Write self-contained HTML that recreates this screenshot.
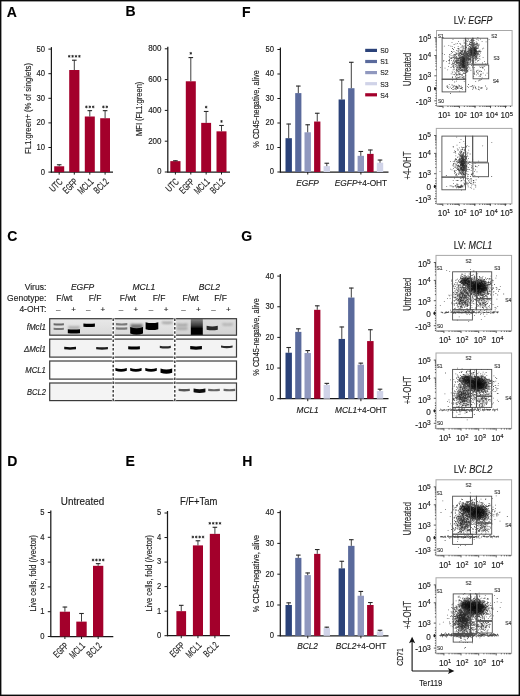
<!DOCTYPE html>
<html><head><meta charset="utf-8"><style>
html,body{margin:0;padding:0;background:#fff}
svg{display:block;will-change:transform}
text{font-family:"Liberation Sans",sans-serif;stroke:#1a1a1a;stroke-width:0.14px}
</style></head><body>
<svg width="520" height="696" viewBox="0 0 520 696">
<defs>
<filter id="bl" x="-20%" y="-50%" width="140%" height="200%"><feGaussianBlur stdDeviation="0.45"/></filter>
<filter id="bl2" x="-20%" y="-50%" width="140%" height="200%"><feGaussianBlur stdDeviation="0.9"/></filter>
</defs>
<rect width="520" height="696" fill="#fff"/>
<text x="6.8" y="16.5" font-size="14" font-weight="bold" fill="#000">A</text>
<text x="125.4" y="16.4" font-size="14" font-weight="bold" fill="#000">B</text>
<text x="242.1" y="16.5" font-size="14" font-weight="bold" fill="#000">F</text>
<text x="7.3" y="240.7" font-size="14" font-weight="bold" fill="#000">C</text>
<text x="241.3" y="240.6" font-size="14" font-weight="bold" fill="#000">G</text>
<text x="7.3" y="465.7" font-size="14" font-weight="bold" fill="#000">D</text>
<text x="125.5" y="465.6" font-size="14" font-weight="bold" fill="#000">E</text>
<text x="242.2" y="465.7" font-size="14" font-weight="bold" fill="#000">H</text>
<line x1="51.4" y1="47.1" x2="51.4" y2="172.6" stroke="#1a1a1a" stroke-width="1.25"/>
<line x1="48.4" y1="172.1" x2="51.4" y2="172.1" stroke="#1a1a1a" stroke-width="1"/>
<text x="45.1" y="174.5" font-size="8.3" text-anchor="end" fill="#1a1a1a" textLength="4.25" lengthAdjust="spacingAndGlyphs">0</text>
<line x1="48.4" y1="147.5" x2="51.4" y2="147.5" stroke="#1a1a1a" stroke-width="1"/>
<text x="45.1" y="149.9" font-size="8.3" text-anchor="end" fill="#1a1a1a" textLength="8.5" lengthAdjust="spacingAndGlyphs">10</text>
<line x1="48.4" y1="122.9" x2="51.4" y2="122.9" stroke="#1a1a1a" stroke-width="1"/>
<text x="45.1" y="125.3" font-size="8.3" text-anchor="end" fill="#1a1a1a" textLength="8.5" lengthAdjust="spacingAndGlyphs">20</text>
<line x1="48.4" y1="98.3" x2="51.4" y2="98.3" stroke="#1a1a1a" stroke-width="1"/>
<text x="45.1" y="100.7" font-size="8.3" text-anchor="end" fill="#1a1a1a" textLength="8.5" lengthAdjust="spacingAndGlyphs">30</text>
<line x1="48.4" y1="73.7" x2="51.4" y2="73.7" stroke="#1a1a1a" stroke-width="1"/>
<text x="45.1" y="76.1" font-size="8.3" text-anchor="end" fill="#1a1a1a" textLength="8.5" lengthAdjust="spacingAndGlyphs">40</text>
<line x1="48.4" y1="49.1" x2="51.4" y2="49.1" stroke="#1a1a1a" stroke-width="1"/>
<text x="45.1" y="51.5" font-size="8.3" text-anchor="end" fill="#1a1a1a" textLength="8.5" lengthAdjust="spacingAndGlyphs">50</text>
<line x1="50.9" y1="172.1" x2="113" y2="172.1" stroke="#1a1a1a" stroke-width="1.25"/>
<rect x="54.2" y="166.29" width="10" height="5.81" fill="#a3002b"/>
<line x1="59.2" y1="164.47" x2="59.2" y2="166.29" stroke="#2a2a2a" stroke-width="0.9"/>
<line x1="56.9" y1="164.77" x2="61.5" y2="164.77" stroke="#2a2a2a" stroke-width="1.1"/>
<line x1="59.2" y1="172.1" x2="59.2" y2="174.6" stroke="#1a1a1a" stroke-width="1"/>
<rect x="69.2" y="70.01" width="10.2" height="102.09" fill="#a3002b"/>
<line x1="74.3" y1="59.92" x2="74.3" y2="70.01" stroke="#2a2a2a" stroke-width="0.9"/>
<line x1="72" y1="60.22" x2="76.6" y2="60.22" stroke="#2a2a2a" stroke-width="1.1"/>
<line x1="74.3" y1="172.1" x2="74.3" y2="174.6" stroke="#1a1a1a" stroke-width="1"/>
<path d="M69.2 54.95v2.7M68.03 55.62l2.34 1.35M68.03 56.97l2.34 -1.35" stroke="#1a1a1a" stroke-width="0.75"/>
<path d="M72.6 54.95v2.7M71.43 55.62l2.34 1.35M71.43 56.97l2.34 -1.35" stroke="#1a1a1a" stroke-width="0.75"/>
<path d="M76 54.95v2.7M74.83 55.62l2.34 1.35M74.83 56.97l2.34 -1.35" stroke="#1a1a1a" stroke-width="0.75"/>
<path d="M79.4 54.95v2.7M78.23 55.62l2.34 1.35M78.23 56.97l2.34 -1.35" stroke="#1a1a1a" stroke-width="0.75"/>
<rect x="84.8" y="116.5" width="10" height="55.6" fill="#a3002b"/>
<line x1="89.8" y1="110.35" x2="89.8" y2="116.5" stroke="#2a2a2a" stroke-width="0.9"/>
<line x1="87.5" y1="110.65" x2="92.1" y2="110.65" stroke="#2a2a2a" stroke-width="1.1"/>
<line x1="89.8" y1="172.1" x2="89.8" y2="174.6" stroke="#1a1a1a" stroke-width="1"/>
<path d="M86.4 105.55v2.7M85.23 106.23l2.34 1.35M85.23 107.58l2.34 -1.35" stroke="#1a1a1a" stroke-width="0.75"/>
<path d="M89.8 105.55v2.7M88.63 106.23l2.34 1.35M88.63 107.58l2.34 -1.35" stroke="#1a1a1a" stroke-width="0.75"/>
<path d="M93.2 105.55v2.7M92.03 106.23l2.34 1.35M92.03 107.58l2.34 -1.35" stroke="#1a1a1a" stroke-width="0.75"/>
<rect x="100.2" y="118.23" width="9.8" height="53.87" fill="#a3002b"/>
<line x1="105.1" y1="110.35" x2="105.1" y2="118.23" stroke="#2a2a2a" stroke-width="0.9"/>
<line x1="102.8" y1="110.65" x2="107.4" y2="110.65" stroke="#2a2a2a" stroke-width="1.1"/>
<line x1="105.1" y1="172.1" x2="105.1" y2="174.6" stroke="#1a1a1a" stroke-width="1"/>
<path d="M103.4 105.55v2.7M102.23 106.23l2.34 1.35M102.23 107.58l2.34 -1.35" stroke="#1a1a1a" stroke-width="0.75"/>
<path d="M106.8 105.55v2.7M105.63 106.23l2.34 1.35M105.63 107.58l2.34 -1.35" stroke="#1a1a1a" stroke-width="0.75"/>
<text x="63.4" y="182.4" font-size="9.8" text-anchor="end" fill="#1a1a1a" transform="rotate(-45 63.4 182.4)" textLength="14.2" lengthAdjust="spacingAndGlyphs">UTC</text>
<text x="78.5" y="182.4" font-size="9.8" text-anchor="end" fill="#1a1a1a" transform="rotate(-45 78.5 182.4)" textLength="16.6" lengthAdjust="spacingAndGlyphs">EGFP</text>
<text x="94" y="182.4" font-size="9.8" text-anchor="end" fill="#1a1a1a" transform="rotate(-45 94 182.4)" textLength="17.6" lengthAdjust="spacingAndGlyphs">MCL1</text>
<text x="109.3" y="182.4" font-size="9.8" text-anchor="end" fill="#1a1a1a" transform="rotate(-45 109.3 182.4)" textLength="16.6" lengthAdjust="spacingAndGlyphs">BCL2</text>
<text x="31.2" y="108.5" font-size="9" text-anchor="middle" fill="#1a1a1a" transform="rotate(-90 31.2 108.5)" textLength="91" lengthAdjust="spacingAndGlyphs">FL1:green+ (% of singlets)</text>
<line x1="167.8" y1="46.8" x2="167.8" y2="172.5" stroke="#1a1a1a" stroke-width="1.25"/>
<line x1="164.8" y1="172" x2="167.8" y2="172" stroke="#1a1a1a" stroke-width="1"/>
<text x="161.5" y="174.4" font-size="8.3" text-anchor="end" fill="#1a1a1a" textLength="4.25" lengthAdjust="spacingAndGlyphs">0</text>
<line x1="164.8" y1="141.2" x2="167.8" y2="141.2" stroke="#1a1a1a" stroke-width="1"/>
<text x="161.5" y="143.6" font-size="8.3" text-anchor="end" fill="#1a1a1a" textLength="13.35" lengthAdjust="spacingAndGlyphs">200</text>
<line x1="164.8" y1="110.4" x2="167.8" y2="110.4" stroke="#1a1a1a" stroke-width="1"/>
<text x="161.5" y="112.8" font-size="8.3" text-anchor="end" fill="#1a1a1a" textLength="13.35" lengthAdjust="spacingAndGlyphs">400</text>
<line x1="164.8" y1="79.6" x2="167.8" y2="79.6" stroke="#1a1a1a" stroke-width="1"/>
<text x="161.5" y="82" font-size="8.3" text-anchor="end" fill="#1a1a1a" textLength="13.35" lengthAdjust="spacingAndGlyphs">600</text>
<line x1="164.8" y1="48.8" x2="167.8" y2="48.8" stroke="#1a1a1a" stroke-width="1"/>
<text x="161.5" y="51.2" font-size="8.3" text-anchor="end" fill="#1a1a1a" textLength="13.35" lengthAdjust="spacingAndGlyphs">800</text>
<line x1="167.3" y1="172" x2="230" y2="172" stroke="#1a1a1a" stroke-width="1.25"/>
<rect x="170.3" y="161.14" width="10.2" height="10.86" fill="#a3002b"/>
<line x1="175.4" y1="160.45" x2="175.4" y2="161.14" stroke="#2a2a2a" stroke-width="0.9"/>
<line x1="173.1" y1="160.75" x2="177.7" y2="160.75" stroke="#2a2a2a" stroke-width="1.1"/>
<line x1="175.4" y1="172" x2="175.4" y2="174.5" stroke="#1a1a1a" stroke-width="1"/>
<rect x="185.8" y="81.29" width="10" height="90.71" fill="#a3002b"/>
<line x1="190.8" y1="57.27" x2="190.8" y2="81.29" stroke="#2a2a2a" stroke-width="0.9"/>
<line x1="188.5" y1="57.57" x2="193.1" y2="57.57" stroke="#2a2a2a" stroke-width="1.1"/>
<line x1="190.8" y1="172" x2="190.8" y2="174.5" stroke="#1a1a1a" stroke-width="1"/>
<path d="M190.8 51.95v2.7M189.63 52.62l2.34 1.35M189.63 53.97l2.34 -1.35" stroke="#1a1a1a" stroke-width="0.75"/>
<rect x="201.2" y="122.87" width="9.9" height="49.13" fill="#a3002b"/>
<line x1="206.15" y1="111.17" x2="206.15" y2="122.87" stroke="#2a2a2a" stroke-width="0.9"/>
<line x1="203.85" y1="111.47" x2="208.45" y2="111.47" stroke="#2a2a2a" stroke-width="1.1"/>
<line x1="206.15" y1="172" x2="206.15" y2="174.5" stroke="#1a1a1a" stroke-width="1"/>
<path d="M206.15 105.75v2.7M204.98 106.42l2.34 1.35M204.98 107.77l2.34 -1.35" stroke="#1a1a1a" stroke-width="0.75"/>
<rect x="216.5" y="131.34" width="10" height="40.66" fill="#a3002b"/>
<line x1="221.5" y1="125.18" x2="221.5" y2="131.34" stroke="#2a2a2a" stroke-width="0.9"/>
<line x1="219.2" y1="125.48" x2="223.8" y2="125.48" stroke="#2a2a2a" stroke-width="1.1"/>
<line x1="221.5" y1="172" x2="221.5" y2="174.5" stroke="#1a1a1a" stroke-width="1"/>
<path d="M221.5 120.05v2.7M220.33 120.73l2.34 1.35M220.33 122.08l2.34 -1.35" stroke="#1a1a1a" stroke-width="0.75"/>
<text x="179.6" y="182.4" font-size="9.8" text-anchor="end" fill="#1a1a1a" transform="rotate(-45 179.6 182.4)" textLength="14.2" lengthAdjust="spacingAndGlyphs">UTC</text>
<text x="195" y="182.4" font-size="9.8" text-anchor="end" fill="#1a1a1a" transform="rotate(-45 195 182.4)" textLength="16.6" lengthAdjust="spacingAndGlyphs">EGFP</text>
<text x="210.35" y="182.4" font-size="9.8" text-anchor="end" fill="#1a1a1a" transform="rotate(-45 210.35 182.4)" textLength="17.6" lengthAdjust="spacingAndGlyphs">MCL1</text>
<text x="225.7" y="182.4" font-size="9.8" text-anchor="end" fill="#1a1a1a" transform="rotate(-45 225.7 182.4)" textLength="16.6" lengthAdjust="spacingAndGlyphs">BCL2</text>
<text x="142.2" y="108.8" font-size="9" text-anchor="middle" fill="#1a1a1a" transform="rotate(-90 142.2 108.8)" textLength="54.3" lengthAdjust="spacingAndGlyphs">MFI (FL1:green)</text>
<text x="82.5" y="505.2" font-size="10" text-anchor="middle" fill="#1a1a1a" textLength="43.4" lengthAdjust="spacingAndGlyphs">Untreated</text>
<line x1="50.8" y1="510.5" x2="50.8" y2="637" stroke="#1a1a1a" stroke-width="1.25"/>
<line x1="47.8" y1="636.5" x2="50.8" y2="636.5" stroke="#1a1a1a" stroke-width="1"/>
<text x="44.5" y="638.9" font-size="8.3" text-anchor="end" fill="#1a1a1a" textLength="4.25" lengthAdjust="spacingAndGlyphs">0</text>
<line x1="47.8" y1="611.7" x2="50.8" y2="611.7" stroke="#1a1a1a" stroke-width="1"/>
<text x="44.5" y="614.1" font-size="8.3" text-anchor="end" fill="#1a1a1a" textLength="4.25" lengthAdjust="spacingAndGlyphs">1</text>
<line x1="47.8" y1="586.9" x2="50.8" y2="586.9" stroke="#1a1a1a" stroke-width="1"/>
<text x="44.5" y="589.3" font-size="8.3" text-anchor="end" fill="#1a1a1a" textLength="4.25" lengthAdjust="spacingAndGlyphs">2</text>
<line x1="47.8" y1="562.1" x2="50.8" y2="562.1" stroke="#1a1a1a" stroke-width="1"/>
<text x="44.5" y="564.5" font-size="8.3" text-anchor="end" fill="#1a1a1a" textLength="4.25" lengthAdjust="spacingAndGlyphs">3</text>
<line x1="47.8" y1="537.3" x2="50.8" y2="537.3" stroke="#1a1a1a" stroke-width="1"/>
<text x="44.5" y="539.7" font-size="8.3" text-anchor="end" fill="#1a1a1a" textLength="4.25" lengthAdjust="spacingAndGlyphs">4</text>
<line x1="47.8" y1="512.5" x2="50.8" y2="512.5" stroke="#1a1a1a" stroke-width="1"/>
<text x="44.5" y="514.9" font-size="8.3" text-anchor="end" fill="#1a1a1a" textLength="4.25" lengthAdjust="spacingAndGlyphs">5</text>
<line x1="50.3" y1="636.5" x2="113.3" y2="636.5" stroke="#1a1a1a" stroke-width="1.25"/>
<rect x="59.8" y="611.7" width="10.2" height="24.8" fill="#a3002b"/>
<line x1="64.9" y1="606.74" x2="64.9" y2="611.7" stroke="#2a2a2a" stroke-width="0.9"/>
<line x1="62.6" y1="607.04" x2="67.2" y2="607.04" stroke="#2a2a2a" stroke-width="1.1"/>
<line x1="64.9" y1="636.5" x2="64.9" y2="639" stroke="#1a1a1a" stroke-width="1"/>
<rect x="76.3" y="621.62" width="10.4" height="14.88" fill="#a3002b"/>
<line x1="81.5" y1="613.19" x2="81.5" y2="621.62" stroke="#2a2a2a" stroke-width="0.9"/>
<line x1="79.2" y1="613.49" x2="83.8" y2="613.49" stroke="#2a2a2a" stroke-width="1.1"/>
<line x1="81.5" y1="636.5" x2="81.5" y2="639" stroke="#1a1a1a" stroke-width="1"/>
<rect x="93" y="565.82" width="10.3" height="70.68" fill="#a3002b"/>
<line x1="98.15" y1="563.34" x2="98.15" y2="565.82" stroke="#2a2a2a" stroke-width="0.9"/>
<line x1="95.85" y1="563.64" x2="100.45" y2="563.64" stroke="#2a2a2a" stroke-width="1.1"/>
<line x1="98.15" y1="636.5" x2="98.15" y2="639" stroke="#1a1a1a" stroke-width="1"/>
<path d="M93.05 558.65v2.7M91.88 559.33l2.34 1.35M91.88 560.67l2.34 -1.35" stroke="#1a1a1a" stroke-width="0.75"/>
<path d="M96.45 558.65v2.7M95.28 559.33l2.34 1.35M95.28 560.67l2.34 -1.35" stroke="#1a1a1a" stroke-width="0.75"/>
<path d="M99.85 558.65v2.7M98.68 559.33l2.34 1.35M98.68 560.67l2.34 -1.35" stroke="#1a1a1a" stroke-width="0.75"/>
<path d="M103.25 558.65v2.7M102.08 559.33l2.34 1.35M102.08 560.67l2.34 -1.35" stroke="#1a1a1a" stroke-width="0.75"/>
<text x="69.1" y="646.5" font-size="9.8" text-anchor="end" fill="#1a1a1a" transform="rotate(-45 69.1 646.5)" textLength="16.6" lengthAdjust="spacingAndGlyphs">EGFP</text>
<text x="85.7" y="646.5" font-size="9.8" text-anchor="end" fill="#1a1a1a" transform="rotate(-45 85.7 646.5)" textLength="17.6" lengthAdjust="spacingAndGlyphs">MCL1</text>
<text x="102.35" y="646.5" font-size="9.8" text-anchor="end" fill="#1a1a1a" transform="rotate(-45 102.35 646.5)" textLength="16.6" lengthAdjust="spacingAndGlyphs">BCL2</text>
<text x="36.2" y="573.3" font-size="9" text-anchor="middle" fill="#1a1a1a" transform="rotate(-90 36.2 573.3)" textLength="76.6" lengthAdjust="spacingAndGlyphs">Live cells, fold (/vector)</text>
<text x="198.7" y="504.5" font-size="10" text-anchor="middle" fill="#1a1a1a" textLength="37.5" lengthAdjust="spacingAndGlyphs">F/F+Tam</text>
<line x1="167.5" y1="511" x2="167.5" y2="636.2" stroke="#1a1a1a" stroke-width="1.25"/>
<line x1="164.5" y1="635.7" x2="167.5" y2="635.7" stroke="#1a1a1a" stroke-width="1"/>
<text x="161.2" y="638.1" font-size="8.3" text-anchor="end" fill="#1a1a1a" textLength="4.25" lengthAdjust="spacingAndGlyphs">0</text>
<line x1="164.5" y1="611.16" x2="167.5" y2="611.16" stroke="#1a1a1a" stroke-width="1"/>
<text x="161.2" y="613.56" font-size="8.3" text-anchor="end" fill="#1a1a1a" textLength="4.25" lengthAdjust="spacingAndGlyphs">1</text>
<line x1="164.5" y1="586.62" x2="167.5" y2="586.62" stroke="#1a1a1a" stroke-width="1"/>
<text x="161.2" y="589.02" font-size="8.3" text-anchor="end" fill="#1a1a1a" textLength="4.25" lengthAdjust="spacingAndGlyphs">2</text>
<line x1="164.5" y1="562.08" x2="167.5" y2="562.08" stroke="#1a1a1a" stroke-width="1"/>
<text x="161.2" y="564.48" font-size="8.3" text-anchor="end" fill="#1a1a1a" textLength="4.25" lengthAdjust="spacingAndGlyphs">3</text>
<line x1="164.5" y1="537.54" x2="167.5" y2="537.54" stroke="#1a1a1a" stroke-width="1"/>
<text x="161.2" y="539.94" font-size="8.3" text-anchor="end" fill="#1a1a1a" textLength="4.25" lengthAdjust="spacingAndGlyphs">4</text>
<line x1="164.5" y1="513" x2="167.5" y2="513" stroke="#1a1a1a" stroke-width="1"/>
<text x="161.2" y="515.4" font-size="8.3" text-anchor="end" fill="#1a1a1a" textLength="4.25" lengthAdjust="spacingAndGlyphs">5</text>
<line x1="167" y1="635.7" x2="229.9" y2="635.7" stroke="#1a1a1a" stroke-width="1.25"/>
<rect x="176.4" y="611.16" width="9.7" height="24.54" fill="#a3002b"/>
<line x1="181.25" y1="605.03" x2="181.25" y2="611.16" stroke="#2a2a2a" stroke-width="0.9"/>
<line x1="178.95" y1="605.33" x2="183.55" y2="605.33" stroke="#2a2a2a" stroke-width="1.1"/>
<line x1="181.25" y1="635.7" x2="181.25" y2="638.2" stroke="#1a1a1a" stroke-width="1"/>
<rect x="192.9" y="545.39" width="10.1" height="90.31" fill="#a3002b"/>
<line x1="197.95" y1="540.48" x2="197.95" y2="545.39" stroke="#2a2a2a" stroke-width="0.9"/>
<line x1="195.65" y1="540.78" x2="200.25" y2="540.78" stroke="#2a2a2a" stroke-width="1.1"/>
<line x1="197.95" y1="635.7" x2="197.95" y2="638.2" stroke="#1a1a1a" stroke-width="1"/>
<path d="M192.85 535.65v2.7M191.68 536.33l2.34 1.35M191.68 537.67l2.34 -1.35" stroke="#1a1a1a" stroke-width="0.75"/>
<path d="M196.25 535.65v2.7M195.08 536.33l2.34 1.35M195.08 537.67l2.34 -1.35" stroke="#1a1a1a" stroke-width="0.75"/>
<path d="M199.65 535.65v2.7M198.48 536.33l2.34 1.35M198.48 537.67l2.34 -1.35" stroke="#1a1a1a" stroke-width="0.75"/>
<path d="M203.05 535.65v2.7M201.88 536.33l2.34 1.35M201.88 537.67l2.34 -1.35" stroke="#1a1a1a" stroke-width="0.75"/>
<rect x="209.8" y="533.86" width="10.2" height="101.84" fill="#a3002b"/>
<line x1="214.9" y1="526.99" x2="214.9" y2="533.86" stroke="#2a2a2a" stroke-width="0.9"/>
<line x1="212.6" y1="527.29" x2="217.2" y2="527.29" stroke="#2a2a2a" stroke-width="1.1"/>
<line x1="214.9" y1="635.7" x2="214.9" y2="638.2" stroke="#1a1a1a" stroke-width="1"/>
<path d="M209.8 521.95v2.7M208.63 522.62l2.34 1.35M208.63 523.97l2.34 -1.35" stroke="#1a1a1a" stroke-width="0.75"/>
<path d="M213.2 521.95v2.7M212.03 522.62l2.34 1.35M212.03 523.97l2.34 -1.35" stroke="#1a1a1a" stroke-width="0.75"/>
<path d="M216.6 521.95v2.7M215.43 522.62l2.34 1.35M215.43 523.97l2.34 -1.35" stroke="#1a1a1a" stroke-width="0.75"/>
<path d="M220 521.95v2.7M218.83 522.62l2.34 1.35M218.83 523.97l2.34 -1.35" stroke="#1a1a1a" stroke-width="0.75"/>
<text x="185.45" y="646" font-size="9.8" text-anchor="end" fill="#1a1a1a" transform="rotate(-45 185.45 646)" textLength="16.6" lengthAdjust="spacingAndGlyphs">EGFP</text>
<text x="202.15" y="646" font-size="9.8" text-anchor="end" fill="#1a1a1a" transform="rotate(-45 202.15 646)" textLength="17.6" lengthAdjust="spacingAndGlyphs">MCL1</text>
<text x="219.1" y="646" font-size="9.8" text-anchor="end" fill="#1a1a1a" transform="rotate(-45 219.1 646)" textLength="16.6" lengthAdjust="spacingAndGlyphs">BCL2</text>
<text x="152.3" y="573.3" font-size="9" text-anchor="middle" fill="#1a1a1a" transform="rotate(-90 152.3 573.3)" textLength="76.6" lengthAdjust="spacingAndGlyphs">Live cells, fold (/vector)</text>
<line x1="280.4" y1="47.5" x2="280.4" y2="172.5" stroke="#1a1a1a" stroke-width="1.25"/>
<line x1="277.4" y1="172" x2="280.4" y2="172" stroke="#1a1a1a" stroke-width="1"/>
<text x="274.1" y="174.4" font-size="8.3" text-anchor="end" fill="#1a1a1a" textLength="4.25" lengthAdjust="spacingAndGlyphs">0</text>
<line x1="277.4" y1="147.5" x2="280.4" y2="147.5" stroke="#1a1a1a" stroke-width="1"/>
<text x="274.1" y="149.9" font-size="8.3" text-anchor="end" fill="#1a1a1a" textLength="8.5" lengthAdjust="spacingAndGlyphs">10</text>
<line x1="277.4" y1="123" x2="280.4" y2="123" stroke="#1a1a1a" stroke-width="1"/>
<text x="274.1" y="125.4" font-size="8.3" text-anchor="end" fill="#1a1a1a" textLength="8.5" lengthAdjust="spacingAndGlyphs">20</text>
<line x1="277.4" y1="98.5" x2="280.4" y2="98.5" stroke="#1a1a1a" stroke-width="1"/>
<text x="274.1" y="100.9" font-size="8.3" text-anchor="end" fill="#1a1a1a" textLength="8.5" lengthAdjust="spacingAndGlyphs">30</text>
<line x1="277.4" y1="74" x2="280.4" y2="74" stroke="#1a1a1a" stroke-width="1"/>
<text x="274.1" y="76.4" font-size="8.3" text-anchor="end" fill="#1a1a1a" textLength="8.5" lengthAdjust="spacingAndGlyphs">40</text>
<line x1="277.4" y1="49.5" x2="280.4" y2="49.5" stroke="#1a1a1a" stroke-width="1"/>
<text x="274.1" y="51.9" font-size="8.3" text-anchor="end" fill="#1a1a1a" textLength="8.5" lengthAdjust="spacingAndGlyphs">50</text>
<line x1="279.9" y1="172" x2="388.5" y2="172" stroke="#1a1a1a" stroke-width="1.25"/>
<rect x="285.5" y="138.19" width="6.4" height="33.81" fill="#2b4279"/>
<line x1="288.7" y1="123.73" x2="288.7" y2="138.19" stroke="#2a2a2a" stroke-width="0.9"/>
<line x1="286.4" y1="124.03" x2="291" y2="124.03" stroke="#2a2a2a" stroke-width="1.1"/>
<rect x="295.2" y="93.11" width="6.2" height="78.89" fill="#5a6a9c"/>
<line x1="298.3" y1="85.76" x2="298.3" y2="93.11" stroke="#2a2a2a" stroke-width="0.9"/>
<line x1="296" y1="86.06" x2="300.6" y2="86.06" stroke="#2a2a2a" stroke-width="1.1"/>
<rect x="304.5" y="132.31" width="6.4" height="39.69" fill="#9098bf"/>
<line x1="307.7" y1="124.47" x2="307.7" y2="132.31" stroke="#2a2a2a" stroke-width="0.9"/>
<line x1="305.4" y1="124.77" x2="310" y2="124.77" stroke="#2a2a2a" stroke-width="1.1"/>
<rect x="314.1" y="121.53" width="6.3" height="50.47" fill="#a3002b"/>
<line x1="317.25" y1="112.95" x2="317.25" y2="121.53" stroke="#2a2a2a" stroke-width="0.9"/>
<line x1="314.95" y1="113.25" x2="319.55" y2="113.25" stroke="#2a2a2a" stroke-width="1.1"/>
<rect x="323.6" y="166.12" width="6.4" height="5.88" fill="#d0d3e8"/>
<line x1="326.8" y1="162.94" x2="326.8" y2="166.12" stroke="#2a2a2a" stroke-width="0.9"/>
<line x1="324.5" y1="163.24" x2="329.1" y2="163.24" stroke="#2a2a2a" stroke-width="1.1"/>
<line x1="307.75" y1="172" x2="307.75" y2="174.5" stroke="#1a1a1a" stroke-width="1"/>
<rect x="338.6" y="99.48" width="6.4" height="72.52" fill="#2b4279"/>
<line x1="341.8" y1="79.63" x2="341.8" y2="99.48" stroke="#2a2a2a" stroke-width="0.9"/>
<line x1="339.5" y1="79.93" x2="344.1" y2="79.93" stroke="#2a2a2a" stroke-width="1.1"/>
<rect x="348.1" y="88.21" width="6.4" height="83.79" fill="#5a6a9c"/>
<line x1="351.3" y1="61.99" x2="351.3" y2="88.21" stroke="#2a2a2a" stroke-width="0.9"/>
<line x1="349" y1="62.29" x2="353.6" y2="62.29" stroke="#2a2a2a" stroke-width="1.1"/>
<rect x="357.6" y="155.83" width="6.4" height="16.17" fill="#9098bf"/>
<line x1="360.8" y1="151.18" x2="360.8" y2="155.83" stroke="#2a2a2a" stroke-width="0.9"/>
<line x1="358.5" y1="151.48" x2="363.1" y2="151.48" stroke="#2a2a2a" stroke-width="1.1"/>
<rect x="367.1" y="153.87" width="6.5" height="18.13" fill="#a3002b"/>
<line x1="370.35" y1="149.7" x2="370.35" y2="153.87" stroke="#2a2a2a" stroke-width="0.9"/>
<line x1="368.05" y1="150" x2="372.65" y2="150" stroke="#2a2a2a" stroke-width="1.1"/>
<rect x="376.8" y="162.69" width="6.4" height="9.31" fill="#d0d3e8"/>
<line x1="380" y1="159.75" x2="380" y2="162.69" stroke="#2a2a2a" stroke-width="0.9"/>
<line x1="377.7" y1="160.05" x2="382.3" y2="160.05" stroke="#2a2a2a" stroke-width="1.1"/>
<line x1="360.9" y1="172" x2="360.9" y2="174.5" stroke="#1a1a1a" stroke-width="1"/>
<text x="307.6" y="185.5" font-size="8.3" text-anchor="middle" font-style="italic" fill="#1a1a1a">EGFP</text>
<text x="361" y="185.5" font-size="8.3" text-anchor="middle" fill="#1a1a1a"><tspan font-style="italic">EGFP</tspan>+4-OHT</text>
<text x="259.2" y="108.9" font-size="9" text-anchor="middle" fill="#1a1a1a" transform="rotate(-90 259.2 108.9)" textLength="77.5" lengthAdjust="spacingAndGlyphs">% CD45-negative, alive</text>
<line x1="280.3" y1="274.1" x2="280.3" y2="399.2" stroke="#1a1a1a" stroke-width="1.25"/>
<line x1="277.3" y1="398.7" x2="280.3" y2="398.7" stroke="#1a1a1a" stroke-width="1"/>
<text x="274" y="401.1" font-size="8.3" text-anchor="end" fill="#1a1a1a" textLength="4.25" lengthAdjust="spacingAndGlyphs">0</text>
<line x1="277.3" y1="368.05" x2="280.3" y2="368.05" stroke="#1a1a1a" stroke-width="1"/>
<text x="274" y="370.45" font-size="8.3" text-anchor="end" fill="#1a1a1a" textLength="8.5" lengthAdjust="spacingAndGlyphs">10</text>
<line x1="277.3" y1="337.4" x2="280.3" y2="337.4" stroke="#1a1a1a" stroke-width="1"/>
<text x="274" y="339.8" font-size="8.3" text-anchor="end" fill="#1a1a1a" textLength="8.5" lengthAdjust="spacingAndGlyphs">20</text>
<line x1="277.3" y1="306.75" x2="280.3" y2="306.75" stroke="#1a1a1a" stroke-width="1"/>
<text x="274" y="309.15" font-size="8.3" text-anchor="end" fill="#1a1a1a" textLength="8.5" lengthAdjust="spacingAndGlyphs">30</text>
<line x1="277.3" y1="276.1" x2="280.3" y2="276.1" stroke="#1a1a1a" stroke-width="1"/>
<text x="274" y="278.5" font-size="8.3" text-anchor="end" fill="#1a1a1a" textLength="8.5" lengthAdjust="spacingAndGlyphs">40</text>
<line x1="279.8" y1="398.7" x2="388.5" y2="398.7" stroke="#1a1a1a" stroke-width="1.25"/>
<rect x="285.5" y="352.72" width="6.4" height="45.98" fill="#2b4279"/>
<line x1="288.7" y1="347.21" x2="288.7" y2="352.72" stroke="#2a2a2a" stroke-width="0.9"/>
<line x1="286.4" y1="347.51" x2="291" y2="347.51" stroke="#2a2a2a" stroke-width="1.1"/>
<rect x="295.2" y="331.88" width="6.2" height="66.82" fill="#5a6a9c"/>
<line x1="298.3" y1="328.51" x2="298.3" y2="331.88" stroke="#2a2a2a" stroke-width="0.9"/>
<line x1="296" y1="328.81" x2="300.6" y2="328.81" stroke="#2a2a2a" stroke-width="1.1"/>
<rect x="304.5" y="353.03" width="6.4" height="45.67" fill="#9098bf"/>
<line x1="307.7" y1="350.27" x2="307.7" y2="353.03" stroke="#2a2a2a" stroke-width="0.9"/>
<line x1="305.4" y1="350.57" x2="310" y2="350.57" stroke="#2a2a2a" stroke-width="1.1"/>
<rect x="314.1" y="309.81" width="6.3" height="88.88" fill="#a3002b"/>
<line x1="317.25" y1="305.52" x2="317.25" y2="309.81" stroke="#2a2a2a" stroke-width="0.9"/>
<line x1="314.95" y1="305.82" x2="319.55" y2="305.82" stroke="#2a2a2a" stroke-width="1.1"/>
<rect x="323.6" y="384.91" width="6.4" height="13.79" fill="#d0d3e8"/>
<line x1="326.8" y1="383.07" x2="326.8" y2="384.91" stroke="#2a2a2a" stroke-width="0.9"/>
<line x1="324.5" y1="383.37" x2="329.1" y2="383.37" stroke="#2a2a2a" stroke-width="1.1"/>
<line x1="307.75" y1="398.7" x2="307.75" y2="401.2" stroke="#1a1a1a" stroke-width="1"/>
<rect x="338.6" y="338.93" width="6.4" height="59.77" fill="#2b4279"/>
<line x1="341.8" y1="326.67" x2="341.8" y2="338.93" stroke="#2a2a2a" stroke-width="0.9"/>
<line x1="339.5" y1="326.97" x2="344.1" y2="326.97" stroke="#2a2a2a" stroke-width="1.1"/>
<rect x="348.1" y="297.56" width="6.4" height="101.14" fill="#5a6a9c"/>
<line x1="351.3" y1="287.75" x2="351.3" y2="297.56" stroke="#2a2a2a" stroke-width="0.9"/>
<line x1="349" y1="288.05" x2="353.6" y2="288.05" stroke="#2a2a2a" stroke-width="1.1"/>
<rect x="357.6" y="364.68" width="6.4" height="34.02" fill="#9098bf"/>
<line x1="360.8" y1="362.84" x2="360.8" y2="364.68" stroke="#2a2a2a" stroke-width="0.9"/>
<line x1="358.5" y1="363.14" x2="363.1" y2="363.14" stroke="#2a2a2a" stroke-width="1.1"/>
<rect x="367.1" y="341.08" width="6.5" height="57.62" fill="#a3002b"/>
<line x1="370.35" y1="329.43" x2="370.35" y2="341.08" stroke="#2a2a2a" stroke-width="0.9"/>
<line x1="368.05" y1="329.73" x2="372.65" y2="329.73" stroke="#2a2a2a" stroke-width="1.1"/>
<rect x="376.8" y="391.04" width="6.4" height="7.66" fill="#d0d3e8"/>
<line x1="380" y1="388.89" x2="380" y2="391.04" stroke="#2a2a2a" stroke-width="0.9"/>
<line x1="377.7" y1="389.19" x2="382.3" y2="389.19" stroke="#2a2a2a" stroke-width="1.1"/>
<line x1="360.9" y1="398.7" x2="360.9" y2="401.2" stroke="#1a1a1a" stroke-width="1"/>
<text x="307.6" y="413.3" font-size="8.3" text-anchor="middle" font-style="italic" fill="#1a1a1a">MCL1</text>
<text x="361" y="413.3" font-size="8.3" text-anchor="middle" fill="#1a1a1a"><tspan font-style="italic">MCL1</tspan>+4-OHT</text>
<text x="259.2" y="336.9" font-size="9" text-anchor="middle" fill="#1a1a1a" transform="rotate(-90 259.2 336.9)" textLength="77.5" lengthAdjust="spacingAndGlyphs">% CD45-negative, alive</text>
<line x1="280.3" y1="510.6" x2="280.3" y2="636.3" stroke="#1a1a1a" stroke-width="1.25"/>
<line x1="277.3" y1="635.8" x2="280.3" y2="635.8" stroke="#1a1a1a" stroke-width="1"/>
<text x="274" y="638.2" font-size="8.3" text-anchor="end" fill="#1a1a1a" textLength="4.25" lengthAdjust="spacingAndGlyphs">0</text>
<line x1="277.3" y1="605" x2="280.3" y2="605" stroke="#1a1a1a" stroke-width="1"/>
<text x="274" y="607.4" font-size="8.3" text-anchor="end" fill="#1a1a1a" textLength="8.5" lengthAdjust="spacingAndGlyphs">10</text>
<line x1="277.3" y1="574.2" x2="280.3" y2="574.2" stroke="#1a1a1a" stroke-width="1"/>
<text x="274" y="576.6" font-size="8.3" text-anchor="end" fill="#1a1a1a" textLength="8.5" lengthAdjust="spacingAndGlyphs">20</text>
<line x1="277.3" y1="543.4" x2="280.3" y2="543.4" stroke="#1a1a1a" stroke-width="1"/>
<text x="274" y="545.8" font-size="8.3" text-anchor="end" fill="#1a1a1a" textLength="8.5" lengthAdjust="spacingAndGlyphs">30</text>
<line x1="277.3" y1="512.6" x2="280.3" y2="512.6" stroke="#1a1a1a" stroke-width="1"/>
<text x="274" y="515" font-size="8.3" text-anchor="end" fill="#1a1a1a" textLength="8.5" lengthAdjust="spacingAndGlyphs">40</text>
<line x1="279.8" y1="635.8" x2="388.5" y2="635.8" stroke="#1a1a1a" stroke-width="1.25"/>
<rect x="285.5" y="605" width="6.4" height="30.8" fill="#2b4279"/>
<line x1="288.7" y1="602.54" x2="288.7" y2="605" stroke="#2a2a2a" stroke-width="0.9"/>
<line x1="286.4" y1="602.84" x2="291" y2="602.84" stroke="#2a2a2a" stroke-width="1.1"/>
<rect x="295.2" y="557.88" width="6.2" height="77.92" fill="#5a6a9c"/>
<line x1="298.3" y1="554.8" x2="298.3" y2="557.88" stroke="#2a2a2a" stroke-width="0.9"/>
<line x1="296" y1="555.1" x2="300.6" y2="555.1" stroke="#2a2a2a" stroke-width="1.1"/>
<rect x="304.5" y="575.12" width="6.4" height="60.68" fill="#9098bf"/>
<line x1="307.7" y1="572.66" x2="307.7" y2="575.12" stroke="#2a2a2a" stroke-width="0.9"/>
<line x1="305.4" y1="572.96" x2="310" y2="572.96" stroke="#2a2a2a" stroke-width="1.1"/>
<rect x="314.1" y="553.87" width="6.3" height="81.93" fill="#a3002b"/>
<line x1="317.25" y1="549.25" x2="317.25" y2="553.87" stroke="#2a2a2a" stroke-width="0.9"/>
<line x1="314.95" y1="549.55" x2="319.55" y2="549.55" stroke="#2a2a2a" stroke-width="1.1"/>
<rect x="323.6" y="628.1" width="6.4" height="7.7" fill="#d0d3e8"/>
<line x1="326.8" y1="626.87" x2="326.8" y2="628.1" stroke="#2a2a2a" stroke-width="0.9"/>
<line x1="324.5" y1="627.17" x2="329.1" y2="627.17" stroke="#2a2a2a" stroke-width="1.1"/>
<line x1="307.75" y1="635.8" x2="307.75" y2="638.3" stroke="#1a1a1a" stroke-width="1"/>
<rect x="338.6" y="568.35" width="6.4" height="67.45" fill="#2b4279"/>
<line x1="341.8" y1="560.96" x2="341.8" y2="568.35" stroke="#2a2a2a" stroke-width="0.9"/>
<line x1="339.5" y1="561.26" x2="344.1" y2="561.26" stroke="#2a2a2a" stroke-width="1.1"/>
<rect x="348.1" y="545.86" width="6.4" height="89.94" fill="#5a6a9c"/>
<line x1="351.3" y1="539.4" x2="351.3" y2="545.86" stroke="#2a2a2a" stroke-width="0.9"/>
<line x1="349" y1="539.7" x2="353.6" y2="539.7" stroke="#2a2a2a" stroke-width="1.1"/>
<rect x="357.6" y="595.76" width="6.4" height="40.04" fill="#9098bf"/>
<line x1="360.8" y1="591.14" x2="360.8" y2="595.76" stroke="#2a2a2a" stroke-width="0.9"/>
<line x1="358.5" y1="591.44" x2="363.1" y2="591.44" stroke="#2a2a2a" stroke-width="1.1"/>
<rect x="367.1" y="605" width="6.5" height="30.8" fill="#a3002b"/>
<line x1="370.35" y1="602.23" x2="370.35" y2="605" stroke="#2a2a2a" stroke-width="0.9"/>
<line x1="368.05" y1="602.53" x2="372.65" y2="602.53" stroke="#2a2a2a" stroke-width="1.1"/>
<rect x="376.8" y="631.49" width="6.4" height="4.31" fill="#d0d3e8"/>
<line x1="380" y1="629.95" x2="380" y2="631.49" stroke="#2a2a2a" stroke-width="0.9"/>
<line x1="377.7" y1="630.25" x2="382.3" y2="630.25" stroke="#2a2a2a" stroke-width="1.1"/>
<line x1="360.9" y1="635.8" x2="360.9" y2="638.3" stroke="#1a1a1a" stroke-width="1"/>
<text x="307.6" y="648.5" font-size="8.3" text-anchor="middle" font-style="italic" fill="#1a1a1a">BCL2</text>
<text x="361" y="648.5" font-size="8.3" text-anchor="middle" fill="#1a1a1a"><tspan font-style="italic">BCL2</tspan>+4-OHT</text>
<text x="259.2" y="573.5" font-size="9" text-anchor="middle" fill="#1a1a1a" transform="rotate(-90 259.2 573.5)" textLength="77.5" lengthAdjust="spacingAndGlyphs">% CD45-negative, alive</text>
<rect x="365.2" y="48.8" width="11.8" height="3.2" fill="#2b4279"/>
<text x="380.2" y="53.2" font-size="8" fill="#1a1a1a" textLength="8.4" lengthAdjust="spacingAndGlyphs">S0</text>
<rect x="365.2" y="59.9" width="11.8" height="3.2" fill="#5a6a9c"/>
<text x="380.2" y="64.3" font-size="8" fill="#1a1a1a" textLength="8.4" lengthAdjust="spacingAndGlyphs">S1</text>
<rect x="365.2" y="71" width="11.8" height="3.2" fill="#9098bf"/>
<text x="380.2" y="75.4" font-size="8" fill="#1a1a1a" textLength="8.4" lengthAdjust="spacingAndGlyphs">S2</text>
<rect x="365.2" y="82.1" width="11.8" height="3.2" fill="#d0d3e8"/>
<text x="380.2" y="86.5" font-size="8" fill="#1a1a1a" textLength="8.4" lengthAdjust="spacingAndGlyphs">S3</text>
<rect x="365.2" y="93.2" width="11.8" height="3.2" fill="#a3002b"/>
<text x="380.2" y="97.6" font-size="8" fill="#1a1a1a" textLength="8.4" lengthAdjust="spacingAndGlyphs">S4</text>
<text x="46.3" y="289.6" font-size="8.5" text-anchor="end" fill="#1a1a1a">Virus:</text>
<text x="46.3" y="301.3" font-size="8.5" text-anchor="end" fill="#1a1a1a">Genotype:</text>
<text x="46.3" y="312.1" font-size="8.5" text-anchor="end" fill="#1a1a1a">4-OHT:</text>
<text x="82.5" y="289.6" font-size="8.5" text-anchor="middle" font-style="italic" fill="#1a1a1a">EGFP</text>
<text x="143.8" y="289.6" font-size="8.5" text-anchor="middle" font-style="italic" fill="#1a1a1a">MCL1</text>
<text x="209.3" y="289.6" font-size="8.5" text-anchor="middle" font-style="italic" fill="#1a1a1a">BCL2</text>
<text x="64.3" y="301.3" font-size="8.5" text-anchor="middle" fill="#1a1a1a">F/wt</text>
<text x="95" y="301.3" font-size="8.5" text-anchor="middle" fill="#1a1a1a">F/F</text>
<text x="127.9" y="301.3" font-size="8.5" text-anchor="middle" fill="#1a1a1a">F/wt</text>
<text x="159" y="301.3" font-size="8.5" text-anchor="middle" fill="#1a1a1a">F/F</text>
<text x="190.6" y="301.3" font-size="8.5" text-anchor="middle" fill="#1a1a1a">F/wt</text>
<text x="220.5" y="301.3" font-size="8.5" text-anchor="middle" fill="#1a1a1a">F/F</text>
<text x="58.2" y="312.1" font-size="8" text-anchor="middle" fill="#1a1a1a">–</text>
<text x="73.5" y="312.1" font-size="8" text-anchor="middle" fill="#1a1a1a">+</text>
<text x="88.2" y="312.1" font-size="8" text-anchor="middle" fill="#1a1a1a">–</text>
<text x="102.8" y="312.1" font-size="8" text-anchor="middle" fill="#1a1a1a">+</text>
<text x="120.9" y="312.1" font-size="8" text-anchor="middle" fill="#1a1a1a">–</text>
<text x="135.9" y="312.1" font-size="8" text-anchor="middle" fill="#1a1a1a">+</text>
<text x="150.9" y="312.1" font-size="8" text-anchor="middle" fill="#1a1a1a">–</text>
<text x="166.1" y="312.1" font-size="8" text-anchor="middle" fill="#1a1a1a">+</text>
<text x="183.6" y="312.1" font-size="8" text-anchor="middle" fill="#1a1a1a">–</text>
<text x="198.3" y="312.1" font-size="8" text-anchor="middle" fill="#1a1a1a">+</text>
<text x="213.4" y="312.1" font-size="8" text-anchor="middle" fill="#1a1a1a">–</text>
<text x="228.3" y="312.1" font-size="8" text-anchor="middle" fill="#1a1a1a">+</text>
<text x="45.9" y="330.3" font-size="8.5" text-anchor="end" font-style="italic" fill="#1a1a1a" textLength="19.2" lengthAdjust="spacingAndGlyphs">fMcl1</text>
<text x="45.9" y="351.5" font-size="8.5" text-anchor="end" font-style="italic" fill="#1a1a1a" textLength="22" lengthAdjust="spacingAndGlyphs">ΔMcl1</text>
<text x="45.9" y="373" font-size="8.5" text-anchor="end" font-style="italic" fill="#1a1a1a" textLength="20.6" lengthAdjust="spacingAndGlyphs">MCL1</text>
<text x="45.9" y="395.1" font-size="8.5" text-anchor="end" font-style="italic" fill="#1a1a1a" textLength="18.8" lengthAdjust="spacingAndGlyphs">BCL2</text>
<defs><linearGradient id="g1" x1="0" y1="0" x2="0" y2="1"><stop offset="0" stop-color="#e8e8e8"/><stop offset="0.45" stop-color="#e2e2e2"/><stop offset="1" stop-color="#d9d9d9"/></linearGradient><linearGradient id="g1b" x1="0" y1="0" x2="0" y2="1"><stop offset="0" stop-color="#dcdcdc"/><stop offset="0.5" stop-color="#d8d8d8"/><stop offset="1" stop-color="#d2d2d2"/></linearGradient><linearGradient id="sm" x1="0" y1="0" x2="0" y2="1"><stop offset="0" stop-color="#000" stop-opacity="0.15"/><stop offset="1" stop-color="#000" stop-opacity="0.8"/></linearGradient><filter id="bb" x="-30%" y="-80%" width="160%" height="260%"><feGaussianBlur stdDeviation="0.55"/></filter><filter id="bb2" x="-30%" y="-80%" width="160%" height="260%"><feGaussianBlur stdDeviation="1.0"/></filter><linearGradient id="bl2g" x1="0" y1="0" x2="0" y2="1"><stop offset="0" stop-color="#8a8a8a"/><stop offset="0.45" stop-color="#333"/><stop offset="0.6" stop-color="#000"/><stop offset="1" stop-color="#000"/></linearGradient></defs>
<rect x="49.7" y="318.7" width="63.6" height="16.5" fill="url(#g1)"/>
<rect x="113.3" y="318.7" width="61.5" height="16.5" fill="url(#g1)"/>
<rect x="174.8" y="318.7" width="61.7" height="16.5" fill="url(#g1b)"/>
<rect x="49.7" y="339.1" width="186.8" height="18" fill="#f3f3f3"/>
<rect x="49.7" y="361" width="186.8" height="18.1" fill="#fdfdfd"/>
<rect x="49.7" y="383" width="186.8" height="17.6" fill="#f4f4f4"/>
<path d="M53.6 323.25Q58.75 323.85 63.9 323.25L63.9 325.27Q58.75 325.87 53.6 325.27Z" fill="#6a6a6a" filter="url(#bb)"/>
<path d="M53.6 327.75Q58.75 328.35 63.9 327.75L63.9 329.77Q58.75 330.37 53.6 329.77Z" fill="#777" filter="url(#bb)"/>
<path d="M68.3 326.1Q74 326.5 79.7 326.1L79.7 328.78Q74 329.18 68.3 328.78Z" fill="#aaa" filter="url(#bb2)"/>
<path d="M67.8 329.25Q73.9 329.95 80 329.25L80 333.19Q73.9 333.89 67.8 333.19Z" fill="#000" filter="url(#bb)"/>
<path d="M83.4 323.5Q89.15 324 94.9 323.5L94.9 326.7Q89.15 327.2 83.4 326.7Z" fill="#000" filter="url(#bb)"/>
<path d="M116 323.1Q121.65 323.7 127.3 323.1L127.3 325.22Q121.65 325.82 116 325.22Z" fill="#7a7a7a" filter="url(#bb)"/>
<path d="M116 327.3Q121.65 327.9 127.3 327.3L127.3 329.42Q121.65 330.02 116 329.42Z" fill="#7a7a7a" filter="url(#bb)"/>
<path d="M130.6 323.7Q136.6 324.3 142.6 323.7L142.6 328.82Q136.6 329.42 130.6 328.82Z" fill="#777" filter="url(#bb2)"/>
<path d="M130.2 327Q136.6 329.4 143 327L143 333.48Q136.6 335.88 130.2 333.48Z" fill="#000" filter="url(#bb)"/>
<path d="M145.6 322.2Q151.95 324 158.3 322.2L158.3 329.16Q151.95 330.96 145.6 329.16Z" fill="#000" filter="url(#bb)"/>
<path d="M161.8 321.5Q167.2 322.1 172.6 321.5L172.6 323.62Q167.2 324.22 161.8 323.62Z" fill="#9c9c9c" filter="url(#bb2)"/>
<path d="M176.7 323.6Q182.1 324.2 187.5 323.6L187.5 325.92Q182.1 326.52 176.7 325.92Z" fill="#a0a0a0" filter="url(#bb2)"/>
<path d="M176.7 327.2Q182.1 327.8 187.5 327.2L187.5 329.52Q182.1 330.12 176.7 329.52Z" fill="#a0a0a0" filter="url(#bb2)"/>
<rect x="190.8" y="318.8" width="12" height="16.2" fill="url(#bl2g)" filter="url(#bb)"/>
<path d="M206.6 325.8Q212.2 327 217.8 325.8L217.8 329.64Q212.2 330.84 206.6 329.64Z" fill="#2a2a2a" filter="url(#bb)"/>
<path d="M222.4 323.1Q227.55 323.7 232.7 323.1L232.7 325.42Q227.55 326.02 222.4 325.42Z" fill="#b0b0b0" filter="url(#bb2)"/>
<path d="M64.2 346.75Q70.1 347.65 76 346.75L76 349.33Q70.1 350.23 64.2 349.33Z" fill="#111" filter="url(#bb)"/>
<path d="M96.2 346.9Q102.05 347.8 107.9 346.9L107.9 349.18Q102.05 350.08 96.2 349.18Z" fill="#1a1a1a" filter="url(#bb)"/>
<path d="M128.2 346.15Q134.05 347.05 139.9 346.15L139.9 349.13Q134.05 350.03 128.2 349.13Z" fill="#000" filter="url(#bb)"/>
<path d="M159.8 345.75Q165.3 346.95 170.8 345.75L170.8 347.89Q165.3 349.09 159.8 347.89Z" fill="#2a2a2a" filter="url(#bb)"/>
<path d="M190.2 346.05Q196.05 346.95 201.9 346.05L201.9 349.23Q196.05 350.13 190.2 349.23Z" fill="#000" filter="url(#bb)"/>
<path d="M221 345.45Q226.8 346.65 232.6 345.45L232.6 347.59Q226.8 348.79 221 347.59Z" fill="#2a2a2a" filter="url(#bb)"/>
<path d="M115.4 368.1Q121.1 369.9 126.8 368.1L126.8 370.86Q121.1 372.66 115.4 370.86Z" fill="#000" filter="url(#bb)"/>
<path d="M130.2 368.1Q135.9 369.9 141.6 368.1L141.6 370.86Q135.9 372.66 130.2 370.86Z" fill="#000" filter="url(#bb)"/>
<path d="M145.3 368.1Q151.05 369.9 156.8 368.1L156.8 370.86Q151.05 372.66 145.3 370.86Z" fill="#000" filter="url(#bb)"/>
<path d="M160.5 368.5Q166.35 370.7 172.2 368.5L172.2 372.74Q166.35 374.94 160.5 372.74Z" fill="#000" filter="url(#bb)"/>
<path d="M178.6 388.7Q184.2 389.5 189.8 388.7L189.8 391.06Q184.2 391.86 178.6 391.06Z" fill="#555" filter="url(#bb)"/>
<path d="M193.6 388.6Q199.5 390 205.4 388.6L205.4 392.28Q199.5 393.68 193.6 392.28Z" fill="#0a0a0a" filter="url(#bb)"/>
<path d="M208.2 388.8Q214 389.6 219.8 388.8L219.8 390.96Q214 391.76 208.2 390.96Z" fill="#666" filter="url(#bb)"/>
<path d="M223.6 388.8Q229.4 389.6 235.2 388.8L235.2 390.96Q229.4 391.76 223.6 390.96Z" fill="#666" filter="url(#bb)"/>
<rect x="49.7" y="318.7" width="186.8" height="16.5" fill="none" stroke="#3a3a3a" stroke-width="1.2"/>
<rect x="49.7" y="339.1" width="186.8" height="18" fill="none" stroke="#3a3a3a" stroke-width="1.2"/>
<rect x="49.7" y="361.0" width="186.8" height="18.1" fill="none" stroke="#3a3a3a" stroke-width="1.2"/>
<rect x="49.7" y="383.0" width="186.8" height="17.6" fill="none" stroke="#3a3a3a" stroke-width="1.2"/>
<rect x="111.9" y="318.2" width="2.6" height="83" fill="#fff"/>
<line x1="113.2" y1="318.6" x2="113.2" y2="401.2" stroke="#333" stroke-width="1.4" stroke-dasharray="2.5 1.7"/>
<rect x="173.5" y="318.2" width="2.6" height="83" fill="#fff"/>
<line x1="174.8" y1="318.6" x2="174.8" y2="401.2" stroke="#333" stroke-width="1.4" stroke-dasharray="2.5 1.7"/>
<defs><radialGradient id="rg"><stop offset="0" stop-color="#000" stop-opacity="1"/><stop offset="0.55" stop-color="#000" stop-opacity="0.75"/><stop offset="1" stop-color="#000" stop-opacity="0"/></radialGradient></defs>
<rect x="436.5" y="30.5" width="75.6" height="75.4" fill="#fff" stroke="#a8a8a8" stroke-width="1"/>
<ellipse cx="463.5" cy="58.5" rx="10" ry="14" fill="url(#rg)" opacity="0.1"/>
<ellipse cx="463.8" cy="62.5" rx="2.8" ry="7.5" fill="url(#rg)" opacity="0.55"/>
<ellipse cx="473.5" cy="51.5" rx="4.2" ry="6.5" fill="url(#rg)" opacity="0.6"/>
<path d="M462.4 59.6h.8v.8h-.8zM464.9 51.3h.8v.8h-.8zM460.8 63.9h.8v.8h-.8zM460.3 59h.8v.8h-.8zM466.8 60.8h.8v.8h-.8zM460.1 59.2h.8v.8h-.8zM458.6 60h.8v.8h-.8zM465.1 55.9h.8v.8h-.8zM468.1 53.1h.8v.8h-.8zM460.2 60.8h.8v.8h-.8zM462.4 54.3h.8v.8h-.8zM462.4 60.4h.8v.8h-.8zM456 80.7h.8v.8h-.8zM471.2 49.9h.8v.8h-.8zM474.9 48.8h.8v.8h-.8zM468.9 44.3h.8v.8h-.8zM464 60.7h.8v.8h-.8zM454.1 73.9h.8v.8h-.8zM455.8 59h.8v.8h-.8zM463.7 66.8h.8v.8h-.8zM460.6 47.2h.8v.8h-.8zM464.3 52.4h.8v.8h-.8zM465.4 52.7h.8v.8h-.8zM465 47.9h.8v.8h-.8zM465.6 65.3h.8v.8h-.8zM450.5 67h.8v.8h-.8zM465.9 57.2h.8v.8h-.8zM472.4 49.1h.8v.8h-.8zM465.1 61h.8v.8h-.8zM460.2 59.9h.8v.8h-.8zM462.3 61.2h.8v.8h-.8zM462.5 56h.8v.8h-.8zM474.2 48.4h.8v.8h-.8zM465.1 44.4h.8v.8h-.8zM457.9 71h.8v.8h-.8zM463.4 49.7h.8v.8h-.8zM469.5 56.9h.8v.8h-.8zM459.9 70.2h.8v.8h-.8zM452.2 76.4h.8v.8h-.8zM465.6 68.3h.8v.8h-.8zM461 51.3h.8v.8h-.8zM465.6 58.4h.8v.8h-.8zM466.5 54.4h.8v.8h-.8zM465.1 61.9h.8v.8h-.8zM457.1 61.4h.8v.8h-.8zM463.4 58.2h.8v.8h-.8zM459.8 61.3h.8v.8h-.8zM456 56.2h.8v.8h-.8zM467.9 59.3h.8v.8h-.8zM455.7 72h.8v.8h-.8zM468 52.1h.8v.8h-.8zM463.4 73.2h.8v.8h-.8zM467.4 55.9h.8v.8h-.8zM460.5 63.4h.8v.8h-.8zM460.4 52.6h.8v.8h-.8zM463 66.1h.8v.8h-.8zM461.4 53.7h.8v.8h-.8zM468.1 57.6h.8v.8h-.8zM465.4 66.1h.8v.8h-.8zM463.8 61.6h.8v.8h-.8zM466.5 51.4h.8v.8h-.8zM461.4 68.7h.8v.8h-.8zM460.4 50.4h.8v.8h-.8zM464.2 52.1h.8v.8h-.8zM458.7 65.2h.8v.8h-.8zM456.5 63h.8v.8h-.8zM461.7 57.6h.8v.8h-.8zM457.6 71.5h.8v.8h-.8zM471.1 54.3h.8v.8h-.8zM461 53.3h.8v.8h-.8zM459.3 63.5h.8v.8h-.8zM462.5 50.5h.8v.8h-.8zM462.9 60.4h.8v.8h-.8zM456.7 77.6h.8v.8h-.8zM459.9 51.9h.8v.8h-.8zM464.1 56.8h.8v.8h-.8zM460.4 57.8h.8v.8h-.8zM460.5 63.5h.8v.8h-.8zM456.7 76.7h.8v.8h-.8zM461.5 45.7h.8v.8h-.8zM466.8 58.1h.8v.8h-.8zM463.3 56.2h.8v.8h-.8zM463.8 60.7h.8v.8h-.8zM464.5 52.4h.8v.8h-.8zM462.3 59.7h.8v.8h-.8zM467.5 60.4h.8v.8h-.8zM464.2 51h.8v.8h-.8zM462.4 60.9h.8v.8h-.8zM465.3 59h.8v.8h-.8zM464.8 66.2h.8v.8h-.8zM454.3 81.6h.8v.8h-.8zM460.9 74.4h.8v.8h-.8zM468.1 59.1h.8v.8h-.8zM456 61.1h.8v.8h-.8zM457.9 67.7h.8v.8h-.8zM463.5 53.9h.8v.8h-.8zM456.5 62.1h.8v.8h-.8zM463.6 53.7h.8v.8h-.8zM462 60.2h.8v.8h-.8zM457.7 50.3h.8v.8h-.8zM457.4 74h.8v.8h-.8zM462.5 57.8h.8v.8h-.8zM461.5 60.2h.8v.8h-.8zM459.5 73.6h.8v.8h-.8zM467.6 61.4h.8v.8h-.8zM465.3 57.8h.8v.8h-.8zM465.2 55.7h.8v.8h-.8zM468.4 69.4h.8v.8h-.8zM461.7 64.4h.8v.8h-.8zM467.8 59.3h.8v.8h-.8zM466.3 57.6h.8v.8h-.8zM464.4 69.3h.8v.8h-.8zM466.5 63.9h.8v.8h-.8zM463.8 81.2h.8v.8h-.8zM474.3 47.9h.8v.8h-.8zM468.1 48.6h.8v.8h-.8zM469.5 48.6h.8v.8h-.8zM467.4 64.8h.8v.8h-.8zM463.5 57.1h.8v.8h-.8zM466 68.1h.8v.8h-.8zM463.7 48.5h.8v.8h-.8zM465.8 60.1h.8v.8h-.8zM464.3 78h.8v.8h-.8zM463.7 64.9h.8v.8h-.8zM460.2 50.8h.8v.8h-.8zM456.3 60.1h.8v.8h-.8zM470.3 40h.8v.8h-.8zM464 58.8h.8v.8h-.8zM472.4 42.2h.8v.8h-.8zM459.6 66.9h.8v.8h-.8zM460.9 53.2h.8v.8h-.8zM465.9 59.6h.8v.8h-.8zM460.9 69.3h.8v.8h-.8zM466.8 65.7h.8v.8h-.8zM467.8 53h.8v.8h-.8zM456.6 59.5h.8v.8h-.8zM465.1 46.8h.8v.8h-.8zM455.1 64h.8v.8h-.8zM474.7 51.1h.8v.8h-.8zM469.2 46.5h.8v.8h-.8zM465.1 66.6h.8v.8h-.8zM468 55.6h.8v.8h-.8zM464.4 66.5h.8v.8h-.8zM463 61.7h.8v.8h-.8zM464 52.2h.8v.8h-.8zM462.2 58.7h.8v.8h-.8zM454.9 60.4h.8v.8h-.8zM464 51.3h.8v.8h-.8zM467.7 61.8h.8v.8h-.8zM461.6 65.4h.8v.8h-.8zM464.2 64.6h.8v.8h-.8zM460.9 53.5h.8v.8h-.8zM458.1 53.2h.8v.8h-.8zM465.4 47.6h.8v.8h-.8zM468.9 53h.8v.8h-.8zM455.9 62.1h.8v.8h-.8zM470.7 49.9h.8v.8h-.8zM465.5 54.2h.8v.8h-.8zM456.1 69.8h.8v.8h-.8zM462 45.6h.8v.8h-.8zM462.6 65.2h.8v.8h-.8zM458.7 66h.8v.8h-.8zM467.2 59h.8v.8h-.8zM457.9 53.4h.8v.8h-.8zM463.9 67.9h.8v.8h-.8zM463 54.2h.8v.8h-.8zM465.9 56.4h.8v.8h-.8zM458.2 47.9h.8v.8h-.8zM459.7 65.4h.8v.8h-.8zM460 56.5h.8v.8h-.8zM466.6 56.8h.8v.8h-.8zM458.5 57.5h.8v.8h-.8zM460.1 67h.8v.8h-.8zM468.6 63.3h.8v.8h-.8zM457.6 71.1h.8v.8h-.8zM453.2 60.3h.8v.8h-.8zM463.8 54.1h.8v.8h-.8zM462.3 59.4h.8v.8h-.8zM463.1 53.1h.8v.8h-.8zM466.5 54.7h.8v.8h-.8zM457.2 63h.8v.8h-.8zM466.1 47.1h.8v.8h-.8zM466.2 51.4h.8v.8h-.8zM465.6 59h.8v.8h-.8zM470.5 55.4h.8v.8h-.8zM459.7 49.9h.8v.8h-.8zM463.5 54.3h.8v.8h-.8zM469.7 57h.8v.8h-.8zM467.5 54.7h.8v.8h-.8zM456.8 58.2h.8v.8h-.8zM453.9 54.3h.8v.8h-.8zM467.3 53.9h.8v.8h-.8zM462.6 60.3h.8v.8h-.8zM466.9 60.6h.8v.8h-.8zM460.7 56.3h.8v.8h-.8zM469.2 59.8h.8v.8h-.8zM460.2 53.2h.8v.8h-.8zM465.1 60.5h.8v.8h-.8zM461.9 73.8h.8v.8h-.8zM464.4 56.3h.8v.8h-.8zM473.2 43.6h.8v.8h-.8zM464 52.5h.8v.8h-.8zM471.9 48.2h.8v.8h-.8zM463.9 59.3h.8v.8h-.8zM458.3 69.3h.8v.8h-.8zM475.3 50.9h.8v.8h-.8zM460.2 53h.8v.8h-.8zM460.7 60.7h.8v.8h-.8zM462.9 46.5h.8v.8h-.8zM472 52.7h.8v.8h-.8zM455.9 78.1h.8v.8h-.8zM461.1 64.4h.8v.8h-.8zM464.5 63.5h.8v.8h-.8zM465.7 58.1h.8v.8h-.8zM456.8 65.4h.8v.8h-.8zM460.5 59.2h.8v.8h-.8zM465.8 56.8h.8v.8h-.8zM465.2 54.3h.8v.8h-.8zM460.4 52.1h.8v.8h-.8zM453.5 56.4h.8v.8h-.8zM462.7 70.2h.8v.8h-.8zM458.2 61.8h.8v.8h-.8zM460.3 63.7h.8v.8h-.8zM472.1 60.6h.8v.8h-.8zM461.1 56.7h.8v.8h-.8zM464 53.2h.8v.8h-.8zM459.5 53.1h.8v.8h-.8zM464.5 50h.8v.8h-.8zM470.7 48.7h.8v.8h-.8zM460.6 61.7h.8v.8h-.8zM462.9 62.5h.8v.8h-.8zM454 64.4h.8v.8h-.8zM462.7 48.3h.8v.8h-.8zM459.4 64.2h.8v.8h-.8zM465.5 46h.8v.8h-.8zM459.7 53.2h.8v.8h-.8zM464.7 47.6h.8v.8h-.8zM462.6 65.9h.8v.8h-.8zM461.5 65.5h.8v.8h-.8zM469.3 46.2h.8v.8h-.8zM458.9 56.7h.8v.8h-.8zM460.7 60.8h.8v.8h-.8zM456.4 65.6h.8v.8h-.8zM459.5 68.6h.8v.8h-.8zM474 49h.8v.8h-.8zM473.7 57.7h.8v.8h-.8zM465.5 43.4h.8v.8h-.8zM464.2 52.8h.8v.8h-.8zM467.8 62.2h.8v.8h-.8zM464.1 54.6h.8v.8h-.8zM475.1 49.9h.8v.8h-.8zM466.3 52.6h.8v.8h-.8zM465 51.3h.8v.8h-.8zM463.4 57.1h.8v.8h-.8zM460.2 57.5h.8v.8h-.8zM462.3 57.9h.8v.8h-.8zM461.6 57h.8v.8h-.8zM461.2 61h.8v.8h-.8zM460.8 63.2h.8v.8h-.8zM460.4 68.1h.8v.8h-.8zM459.2 53h.8v.8h-.8zM453.3 64.6h.8v.8h-.8zM460.6 62.7h.8v.8h-.8zM461.1 53.7h.8v.8h-.8zM467.6 51.7h.8v.8h-.8zM467.6 55.2h.8v.8h-.8zM468.5 51.7h.8v.8h-.8zM465.1 50.4h.8v.8h-.8zM461.5 58h.8v.8h-.8zM463.7 61.2h.8v.8h-.8zM459.4 65.3h.8v.8h-.8zM456.2 60.5h.8v.8h-.8zM463.2 64.1h.8v.8h-.8zM465.5 56.9h.8v.8h-.8zM455.1 75.9h.8v.8h-.8zM464.9 63.8h.8v.8h-.8zM469.6 53.6h.8v.8h-.8zM459.1 65h.8v.8h-.8zM459.9 64.9h.8v.8h-.8zM460.3 63.3h.8v.8h-.8zM460.3 44.2h.8v.8h-.8zM467 51.2h.8v.8h-.8zM471.5 52.2h.8v.8h-.8zM456.9 65.9h.8v.8h-.8zM457.9 51.7h.8v.8h-.8zM457.7 62.1h.8v.8h-.8zM464 59.2h.8v.8h-.8zM464.5 60.9h.8v.8h-.8zM469 49.9h.8v.8h-.8zM467.3 55.9h.8v.8h-.8zM454.9 72.7h.8v.8h-.8zM457.6 67.9h.8v.8h-.8zM462.6 65.3h.8v.8h-.8zM470.7 58.2h.8v.8h-.8zM454.9 66.2h.8v.8h-.8zM461.1 58.8h.8v.8h-.8zM462.5 65.4h.8v.8h-.8zM464 51h.8v.8h-.8zM471.7 48.3h.8v.8h-.8zM460.8 52h.8v.8h-.8zM461.4 53.6h.8v.8h-.8zM470.9 60.5h.8v.8h-.8zM450.8 73.5h.8v.8h-.8zM462.3 49.6h.8v.8h-.8zM456.2 69.3h.8v.8h-.8zM463.2 65.2h.8v.8h-.8zM459.1 74.1h.8v.8h-.8zM465.1 55.6h.8v.8h-.8zM467.6 55.6h.8v.8h-.8zM460.8 53.2h.8v.8h-.8zM463.8 38.5h.8v.8h-.8zM459.3 52.2h.8v.8h-.8zM467.1 62.6h.8v.8h-.8zM460.7 57h.8v.8h-.8zM470.4 54h.8v.8h-.8zM470.2 51.9h.8v.8h-.8zM466.1 70.1h.8v.8h-.8zM461.1 66.2h.8v.8h-.8zM466.5 43.5h.8v.8h-.8zM472.4 44.1h.8v.8h-.8zM466.6 55.5h.8v.8h-.8zM459.9 58.5h.8v.8h-.8zM467.8 44.7h.8v.8h-.8zM463.5 40.5h.8v.8h-.8zM459.6 43.1h.8v.8h-.8zM460.4 61.6h.8v.8h-.8zM450.9 66.9h.8v.8h-.8zM459.7 57.1h.8v.8h-.8zM465.2 58.9h.8v.8h-.8zM468.7 61.8h.8v.8h-.8zM460.5 67.6h.8v.8h-.8zM467.4 53.7h.8v.8h-.8zM460.4 55.1h.8v.8h-.8zM459 67h.8v.8h-.8zM460.7 61.7h.8v.8h-.8zM459 54.6h.8v.8h-.8zM473.3 62.6h.8v.8h-.8zM467 54.6h.8v.8h-.8zM458.3 73.3h.8v.8h-.8zM456.5 63.6h.8v.8h-.8zM463.8 45.6h.8v.8h-.8zM462.4 67.4h.8v.8h-.8zM466.8 41.1h.8v.8h-.8zM469 43.6h.8v.8h-.8zM462.4 57.6h.8v.8h-.8zM457.8 71.6h.8v.8h-.8zM463.1 61.1h.8v.8h-.8zM455.9 57.5h.8v.8h-.8zM471.1 51.4h.8v.8h-.8zM461.8 60.1h.8v.8h-.8zM458.5 48.3h.8v.8h-.8zM456.6 62.9h.8v.8h-.8zM466.7 58.9h.8v.8h-.8zM455.5 57.7h.8v.8h-.8zM458.7 74.5h.8v.8h-.8zM457.6 58.2h.8v.8h-.8zM465.3 67.3h.8v.8h-.8zM466.4 61.4h.8v.8h-.8zM470.6 42.3h.8v.8h-.8zM466.1 54.2h.8v.8h-.8zM467.6 49.9h.8v.8h-.8zM468.5 67.3h.8v.8h-.8zM475.8 41.5h.8v.8h-.8zM460.8 64.5h.8v.8h-.8zM470 47.2h.8v.8h-.8zM470.2 47h.8v.8h-.8zM471.1 50.5h.8v.8h-.8zM467.8 39.3h.8v.8h-.8zM452.8 74.2h.8v.8h-.8zM452.1 77.4h.8v.8h-.8zM456.1 61.6h.8v.8h-.8zM467.5 55h.8v.8h-.8zM462.9 59.7h.8v.8h-.8zM461.5 65h.8v.8h-.8zM466 59.5h.8v.8h-.8zM465.2 52.7h.8v.8h-.8zM458.2 40.9h.8v.8h-.8zM470.9 52.5h.8v.8h-.8zM465.1 60.2h.8v.8h-.8zM459 77.3h.8v.8h-.8zM464.6 54.9h.8v.8h-.8zM463.5 55.1h.8v.8h-.8zM450 93.1h.8v.8h-.8zM464.8 54.6h.8v.8h-.8zM458.2 59.4h.8v.8h-.8zM458.5 49.3h.8v.8h-.8zM452.2 61.7h.8v.8h-.8zM465.4 53.8h.8v.8h-.8zM466.1 57.6h.8v.8h-.8zM455.3 64.5h.8v.8h-.8zM467.9 44.8h.8v.8h-.8zM459.2 53.5h.8v.8h-.8zM460.1 54.8h.8v.8h-.8zM458 50.8h.8v.8h-.8zM467.9 45.1h.8v.8h-.8zM462.1 56.7h.8v.8h-.8zM460.4 67.9h.8v.8h-.8zM461.8 64.1h.8v.8h-.8zM456.3 74.1h.8v.8h-.8zM461.7 76.7h.8v.8h-.8zM459.3 57.8h.8v.8h-.8zM451.8 46h.8v.8h-.8zM456.2 57.8h.8v.8h-.8zM459.9 61.4h.8v.8h-.8zM458.1 61.4h.8v.8h-.8zM453 60.7h.8v.8h-.8zM449.3 62.8h.8v.8h-.8zM449 54.5h.8v.8h-.8zM458 60.1h.8v.8h-.8zM453.3 56.9h.8v.8h-.8zM452.4 57.3h.8v.8h-.8zM455.9 54h.8v.8h-.8zM451.1 56.9h.8v.8h-.8zM444.2 53.9h.8v.8h-.8zM461.8 51.2h.8v.8h-.8zM454 57h.8v.8h-.8zM454.1 55.4h.8v.8h-.8zM466.2 40.5h.8v.8h-.8zM452 48.1h.8v.8h-.8zM453.3 54.5h.8v.8h-.8zM455 55.2h.8v.8h-.8zM453.8 63h.8v.8h-.8zM451.4 51h.8v.8h-.8zM448.6 62.9h.8v.8h-.8zM453.7 44.1h.8v.8h-.8zM456 52.8h.8v.8h-.8zM455.8 58.5h.8v.8h-.8zM460.3 65.2h.8v.8h-.8zM461.5 63.4h.8v.8h-.8zM461.9 57.6h.8v.8h-.8zM453.6 67.6h.8v.8h-.8zM454 47.3h.8v.8h-.8zM454.5 58.1h.8v.8h-.8zM444.6 67.8h.8v.8h-.8zM449.3 58.7h.8v.8h-.8zM443.5 59.9h.8v.8h-.8zM454.3 61h.8v.8h-.8zM458.5 53.9h.8v.8h-.8zM449 59.6h.8v.8h-.8zM453.9 71.4h.8v.8h-.8zM454.9 52.4h.8v.8h-.8zM451.6 42h.8v.8h-.8zM440 67.2h.8v.8h-.8zM462.3 64.7h.8v.8h-.8zM456 53.2h.8v.8h-.8zM452.8 63h.8v.8h-.8zM460.1 67.2h.8v.8h-.8zM450.4 45.8h.8v.8h-.8zM450.8 53.3h.8v.8h-.8zM457.1 60.3h.8v.8h-.8zM453.8 56.1h.8v.8h-.8zM448.8 56.2h.8v.8h-.8zM452.3 63.6h.8v.8h-.8zM450.7 55.2h.8v.8h-.8zM459.3 69h.8v.8h-.8zM453.6 50.9h.8v.8h-.8zM453.6 66.8h.8v.8h-.8zM462.3 52.4h.8v.8h-.8zM446.2 61h.8v.8h-.8zM448 66h.8v.8h-.8zM452.2 57.3h.8v.8h-.8zM448.4 44.9h.8v.8h-.8zM450.3 57.9h.8v.8h-.8zM452.3 61.8h.8v.8h-.8zM458.3 47.9h.8v.8h-.8zM452.1 63.2h.8v.8h-.8zM457.7 62.9h.8v.8h-.8zM462.6 55.7h.8v.8h-.8zM455.5 56.4h.8v.8h-.8zM464.3 50.5h.8v.8h-.8zM454.6 54.1h.8v.8h-.8zM463.8 43.3h.8v.8h-.8zM453.1 49.1h.8v.8h-.8zM447.3 69.5h.8v.8h-.8zM449.5 53.9h.8v.8h-.8zM454.4 58.1h.8v.8h-.8zM452.1 51.9h.8v.8h-.8zM456.7 61.9h.8v.8h-.8zM443.1 60.7h.8v.8h-.8zM450.7 58.1h.8v.8h-.8zM457.4 48.3h.8v.8h-.8zM442.2 53.2h.8v.8h-.8zM449 61.4h.8v.8h-.8zM461.5 61.1h.8v.8h-.8zM443.9 45.7h.8v.8h-.8zM459.2 57.9h.8v.8h-.8zM448.2 60.3h.8v.8h-.8zM463.2 61h.8v.8h-.8zM461.1 60.2h.8v.8h-.8zM451.3 64.3h.8v.8h-.8zM458.9 58.5h.8v.8h-.8zM454.4 62.1h.8v.8h-.8zM453.6 56.9h.8v.8h-.8zM456.6 59.8h.8v.8h-.8zM453.5 54.9h.8v.8h-.8zM467.1 70.1h.8v.8h-.8zM461.7 52.5h.8v.8h-.8zM458.6 54.5h.8v.8h-.8zM459.5 60.4h.8v.8h-.8zM457.1 43.3h.8v.8h-.8zM462.8 66.4h.8v.8h-.8zM459.7 61.9h.8v.8h-.8zM449.5 57.1h.8v.8h-.8zM457.3 67.3h.8v.8h-.8zM456.1 50.3h.8v.8h-.8zM462.9 58.9h.8v.8h-.8zM464.5 66.8h.8v.8h-.8zM456.3 71.3h.8v.8h-.8zM455.5 43.5h.8v.8h-.8zM455.4 61.3h.8v.8h-.8zM452.4 61.8h.8v.8h-.8zM457.5 57.9h.8v.8h-.8zM456.3 61.8h.8v.8h-.8zM458.4 62.4h.8v.8h-.8zM455.1 61.4h.8v.8h-.8zM456.9 69.5h.8v.8h-.8zM457.4 67.9h.8v.8h-.8zM455.8 70.2h.8v.8h-.8zM460.1 61.2h.8v.8h-.8zM458.1 64.3h.8v.8h-.8zM463.5 56.3h.8v.8h-.8zM458.6 59h.8v.8h-.8zM451.9 66.3h.8v.8h-.8zM451.1 60.3h.8v.8h-.8zM460.5 76.7h.8v.8h-.8zM452.9 57.2h.8v.8h-.8zM453.8 58.6h.8v.8h-.8zM459.9 62.8h.8v.8h-.8zM455.9 62.8h.8v.8h-.8zM455.4 59.9h.8v.8h-.8zM455.9 56h.8v.8h-.8zM455.8 57.9h.8v.8h-.8zM461.7 69.8h.8v.8h-.8zM458.8 58.2h.8v.8h-.8zM465.3 65.7h.8v.8h-.8zM457.6 50.6h.8v.8h-.8zM458.6 55.5h.8v.8h-.8zM464.4 58.7h.8v.8h-.8zM457.8 45.9h.8v.8h-.8zM461.8 57.6h.8v.8h-.8zM462.5 65.7h.8v.8h-.8zM456.8 62.5h.8v.8h-.8zM454.6 74.4h.8v.8h-.8zM451 51.1h.8v.8h-.8zM457.6 58h.8v.8h-.8zM457.2 60.4h.8v.8h-.8zM459.8 58.2h.8v.8h-.8zM458.7 62.1h.8v.8h-.8zM457.4 59.3h.8v.8h-.8zM462.3 52.7h.8v.8h-.8zM452.4 61.8h.8v.8h-.8zM458.2 69h.8v.8h-.8zM459.9 68.1h.8v.8h-.8zM461.2 70.1h.8v.8h-.8zM453.8 62.8h.8v.8h-.8zM451.9 76.7h.8v.8h-.8zM468 56.2h.8v.8h-.8zM456.4 64.7h.8v.8h-.8zM461.6 74.4h.8v.8h-.8zM456.2 65.7h.8v.8h-.8zM460.2 61.1h.8v.8h-.8zM453.7 59.8h.8v.8h-.8zM460 67.7h.8v.8h-.8zM458.7 54h.8v.8h-.8zM458 61.5h.8v.8h-.8zM460.8 67.2h.8v.8h-.8zM454.9 56.9h.8v.8h-.8zM456.3 75.2h.8v.8h-.8zM461 54.4h.8v.8h-.8zM461.9 71h.8v.8h-.8zM452.4 55.4h.8v.8h-.8zM457 53.5h.8v.8h-.8zM451.8 71.4h.8v.8h-.8zM466.3 54.7h.8v.8h-.8zM456.6 67.1h.8v.8h-.8zM459.6 72.4h.8v.8h-.8zM460.4 61.3h.8v.8h-.8zM452.7 65.3h.8v.8h-.8zM453.1 66.9h.8v.8h-.8zM453.8 69.2h.8v.8h-.8zM464.2 60.9h.8v.8h-.8zM461.6 60.8h.8v.8h-.8zM459.1 66.3h.8v.8h-.8zM458.3 74.4h.8v.8h-.8zM458.4 71.4h.8v.8h-.8zM461.3 59.3h.8v.8h-.8zM458.2 77.1h.8v.8h-.8zM459 62.2h.8v.8h-.8zM462.3 45.5h.8v.8h-.8zM456.4 68.8h.8v.8h-.8zM458.5 67.1h.8v.8h-.8zM458 55h.8v.8h-.8zM456.1 68.7h.8v.8h-.8zM468.8 49.5h.8v.8h-.8zM456.2 67.5h.8v.8h-.8zM456.7 74.7h.8v.8h-.8zM459.7 60h.8v.8h-.8zM460.3 66.4h.8v.8h-.8zM461.2 50.6h.8v.8h-.8zM461.5 60.2h.8v.8h-.8zM458.7 63.1h.8v.8h-.8zM458.8 56.1h.8v.8h-.8zM459.1 67.5h.8v.8h-.8zM464.7 71.7h.8v.8h-.8zM453.2 66h.8v.8h-.8zM459 70.6h.8v.8h-.8zM457.3 79.1h.8v.8h-.8zM461.7 54.1h.8v.8h-.8zM451.5 58h.8v.8h-.8zM460.8 65.9h.8v.8h-.8zM462.7 54.1h.8v.8h-.8zM455.9 68.8h.8v.8h-.8zM457.6 62.7h.8v.8h-.8zM459.9 61.1h.8v.8h-.8zM458.3 58.3h.8v.8h-.8zM452.7 64.9h.8v.8h-.8zM458.8 67.7h.8v.8h-.8zM457.7 63h.8v.8h-.8zM452.3 72.4h.8v.8h-.8zM458.3 69.8h.8v.8h-.8zM453.7 67.7h.8v.8h-.8zM457.8 64.6h.8v.8h-.8zM452.1 79.6h.8v.8h-.8zM453.7 58.8h.8v.8h-.8zM455.7 73.2h.8v.8h-.8zM460.8 70.2h.8v.8h-.8zM456 62.5h.8v.8h-.8zM453.9 62.5h.8v.8h-.8zM461.9 63h.8v.8h-.8zM458 65.7h.8v.8h-.8zM455.5 54.3h.8v.8h-.8zM452.7 69.4h.8v.8h-.8zM460.2 57.8h.8v.8h-.8zM449.2 60.1h.8v.8h-.8zM457 70.1h.8v.8h-.8zM453.7 63.1h.8v.8h-.8zM451 57.9h.8v.8h-.8zM460.4 57.3h.8v.8h-.8zM456.1 74.2h.8v.8h-.8zM456.6 57.1h.8v.8h-.8zM462.2 64.6h.8v.8h-.8zM462.3 62.4h.8v.8h-.8zM465.4 65h.8v.8h-.8zM465.4 65.6h.8v.8h-.8zM462.9 67.6h.8v.8h-.8zM467.2 58.6h.8v.8h-.8zM463.5 76h.8v.8h-.8zM463.4 63.1h.8v.8h-.8zM462.9 63.5h.8v.8h-.8zM462.9 78.1h.8v.8h-.8zM457.6 59.6h.8v.8h-.8zM461.9 64.9h.8v.8h-.8zM464 67.5h.8v.8h-.8zM464.2 55.1h.8v.8h-.8zM465.4 57.7h.8v.8h-.8zM467 53.6h.8v.8h-.8zM466.7 67h.8v.8h-.8zM465.6 65.5h.8v.8h-.8zM466 69.1h.8v.8h-.8zM464.5 64.8h.8v.8h-.8zM463.5 54h.8v.8h-.8zM466.5 52.2h.8v.8h-.8zM462.8 52h.8v.8h-.8zM463.2 69.4h.8v.8h-.8zM461.7 61.3h.8v.8h-.8zM461.3 64.6h.8v.8h-.8zM463.2 62.8h.8v.8h-.8zM466.1 71.3h.8v.8h-.8zM464.8 59.9h.8v.8h-.8zM465 65.8h.8v.8h-.8zM465.5 58.5h.8v.8h-.8zM466.4 62.1h.8v.8h-.8zM466.6 69.8h.8v.8h-.8zM466.3 69.3h.8v.8h-.8zM467.4 62.8h.8v.8h-.8zM464.7 57.2h.8v.8h-.8zM465.3 64.6h.8v.8h-.8zM466.3 54.8h.8v.8h-.8zM462.5 61.2h.8v.8h-.8zM459.8 64.5h.8v.8h-.8zM467.5 71.2h.8v.8h-.8zM466.9 67.5h.8v.8h-.8zM468.1 64.3h.8v.8h-.8zM462.7 70h.8v.8h-.8zM466.9 65.4h.8v.8h-.8zM465.7 62.9h.8v.8h-.8zM464.5 60.1h.8v.8h-.8zM467 65h.8v.8h-.8zM463.3 72.4h.8v.8h-.8zM464.9 64.3h.8v.8h-.8zM462.7 69.6h.8v.8h-.8zM463.9 66.1h.8v.8h-.8zM465.4 66.7h.8v.8h-.8zM466.3 65.9h.8v.8h-.8zM466.4 64.3h.8v.8h-.8zM463.5 64.6h.8v.8h-.8zM466.7 64.1h.8v.8h-.8zM463.5 59.3h.8v.8h-.8zM463 61.9h.8v.8h-.8zM459.8 65.4h.8v.8h-.8zM464.7 69.2h.8v.8h-.8zM465.2 60.3h.8v.8h-.8zM464 60.6h.8v.8h-.8zM463.2 73.3h.8v.8h-.8zM465 59.3h.8v.8h-.8zM462.1 65.9h.8v.8h-.8zM464.5 68h.8v.8h-.8zM465.3 56.4h.8v.8h-.8zM465.4 56.5h.8v.8h-.8zM462.6 56.2h.8v.8h-.8zM464.4 69.8h.8v.8h-.8zM462.9 66.6h.8v.8h-.8zM461.8 75.3h.8v.8h-.8zM469.4 59.4h.8v.8h-.8zM462.1 61.7h.8v.8h-.8zM462.6 66.8h.8v.8h-.8zM468.1 60.2h.8v.8h-.8zM464.4 55.9h.8v.8h-.8zM460.2 63.9h.8v.8h-.8zM466.5 56.9h.8v.8h-.8zM466.6 60.3h.8v.8h-.8zM465.4 56.1h.8v.8h-.8zM459.9 59.6h.8v.8h-.8zM459.8 66.8h.8v.8h-.8zM463.5 79.3h.8v.8h-.8zM463.6 59.1h.8v.8h-.8zM463.1 58.5h.8v.8h-.8zM464.8 64.8h.8v.8h-.8zM458.9 68.9h.8v.8h-.8zM464 70.5h.8v.8h-.8zM462.6 64.4h.8v.8h-.8zM463.2 58.2h.8v.8h-.8zM467.9 66.3h.8v.8h-.8zM463.9 61.1h.8v.8h-.8zM462 64.6h.8v.8h-.8zM462.7 58.7h.8v.8h-.8zM463.6 61.3h.8v.8h-.8zM466.5 58.3h.8v.8h-.8zM460.5 69.6h.8v.8h-.8zM463.7 57.8h.8v.8h-.8zM466.5 67.6h.8v.8h-.8zM459.9 68.5h.8v.8h-.8zM466.2 72.1h.8v.8h-.8zM464.6 59.6h.8v.8h-.8zM463.7 71.3h.8v.8h-.8zM463.3 69.8h.8v.8h-.8zM461.6 61.8h.8v.8h-.8zM465.1 66.4h.8v.8h-.8zM465.3 53h.8v.8h-.8zM466.5 68.5h.8v.8h-.8zM466 57.3h.8v.8h-.8zM466.6 61h.8v.8h-.8zM461.6 64.2h.8v.8h-.8zM461 58.6h.8v.8h-.8zM465.1 62.8h.8v.8h-.8zM461.7 74.3h.8v.8h-.8zM463.1 58.3h.8v.8h-.8zM463.1 62.2h.8v.8h-.8zM464.2 64.4h.8v.8h-.8zM464.5 60.3h.8v.8h-.8zM462.4 66.9h.8v.8h-.8zM463.5 60.8h.8v.8h-.8zM465.1 63.2h.8v.8h-.8zM461.9 60.7h.8v.8h-.8zM465.4 65.3h.8v.8h-.8zM463.5 72.6h.8v.8h-.8zM463.7 61.8h.8v.8h-.8zM464.3 60.5h.8v.8h-.8zM461.9 66.7h.8v.8h-.8zM464.8 63.5h.8v.8h-.8zM463.6 53.9h.8v.8h-.8zM465.2 47.7h.8v.8h-.8zM465.2 59.7h.8v.8h-.8zM462 55.7h.8v.8h-.8zM464.3 73h.8v.8h-.8zM466.3 58.7h.8v.8h-.8zM464.2 58.2h.8v.8h-.8zM464.9 58.5h.8v.8h-.8zM462.9 70.3h.8v.8h-.8zM461.9 58.7h.8v.8h-.8zM465.6 54.2h.8v.8h-.8zM459.3 61h.8v.8h-.8zM462 66.5h.8v.8h-.8zM465.7 62.4h.8v.8h-.8zM466.7 71.8h.8v.8h-.8zM463.1 58.1h.8v.8h-.8zM465 54.5h.8v.8h-.8zM461.2 65.2h.8v.8h-.8zM466.4 60.7h.8v.8h-.8zM465.7 66.9h.8v.8h-.8zM462 77.3h.8v.8h-.8zM461.7 65.3h.8v.8h-.8zM464.2 52.8h.8v.8h-.8zM466.7 67.3h.8v.8h-.8zM466.5 59.8h.8v.8h-.8zM462.9 76.7h.8v.8h-.8zM466.1 65.8h.8v.8h-.8zM464.7 70.2h.8v.8h-.8zM460.1 70.2h.8v.8h-.8zM466 66h.8v.8h-.8zM463.5 65.8h.8v.8h-.8zM465.6 55.8h.8v.8h-.8zM462.2 68.9h.8v.8h-.8zM463.1 63.7h.8v.8h-.8zM463.5 64.4h.8v.8h-.8zM467.3 69.8h.8v.8h-.8zM464.2 58.1h.8v.8h-.8zM468.3 64.4h.8v.8h-.8zM465.3 64.9h.8v.8h-.8zM465.5 56.6h.8v.8h-.8zM460.2 66.9h.8v.8h-.8zM466.3 59.1h.8v.8h-.8zM464.5 61.9h.8v.8h-.8zM460.5 61.9h.8v.8h-.8zM465.2 57.4h.8v.8h-.8zM462.5 59.4h.8v.8h-.8zM463.4 55.2h.8v.8h-.8zM466.5 62.5h.8v.8h-.8zM465.2 73h.8v.8h-.8zM462.7 64h.8v.8h-.8zM466.3 61.4h.8v.8h-.8zM464.5 66.5h.8v.8h-.8zM463.7 76.7h.8v.8h-.8zM464 61.5h.8v.8h-.8zM463.2 57.9h.8v.8h-.8zM460.4 66.8h.8v.8h-.8zM463.3 67.8h.8v.8h-.8zM467.3 58.6h.8v.8h-.8zM465.6 54.4h.8v.8h-.8zM467.4 60.5h.8v.8h-.8zM463.8 58h.8v.8h-.8zM462.3 49.5h.8v.8h-.8zM460.6 58.9h.8v.8h-.8zM464.9 69h.8v.8h-.8zM460.3 61.2h.8v.8h-.8zM462.2 62.5h.8v.8h-.8zM466.3 62.4h.8v.8h-.8zM466.9 70.8h.8v.8h-.8zM460.2 74h.8v.8h-.8zM467.5 64.9h.8v.8h-.8zM462.3 54.4h.8v.8h-.8zM466.3 64.6h.8v.8h-.8zM461.9 62.9h.8v.8h-.8zM466.4 67.4h.8v.8h-.8zM459.5 76h.8v.8h-.8zM464 68.9h.8v.8h-.8zM463.2 60.3h.8v.8h-.8zM464.4 65.1h.8v.8h-.8zM466 54.4h.8v.8h-.8zM465.1 66.3h.8v.8h-.8zM463.4 61.2h.8v.8h-.8zM465.1 64.4h.8v.8h-.8zM464.1 58.5h.8v.8h-.8zM463.8 59.4h.8v.8h-.8zM461.6 56.3h.8v.8h-.8zM462.9 60.2h.8v.8h-.8zM462.2 64h.8v.8h-.8zM462.9 67.8h.8v.8h-.8zM465 60.9h.8v.8h-.8zM460.8 69.4h.8v.8h-.8zM467.1 68h.8v.8h-.8zM466.3 58.3h.8v.8h-.8zM466 60h.8v.8h-.8zM465.1 43.3h.8v.8h-.8zM461.4 63.2h.8v.8h-.8zM467 60.3h.8v.8h-.8zM461.6 62.8h.8v.8h-.8zM462.6 47.3h.8v.8h-.8zM461.3 62.8h.8v.8h-.8zM463.2 62.9h.8v.8h-.8zM465.4 54.4h.8v.8h-.8zM461.4 56.3h.8v.8h-.8zM464.6 57h.8v.8h-.8zM462.3 61.1h.8v.8h-.8zM460.8 60h.8v.8h-.8zM462.5 61.5h.8v.8h-.8zM463.7 64.7h.8v.8h-.8zM461.3 66.8h.8v.8h-.8zM461.8 70.1h.8v.8h-.8zM461.9 67.5h.8v.8h-.8zM464.6 70.1h.8v.8h-.8zM464.1 67.1h.8v.8h-.8zM461 66.7h.8v.8h-.8zM462.2 62.6h.8v.8h-.8zM460.7 59h.8v.8h-.8zM464.1 66h.8v.8h-.8zM465.2 58.9h.8v.8h-.8zM461.4 60.4h.8v.8h-.8zM461.9 62.6h.8v.8h-.8zM465.8 70.6h.8v.8h-.8zM461.6 50.3h.8v.8h-.8zM459.5 63.2h.8v.8h-.8zM457.3 62.7h.8v.8h-.8zM464.7 67.4h.8v.8h-.8zM464.1 56.8h.8v.8h-.8zM459.6 58.2h.8v.8h-.8zM464 65.2h.8v.8h-.8zM466.8 63.9h.8v.8h-.8zM465.3 61.5h.8v.8h-.8zM461.5 62.8h.8v.8h-.8zM459.7 63.5h.8v.8h-.8zM466 57.8h.8v.8h-.8zM459.1 65.2h.8v.8h-.8zM462 64.8h.8v.8h-.8zM460.6 64.2h.8v.8h-.8zM464.2 72.9h.8v.8h-.8zM463.3 64.5h.8v.8h-.8zM462.3 51.2h.8v.8h-.8zM469 53.8h.8v.8h-.8zM469.5 67.8h.8v.8h-.8zM467.6 55.6h.8v.8h-.8zM467.1 63.4h.8v.8h-.8zM465.3 75.2h.8v.8h-.8zM463.7 65h.8v.8h-.8zM460.9 58.2h.8v.8h-.8zM461.6 61.7h.8v.8h-.8zM467 67h.8v.8h-.8zM466.7 63.4h.8v.8h-.8zM465.8 66.8h.8v.8h-.8zM462.4 60.8h.8v.8h-.8zM463.8 58.4h.8v.8h-.8zM465.3 58.5h.8v.8h-.8zM462.9 56.9h.8v.8h-.8zM463.4 65.4h.8v.8h-.8zM463.3 61.7h.8v.8h-.8zM461.6 64.2h.8v.8h-.8zM463.4 67.4h.8v.8h-.8zM459.3 64h.8v.8h-.8zM464.3 58.1h.8v.8h-.8zM461.2 58.3h.8v.8h-.8zM463.3 54.7h.8v.8h-.8zM464.9 64.3h.8v.8h-.8zM464.2 58.5h.8v.8h-.8zM463.1 62.2h.8v.8h-.8zM462.2 60.6h.8v.8h-.8zM464.2 63.3h.8v.8h-.8zM464 70.2h.8v.8h-.8zM463.8 61.5h.8v.8h-.8zM461.8 62.7h.8v.8h-.8zM461.1 57.2h.8v.8h-.8zM475.6 53h.8v.8h-.8zM476.7 45.3h.8v.8h-.8zM475.5 56.7h.8v.8h-.8zM472.3 53.3h.8v.8h-.8zM470.2 54.6h.8v.8h-.8zM469.8 41.8h.8v.8h-.8zM472.1 66.6h.8v.8h-.8zM470.4 56.7h.8v.8h-.8zM470.7 54.5h.8v.8h-.8zM471.5 42.9h.8v.8h-.8zM474.1 51.5h.8v.8h-.8zM471.9 54.8h.8v.8h-.8zM466.2 55.3h.8v.8h-.8zM472.8 54.6h.8v.8h-.8zM470.9 53h.8v.8h-.8zM470.2 54.4h.8v.8h-.8zM477.6 56.8h.8v.8h-.8zM469.9 44.4h.8v.8h-.8zM471.6 52.2h.8v.8h-.8zM473.2 40.3h.8v.8h-.8zM477.5 45.7h.8v.8h-.8zM475.4 54.1h.8v.8h-.8zM473.2 49.6h.8v.8h-.8zM472.8 56.1h.8v.8h-.8zM473.7 49.8h.8v.8h-.8zM472.8 58.5h.8v.8h-.8zM476.2 51.1h.8v.8h-.8zM473.2 45.1h.8v.8h-.8zM473.4 47h.8v.8h-.8zM473.1 48h.8v.8h-.8zM469.6 44.2h.8v.8h-.8zM475.9 52.6h.8v.8h-.8zM470.3 60.6h.8v.8h-.8zM476.5 53.3h.8v.8h-.8zM474.9 50.9h.8v.8h-.8zM474.7 50.4h.8v.8h-.8zM470.1 49.4h.8v.8h-.8zM472.4 47h.8v.8h-.8zM467.2 52.9h.8v.8h-.8zM477 60.6h.8v.8h-.8zM475.1 52.8h.8v.8h-.8zM474.1 57.5h.8v.8h-.8zM472.2 56.6h.8v.8h-.8zM476 52.6h.8v.8h-.8zM475.1 51.1h.8v.8h-.8zM471.3 45.3h.8v.8h-.8zM472.8 51.3h.8v.8h-.8zM473.6 48.6h.8v.8h-.8zM472.5 45.9h.8v.8h-.8zM474.5 49.3h.8v.8h-.8zM472.9 52.2h.8v.8h-.8zM477.6 48.2h.8v.8h-.8zM472.5 53.7h.8v.8h-.8zM475.8 47.9h.8v.8h-.8zM476 55.2h.8v.8h-.8zM469.6 58.4h.8v.8h-.8zM478.6 54.3h.8v.8h-.8zM474.4 49.8h.8v.8h-.8zM471.3 43.3h.8v.8h-.8zM473.8 40.3h.8v.8h-.8zM469 52.6h.8v.8h-.8zM470.6 48h.8v.8h-.8zM476.2 55.9h.8v.8h-.8zM470.6 50.2h.8v.8h-.8zM472.6 40h.8v.8h-.8zM470.4 50.7h.8v.8h-.8zM468.3 50.5h.8v.8h-.8zM471.6 60.4h.8v.8h-.8zM470.8 44h.8v.8h-.8zM472.5 49.9h.8v.8h-.8zM469.6 42.5h.8v.8h-.8zM470.5 42.1h.8v.8h-.8zM475.7 55.6h.8v.8h-.8zM471.9 38.4h.8v.8h-.8zM475.4 52.8h.8v.8h-.8zM473.7 55h.8v.8h-.8zM471.5 46.6h.8v.8h-.8zM477.8 47.3h.8v.8h-.8zM471.2 40.1h.8v.8h-.8zM474 50h.8v.8h-.8zM469.4 54.5h.8v.8h-.8zM472.4 39.7h.8v.8h-.8zM474.5 57h.8v.8h-.8zM475.2 49h.8v.8h-.8zM476.7 52.5h.8v.8h-.8zM473.9 52.2h.8v.8h-.8zM469.9 55.6h.8v.8h-.8zM469.6 42.8h.8v.8h-.8zM473 55.2h.8v.8h-.8zM474.4 50h.8v.8h-.8zM472.1 49.4h.8v.8h-.8zM473.6 48.4h.8v.8h-.8zM474.9 47.2h.8v.8h-.8zM477.6 47.9h.8v.8h-.8zM473.8 47.5h.8v.8h-.8zM471.3 44.2h.8v.8h-.8zM470.2 55h.8v.8h-.8zM467.5 48.7h.8v.8h-.8zM479.4 50.9h.8v.8h-.8zM472 51h.8v.8h-.8zM467.7 40.5h.8v.8h-.8zM473.9 53.8h.8v.8h-.8zM474 53.1h.8v.8h-.8zM471.4 50.7h.8v.8h-.8zM478.6 43.7h.8v.8h-.8zM476.2 46.3h.8v.8h-.8zM469 53.5h.8v.8h-.8zM470.1 54.8h.8v.8h-.8zM477.2 53.6h.8v.8h-.8zM471.4 49.6h.8v.8h-.8zM475 56.1h.8v.8h-.8zM481.7 41.2h.8v.8h-.8zM472.8 46.4h.8v.8h-.8zM470 61.6h.8v.8h-.8zM473 58.1h.8v.8h-.8zM473 46.8h.8v.8h-.8zM475.7 49.2h.8v.8h-.8zM478.5 50.6h.8v.8h-.8zM469.4 49.8h.8v.8h-.8zM478.4 44.4h.8v.8h-.8zM476.2 52.2h.8v.8h-.8zM476.8 51.3h.8v.8h-.8zM472.6 45.9h.8v.8h-.8zM471.7 49.8h.8v.8h-.8zM474.3 55.6h.8v.8h-.8zM473.3 59.4h.8v.8h-.8zM474 46.5h.8v.8h-.8zM475.1 46.8h.8v.8h-.8zM476 43.8h.8v.8h-.8zM468 51h.8v.8h-.8zM474 47.4h.8v.8h-.8zM475.9 48.1h.8v.8h-.8zM482.7 57.3h.8v.8h-.8zM478.2 50.6h.8v.8h-.8zM474 51.2h.8v.8h-.8zM474.5 43h.8v.8h-.8zM477.9 39.7h.8v.8h-.8zM469.4 44h.8v.8h-.8zM471.3 55h.8v.8h-.8zM471.5 48h.8v.8h-.8zM469.8 41.9h.8v.8h-.8zM467.1 54.6h.8v.8h-.8zM473.7 46.9h.8v.8h-.8zM476 52.9h.8v.8h-.8zM470 47h.8v.8h-.8zM476.1 57.9h.8v.8h-.8zM472.2 55.7h.8v.8h-.8zM477.3 56.4h.8v.8h-.8zM473.5 54.6h.8v.8h-.8zM475.8 48.1h.8v.8h-.8zM473.9 49.3h.8v.8h-.8zM468.9 50.8h.8v.8h-.8zM472.5 45.3h.8v.8h-.8zM475.4 56.9h.8v.8h-.8zM475.5 48h.8v.8h-.8zM469.6 55.3h.8v.8h-.8zM470.7 57.2h.8v.8h-.8zM471.8 52.6h.8v.8h-.8zM472.4 51.3h.8v.8h-.8zM476.5 53.7h.8v.8h-.8zM470.4 59h.8v.8h-.8zM476.3 52.6h.8v.8h-.8zM470.2 46.9h.8v.8h-.8zM470.4 46.2h.8v.8h-.8zM475.7 50.2h.8v.8h-.8zM472.2 50.9h.8v.8h-.8zM473.9 44.3h.8v.8h-.8zM475 50.4h.8v.8h-.8zM471 50h.8v.8h-.8zM467.1 56.9h.8v.8h-.8zM473.7 53.8h.8v.8h-.8zM471.4 53.4h.8v.8h-.8zM474.1 42.7h.8v.8h-.8zM473 61.1h.8v.8h-.8zM473.6 52.9h.8v.8h-.8zM475.5 57.1h.8v.8h-.8zM474.2 42.7h.8v.8h-.8zM475.2 55.5h.8v.8h-.8zM475.4 44.2h.8v.8h-.8zM473.7 48h.8v.8h-.8zM474.1 47.9h.8v.8h-.8zM477.1 52.2h.8v.8h-.8zM470.7 45h.8v.8h-.8zM471.5 51.3h.8v.8h-.8zM470.2 48.5h.8v.8h-.8zM476 51h.8v.8h-.8zM469.6 56.7h.8v.8h-.8zM482.2 48.5h.8v.8h-.8zM470.8 49h.8v.8h-.8zM477.1 43.6h.8v.8h-.8zM475.9 50h.8v.8h-.8zM477.8 50.9h.8v.8h-.8zM472.1 47.9h.8v.8h-.8zM475.1 49.6h.8v.8h-.8zM470.8 39.7h.8v.8h-.8zM474.2 47.5h.8v.8h-.8zM479.6 49.7h.8v.8h-.8zM479.2 50.7h.8v.8h-.8zM475.6 49.8h.8v.8h-.8zM474.1 54.8h.8v.8h-.8zM471.5 51.5h.8v.8h-.8zM478.5 45.3h.8v.8h-.8zM472.2 54.4h.8v.8h-.8zM474.9 53.7h.8v.8h-.8zM473.1 55.6h.8v.8h-.8zM473.2 49.2h.8v.8h-.8zM468.1 47.5h.8v.8h-.8zM473.7 58.5h.8v.8h-.8zM472.9 62.2h.8v.8h-.8zM470.4 51h.8v.8h-.8zM476.9 48h.8v.8h-.8zM472 53.3h.8v.8h-.8zM475.6 53.9h.8v.8h-.8zM479.9 52.6h.8v.8h-.8zM478.4 44.9h.8v.8h-.8zM470.5 51.6h.8v.8h-.8zM473.1 53.8h.8v.8h-.8zM472.9 55.4h.8v.8h-.8zM471.4 50.9h.8v.8h-.8zM469.8 50h.8v.8h-.8zM476.2 56.4h.8v.8h-.8zM478 46h.8v.8h-.8zM471.2 50h.8v.8h-.8zM473 47.2h.8v.8h-.8zM475 47.5h.8v.8h-.8zM475.4 59.6h.8v.8h-.8zM474.1 55.2h.8v.8h-.8zM472.5 46.1h.8v.8h-.8zM467.9 58.3h.8v.8h-.8zM480.2 38.8h.8v.8h-.8zM470.6 49.1h.8v.8h-.8zM470.7 48.1h.8v.8h-.8zM475.9 50.1h.8v.8h-.8zM476.1 42.7h.8v.8h-.8zM472.5 60.1h.8v.8h-.8zM471.5 42.1h.8v.8h-.8zM471.7 50.7h.8v.8h-.8zM465.6 52.4h.8v.8h-.8zM475.8 48.4h.8v.8h-.8zM473 50h.8v.8h-.8zM472.7 44.1h.8v.8h-.8zM471.6 53.7h.8v.8h-.8zM475.5 53h.8v.8h-.8zM470.5 53.4h.8v.8h-.8zM476.3 57.7h.8v.8h-.8zM475.5 51.2h.8v.8h-.8zM473.1 54.2h.8v.8h-.8zM476.5 39h.8v.8h-.8zM470.7 51.9h.8v.8h-.8zM476.5 43.6h.8v.8h-.8zM469.2 41.3h.8v.8h-.8zM477.3 54.2h.8v.8h-.8zM472.6 64.8h.8v.8h-.8zM479.6 55.4h.8v.8h-.8zM474.4 50.1h.8v.8h-.8zM476.3 46.8h.8v.8h-.8zM476.4 47.5h.8v.8h-.8zM476.3 50.4h.8v.8h-.8zM475.1 58h.8v.8h-.8zM475.9 50.4h.8v.8h-.8zM472.5 47.2h.8v.8h-.8zM470.4 56.3h.8v.8h-.8zM474 44.9h.8v.8h-.8zM477.7 47.7h.8v.8h-.8zM477.8 52.6h.8v.8h-.8zM475.8 51.9h.8v.8h-.8zM470.3 49.8h.8v.8h-.8zM472.2 46h.8v.8h-.8zM475 44.7h.8v.8h-.8zM469.8 47h.8v.8h-.8zM469.6 50.9h.8v.8h-.8zM475.3 51.1h.8v.8h-.8zM472.6 54.5h.8v.8h-.8zM475.2 58.6h.8v.8h-.8zM471.7 52.1h.8v.8h-.8zM472.4 48.3h.8v.8h-.8zM472.8 54.4h.8v.8h-.8zM471.8 45.4h.8v.8h-.8zM478.5 51.7h.8v.8h-.8zM474.6 54.7h.8v.8h-.8zM476.9 55.3h.8v.8h-.8zM471.2 49.6h.8v.8h-.8zM476.7 50.8h.8v.8h-.8zM477.3 58.1h.8v.8h-.8zM469.9 50.5h.8v.8h-.8zM470.6 47.3h.8v.8h-.8zM472.6 51.6h.8v.8h-.8zM474.7 44.6h.8v.8h-.8zM473.2 49.2h.8v.8h-.8zM470.6 51.8h.8v.8h-.8zM468.6 49.7h.8v.8h-.8zM473.3 59.6h.8v.8h-.8zM473.1 49.1h.8v.8h-.8zM476.3 45.2h.8v.8h-.8zM472.7 62.1h.8v.8h-.8zM477.5 52.9h.8v.8h-.8zM476.6 44.2h.8v.8h-.8zM476.7 47.8h.8v.8h-.8zM474.3 50.2h.8v.8h-.8zM474.5 47.9h.8v.8h-.8zM467.5 37.9h.8v.8h-.8zM467.3 51.1h.8v.8h-.8zM470.9 41.7h.8v.8h-.8zM477.2 51.2h.8v.8h-.8zM470.5 44.1h.8v.8h-.8zM475.4 49.7h.8v.8h-.8zM469.1 49.9h.8v.8h-.8zM467.7 58h.8v.8h-.8zM472.2 50.9h.8v.8h-.8zM470.2 44.2h.8v.8h-.8zM472.3 45.2h.8v.8h-.8zM467.3 53.1h.8v.8h-.8zM472 43.1h.8v.8h-.8zM474.1 48.8h.8v.8h-.8zM471.5 41.1h.8v.8h-.8zM472.7 38.3h.8v.8h-.8zM469.2 56.4h.8v.8h-.8zM474 42.3h.8v.8h-.8zM469.8 50.5h.8v.8h-.8zM475.5 49.2h.8v.8h-.8zM472.7 53.9h.8v.8h-.8zM476.9 42.7h.8v.8h-.8zM471.5 55.2h.8v.8h-.8zM474.6 43.6h.8v.8h-.8zM466.4 56.5h.8v.8h-.8zM472.1 50.6h.8v.8h-.8zM471.5 54.7h.8v.8h-.8zM476.1 57h.8v.8h-.8zM468.8 48.3h.8v.8h-.8zM475.3 49h.8v.8h-.8zM472.7 58.4h.8v.8h-.8zM473.1 42.9h.8v.8h-.8zM478.8 54.1h.8v.8h-.8zM473.6 53.1h.8v.8h-.8zM475 50.5h.8v.8h-.8zM475.6 49.8h.8v.8h-.8zM475.4 62.3h.8v.8h-.8zM472.4 37.8h.8v.8h-.8zM478.2 53h.8v.8h-.8zM471.1 52.7h.8v.8h-.8zM468.3 55.2h.8v.8h-.8zM466.3 53.6h.8v.8h-.8zM477.5 48.2h.8v.8h-.8zM474.7 52.9h.8v.8h-.8zM467.7 48.6h.8v.8h-.8zM478.6 51h.8v.8h-.8zM480.5 51.1h.8v.8h-.8zM472.1 49.5h.8v.8h-.8zM471.2 39.1h.8v.8h-.8zM472.9 57.8h.8v.8h-.8zM470.5 45.8h.8v.8h-.8zM471.4 56.7h.8v.8h-.8zM477.1 47.8h.8v.8h-.8zM475.5 57h.8v.8h-.8zM473.5 48.9h.8v.8h-.8zM475.9 46.4h.8v.8h-.8zM474 54.7h.8v.8h-.8zM479 56h.8v.8h-.8zM474.9 46h.8v.8h-.8zM475.8 50.7h.8v.8h-.8zM479.5 51.2h.8v.8h-.8zM473.6 47.7h.8v.8h-.8zM472.9 53h.8v.8h-.8zM469.8 48.7h.8v.8h-.8zM469.3 43.5h.8v.8h-.8zM475.2 47h.8v.8h-.8zM471.9 52.5h.8v.8h-.8zM470.8 48.4h.8v.8h-.8zM472.6 46.7h.8v.8h-.8zM470.5 56.9h.8v.8h-.8zM474.9 54.2h.8v.8h-.8zM469.1 48.2h.8v.8h-.8zM475.9 54.8h.8v.8h-.8zM470.4 52.6h.8v.8h-.8zM477.9 54.4h.8v.8h-.8zM472.7 47.2h.8v.8h-.8zM467.7 48.8h.8v.8h-.8zM473.5 50.3h.8v.8h-.8zM472.6 54.4h.8v.8h-.8zM476.9 45h.8v.8h-.8zM469 54.8h.8v.8h-.8zM469 53.3h.8v.8h-.8zM470.1 59.6h.8v.8h-.8zM467.5 53.6h.8v.8h-.8zM471.6 50.6h.8v.8h-.8zM470.4 55h.8v.8h-.8zM466.6 56.2h.8v.8h-.8zM468.1 56.6h.8v.8h-.8zM470.1 54.3h.8v.8h-.8zM469.4 55.7h.8v.8h-.8zM470.3 47.7h.8v.8h-.8zM468.3 57.8h.8v.8h-.8zM468.5 59.7h.8v.8h-.8zM467.5 53.4h.8v.8h-.8zM468.7 49h.8v.8h-.8zM474.3 51.4h.8v.8h-.8zM468.8 46h.8v.8h-.8zM469.5 51.6h.8v.8h-.8zM470.7 55.9h.8v.8h-.8zM472.5 53.5h.8v.8h-.8zM469.4 54.3h.8v.8h-.8zM469.5 52.3h.8v.8h-.8zM468.3 59.6h.8v.8h-.8zM471 50.1h.8v.8h-.8zM469.3 55.5h.8v.8h-.8zM465.8 57.6h.8v.8h-.8zM466.6 56.8h.8v.8h-.8zM471.4 52.6h.8v.8h-.8zM470.4 58.7h.8v.8h-.8zM467.4 57.5h.8v.8h-.8zM472.9 60h.8v.8h-.8zM466.9 45.3h.8v.8h-.8zM467.9 51.1h.8v.8h-.8zM472 52.9h.8v.8h-.8zM472.9 50h.8v.8h-.8zM467.3 55.8h.8v.8h-.8zM466.1 62.4h.8v.8h-.8zM466.8 57.5h.8v.8h-.8zM469.8 62.3h.8v.8h-.8zM474 55.6h.8v.8h-.8zM469.9 57.9h.8v.8h-.8zM468.6 59.7h.8v.8h-.8zM465.4 52.2h.8v.8h-.8zM465.3 56.2h.8v.8h-.8zM472.4 56.9h.8v.8h-.8zM468.1 54.7h.8v.8h-.8zM472.3 54.5h.8v.8h-.8zM467.3 55.8h.8v.8h-.8zM464.2 54.5h.8v.8h-.8zM468.7 53.9h.8v.8h-.8zM466.8 63.8h.8v.8h-.8zM471.7 59h.8v.8h-.8zM471.6 51h.8v.8h-.8zM468.5 54.7h.8v.8h-.8zM468.6 58.4h.8v.8h-.8zM468.8 61.4h.8v.8h-.8zM468.8 56.2h.8v.8h-.8zM471.4 56.8h.8v.8h-.8zM466.1 57.6h.8v.8h-.8zM467.2 62.1h.8v.8h-.8zM473.8 51.8h.8v.8h-.8zM471.3 54.1h.8v.8h-.8zM464.2 58.1h.8v.8h-.8zM471.6 62.9h.8v.8h-.8zM469.9 52.4h.8v.8h-.8zM472.1 55.6h.8v.8h-.8zM469.5 57.9h.8v.8h-.8zM467.1 58.2h.8v.8h-.8zM468.9 49.3h.8v.8h-.8zM470.5 49h.8v.8h-.8zM467.1 57.7h.8v.8h-.8zM466.8 58.8h.8v.8h-.8zM465.8 56.1h.8v.8h-.8zM471 53.6h.8v.8h-.8zM467.5 54.5h.8v.8h-.8zM466 53.3h.8v.8h-.8zM467.8 51.6h.8v.8h-.8zM470.5 58.3h.8v.8h-.8zM468.7 58h.8v.8h-.8zM472.5 52.7h.8v.8h-.8zM474.6 52.1h.8v.8h-.8zM468.7 58.9h.8v.8h-.8zM466.4 55.6h.8v.8h-.8zM468.1 56.3h.8v.8h-.8zM473.4 51.8h.8v.8h-.8zM466.9 53.6h.8v.8h-.8zM466.5 52.6h.8v.8h-.8zM466.1 60h.8v.8h-.8zM468.9 59.3h.8v.8h-.8zM470.9 49.9h.8v.8h-.8zM469.7 58.9h.8v.8h-.8zM467.5 55.2h.8v.8h-.8zM468.8 49.9h.8v.8h-.8zM467.5 58.2h.8v.8h-.8zM469.6 57.9h.8v.8h-.8zM466.2 53.3h.8v.8h-.8zM471.4 49.5h.8v.8h-.8zM468.6 50.3h.8v.8h-.8zM469.2 59.8h.8v.8h-.8zM472.5 51.2h.8v.8h-.8zM478.3 60.1h.8v.8h-.8zM480.1 67.2h.8v.8h-.8zM487.5 63.2h.8v.8h-.8zM474.1 66.9h.8v.8h-.8zM482.1 62.7h.8v.8h-.8zM482.1 67.2h.8v.8h-.8zM481.5 66.6h.8v.8h-.8zM474.1 72.5h.8v.8h-.8zM477.7 69.8h.8v.8h-.8zM479.5 80.1h.8v.8h-.8zM486.7 72.7h.8v.8h-.8zM482.5 68h.8v.8h-.8zM485.1 63.5h.8v.8h-.8zM473.3 76.3h.8v.8h-.8zM479.6 75.3h.8v.8h-.8zM480.1 74.3h.8v.8h-.8zM484.1 69.5h.8v.8h-.8zM477.7 72.5h.8v.8h-.8zM484.2 61.3h.8v.8h-.8zM479.8 70.4h.8v.8h-.8zM479.4 66.4h.8v.8h-.8zM480.1 76h.8v.8h-.8zM475.3 81.3h.8v.8h-.8zM480.7 74.4h.8v.8h-.8zM481.7 77.4h.8v.8h-.8zM473.9 70.8h.8v.8h-.8zM482.8 66.6h.8v.8h-.8zM470.6 69.8h.8v.8h-.8zM471.2 64.9h.8v.8h-.8zM474.6 64.2h.8v.8h-.8zM476.6 70.1h.8v.8h-.8zM471.4 65.3h.8v.8h-.8zM478.7 57.9h.8v.8h-.8zM478.2 80.4h.8v.8h-.8zM478.8 71.2h.8v.8h-.8zM481.1 71.3h.8v.8h-.8zM479.6 79.1h.8v.8h-.8zM470.4 69.9h.8v.8h-.8zM477 72.7h.8v.8h-.8zM477.9 73.7h.8v.8h-.8zM479.6 58.8h.8v.8h-.8zM473.6 68.7h.8v.8h-.8zM472.8 67.5h.8v.8h-.8zM482.2 62.4h.8v.8h-.8zM474 72.5h.8v.8h-.8zM476.2 71.1h.8v.8h-.8zM485.1 74.7h.8v.8h-.8zM476.2 71.6h.8v.8h-.8zM479.4 70.8h.8v.8h-.8zM473.8 73.3h.8v.8h-.8zM484.3 66.3h.8v.8h-.8zM474.1 74.3h.8v.8h-.8zM480.9 70.9h.8v.8h-.8zM473.5 73h.8v.8h-.8zM474.6 60.4h.8v.8h-.8zM475.9 74.4h.8v.8h-.8zM480.6 73.6h.8v.8h-.8zM481.2 79.2h.8v.8h-.8zM473.4 64.4h.8v.8h-.8zM482.7 72.8h.8v.8h-.8zM455.5 86.2h.8v.8h-.8zM456.1 86.9h.8v.8h-.8zM453.4 85.6h.8v.8h-.8zM456.6 86.7h.8v.8h-.8zM452.9 86.6h.8v.8h-.8zM459.3 90.8h.8v.8h-.8zM449.8 86.7h.8v.8h-.8zM447 87.1h.8v.8h-.8zM460.4 88.3h.8v.8h-.8zM456.6 86.2h.8v.8h-.8zM461.1 88.2h.8v.8h-.8zM447.6 86.4h.8v.8h-.8zM455.2 86.3h.8v.8h-.8zM453 89.2h.8v.8h-.8zM459.7 88h.8v.8h-.8zM454.6 88.6h.8v.8h-.8zM456.9 86.3h.8v.8h-.8zM448.4 88h.8v.8h-.8zM452 84.8h.8v.8h-.8zM461.2 85.7h.8v.8h-.8zM456.8 88.1h.8v.8h-.8zM446.8 86.5h.8v.8h-.8zM455.9 89.2h.8v.8h-.8zM457.3 88h.8v.8h-.8zM462.2 87.4h.8v.8h-.8zM459.4 85.7h.8v.8h-.8zM456 86.6h.8v.8h-.8zM455.1 88.5h.8v.8h-.8zM461.5 87.1h.8v.8h-.8zM458.4 86.4h.8v.8h-.8zM459.1 85.2h.8v.8h-.8zM457.9 87.8h.8v.8h-.8zM454.4 85.5h.8v.8h-.8zM452.4 88.9h.8v.8h-.8zM446.5 86.2h.8v.8h-.8zM454.5 88.2h.8v.8h-.8zM459.6 86h.8v.8h-.8zM458.3 84.7h.8v.8h-.8zM453.7 85.5h.8v.8h-.8zM459.6 86.4h.8v.8h-.8zM467.2 86.3h.8v.8h-.8zM457.3 87.1h.8v.8h-.8zM468.1 87h.8v.8h-.8zM448.9 84.3h.8v.8h-.8zM459.9 87.9h.8v.8h-.8zM455.1 87.5h.8v.8h-.8zM461.9 89.3h.8v.8h-.8zM452.4 86.9h.8v.8h-.8zM451 88.1h.8v.8h-.8zM456 85.7h.8v.8h-.8zM461 87.7h.8v.8h-.8zM456.5 87.8h.8v.8h-.8zM446.8 85.3h.8v.8h-.8zM456.1 86.8h.8v.8h-.8zM465 89.3h.8v.8h-.8zM481.3 87.1h.8v.8h-.8zM472.7 87.6h.8v.8h-.8zM471.9 84.9h.8v.8h-.8zM469.8 86.3h.8v.8h-.8zM486.4 87.5h.8v.8h-.8zM475.1 87.2h.8v.8h-.8zM472.3 89h.8v.8h-.8zM479 89.4h.8v.8h-.8zM471.1 86.2h.8v.8h-.8zM485 85.6h.8v.8h-.8zM475.4 87.9h.8v.8h-.8zM473.7 85.4h.8v.8h-.8zM475.7 88.5h.8v.8h-.8zM478.3 86.7h.8v.8h-.8zM486.2 88.9h.8v.8h-.8zM479.9 87.4h.8v.8h-.8zM481.9 87.5h.8v.8h-.8zM475.3 86.5h.8v.8h-.8zM480.6 88.3h.8v.8h-.8zM478 88.8h.8v.8h-.8zM473 87.7h.8v.8h-.8zM478.1 86.4h.8v.8h-.8zM475.2 87.2h.8v.8h-.8zM478.7 86.7h.8v.8h-.8zM468.1 84.1h.8v.8h-.8zM477.9 89.1h.8v.8h-.8zM486.7 88.5h.8v.8h-.8zM472.3 85.7h.8v.8h-.8zM481.3 87.6h.8v.8h-.8zM473.3 86.8h.8v.8h-.8zM482.5 66.9h.8v.8h-.8zM451.6 84.6h.8v.8h-.8zM476.3 48.2h.8v.8h-.8zM459.4 72.9h.8v.8h-.8zM476 59h.8v.8h-.8zM477.5 37.1h.8v.8h-.8zM452.6 39.2h.8v.8h-.8zM478.7 76h.8v.8h-.8zM479.7 70.6h.8v.8h-.8zM458.7 63.4h.8v.8h-.8zM463.8 42h.8v.8h-.8zM485.7 41.4h.8v.8h-.8zM455.5 77.4h.8v.8h-.8zM488.7 39.2h.8v.8h-.8zM483.3 47.7h.8v.8h-.8z" fill="#000" fill-opacity="0.7"/>
<ellipse cx="435.05" cy="88.55" rx="1.05" ry="1.65" fill="#111"/>
<rect x="442.1" y="38.2" width="23.6" height="41" fill="none" stroke="#505050" stroke-width="0.9"/>
<rect x="442.1" y="79.2" width="23.6" height="12.7" fill="none" stroke="#505050" stroke-width="0.9"/>
<rect x="465.7" y="38.2" width="7.2" height="26" fill="none" stroke="#505050" stroke-width="0.9"/>
<rect x="472.9" y="38.2" width="14.8" height="26" fill="none" stroke="#505050" stroke-width="0.9"/>
<rect x="473.1" y="65" width="15.6" height="13.8" fill="none" stroke="#505050" stroke-width="0.9"/>
<text x="440.7" y="38.4" font-size="4.9" fill="#444" stroke="none" text-anchor="middle">S1</text>
<text x="494.2" y="38.4" font-size="4.9" fill="#444" stroke="none" text-anchor="middle">S2</text>
<text x="496.4" y="60.3" font-size="4.9" fill="#444" stroke="none" text-anchor="middle">S3</text>
<text x="495.7" y="82.7" font-size="4.9" fill="#444" stroke="none" text-anchor="middle">S4</text>
<text x="440.9" y="102.5" font-size="4.9" fill="#444" stroke="none" text-anchor="middle">S0</text>
<path d="M434.3 37.6h2.2M434.3 55.5h2.2M434.3 75.8h2.2M434.3 88.2h2.2M434.3 100.8h2.2M435.4 50.11h1.1M435.4 46.96h1.1M435.4 44.72h1.1M435.4 42.99h1.1M435.4 41.57h1.1M435.4 40.37h1.1M435.4 39.33h1.1M435.4 38.42h1.1M435.4 69.69h1.1M435.4 66.11h1.1M435.4 63.58h1.1M435.4 61.61h1.1M435.4 60h1.1M435.4 58.64h1.1M435.4 57.47h1.1M435.4 56.43h1.1M435.4 80.5h1.1M435.4 83h1.1M435.4 85.5h1.1M435.4 90.8h1.1M435.4 93.3h1.1M435.4 95.8h1.1M435.4 98.3h1.1M435.4 103.5h1.1M435.4 105.5h1.1M443 105.9v2.2M459.4 105.9v2.2M475 105.9v2.2M490.5 105.9v2.2M505.5 105.9v2.2M447.94 105.9v1.1M450.82 105.9v1.1M452.87 105.9v1.1M454.46 105.9v1.1M455.76 105.9v1.1M456.86 105.9v1.1M457.81 105.9v1.1M458.65 105.9v1.1M464.34 105.9v1.1M467.22 105.9v1.1M469.27 105.9v1.1M470.86 105.9v1.1M472.16 105.9v1.1M473.26 105.9v1.1M474.21 105.9v1.1M475.05 105.9v1.1M479.94 105.9v1.1M482.82 105.9v1.1M484.87 105.9v1.1M486.46 105.9v1.1M487.76 105.9v1.1M488.86 105.9v1.1M489.81 105.9v1.1M490.65 105.9v1.1M495.44 105.9v1.1M498.32 105.9v1.1M500.37 105.9v1.1M501.96 105.9v1.1M503.26 105.9v1.1M504.36 105.9v1.1M505.31 105.9v1.1M506.15 105.9v1.1M510.44 105.9v1.1M438.06 105.9v1.1M439.36 105.9v1.1M440.46 105.9v1.1M441.41 105.9v1.1M442.25 105.9v1.1" stroke="#333" stroke-width="0.8" fill="none"/>
<text x="431.2" y="41.8" font-size="8.2" text-anchor="end" fill="#1a1a1a">10<tspan font-size="6.6" dy="-2.6">5</tspan></text>
<text x="431.2" y="59.7" font-size="8.2" text-anchor="end" fill="#1a1a1a">10<tspan font-size="6.6" dy="-2.6">4</tspan></text>
<text x="431.2" y="80" font-size="8.2" text-anchor="end" fill="#1a1a1a">10<tspan font-size="6.6" dy="-2.6">3</tspan></text>
<text x="431.2" y="92.4" font-size="8.2" text-anchor="end" fill="#1a1a1a">0</text>
<text x="431.2" y="105" font-size="8.2" text-anchor="end" fill="#1a1a1a">-10<tspan font-size="6.6" dy="-2.6">3</tspan></text>
<text x="444.2" y="118.3" font-size="8.2" text-anchor="middle" fill="#1a1a1a">10<tspan font-size="5.8" dy="-2.8">1</tspan></text>
<text x="460.6" y="118.3" font-size="8.2" text-anchor="middle" fill="#1a1a1a">10<tspan font-size="5.8" dy="-2.8">2</tspan></text>
<text x="476.2" y="118.3" font-size="8.2" text-anchor="middle" fill="#1a1a1a">10<tspan font-size="5.8" dy="-2.8">3</tspan></text>
<text x="491.7" y="118.3" font-size="8.2" text-anchor="middle" fill="#1a1a1a">10<tspan font-size="5.8" dy="-2.8">4</tspan></text>
<text x="506.7" y="118.3" font-size="8.2" text-anchor="middle" fill="#1a1a1a">10<tspan font-size="5.8" dy="-2.8">5</tspan></text>
<text x="473" y="24.1" font-size="10" text-anchor="middle" fill="#1a1a1a" stroke="none" textLength="38.6" lengthAdjust="spacingAndGlyphs">LV: <tspan font-style="italic">EGFP</tspan></text>
<text x="411" y="69.4" font-size="10" text-anchor="middle" fill="#333" stroke="none" transform="rotate(-90 411 69.4)" textLength="33.1" lengthAdjust="spacingAndGlyphs">Untreated</text>
<rect x="436.3" y="128.4" width="75.6" height="75.4" fill="#fff" stroke="#a8a8a8" stroke-width="1"/>
<ellipse cx="462.6" cy="164.4" rx="2.8" ry="9.5" fill="url(#rg)" opacity="0.5"/>
<path d="M462.4 158.7h.8v.8h-.8zM464.2 159.1h.8v.8h-.8zM460.5 175.9h.8v.8h-.8zM459.5 166h.8v.8h-.8zM457.6 180.1h.8v.8h-.8zM456.2 161.2h.8v.8h-.8zM458.9 161.1h.8v.8h-.8zM454.7 160h.8v.8h-.8zM463.5 159.9h.8v.8h-.8zM465.2 155h.8v.8h-.8zM460.3 172.1h.8v.8h-.8zM459.7 163.5h.8v.8h-.8zM464.5 157.3h.8v.8h-.8zM456.9 165.2h.8v.8h-.8zM462.2 153.8h.8v.8h-.8zM458.5 169.9h.8v.8h-.8zM469.7 153.6h.8v.8h-.8zM469.9 162h.8v.8h-.8zM458.9 160h.8v.8h-.8zM457.8 173.2h.8v.8h-.8zM467.5 152.3h.8v.8h-.8zM458.1 170.3h.8v.8h-.8zM461.5 150.9h.8v.8h-.8zM459.4 161.6h.8v.8h-.8zM461.9 164.3h.8v.8h-.8zM461.9 172.4h.8v.8h-.8zM456.2 161.4h.8v.8h-.8zM458.4 161.2h.8v.8h-.8zM463.7 168.9h.8v.8h-.8zM463.5 159h.8v.8h-.8zM458 161.9h.8v.8h-.8zM471.7 163.1h.8v.8h-.8zM462.2 147h.8v.8h-.8zM459.9 159.5h.8v.8h-.8zM453.2 183.2h.8v.8h-.8zM454.2 166.8h.8v.8h-.8zM467.2 154.7h.8v.8h-.8zM464.7 174.5h.8v.8h-.8zM460.6 155.9h.8v.8h-.8zM464.4 161.1h.8v.8h-.8zM458 165.6h.8v.8h-.8zM457.4 169.1h.8v.8h-.8zM462.8 175.9h.8v.8h-.8zM454.2 150.5h.8v.8h-.8zM458.8 159.2h.8v.8h-.8zM464 162.2h.8v.8h-.8zM452.8 161.2h.8v.8h-.8zM464.7 143.5h.8v.8h-.8zM461.2 152h.8v.8h-.8zM459.3 165.7h.8v.8h-.8zM468.1 158h.8v.8h-.8zM458.3 158.9h.8v.8h-.8zM461.4 162.1h.8v.8h-.8zM457.8 164.6h.8v.8h-.8zM461.8 158.6h.8v.8h-.8zM456.1 164.7h.8v.8h-.8zM459.4 157.8h.8v.8h-.8zM458.1 159.9h.8v.8h-.8zM458.4 166h.8v.8h-.8zM463 151.9h.8v.8h-.8zM465.6 159.5h.8v.8h-.8zM462 157.8h.8v.8h-.8zM464.2 149.9h.8v.8h-.8zM460.7 149h.8v.8h-.8zM465 160.5h.8v.8h-.8zM464.1 149.3h.8v.8h-.8zM461 150.7h.8v.8h-.8zM455 174.6h.8v.8h-.8zM466.2 169.5h.8v.8h-.8zM463.1 152.4h.8v.8h-.8zM455.2 157.9h.8v.8h-.8zM463.3 160.6h.8v.8h-.8zM461.9 154.8h.8v.8h-.8zM454.8 172h.8v.8h-.8zM460.2 159.3h.8v.8h-.8zM458.4 166.1h.8v.8h-.8zM456.8 166.1h.8v.8h-.8zM456 174.1h.8v.8h-.8zM454.9 166.4h.8v.8h-.8zM461.8 167.1h.8v.8h-.8zM455.2 166.7h.8v.8h-.8zM454.3 171.1h.8v.8h-.8zM458.8 166.8h.8v.8h-.8zM459.2 170.5h.8v.8h-.8zM464.9 148.9h.8v.8h-.8zM463 179.4h.8v.8h-.8zM465.4 151.8h.8v.8h-.8zM452.4 164.7h.8v.8h-.8zM458.2 153.6h.8v.8h-.8zM465.7 161.1h.8v.8h-.8zM463.3 153.4h.8v.8h-.8zM464.6 156.6h.8v.8h-.8zM454.1 171.5h.8v.8h-.8zM458.2 164.9h.8v.8h-.8zM459.5 159.9h.8v.8h-.8zM465.4 165.4h.8v.8h-.8zM458.7 161.7h.8v.8h-.8zM460.2 162.5h.8v.8h-.8zM465.8 146.8h.8v.8h-.8zM464.2 163h.8v.8h-.8zM460.9 172.4h.8v.8h-.8zM455.5 163.7h.8v.8h-.8zM464.3 151.8h.8v.8h-.8zM454.7 159.5h.8v.8h-.8zM461.5 173.5h.8v.8h-.8zM466 153.8h.8v.8h-.8zM463.9 156.1h.8v.8h-.8zM458.6 171.7h.8v.8h-.8zM465.6 162h.8v.8h-.8zM465.3 165h.8v.8h-.8zM461.6 160.5h.8v.8h-.8zM460.4 162.8h.8v.8h-.8zM458.7 168.4h.8v.8h-.8zM463.1 160.2h.8v.8h-.8zM457.3 157.3h.8v.8h-.8zM459.3 155.7h.8v.8h-.8zM459.4 151.6h.8v.8h-.8zM461.3 154.7h.8v.8h-.8zM459.2 162.5h.8v.8h-.8zM458.7 170.8h.8v.8h-.8zM465.3 143.4h.8v.8h-.8zM460.5 155.4h.8v.8h-.8zM455.1 172h.8v.8h-.8zM468.5 146h.8v.8h-.8zM458.2 167.8h.8v.8h-.8zM460.6 152.5h.8v.8h-.8zM463.2 153.1h.8v.8h-.8zM463.3 166.1h.8v.8h-.8zM454.5 161.4h.8v.8h-.8zM452.8 180.2h.8v.8h-.8zM463.4 166h.8v.8h-.8zM461.5 165.3h.8v.8h-.8zM466.7 145h.8v.8h-.8zM465.9 155.7h.8v.8h-.8zM461.9 161.3h.8v.8h-.8zM461.4 179.9h.8v.8h-.8zM455.8 180.3h.8v.8h-.8zM459.9 163.4h.8v.8h-.8zM462.2 148.5h.8v.8h-.8zM456.2 159.2h.8v.8h-.8zM460 157.4h.8v.8h-.8zM458.5 169.1h.8v.8h-.8zM465 166.5h.8v.8h-.8zM458.5 161.3h.8v.8h-.8zM462 158.4h.8v.8h-.8zM458.8 166.1h.8v.8h-.8zM461 156.4h.8v.8h-.8zM467.9 163.1h.8v.8h-.8zM456.2 173.5h.8v.8h-.8zM458.9 147.5h.8v.8h-.8zM456.5 175.1h.8v.8h-.8zM453.1 164h.8v.8h-.8zM460.5 165.2h.8v.8h-.8zM454.8 151.8h.8v.8h-.8zM458.9 171.6h.8v.8h-.8zM459.3 160.8h.8v.8h-.8zM455.4 155.5h.8v.8h-.8zM460.6 162.6h.8v.8h-.8zM458.5 169.4h.8v.8h-.8zM458.7 159.7h.8v.8h-.8zM469.2 161.4h.8v.8h-.8zM456.6 161.1h.8v.8h-.8zM461.1 158h.8v.8h-.8zM457.6 149.9h.8v.8h-.8zM457.4 168.1h.8v.8h-.8zM463 158.1h.8v.8h-.8zM457.6 156.5h.8v.8h-.8zM454.8 164.8h.8v.8h-.8zM455.3 159.1h.8v.8h-.8zM460.8 174.3h.8v.8h-.8zM457.8 165.1h.8v.8h-.8zM464.5 170.1h.8v.8h-.8zM468.3 149.7h.8v.8h-.8zM463.4 140.9h.8v.8h-.8zM465.9 156.8h.8v.8h-.8zM460.6 158.4h.8v.8h-.8zM462.8 161h.8v.8h-.8zM453.6 152.3h.8v.8h-.8zM451.6 169.4h.8v.8h-.8zM462.9 171.3h.8v.8h-.8zM459.3 159.1h.8v.8h-.8zM458.4 174.1h.8v.8h-.8zM454.4 163h.8v.8h-.8zM452.9 165.6h.8v.8h-.8zM456.2 158.7h.8v.8h-.8zM464.9 146h.8v.8h-.8zM452.9 146.8h.8v.8h-.8zM455.3 152.8h.8v.8h-.8zM453.2 163.1h.8v.8h-.8zM458 169.2h.8v.8h-.8zM456.9 148.4h.8v.8h-.8zM465.9 145.9h.8v.8h-.8zM455.2 151.1h.8v.8h-.8zM463.2 159.8h.8v.8h-.8zM460 168.5h.8v.8h-.8zM453 168.2h.8v.8h-.8zM465.2 151.7h.8v.8h-.8zM464.6 162.1h.8v.8h-.8zM457.7 148.9h.8v.8h-.8zM466 170.5h.8v.8h-.8zM463.3 147.1h.8v.8h-.8zM452.8 145.9h.8v.8h-.8zM460.4 153.5h.8v.8h-.8zM465.9 157.6h.8v.8h-.8zM466.2 156.6h.8v.8h-.8zM461.9 149.1h.8v.8h-.8zM462.9 160.8h.8v.8h-.8zM461.8 159.2h.8v.8h-.8zM455.9 167.9h.8v.8h-.8zM462.7 156.2h.8v.8h-.8zM456.7 176.5h.8v.8h-.8zM454.5 170.2h.8v.8h-.8zM465 168.3h.8v.8h-.8zM450.3 168.7h.8v.8h-.8zM457.1 166.9h.8v.8h-.8zM459.8 166.8h.8v.8h-.8zM459.1 159.1h.8v.8h-.8zM458.8 170.8h.8v.8h-.8zM462.6 156.2h.8v.8h-.8zM466.1 172.7h.8v.8h-.8zM459.9 154.7h.8v.8h-.8zM464 162.8h.8v.8h-.8zM461.4 163.8h.8v.8h-.8zM458.9 169.2h.8v.8h-.8zM459.4 142.2h.8v.8h-.8zM460.5 167.1h.8v.8h-.8zM461.4 165.7h.8v.8h-.8zM459.8 152.3h.8v.8h-.8zM462.9 167.2h.8v.8h-.8zM457 169.1h.8v.8h-.8zM461 146.7h.8v.8h-.8zM462.9 152.1h.8v.8h-.8zM460.6 139.2h.8v.8h-.8zM465.6 155.7h.8v.8h-.8zM462.2 157.1h.8v.8h-.8zM456 164.6h.8v.8h-.8zM455.5 166.9h.8v.8h-.8zM464.3 156.7h.8v.8h-.8zM454.3 173.2h.8v.8h-.8zM455.6 163.4h.8v.8h-.8zM460.9 161.3h.8v.8h-.8zM453.8 170.4h.8v.8h-.8zM457 162.7h.8v.8h-.8zM465.8 165.7h.8v.8h-.8zM459.1 159.8h.8v.8h-.8zM465.9 158.5h.8v.8h-.8zM454 160.8h.8v.8h-.8zM459.9 160.7h.8v.8h-.8zM459.7 155.6h.8v.8h-.8zM459.2 151.5h.8v.8h-.8zM461.9 154.9h.8v.8h-.8zM456.8 166.8h.8v.8h-.8zM457.1 165.2h.8v.8h-.8zM463.5 162h.8v.8h-.8zM458.1 165.6h.8v.8h-.8zM457.2 160.5h.8v.8h-.8zM459 158.3h.8v.8h-.8zM455.9 159.5h.8v.8h-.8zM467.4 153h.8v.8h-.8zM464.5 152.8h.8v.8h-.8zM462.3 163.9h.8v.8h-.8zM460.6 164.6h.8v.8h-.8zM464.7 167.2h.8v.8h-.8zM460.5 165h.8v.8h-.8zM463.6 164.4h.8v.8h-.8zM461.1 163.3h.8v.8h-.8zM461.7 170.4h.8v.8h-.8zM466.1 156.6h.8v.8h-.8zM463.6 169.1h.8v.8h-.8zM460.3 158.5h.8v.8h-.8zM461.6 161.3h.8v.8h-.8zM461.8 157.7h.8v.8h-.8zM458.4 167.7h.8v.8h-.8zM462.3 177.1h.8v.8h-.8zM461.7 155.2h.8v.8h-.8zM461.8 168.9h.8v.8h-.8zM461.9 156.6h.8v.8h-.8zM463.8 165.9h.8v.8h-.8zM462.7 163.1h.8v.8h-.8zM461.8 164.7h.8v.8h-.8zM462.2 159.4h.8v.8h-.8zM461.4 160.2h.8v.8h-.8zM463 162.8h.8v.8h-.8zM465.9 162.8h.8v.8h-.8zM463.6 164.5h.8v.8h-.8zM458.6 166.3h.8v.8h-.8zM462.7 164.6h.8v.8h-.8zM463.2 160.7h.8v.8h-.8zM463.1 175.5h.8v.8h-.8zM459.3 157.4h.8v.8h-.8zM463 163.1h.8v.8h-.8zM460.4 156.3h.8v.8h-.8zM459.6 159.6h.8v.8h-.8zM462 156.8h.8v.8h-.8zM464.8 157h.8v.8h-.8zM462.7 172.8h.8v.8h-.8zM465 158.5h.8v.8h-.8zM463.5 162.4h.8v.8h-.8zM463 170.4h.8v.8h-.8zM461.7 161.9h.8v.8h-.8zM465.5 169.9h.8v.8h-.8zM461.5 165.2h.8v.8h-.8zM463.2 164.2h.8v.8h-.8zM461.1 151.5h.8v.8h-.8zM462.7 157.1h.8v.8h-.8zM463 173.9h.8v.8h-.8zM465.4 177.9h.8v.8h-.8zM460.9 163h.8v.8h-.8zM457.8 169h.8v.8h-.8zM465.2 171.2h.8v.8h-.8zM463.8 168.3h.8v.8h-.8zM462.9 174.1h.8v.8h-.8zM461.7 160.5h.8v.8h-.8zM459.1 162.7h.8v.8h-.8zM464.8 166.7h.8v.8h-.8zM460.7 173.1h.8v.8h-.8zM465.1 155h.8v.8h-.8zM459.6 173.3h.8v.8h-.8zM462.9 156.3h.8v.8h-.8zM463.5 163h.8v.8h-.8zM461.1 173.5h.8v.8h-.8zM460.1 150.6h.8v.8h-.8zM464.8 157.7h.8v.8h-.8zM460.9 167.4h.8v.8h-.8zM464.3 162.7h.8v.8h-.8zM462.8 165.5h.8v.8h-.8zM466 170.9h.8v.8h-.8zM462.1 170.3h.8v.8h-.8zM464.2 162.9h.8v.8h-.8zM464.1 160.3h.8v.8h-.8zM465.6 151.5h.8v.8h-.8zM458.6 161.6h.8v.8h-.8zM462.1 169.1h.8v.8h-.8zM463.1 153.8h.8v.8h-.8zM464.9 161.5h.8v.8h-.8zM463.3 163.4h.8v.8h-.8zM464.1 163.2h.8v.8h-.8zM461 150.9h.8v.8h-.8zM464.6 158.2h.8v.8h-.8zM463 157.5h.8v.8h-.8zM462.1 161.1h.8v.8h-.8zM465 173.4h.8v.8h-.8zM459.2 161.3h.8v.8h-.8zM463.9 166h.8v.8h-.8zM462.5 156.6h.8v.8h-.8zM464.7 172.3h.8v.8h-.8zM461.3 163h.8v.8h-.8zM462.8 173.6h.8v.8h-.8zM464.7 164h.8v.8h-.8zM463.3 173.6h.8v.8h-.8zM461.7 155.4h.8v.8h-.8zM459.5 169.9h.8v.8h-.8zM462 176.5h.8v.8h-.8zM467.4 156.3h.8v.8h-.8zM461.4 163.5h.8v.8h-.8zM462.6 162.9h.8v.8h-.8zM462.8 159h.8v.8h-.8zM463.2 163.1h.8v.8h-.8zM464.8 161.7h.8v.8h-.8zM461.7 172.3h.8v.8h-.8zM466.8 163.8h.8v.8h-.8zM460.6 167.3h.8v.8h-.8zM464.7 170.3h.8v.8h-.8zM463.1 166.9h.8v.8h-.8zM462.1 164.9h.8v.8h-.8zM461.2 170.6h.8v.8h-.8zM463.6 159.3h.8v.8h-.8zM462 159.5h.8v.8h-.8zM462 169.4h.8v.8h-.8zM462.1 165.5h.8v.8h-.8zM458.7 161.4h.8v.8h-.8zM460.4 168.9h.8v.8h-.8zM460.4 161.8h.8v.8h-.8zM463.2 164.8h.8v.8h-.8zM461.8 177.2h.8v.8h-.8zM465.4 166.1h.8v.8h-.8zM462.9 164.8h.8v.8h-.8zM464.6 172.3h.8v.8h-.8zM465 165.7h.8v.8h-.8zM462.7 155h.8v.8h-.8zM459.3 172.5h.8v.8h-.8zM461.5 163h.8v.8h-.8zM464.1 176h.8v.8h-.8zM463.1 170.3h.8v.8h-.8zM462.7 155.9h.8v.8h-.8zM461.8 167.2h.8v.8h-.8zM464.8 166h.8v.8h-.8zM460.5 156.1h.8v.8h-.8zM464.4 168.2h.8v.8h-.8zM465.2 175h.8v.8h-.8zM460.8 168.8h.8v.8h-.8zM462.8 155.5h.8v.8h-.8zM466.2 164.7h.8v.8h-.8zM465.3 167.1h.8v.8h-.8zM458.9 161.8h.8v.8h-.8zM464.6 156.9h.8v.8h-.8zM461.8 165.3h.8v.8h-.8zM461.8 176.4h.8v.8h-.8zM460.4 172.6h.8v.8h-.8zM461.7 166.9h.8v.8h-.8zM458.4 165.5h.8v.8h-.8zM464.8 159h.8v.8h-.8zM464.9 186.2h.8v.8h-.8zM461.4 168.1h.8v.8h-.8zM462.6 169.2h.8v.8h-.8zM464.7 165.9h.8v.8h-.8zM459.5 172.6h.8v.8h-.8zM462.2 156.5h.8v.8h-.8zM464.1 163.2h.8v.8h-.8zM457.5 161.9h.8v.8h-.8zM464 164.9h.8v.8h-.8zM463.5 167.6h.8v.8h-.8zM460 165.1h.8v.8h-.8zM464.7 163.8h.8v.8h-.8zM464.1 163h.8v.8h-.8zM465.3 169.4h.8v.8h-.8zM464.2 156.6h.8v.8h-.8zM461.7 171.3h.8v.8h-.8zM464.3 161.3h.8v.8h-.8zM465.2 159.9h.8v.8h-.8zM462.9 168.4h.8v.8h-.8zM460.5 158.8h.8v.8h-.8zM461.4 162.2h.8v.8h-.8zM460.1 169.3h.8v.8h-.8zM462.1 165.2h.8v.8h-.8zM462.1 160.8h.8v.8h-.8zM464.3 160.7h.8v.8h-.8zM459.5 162.5h.8v.8h-.8zM461.8 162.9h.8v.8h-.8zM457.4 162.4h.8v.8h-.8zM462 164.9h.8v.8h-.8zM465 158.6h.8v.8h-.8zM460.7 178.2h.8v.8h-.8zM463.5 174.3h.8v.8h-.8zM462.4 168.7h.8v.8h-.8zM463.4 172.7h.8v.8h-.8zM462.8 158.5h.8v.8h-.8zM465 160.6h.8v.8h-.8zM460 165.7h.8v.8h-.8zM459.6 161.4h.8v.8h-.8zM466.2 158h.8v.8h-.8zM466.3 166.8h.8v.8h-.8zM464.1 174.1h.8v.8h-.8zM464 165.7h.8v.8h-.8zM461.9 167.5h.8v.8h-.8zM461.2 157.2h.8v.8h-.8zM459.2 153.8h.8v.8h-.8zM465.1 167.6h.8v.8h-.8zM464 168.2h.8v.8h-.8zM460 170.4h.8v.8h-.8zM462.5 156.5h.8v.8h-.8zM463.1 157.9h.8v.8h-.8zM461.8 170.7h.8v.8h-.8zM465.3 157.2h.8v.8h-.8zM460.9 165.2h.8v.8h-.8zM461.3 166.9h.8v.8h-.8zM462.5 164.3h.8v.8h-.8zM464.1 162.7h.8v.8h-.8zM462.8 177.6h.8v.8h-.8zM464.8 168.2h.8v.8h-.8zM463 168.4h.8v.8h-.8zM463.2 168.4h.8v.8h-.8zM459.8 172.8h.8v.8h-.8zM465.5 160.9h.8v.8h-.8zM462.2 170h.8v.8h-.8zM462.8 170.4h.8v.8h-.8zM463.5 159h.8v.8h-.8zM463.1 156.9h.8v.8h-.8zM464.9 165h.8v.8h-.8zM459.9 167.8h.8v.8h-.8zM462.8 169.9h.8v.8h-.8zM464.1 174.8h.8v.8h-.8zM466.4 167.5h.8v.8h-.8zM460 161.4h.8v.8h-.8zM460.3 170.7h.8v.8h-.8zM461.5 155.8h.8v.8h-.8zM464.3 147.5h.8v.8h-.8zM462.5 164.2h.8v.8h-.8zM463 168.2h.8v.8h-.8zM461.5 164.2h.8v.8h-.8zM460.7 155.3h.8v.8h-.8zM462.3 159.8h.8v.8h-.8zM457.9 161.5h.8v.8h-.8zM461.7 158.7h.8v.8h-.8zM466.5 166.4h.8v.8h-.8zM461.4 158.5h.8v.8h-.8zM464.6 150.4h.8v.8h-.8zM463.7 170.5h.8v.8h-.8zM462.5 163.5h.8v.8h-.8zM458.9 165.7h.8v.8h-.8zM462.5 173h.8v.8h-.8zM461.3 153.8h.8v.8h-.8zM464.2 156h.8v.8h-.8zM462.8 161.6h.8v.8h-.8zM463 177.9h.8v.8h-.8zM461.5 161.8h.8v.8h-.8zM461.3 169.3h.8v.8h-.8zM462.2 166.2h.8v.8h-.8zM460.8 163.9h.8v.8h-.8zM466.3 168.7h.8v.8h-.8zM463.2 166.7h.8v.8h-.8zM466.5 162.8h.8v.8h-.8zM463.4 177.6h.8v.8h-.8zM463.7 161.2h.8v.8h-.8zM462.9 161.5h.8v.8h-.8zM463.5 158.6h.8v.8h-.8zM462.9 179.4h.8v.8h-.8zM460.4 169.1h.8v.8h-.8zM459.7 172.7h.8v.8h-.8zM464.8 152h.8v.8h-.8zM459.3 159.5h.8v.8h-.8zM455.8 170h.8v.8h-.8zM461.9 162.4h.8v.8h-.8zM459.7 161.6h.8v.8h-.8zM462.5 175.6h.8v.8h-.8zM461.6 154.5h.8v.8h-.8zM460.8 160.7h.8v.8h-.8zM460.8 160.9h.8v.8h-.8zM460.7 162.2h.8v.8h-.8zM462.9 170.3h.8v.8h-.8zM461.5 163.2h.8v.8h-.8zM462.3 163.6h.8v.8h-.8zM463.2 169.2h.8v.8h-.8zM463.3 164.8h.8v.8h-.8zM460.1 165.4h.8v.8h-.8zM460.1 152.8h.8v.8h-.8zM460.7 169.7h.8v.8h-.8zM463.9 168h.8v.8h-.8zM466.7 169.2h.8v.8h-.8zM463 154.2h.8v.8h-.8zM465.6 158.6h.8v.8h-.8zM466.3 161.3h.8v.8h-.8zM464 169.5h.8v.8h-.8zM460.8 169.4h.8v.8h-.8zM463.2 154.9h.8v.8h-.8zM460.1 168.8h.8v.8h-.8zM463.5 163.5h.8v.8h-.8zM464 168.5h.8v.8h-.8zM464.4 174.9h.8v.8h-.8zM463.5 160.6h.8v.8h-.8zM464.8 167.1h.8v.8h-.8zM463.8 172.6h.8v.8h-.8zM464.9 162.1h.8v.8h-.8zM460.2 160.5h.8v.8h-.8zM467 175.8h.8v.8h-.8zM464 168.7h.8v.8h-.8zM460.8 160.2h.8v.8h-.8zM464.5 165h.8v.8h-.8zM461.9 159.3h.8v.8h-.8zM465.9 167.9h.8v.8h-.8zM463.9 166.8h.8v.8h-.8zM465.9 183.5h.8v.8h-.8zM460.8 161h.8v.8h-.8zM462.4 155.7h.8v.8h-.8zM464 162.3h.8v.8h-.8zM462.3 172.1h.8v.8h-.8zM462.7 174h.8v.8h-.8zM462.4 165.8h.8v.8h-.8zM461.8 164.6h.8v.8h-.8zM462.7 154h.8v.8h-.8zM462.6 160.2h.8v.8h-.8zM461.6 165.2h.8v.8h-.8zM462.8 164.4h.8v.8h-.8zM464.8 147.5h.8v.8h-.8zM464.1 155.4h.8v.8h-.8zM461.1 159.9h.8v.8h-.8zM460.6 161.3h.8v.8h-.8zM461.1 170.5h.8v.8h-.8zM463.3 166.2h.8v.8h-.8zM461.3 180.3h.8v.8h-.8zM459.4 154.6h.8v.8h-.8zM462.1 153.5h.8v.8h-.8zM460 164.2h.8v.8h-.8zM463.7 165h.8v.8h-.8zM464.9 165.1h.8v.8h-.8zM464 165.3h.8v.8h-.8zM466.6 173.6h.8v.8h-.8zM462.4 168.9h.8v.8h-.8zM463.8 156.2h.8v.8h-.8zM462.1 168.9h.8v.8h-.8zM463.8 162h.8v.8h-.8zM464.8 166.2h.8v.8h-.8zM461.8 155h.8v.8h-.8zM464.6 168.2h.8v.8h-.8zM459.8 160.6h.8v.8h-.8zM462.1 157.7h.8v.8h-.8zM462.8 156.8h.8v.8h-.8zM463.6 166.8h.8v.8h-.8zM465 171.4h.8v.8h-.8zM464.2 164.9h.8v.8h-.8zM466.7 163.6h.8v.8h-.8zM461.9 164.3h.8v.8h-.8zM461.8 167.6h.8v.8h-.8zM462.7 172.1h.8v.8h-.8zM463.5 162.1h.8v.8h-.8zM462.1 161.8h.8v.8h-.8zM464.2 170.7h.8v.8h-.8zM463.3 159.5h.8v.8h-.8zM459.7 154.3h.8v.8h-.8zM461.1 161.5h.8v.8h-.8zM461.7 174.6h.8v.8h-.8zM461.4 156h.8v.8h-.8zM461.3 156.6h.8v.8h-.8zM457.5 165.2h.8v.8h-.8zM463.3 165.7h.8v.8h-.8zM458.3 165h.8v.8h-.8zM458.8 170.1h.8v.8h-.8zM460.6 168h.8v.8h-.8zM462.5 149.4h.8v.8h-.8zM460.7 164.3h.8v.8h-.8zM464.7 162.2h.8v.8h-.8zM460.9 158.8h.8v.8h-.8zM462.2 163.2h.8v.8h-.8zM461.1 157.1h.8v.8h-.8zM466 156.4h.8v.8h-.8zM461.4 157.4h.8v.8h-.8zM462.8 160h.8v.8h-.8zM465.8 165.5h.8v.8h-.8zM461.2 168.5h.8v.8h-.8zM463.6 167.9h.8v.8h-.8zM460.9 161.9h.8v.8h-.8zM465.2 162.1h.8v.8h-.8zM462.2 169.9h.8v.8h-.8zM466.4 165.9h.8v.8h-.8zM466.1 164.6h.8v.8h-.8zM463.8 165.8h.8v.8h-.8zM462.8 169.7h.8v.8h-.8zM464.2 169.1h.8v.8h-.8zM463.5 165.3h.8v.8h-.8zM464.2 167.4h.8v.8h-.8zM465.4 168.4h.8v.8h-.8zM459.1 161h.8v.8h-.8zM465.6 166.5h.8v.8h-.8zM466.5 177.8h.8v.8h-.8zM463.6 168.5h.8v.8h-.8zM466.7 159.7h.8v.8h-.8zM463 163.5h.8v.8h-.8zM463.2 164.7h.8v.8h-.8zM458.2 162.2h.8v.8h-.8zM463.8 168.9h.8v.8h-.8zM465.2 171h.8v.8h-.8zM473.3 168.5h.8v.8h-.8zM466.6 177.8h.8v.8h-.8zM467.8 174.1h.8v.8h-.8zM467.8 169.2h.8v.8h-.8zM463.9 184.5h.8v.8h-.8zM472.5 172.7h.8v.8h-.8zM468 166.9h.8v.8h-.8zM464.1 170.1h.8v.8h-.8zM471.7 173.4h.8v.8h-.8zM471.4 179.8h.8v.8h-.8zM460.5 158h.8v.8h-.8zM467.7 176.3h.8v.8h-.8zM474.7 184.6h.8v.8h-.8zM468.5 162.2h.8v.8h-.8zM473.1 180.5h.8v.8h-.8zM471.4 167.7h.8v.8h-.8zM475.7 179.4h.8v.8h-.8zM463.8 168.1h.8v.8h-.8zM476.7 166.4h.8v.8h-.8zM471.6 173.5h.8v.8h-.8zM468.8 162.2h.8v.8h-.8zM474.7 163.3h.8v.8h-.8zM468.2 178h.8v.8h-.8zM462.6 160.6h.8v.8h-.8zM475.1 169.5h.8v.8h-.8zM464.7 173h.8v.8h-.8zM466 170h.8v.8h-.8zM471.2 173.8h.8v.8h-.8zM466.3 168.8h.8v.8h-.8zM463.8 169.4h.8v.8h-.8zM471.9 174.5h.8v.8h-.8zM471.1 165.4h.8v.8h-.8zM465.1 180.7h.8v.8h-.8zM474.1 170.9h.8v.8h-.8zM475.4 185.5h.8v.8h-.8zM478.3 165.3h.8v.8h-.8zM465.1 169.9h.8v.8h-.8zM465.2 164.4h.8v.8h-.8zM472.3 158.7h.8v.8h-.8zM469.1 169h.8v.8h-.8zM469.4 164.3h.8v.8h-.8zM463.6 169.5h.8v.8h-.8zM475.5 165.9h.8v.8h-.8zM460.4 155.8h.8v.8h-.8zM476.6 171.4h.8v.8h-.8zM474.4 174.9h.8v.8h-.8zM470.2 176.1h.8v.8h-.8zM472.1 165.8h.8v.8h-.8zM474.9 165.5h.8v.8h-.8zM474.9 165.5h.8v.8h-.8zM466.4 165.6h.8v.8h-.8zM470.8 170h.8v.8h-.8zM472.5 173.1h.8v.8h-.8zM478.3 160.7h.8v.8h-.8zM471.8 174.8h.8v.8h-.8zM467.5 171.2h.8v.8h-.8zM470.9 174.1h.8v.8h-.8zM471.1 167.3h.8v.8h-.8zM463.9 163.5h.8v.8h-.8zM471.3 185.5h.8v.8h-.8zM472.8 182.6h.8v.8h-.8zM464 184.1h.8v.8h-.8zM473.5 188.8h.8v.8h-.8zM454.1 177.6h.8v.8h-.8zM463.6 182.6h.8v.8h-.8zM467 178.6h.8v.8h-.8zM464.2 180.4h.8v.8h-.8zM469.9 187.2h.8v.8h-.8zM470.3 178.3h.8v.8h-.8zM467.6 184.7h.8v.8h-.8zM470.1 183.3h.8v.8h-.8zM460.6 180.6h.8v.8h-.8zM456.9 180h.8v.8h-.8zM469.1 182h.8v.8h-.8zM469.4 182h.8v.8h-.8zM461.2 189.8h.8v.8h-.8zM473.4 180.1h.8v.8h-.8zM471 183.5h.8v.8h-.8zM472.6 184h.8v.8h-.8zM473 180.2h.8v.8h-.8zM478.1 177.2h.8v.8h-.8zM474.7 182.3h.8v.8h-.8zM470.9 177.9h.8v.8h-.8zM475.3 186.7h.8v.8h-.8zM468.6 181.4h.8v.8h-.8zM466.6 183.6h.8v.8h-.8zM466.7 182.6h.8v.8h-.8zM470.6 182.8h.8v.8h-.8zM468 180.3h.8v.8h-.8zM467.8 186.4h.8v.8h-.8zM469.4 179.4h.8v.8h-.8zM473.1 182.1h.8v.8h-.8zM471.2 187.7h.8v.8h-.8zM467.9 183.3h.8v.8h-.8zM470.8 181.2h.8v.8h-.8zM473.4 180.5h.8v.8h-.8zM470.6 179.4h.8v.8h-.8zM466.3 181.8h.8v.8h-.8zM473 180h.8v.8h-.8zM465.2 186.9h.8v.8h-.8zM457.4 184.6h.8v.8h-.8zM451.6 185.8h.8v.8h-.8zM460.2 187h.8v.8h-.8zM456.6 183.6h.8v.8h-.8zM458.4 186.3h.8v.8h-.8zM455.3 185h.8v.8h-.8zM456.5 184.5h.8v.8h-.8zM460.9 185.4h.8v.8h-.8zM460.3 184.9h.8v.8h-.8zM455.3 185.8h.8v.8h-.8zM454.6 185.7h.8v.8h-.8zM463.5 185.5h.8v.8h-.8zM457.7 184.4h.8v.8h-.8zM461.8 185h.8v.8h-.8zM450.6 185.5h.8v.8h-.8zM460.9 184.6h.8v.8h-.8zM452.8 185.9h.8v.8h-.8zM449.6 185.4h.8v.8h-.8zM446.3 186.2h.8v.8h-.8zM461.6 185.6h.8v.8h-.8zM460.3 185.9h.8v.8h-.8zM464.2 183.2h.8v.8h-.8zM452.7 186.6h.8v.8h-.8zM456.5 185.7h.8v.8h-.8zM460.8 186.7h.8v.8h-.8zM456.8 186.3h.8v.8h-.8zM459 186.3h.8v.8h-.8zM460.9 186.9h.8v.8h-.8zM459.2 187.3h.8v.8h-.8zM456.7 186.4h.8v.8h-.8zM459.6 186.9h.8v.8h-.8zM459.5 186.5h.8v.8h-.8zM457.6 186.6h.8v.8h-.8zM459.8 186.5h.8v.8h-.8zM458.6 186.4h.8v.8h-.8zM457.8 186.7h.8v.8h-.8zM459.9 187.2h.8v.8h-.8zM457.1 186.8h.8v.8h-.8zM459.5 186.5h.8v.8h-.8zM462 186.1h.8v.8h-.8zM458.7 186.6h.8v.8h-.8zM459 186.8h.8v.8h-.8zM459.5 186.9h.8v.8h-.8zM458.5 186.5h.8v.8h-.8zM460.4 186.4h.8v.8h-.8zM459 186.7h.8v.8h-.8zM457 186.2h.8v.8h-.8zM460.1 186.2h.8v.8h-.8zM458.7 186.6h.8v.8h-.8zM455.9 187.3h.8v.8h-.8zM460.1 187.3h.8v.8h-.8zM457.8 186.1h.8v.8h-.8zM457.7 186.7h.8v.8h-.8zM459.4 186h.8v.8h-.8zM458.9 186.6h.8v.8h-.8zM458.1 186.7h.8v.8h-.8zM460.4 186.8h.8v.8h-.8zM455.9 187.4h.8v.8h-.8zM458.3 187.4h.8v.8h-.8zM460 187h.8v.8h-.8zM458.8 186.7h.8v.8h-.8zM460.4 186.9h.8v.8h-.8zM459.2 186.5h.8v.8h-.8zM459.8 187.3h.8v.8h-.8zM457.8 186.1h.8v.8h-.8zM458.1 186.5h.8v.8h-.8zM458.6 186.6h.8v.8h-.8zM459.1 186.6h.8v.8h-.8zM460.6 186.7h.8v.8h-.8zM460 186.8h.8v.8h-.8zM459.1 186.2h.8v.8h-.8zM458.6 186.3h.8v.8h-.8zM459.5 186.6h.8v.8h-.8zM458.3 186.4h.8v.8h-.8zM458.1 186.8h.8v.8h-.8zM462.4 186.6h.8v.8h-.8zM458.2 185.9h.8v.8h-.8zM461 186.6h.8v.8h-.8zM458.5 186.4h.8v.8h-.8zM460.8 186.9h.8v.8h-.8zM458 186.8h.8v.8h-.8zM461.2 186.2h.8v.8h-.8zM459.7 187.2h.8v.8h-.8zM460.1 186.6h.8v.8h-.8zM439.6 171h.8v.8h-.8zM450.2 160.9h.8v.8h-.8zM456.6 144.8h.8v.8h-.8zM482.3 145.5h.8v.8h-.8zM475.1 166.2h.8v.8h-.8zM491.4 142.3h.8v.8h-.8zM445.9 175.1h.8v.8h-.8zM459.9 177.8h.8v.8h-.8zM456.3 136.8h.8v.8h-.8zM491.3 176.1h.8v.8h-.8z" fill="#000" fill-opacity="0.7"/>
<ellipse cx="434.85" cy="186.45" rx="1.05" ry="1.65" fill="#111"/>
<rect x="441.9" y="136.1" width="23.6" height="41" fill="none" stroke="#505050" stroke-width="0.9"/>
<rect x="441.9" y="177.1" width="23.6" height="12.7" fill="none" stroke="#505050" stroke-width="0.9"/>
<rect x="465.5" y="136.1" width="7.2" height="26" fill="none" stroke="#505050" stroke-width="0.9"/>
<rect x="472.7" y="136.1" width="14.8" height="26" fill="none" stroke="#505050" stroke-width="0.9"/>
<rect x="472.9" y="162.9" width="15.6" height="13.8" fill="none" stroke="#505050" stroke-width="0.9"/>
<path d="M434.1 135.5h2.2M434.1 153.4h2.2M434.1 173.7h2.2M434.1 186.1h2.2M434.1 198.7h2.2M435.2 148.01h1.1M435.2 144.86h1.1M435.2 142.62h1.1M435.2 140.89h1.1M435.2 139.47h1.1M435.2 138.27h1.1M435.2 137.23h1.1M435.2 136.32h1.1M435.2 167.59h1.1M435.2 164.01h1.1M435.2 161.48h1.1M435.2 159.51h1.1M435.2 157.9h1.1M435.2 156.54h1.1M435.2 155.37h1.1M435.2 154.33h1.1M435.2 178.4h1.1M435.2 180.9h1.1M435.2 183.4h1.1M435.2 188.7h1.1M435.2 191.2h1.1M435.2 193.7h1.1M435.2 196.2h1.1M435.2 201.4h1.1M435.2 203.4h1.1M442.8 203.8v2.2M459.2 203.8v2.2M474.8 203.8v2.2M490.3 203.8v2.2M505.3 203.8v2.2M447.74 203.8v1.1M450.62 203.8v1.1M452.67 203.8v1.1M454.26 203.8v1.1M455.56 203.8v1.1M456.66 203.8v1.1M457.61 203.8v1.1M458.45 203.8v1.1M464.14 203.8v1.1M467.02 203.8v1.1M469.07 203.8v1.1M470.66 203.8v1.1M471.96 203.8v1.1M473.06 203.8v1.1M474.01 203.8v1.1M474.85 203.8v1.1M479.74 203.8v1.1M482.62 203.8v1.1M484.67 203.8v1.1M486.26 203.8v1.1M487.56 203.8v1.1M488.66 203.8v1.1M489.61 203.8v1.1M490.45 203.8v1.1M495.24 203.8v1.1M498.12 203.8v1.1M500.17 203.8v1.1M501.76 203.8v1.1M503.06 203.8v1.1M504.16 203.8v1.1M505.11 203.8v1.1M505.95 203.8v1.1M510.24 203.8v1.1M437.86 203.8v1.1M439.16 203.8v1.1M440.26 203.8v1.1M441.21 203.8v1.1M442.05 203.8v1.1" stroke="#333" stroke-width="0.8" fill="none"/>
<text x="431" y="139.7" font-size="8.2" text-anchor="end" fill="#1a1a1a">10<tspan font-size="6.6" dy="-2.6">5</tspan></text>
<text x="431" y="157.6" font-size="8.2" text-anchor="end" fill="#1a1a1a">10<tspan font-size="6.6" dy="-2.6">4</tspan></text>
<text x="431" y="177.9" font-size="8.2" text-anchor="end" fill="#1a1a1a">10<tspan font-size="6.6" dy="-2.6">3</tspan></text>
<text x="431" y="190.3" font-size="8.2" text-anchor="end" fill="#1a1a1a">0</text>
<text x="431" y="202.9" font-size="8.2" text-anchor="end" fill="#1a1a1a">-10<tspan font-size="6.6" dy="-2.6">3</tspan></text>
<text x="444" y="216.2" font-size="8.2" text-anchor="middle" fill="#1a1a1a">10<tspan font-size="5.8" dy="-2.8">1</tspan></text>
<text x="460.4" y="216.2" font-size="8.2" text-anchor="middle" fill="#1a1a1a">10<tspan font-size="5.8" dy="-2.8">2</tspan></text>
<text x="476" y="216.2" font-size="8.2" text-anchor="middle" fill="#1a1a1a">10<tspan font-size="5.8" dy="-2.8">3</tspan></text>
<text x="491.5" y="216.2" font-size="8.2" text-anchor="middle" fill="#1a1a1a">10<tspan font-size="5.8" dy="-2.8">4</tspan></text>
<text x="506.5" y="216.2" font-size="8.2" text-anchor="middle" fill="#1a1a1a">10<tspan font-size="5.8" dy="-2.8">5</tspan></text>
<text x="411" y="165.6" font-size="10" text-anchor="middle" fill="#333" stroke="none" transform="rotate(-90 411 165.6)" textLength="28" lengthAdjust="spacingAndGlyphs">+4-OHT</text>
<rect x="436" y="255.4" width="75.6" height="75.4" fill="#fff" stroke="#a8a8a8" stroke-width="1"/>
<ellipse cx="478" cy="286.9" rx="12.5" ry="9" fill="url(#rg)" opacity="0.95"/>
<ellipse cx="466" cy="281.4" rx="7" ry="5.5" fill="url(#rg)" opacity="0.75"/>
<ellipse cx="463" cy="297.4" rx="8" ry="11" fill="url(#rg)" opacity="0.35"/>
<ellipse cx="483" cy="303.4" rx="6" ry="5" fill="url(#rg)" opacity="0.15"/>
<path d="M499.9 286.3h.8v.8h-.8zM479 288.7h.8v.8h-.8zM478.4 291h.8v.8h-.8zM480.3 279.3h.8v.8h-.8zM479.7 294.8h.8v.8h-.8zM466.1 295h.8v.8h-.8zM479.9 284.9h.8v.8h-.8zM474 285.6h.8v.8h-.8zM490.4 278h.8v.8h-.8zM476.8 278h.8v.8h-.8zM480.9 291.6h.8v.8h-.8zM484.6 287.2h.8v.8h-.8zM481.1 281.6h.8v.8h-.8zM489.2 277.9h.8v.8h-.8zM486.9 278.1h.8v.8h-.8zM475.6 288.8h.8v.8h-.8zM479.2 276.5h.8v.8h-.8zM472 288.9h.8v.8h-.8zM467.5 275.6h.8v.8h-.8zM487.1 294.2h.8v.8h-.8zM481 279.4h.8v.8h-.8zM480.7 280.6h.8v.8h-.8zM482.4 281.1h.8v.8h-.8zM489.6 278.9h.8v.8h-.8zM487.2 289.8h.8v.8h-.8zM484.6 286.7h.8v.8h-.8zM484.9 288.1h.8v.8h-.8zM473.4 284.5h.8v.8h-.8zM478.7 286.6h.8v.8h-.8zM474.3 295.7h.8v.8h-.8zM478.1 290.2h.8v.8h-.8zM476.4 290h.8v.8h-.8zM476.7 276.5h.8v.8h-.8zM479.8 297.1h.8v.8h-.8zM482.3 283.1h.8v.8h-.8zM466.4 292.4h.8v.8h-.8zM476.3 294.5h.8v.8h-.8zM486.6 285.4h.8v.8h-.8zM478 293.4h.8v.8h-.8zM470.8 283.8h.8v.8h-.8zM478.4 288h.8v.8h-.8zM478.3 286.6h.8v.8h-.8zM475.7 282.8h.8v.8h-.8zM477.2 288.4h.8v.8h-.8zM473.8 285.2h.8v.8h-.8zM483.3 292.3h.8v.8h-.8zM473.5 289.7h.8v.8h-.8zM478 292.4h.8v.8h-.8zM477.3 273.4h.8v.8h-.8zM471.8 286.1h.8v.8h-.8zM482.5 295h.8v.8h-.8zM479.3 289.9h.8v.8h-.8zM471.1 283.2h.8v.8h-.8zM478.2 287h.8v.8h-.8zM483.5 287.4h.8v.8h-.8zM484.1 279.1h.8v.8h-.8zM473.4 298.3h.8v.8h-.8zM469.6 289.2h.8v.8h-.8zM478 284.4h.8v.8h-.8zM483.5 296.6h.8v.8h-.8zM477.3 295.4h.8v.8h-.8zM472.1 287.8h.8v.8h-.8zM487.5 285.1h.8v.8h-.8zM483 289.3h.8v.8h-.8zM479.7 299.4h.8v.8h-.8zM474.9 283.9h.8v.8h-.8zM474.9 288.1h.8v.8h-.8zM486.6 287.8h.8v.8h-.8zM472.6 289.2h.8v.8h-.8zM484.1 279.6h.8v.8h-.8zM484.4 281.3h.8v.8h-.8zM490 283.4h.8v.8h-.8zM468.4 290.6h.8v.8h-.8zM478.8 288.9h.8v.8h-.8zM485.5 287.5h.8v.8h-.8zM477.3 291.8h.8v.8h-.8zM477.5 285.6h.8v.8h-.8zM475.2 282h.8v.8h-.8zM485.9 288.9h.8v.8h-.8zM478 283.9h.8v.8h-.8zM474.3 275.8h.8v.8h-.8zM480.7 298.6h.8v.8h-.8zM478 291.9h.8v.8h-.8zM476.1 283.9h.8v.8h-.8zM468.9 289.6h.8v.8h-.8zM476.9 288.8h.8v.8h-.8zM479 278.8h.8v.8h-.8zM479.2 291.8h.8v.8h-.8zM480.1 293.2h.8v.8h-.8zM484.4 281.4h.8v.8h-.8zM479.5 279.7h.8v.8h-.8zM473.6 289h.8v.8h-.8zM487 291.9h.8v.8h-.8zM477 288h.8v.8h-.8zM468.7 294.8h.8v.8h-.8zM473.2 282.4h.8v.8h-.8zM488.9 290.7h.8v.8h-.8zM474.2 285.5h.8v.8h-.8zM471.1 278.8h.8v.8h-.8zM483 299h.8v.8h-.8zM457.2 278.8h.8v.8h-.8zM478.1 294.2h.8v.8h-.8zM473.9 286.2h.8v.8h-.8zM480.1 288.7h.8v.8h-.8zM491.8 279.4h.8v.8h-.8zM485.3 288.8h.8v.8h-.8zM470.6 282.6h.8v.8h-.8zM469.3 282.1h.8v.8h-.8zM478.2 287.7h.8v.8h-.8zM472.7 270.8h.8v.8h-.8zM492.7 280.2h.8v.8h-.8zM475.4 295.3h.8v.8h-.8zM476.9 285.4h.8v.8h-.8zM473.3 287.6h.8v.8h-.8zM477.3 282.9h.8v.8h-.8zM469.5 284.1h.8v.8h-.8zM464.5 280.6h.8v.8h-.8zM486.6 292.5h.8v.8h-.8zM474.6 286.9h.8v.8h-.8zM483.9 285.4h.8v.8h-.8zM473.9 283.8h.8v.8h-.8zM487.7 294.3h.8v.8h-.8zM487.1 292.3h.8v.8h-.8zM483 286.6h.8v.8h-.8zM483.9 289.2h.8v.8h-.8zM496.5 298.8h.8v.8h-.8zM481.3 289.1h.8v.8h-.8zM503.3 293.6h.8v.8h-.8zM475.7 285.5h.8v.8h-.8zM485.4 287.8h.8v.8h-.8zM476.4 296.5h.8v.8h-.8zM479.3 283.2h.8v.8h-.8zM483.4 287.4h.8v.8h-.8zM480.9 290.2h.8v.8h-.8zM479.8 294.6h.8v.8h-.8zM464.2 290.4h.8v.8h-.8zM481.2 281.7h.8v.8h-.8zM469.8 287.3h.8v.8h-.8zM485.2 286.5h.8v.8h-.8zM474.3 287.9h.8v.8h-.8zM488 282.2h.8v.8h-.8zM472.5 278.4h.8v.8h-.8zM468.5 292.8h.8v.8h-.8zM478.1 287.1h.8v.8h-.8zM472.5 278.9h.8v.8h-.8zM470.2 283.5h.8v.8h-.8zM476.1 286.4h.8v.8h-.8zM465 282.1h.8v.8h-.8zM483.4 287.8h.8v.8h-.8zM471 285.8h.8v.8h-.8zM476.4 284h.8v.8h-.8zM471.7 282.5h.8v.8h-.8zM480.1 279.9h.8v.8h-.8zM475.7 282.8h.8v.8h-.8zM483.7 284.8h.8v.8h-.8zM473.3 283.4h.8v.8h-.8zM484.7 280.7h.8v.8h-.8zM463.6 280.4h.8v.8h-.8zM483.7 284.7h.8v.8h-.8zM477.5 291.4h.8v.8h-.8zM478.2 291.2h.8v.8h-.8zM487.3 293.1h.8v.8h-.8zM468.4 293.5h.8v.8h-.8zM484 287.6h.8v.8h-.8zM491.7 285.3h.8v.8h-.8zM496.6 287.8h.8v.8h-.8zM485.7 282.7h.8v.8h-.8zM481.8 286.6h.8v.8h-.8zM469.2 288h.8v.8h-.8zM479.8 280.3h.8v.8h-.8zM482.4 297.2h.8v.8h-.8zM468 285.8h.8v.8h-.8zM498.3 289.4h.8v.8h-.8zM498.2 290.9h.8v.8h-.8zM472.5 282.4h.8v.8h-.8zM473.1 281.9h.8v.8h-.8zM489.9 284.1h.8v.8h-.8zM485.4 287.9h.8v.8h-.8zM472.7 294.6h.8v.8h-.8zM475.2 291h.8v.8h-.8zM486.4 285.3h.8v.8h-.8zM475.4 290h.8v.8h-.8zM482.7 287.5h.8v.8h-.8zM481.6 295.3h.8v.8h-.8zM484.7 286.1h.8v.8h-.8zM479.3 287.4h.8v.8h-.8zM492.5 287h.8v.8h-.8zM486 281.8h.8v.8h-.8zM471.8 286.2h.8v.8h-.8zM473.2 291.4h.8v.8h-.8zM480.3 292.2h.8v.8h-.8zM486 285.4h.8v.8h-.8zM470 285.6h.8v.8h-.8zM463.2 285.4h.8v.8h-.8zM471.2 279.6h.8v.8h-.8zM488.6 283.8h.8v.8h-.8zM474.4 277.1h.8v.8h-.8zM469.7 289.9h.8v.8h-.8zM476.8 297.3h.8v.8h-.8zM481.4 281.8h.8v.8h-.8zM467.5 275.7h.8v.8h-.8zM474.2 292.8h.8v.8h-.8zM484 283h.8v.8h-.8zM482.1 288.9h.8v.8h-.8zM483.7 289.9h.8v.8h-.8zM488.6 290.9h.8v.8h-.8zM478.5 287.7h.8v.8h-.8zM479.8 287.5h.8v.8h-.8zM478.9 285.7h.8v.8h-.8zM468.6 293.3h.8v.8h-.8zM480.7 283.4h.8v.8h-.8zM491.6 288.8h.8v.8h-.8zM469 276.8h.8v.8h-.8zM473.8 278.5h.8v.8h-.8zM470.3 281.1h.8v.8h-.8zM475.5 284.9h.8v.8h-.8zM478.1 295.2h.8v.8h-.8zM481.8 286h.8v.8h-.8zM480.3 291.2h.8v.8h-.8zM464.6 281.8h.8v.8h-.8zM487.4 298.3h.8v.8h-.8zM475.7 286.9h.8v.8h-.8zM471.5 285.9h.8v.8h-.8zM465.9 292.5h.8v.8h-.8zM483.7 288.1h.8v.8h-.8zM471.7 285h.8v.8h-.8zM467.4 286.4h.8v.8h-.8zM475 287.2h.8v.8h-.8zM475.7 286.1h.8v.8h-.8zM471.3 293.5h.8v.8h-.8zM478 290.6h.8v.8h-.8zM478.5 287.9h.8v.8h-.8zM474.1 285.1h.8v.8h-.8zM477.7 284.9h.8v.8h-.8zM485.2 292.4h.8v.8h-.8zM473.7 283.8h.8v.8h-.8zM485.9 295.6h.8v.8h-.8zM472.2 282.5h.8v.8h-.8zM482.2 290.7h.8v.8h-.8zM475.1 284.7h.8v.8h-.8zM464.9 282.2h.8v.8h-.8zM470.8 289.9h.8v.8h-.8zM475 288.1h.8v.8h-.8zM475.2 286.1h.8v.8h-.8zM490.6 280.5h.8v.8h-.8zM490.4 282.7h.8v.8h-.8zM478.2 293.9h.8v.8h-.8zM477.8 281.4h.8v.8h-.8zM474.7 279.7h.8v.8h-.8zM480 287.7h.8v.8h-.8zM490.3 281.3h.8v.8h-.8zM476.4 280.6h.8v.8h-.8zM482.5 276.3h.8v.8h-.8zM478.2 279.1h.8v.8h-.8zM483.1 288.4h.8v.8h-.8zM474.1 291.6h.8v.8h-.8zM474.7 295.6h.8v.8h-.8zM485 287.2h.8v.8h-.8zM480 282.8h.8v.8h-.8zM479.1 283h.8v.8h-.8zM475.3 289.5h.8v.8h-.8zM472.1 285.6h.8v.8h-.8zM480.8 285.4h.8v.8h-.8zM481.9 285h.8v.8h-.8zM480.2 294.8h.8v.8h-.8zM476.3 284.1h.8v.8h-.8zM472.5 283.6h.8v.8h-.8zM472.3 283.1h.8v.8h-.8zM474.8 286.8h.8v.8h-.8zM489.5 293.1h.8v.8h-.8zM486.4 295.2h.8v.8h-.8zM474.3 294h.8v.8h-.8zM471.1 289.5h.8v.8h-.8zM477.9 291.2h.8v.8h-.8zM485 295h.8v.8h-.8zM492.1 289h.8v.8h-.8zM479.2 283.2h.8v.8h-.8zM482 296.4h.8v.8h-.8zM473.5 288.1h.8v.8h-.8zM462.5 282.7h.8v.8h-.8zM483.9 282.6h.8v.8h-.8zM467.2 283.5h.8v.8h-.8zM477 288.1h.8v.8h-.8zM474.6 286.4h.8v.8h-.8zM476.7 291.2h.8v.8h-.8zM476 286.4h.8v.8h-.8zM478.1 287.7h.8v.8h-.8zM490.6 275.8h.8v.8h-.8zM477.6 285.9h.8v.8h-.8zM486.4 293.7h.8v.8h-.8zM467.1 287.3h.8v.8h-.8zM468.4 295.5h.8v.8h-.8zM475.1 293.3h.8v.8h-.8zM473 284.8h.8v.8h-.8zM474 299.3h.8v.8h-.8zM490.2 283.1h.8v.8h-.8zM476.6 280.2h.8v.8h-.8zM476.6 289h.8v.8h-.8zM489.1 284.2h.8v.8h-.8zM477.3 297.5h.8v.8h-.8zM475.3 285.6h.8v.8h-.8zM475.8 290.2h.8v.8h-.8zM479.4 277.4h.8v.8h-.8zM472.8 282.5h.8v.8h-.8zM482.3 283h.8v.8h-.8zM484.2 293.3h.8v.8h-.8zM490.2 281.8h.8v.8h-.8zM481.4 282.2h.8v.8h-.8zM468.1 286.9h.8v.8h-.8zM462.7 283.2h.8v.8h-.8zM472.2 277.4h.8v.8h-.8zM476.1 285.5h.8v.8h-.8zM482.6 289.1h.8v.8h-.8zM465.8 280.1h.8v.8h-.8zM485.4 283.1h.8v.8h-.8zM477 293.7h.8v.8h-.8zM478.3 293.2h.8v.8h-.8zM461.7 286.2h.8v.8h-.8zM479.8 286.1h.8v.8h-.8zM482 280.8h.8v.8h-.8zM471.8 283.1h.8v.8h-.8zM487.3 281.9h.8v.8h-.8zM482 291h.8v.8h-.8zM478 290.6h.8v.8h-.8zM480.8 294.5h.8v.8h-.8zM474.4 289.5h.8v.8h-.8zM471.7 295.2h.8v.8h-.8zM486.5 295.9h.8v.8h-.8zM471.6 282.9h.8v.8h-.8zM490.5 303.1h.8v.8h-.8zM482.6 280.9h.8v.8h-.8zM468.6 284.7h.8v.8h-.8zM476.7 287.6h.8v.8h-.8zM480.5 291.4h.8v.8h-.8zM487.4 292.8h.8v.8h-.8zM465.3 282.8h.8v.8h-.8zM485 282.9h.8v.8h-.8zM475.4 283.6h.8v.8h-.8zM487 292.7h.8v.8h-.8zM481.4 284.6h.8v.8h-.8zM482.2 282.8h.8v.8h-.8zM465.5 280.6h.8v.8h-.8zM488.5 282.2h.8v.8h-.8zM483.1 280.2h.8v.8h-.8zM484.3 279.1h.8v.8h-.8zM477.1 293.6h.8v.8h-.8zM482.5 288.3h.8v.8h-.8zM482.1 286h.8v.8h-.8zM474.1 288.6h.8v.8h-.8zM478.7 292.3h.8v.8h-.8zM487.6 292.3h.8v.8h-.8zM478.7 289.8h.8v.8h-.8zM470.3 287.9h.8v.8h-.8zM462.8 293.5h.8v.8h-.8zM490.9 284.4h.8v.8h-.8zM474.7 285.4h.8v.8h-.8zM476 283.2h.8v.8h-.8zM474.2 285.7h.8v.8h-.8zM475.9 283.5h.8v.8h-.8zM489.1 284.5h.8v.8h-.8zM474.9 285.7h.8v.8h-.8zM480 292.4h.8v.8h-.8zM476.1 281.1h.8v.8h-.8zM484.9 283.3h.8v.8h-.8zM477.7 290.4h.8v.8h-.8zM489.8 291.5h.8v.8h-.8zM488.1 281.2h.8v.8h-.8zM488.4 281.5h.8v.8h-.8zM471 286.5h.8v.8h-.8zM464.5 279.1h.8v.8h-.8zM483.6 299.4h.8v.8h-.8zM477.2 284.1h.8v.8h-.8zM481.9 287.7h.8v.8h-.8zM482.4 284.3h.8v.8h-.8zM481.7 279.5h.8v.8h-.8zM480.2 291.5h.8v.8h-.8zM478.1 289.5h.8v.8h-.8zM472.5 293.4h.8v.8h-.8zM469.3 286.1h.8v.8h-.8zM468.3 287.8h.8v.8h-.8zM474.3 285.5h.8v.8h-.8zM483.1 290h.8v.8h-.8zM474.6 277.7h.8v.8h-.8zM464.3 284.4h.8v.8h-.8zM471.3 278.3h.8v.8h-.8zM468.1 278.3h.8v.8h-.8zM475.9 290.3h.8v.8h-.8zM471.3 280.9h.8v.8h-.8zM473 285.3h.8v.8h-.8zM478 279.4h.8v.8h-.8zM469.4 287.9h.8v.8h-.8zM476.1 291.7h.8v.8h-.8zM481.8 286.6h.8v.8h-.8zM468.4 286.5h.8v.8h-.8zM470.3 286.3h.8v.8h-.8zM488.1 293.1h.8v.8h-.8zM484.1 289.3h.8v.8h-.8zM474.6 288.5h.8v.8h-.8zM488.1 281.5h.8v.8h-.8zM479.9 287.3h.8v.8h-.8zM482.8 288.6h.8v.8h-.8zM481.6 292.4h.8v.8h-.8zM479.4 288.1h.8v.8h-.8zM492.6 288h.8v.8h-.8zM483.7 289.5h.8v.8h-.8zM479.2 289.7h.8v.8h-.8zM471 284.5h.8v.8h-.8zM474.8 292.2h.8v.8h-.8zM476 286.9h.8v.8h-.8zM484.4 289.9h.8v.8h-.8zM474.6 277.6h.8v.8h-.8zM477 287.4h.8v.8h-.8zM479.1 286h.8v.8h-.8zM476.9 293.7h.8v.8h-.8zM472.5 286.9h.8v.8h-.8zM474.8 284.6h.8v.8h-.8zM478.1 285.6h.8v.8h-.8zM484 288.3h.8v.8h-.8zM482 277.5h.8v.8h-.8zM484.2 284.7h.8v.8h-.8zM483.9 284.8h.8v.8h-.8zM473.4 286.2h.8v.8h-.8zM474.3 283.7h.8v.8h-.8zM482.5 284.1h.8v.8h-.8zM485.6 284.1h.8v.8h-.8zM470.6 291.5h.8v.8h-.8zM478.9 292.9h.8v.8h-.8zM473 287.8h.8v.8h-.8zM481.7 287.7h.8v.8h-.8zM478.4 286h.8v.8h-.8zM475.6 289.8h.8v.8h-.8zM485 290.8h.8v.8h-.8zM483.5 283.5h.8v.8h-.8zM483.2 286h.8v.8h-.8zM478.5 286h.8v.8h-.8zM483.2 294.9h.8v.8h-.8zM485.7 289.1h.8v.8h-.8zM465.4 286.9h.8v.8h-.8zM470.2 280h.8v.8h-.8zM481.8 288.5h.8v.8h-.8zM470.6 283.4h.8v.8h-.8zM492.4 281.6h.8v.8h-.8zM483.4 279.2h.8v.8h-.8zM476.9 293.6h.8v.8h-.8zM467.6 285.8h.8v.8h-.8zM476.6 292.3h.8v.8h-.8zM479 295.6h.8v.8h-.8zM490.9 289.3h.8v.8h-.8zM479.7 284.9h.8v.8h-.8zM480.4 284.3h.8v.8h-.8zM476.6 285.3h.8v.8h-.8zM476.2 293.4h.8v.8h-.8zM487.5 285.4h.8v.8h-.8zM478.9 288.5h.8v.8h-.8zM479.9 283.3h.8v.8h-.8zM467.5 288.4h.8v.8h-.8zM476.4 283.6h.8v.8h-.8zM459.1 284.6h.8v.8h-.8zM473.5 292.6h.8v.8h-.8zM476.6 287.4h.8v.8h-.8zM484.1 285.5h.8v.8h-.8zM486 287h.8v.8h-.8zM472.3 285.5h.8v.8h-.8zM489.3 291h.8v.8h-.8zM477.2 296.4h.8v.8h-.8zM467.8 277.7h.8v.8h-.8zM474.6 290.6h.8v.8h-.8zM473.9 281.2h.8v.8h-.8zM484.7 285.4h.8v.8h-.8zM480 283.4h.8v.8h-.8zM475.7 293.4h.8v.8h-.8zM473.1 285.1h.8v.8h-.8zM480.3 287.7h.8v.8h-.8zM473.9 290.4h.8v.8h-.8zM470.9 288.8h.8v.8h-.8zM475.7 289.7h.8v.8h-.8zM479 293h.8v.8h-.8zM494 284.1h.8v.8h-.8zM483 285h.8v.8h-.8zM475.8 290.2h.8v.8h-.8zM485.3 281.2h.8v.8h-.8zM481.6 286.2h.8v.8h-.8zM485 288.2h.8v.8h-.8zM485 290.2h.8v.8h-.8zM460.3 276.7h.8v.8h-.8zM467.1 288.8h.8v.8h-.8zM477.8 279.1h.8v.8h-.8zM468.4 283.9h.8v.8h-.8zM480.7 284.2h.8v.8h-.8zM488.9 289.5h.8v.8h-.8zM484.9 294.4h.8v.8h-.8zM463.3 291.5h.8v.8h-.8zM474.6 282.8h.8v.8h-.8zM479.2 288.2h.8v.8h-.8zM484.5 290.1h.8v.8h-.8zM473.5 270.6h.8v.8h-.8zM477.4 280.5h.8v.8h-.8zM469.9 283h.8v.8h-.8zM486.7 290h.8v.8h-.8zM481.8 288.4h.8v.8h-.8zM482.6 284.4h.8v.8h-.8zM474.9 282.7h.8v.8h-.8zM480.2 292.3h.8v.8h-.8zM463.9 280.5h.8v.8h-.8zM474.5 285.3h.8v.8h-.8zM486.5 287.6h.8v.8h-.8zM483.2 289.8h.8v.8h-.8zM480 287.9h.8v.8h-.8zM479.5 280.6h.8v.8h-.8zM469.4 290.1h.8v.8h-.8zM478.8 286.1h.8v.8h-.8zM488.2 283.8h.8v.8h-.8zM471 281.6h.8v.8h-.8zM483 281.3h.8v.8h-.8zM481.8 283.3h.8v.8h-.8zM481.9 293.7h.8v.8h-.8zM476.4 273.8h.8v.8h-.8zM483.7 281.7h.8v.8h-.8zM482.7 279.8h.8v.8h-.8zM469.1 281.5h.8v.8h-.8zM482.1 290.8h.8v.8h-.8zM473.6 284.8h.8v.8h-.8zM477.6 288.5h.8v.8h-.8zM499.3 289.1h.8v.8h-.8zM481.3 288h.8v.8h-.8zM473.3 280.9h.8v.8h-.8zM484.1 292h.8v.8h-.8zM476.1 285.1h.8v.8h-.8zM478.2 283.6h.8v.8h-.8zM488.2 293.6h.8v.8h-.8zM474.6 287.6h.8v.8h-.8zM476.1 283.5h.8v.8h-.8zM474.8 286.2h.8v.8h-.8zM474.5 279.8h.8v.8h-.8zM476.6 288.7h.8v.8h-.8zM475.2 282.8h.8v.8h-.8zM488.7 278h.8v.8h-.8zM480.3 287.9h.8v.8h-.8zM479.1 287.2h.8v.8h-.8zM496.3 289.3h.8v.8h-.8zM474.8 295h.8v.8h-.8zM470.6 280.3h.8v.8h-.8zM475.2 290.8h.8v.8h-.8zM478.5 288.2h.8v.8h-.8zM474.2 285.7h.8v.8h-.8zM474.7 284.1h.8v.8h-.8zM479.8 291h.8v.8h-.8zM483.8 290.8h.8v.8h-.8zM479.1 284.9h.8v.8h-.8zM477.1 285.6h.8v.8h-.8zM478.2 291.1h.8v.8h-.8zM470.7 293.4h.8v.8h-.8zM485.4 288.3h.8v.8h-.8zM473.8 289.4h.8v.8h-.8zM480.8 290.2h.8v.8h-.8zM465.5 281.9h.8v.8h-.8zM483.6 284.5h.8v.8h-.8zM483.5 288.7h.8v.8h-.8zM476.6 282h.8v.8h-.8zM474.1 288.5h.8v.8h-.8zM484.8 281.8h.8v.8h-.8zM470.4 288.2h.8v.8h-.8zM485.2 289.5h.8v.8h-.8zM485 282.7h.8v.8h-.8zM475.1 282.5h.8v.8h-.8zM468 288.5h.8v.8h-.8zM472.5 286.9h.8v.8h-.8zM481.5 290.9h.8v.8h-.8zM471.3 291.5h.8v.8h-.8zM484.9 295.8h.8v.8h-.8zM480.2 294h.8v.8h-.8zM471.7 279.4h.8v.8h-.8zM481.7 279.7h.8v.8h-.8zM482.5 291h.8v.8h-.8zM493 294.5h.8v.8h-.8zM475.1 293.2h.8v.8h-.8zM484.7 281.8h.8v.8h-.8zM485 284.9h.8v.8h-.8zM483.3 281.4h.8v.8h-.8zM474.4 291.1h.8v.8h-.8zM477 284.4h.8v.8h-.8zM473.3 281.4h.8v.8h-.8zM475.4 287.8h.8v.8h-.8zM476.7 285.5h.8v.8h-.8zM487.8 301.5h.8v.8h-.8zM493.5 291.3h.8v.8h-.8zM471.6 286.5h.8v.8h-.8zM486.9 296.4h.8v.8h-.8zM481.8 294.4h.8v.8h-.8zM474 286.9h.8v.8h-.8zM480.9 289.6h.8v.8h-.8zM497.3 294.6h.8v.8h-.8zM479 299.6h.8v.8h-.8zM477.4 293.1h.8v.8h-.8zM482.6 293.9h.8v.8h-.8zM477.6 288h.8v.8h-.8zM482.6 291.6h.8v.8h-.8zM480.7 288.1h.8v.8h-.8zM471.7 291.8h.8v.8h-.8zM478.8 294.2h.8v.8h-.8zM472.6 279.1h.8v.8h-.8zM495.8 287.1h.8v.8h-.8zM473.6 292.3h.8v.8h-.8zM489.4 284h.8v.8h-.8zM478.9 276.5h.8v.8h-.8zM471.4 286.4h.8v.8h-.8zM467.4 289.3h.8v.8h-.8zM475.2 287.7h.8v.8h-.8zM480.6 285.2h.8v.8h-.8zM489.7 284.5h.8v.8h-.8zM458.4 288h.8v.8h-.8zM481.3 290.8h.8v.8h-.8zM481.5 288.9h.8v.8h-.8zM475.6 287.5h.8v.8h-.8zM476.1 281.3h.8v.8h-.8zM472 289.5h.8v.8h-.8zM473.6 295.7h.8v.8h-.8zM483.3 294.5h.8v.8h-.8zM486 293.4h.8v.8h-.8zM475.4 289h.8v.8h-.8zM478.7 284.9h.8v.8h-.8zM479.4 282.3h.8v.8h-.8zM478.7 289h.8v.8h-.8zM479.9 285.7h.8v.8h-.8zM480.9 284.1h.8v.8h-.8zM471 282.6h.8v.8h-.8zM474.7 282h.8v.8h-.8zM471.2 287.9h.8v.8h-.8zM469.5 281.3h.8v.8h-.8zM472 296h.8v.8h-.8zM487 286.7h.8v.8h-.8zM471.1 277.6h.8v.8h-.8zM476.9 277.7h.8v.8h-.8zM486 288.6h.8v.8h-.8zM485.6 283h.8v.8h-.8zM477.6 284.3h.8v.8h-.8zM481 288.7h.8v.8h-.8zM478.3 294.5h.8v.8h-.8zM476.9 284.2h.8v.8h-.8zM488.5 283.9h.8v.8h-.8zM484.7 283.2h.8v.8h-.8zM474.2 285.3h.8v.8h-.8zM469.9 290.9h.8v.8h-.8zM489.6 286.7h.8v.8h-.8zM483.2 295.9h.8v.8h-.8zM481.8 285.6h.8v.8h-.8zM491.3 283.3h.8v.8h-.8zM478.2 285.9h.8v.8h-.8zM488.5 279.4h.8v.8h-.8zM490.1 294.8h.8v.8h-.8zM480.1 284h.8v.8h-.8zM479.6 292.2h.8v.8h-.8zM471 280.2h.8v.8h-.8zM470.6 286.5h.8v.8h-.8zM477.1 288.8h.8v.8h-.8zM474.2 288h.8v.8h-.8zM482.8 290.5h.8v.8h-.8zM460 284.6h.8v.8h-.8zM466.6 285.5h.8v.8h-.8zM487.4 291h.8v.8h-.8zM473.2 288.1h.8v.8h-.8zM479.1 282.3h.8v.8h-.8zM482.2 295.5h.8v.8h-.8zM480.3 286h.8v.8h-.8zM477.5 280.2h.8v.8h-.8zM480.8 283.6h.8v.8h-.8zM476.6 275.4h.8v.8h-.8zM480.5 295.7h.8v.8h-.8zM468.3 292.2h.8v.8h-.8zM475.5 295.7h.8v.8h-.8zM480.2 294.2h.8v.8h-.8zM473.9 285h.8v.8h-.8zM485.9 287.7h.8v.8h-.8zM487 284h.8v.8h-.8zM487.8 283.5h.8v.8h-.8zM467.7 294h.8v.8h-.8zM474.1 281.2h.8v.8h-.8zM475 284.2h.8v.8h-.8zM470.6 284.7h.8v.8h-.8zM483 284.7h.8v.8h-.8zM473.9 289.1h.8v.8h-.8zM483.9 284.2h.8v.8h-.8zM480.3 286.3h.8v.8h-.8zM483.6 280.9h.8v.8h-.8zM484.1 286.8h.8v.8h-.8zM473.6 292.4h.8v.8h-.8zM475.5 293.9h.8v.8h-.8zM481.2 280.6h.8v.8h-.8zM483.4 294.4h.8v.8h-.8zM489 282.3h.8v.8h-.8zM474.9 281.6h.8v.8h-.8zM486.8 291.3h.8v.8h-.8zM477 288.4h.8v.8h-.8zM485.2 289.6h.8v.8h-.8zM483.7 291.8h.8v.8h-.8zM460.7 287.5h.8v.8h-.8zM481.1 295.1h.8v.8h-.8zM475.6 287.1h.8v.8h-.8zM482.9 288.8h.8v.8h-.8zM485.2 293h.8v.8h-.8zM470.9 291.2h.8v.8h-.8zM481.8 289.8h.8v.8h-.8zM477.1 286.1h.8v.8h-.8zM473.6 289.5h.8v.8h-.8zM482.8 284.3h.8v.8h-.8zM495.5 277.8h.8v.8h-.8zM478 289.9h.8v.8h-.8zM480.7 293h.8v.8h-.8zM480.8 289.4h.8v.8h-.8zM475.9 288.1h.8v.8h-.8zM479.9 288.3h.8v.8h-.8zM469.9 290.2h.8v.8h-.8zM472.5 291.8h.8v.8h-.8zM466.5 284.7h.8v.8h-.8zM482.5 289.3h.8v.8h-.8zM478 283.8h.8v.8h-.8zM481.1 277.5h.8v.8h-.8zM475.6 281.1h.8v.8h-.8zM470.6 285.5h.8v.8h-.8zM483.7 290.9h.8v.8h-.8zM476.9 293.8h.8v.8h-.8zM474.5 288.7h.8v.8h-.8zM486.4 289.2h.8v.8h-.8zM478 287.3h.8v.8h-.8zM463.3 281.1h.8v.8h-.8zM476.9 285.4h.8v.8h-.8zM479.2 285.1h.8v.8h-.8zM467.5 293.3h.8v.8h-.8zM477.9 292.8h.8v.8h-.8zM467.5 284.8h.8v.8h-.8zM465 289.3h.8v.8h-.8zM487.9 287.8h.8v.8h-.8zM469 290.2h.8v.8h-.8zM483.9 294.3h.8v.8h-.8zM477.4 284.3h.8v.8h-.8zM480.1 277.5h.8v.8h-.8zM477.9 284.9h.8v.8h-.8zM478.3 291.2h.8v.8h-.8zM482.2 277.7h.8v.8h-.8zM486.7 288.6h.8v.8h-.8zM485.1 286.8h.8v.8h-.8zM479.3 275.9h.8v.8h-.8zM476.7 278.5h.8v.8h-.8zM484.9 287.5h.8v.8h-.8zM478.1 287.1h.8v.8h-.8zM476.5 280h.8v.8h-.8zM479.7 283.8h.8v.8h-.8zM474.3 293.9h.8v.8h-.8zM465.5 282.1h.8v.8h-.8zM468.2 290.5h.8v.8h-.8zM484.4 288.8h.8v.8h-.8zM472.9 286.7h.8v.8h-.8zM487.9 284.2h.8v.8h-.8zM493.2 287.7h.8v.8h-.8zM480.6 297.1h.8v.8h-.8zM477.5 284.8h.8v.8h-.8zM480.5 288.5h.8v.8h-.8zM476.3 284.4h.8v.8h-.8zM476.1 289.8h.8v.8h-.8zM482.8 289.2h.8v.8h-.8zM486.6 297.4h.8v.8h-.8zM481.4 286.1h.8v.8h-.8zM483.1 298.6h.8v.8h-.8zM475.1 290.2h.8v.8h-.8zM480.8 282.3h.8v.8h-.8zM480.7 277.8h.8v.8h-.8zM486.1 290.3h.8v.8h-.8zM472.2 293.5h.8v.8h-.8zM470.5 286.2h.8v.8h-.8zM486.2 279.2h.8v.8h-.8zM485 277.6h.8v.8h-.8zM479.7 291.5h.8v.8h-.8zM485.5 284.1h.8v.8h-.8zM495.5 293.1h.8v.8h-.8zM471.8 289.5h.8v.8h-.8zM469.9 271.5h.8v.8h-.8zM470.5 284.2h.8v.8h-.8zM478.4 289.3h.8v.8h-.8zM479.9 287.8h.8v.8h-.8zM484.9 289.7h.8v.8h-.8zM471.5 282.4h.8v.8h-.8zM475.2 284.8h.8v.8h-.8zM489.5 282.5h.8v.8h-.8zM485.1 282.7h.8v.8h-.8zM468.5 289.8h.8v.8h-.8zM479.5 285.5h.8v.8h-.8zM481.1 288h.8v.8h-.8zM487.2 291.7h.8v.8h-.8zM490.4 287.8h.8v.8h-.8zM470.8 282h.8v.8h-.8zM473.6 288.8h.8v.8h-.8zM489.8 290.6h.8v.8h-.8zM486.1 287.9h.8v.8h-.8zM481.2 288.5h.8v.8h-.8zM481.5 282.1h.8v.8h-.8zM473.2 294.3h.8v.8h-.8zM482.6 289.7h.8v.8h-.8zM471.5 285.5h.8v.8h-.8zM468.5 287.4h.8v.8h-.8zM484.1 293.9h.8v.8h-.8zM465.3 285.6h.8v.8h-.8zM467.2 278.3h.8v.8h-.8zM470.6 280.6h.8v.8h-.8zM460.6 275h.8v.8h-.8zM466.9 280.8h.8v.8h-.8zM470 291.4h.8v.8h-.8zM464.4 284.9h.8v.8h-.8zM463.5 276.5h.8v.8h-.8zM464.1 275.3h.8v.8h-.8zM462.6 279.9h.8v.8h-.8zM465.7 276.9h.8v.8h-.8zM464.8 284.9h.8v.8h-.8zM462.4 283.8h.8v.8h-.8zM465.2 274.9h.8v.8h-.8zM473.9 289.3h.8v.8h-.8zM472.9 283.5h.8v.8h-.8zM470.9 279.7h.8v.8h-.8zM461.4 281.2h.8v.8h-.8zM458.2 286h.8v.8h-.8zM470.6 281.3h.8v.8h-.8zM468.7 281.1h.8v.8h-.8zM466.4 280h.8v.8h-.8zM469.1 279.7h.8v.8h-.8zM471.9 283.1h.8v.8h-.8zM468.8 276.9h.8v.8h-.8zM454.8 286.1h.8v.8h-.8zM462.3 281.9h.8v.8h-.8zM465.6 285.5h.8v.8h-.8zM466.9 278h.8v.8h-.8zM461.3 279.6h.8v.8h-.8zM461.6 273.4h.8v.8h-.8zM455.9 284.5h.8v.8h-.8zM466.9 283.5h.8v.8h-.8zM464.8 281.2h.8v.8h-.8zM460.2 281.5h.8v.8h-.8zM467.4 283.7h.8v.8h-.8zM461.7 287.4h.8v.8h-.8zM466.8 280.7h.8v.8h-.8zM453.3 285.2h.8v.8h-.8zM463.1 277.4h.8v.8h-.8zM463.7 281h.8v.8h-.8zM464.1 285h.8v.8h-.8zM470.7 283.7h.8v.8h-.8zM472.1 282.1h.8v.8h-.8zM467.7 278h.8v.8h-.8zM464.7 273.5h.8v.8h-.8zM464.4 282.8h.8v.8h-.8zM465 286.6h.8v.8h-.8zM467.6 279.3h.8v.8h-.8zM466.9 281.3h.8v.8h-.8zM470.2 277.9h.8v.8h-.8zM473.6 281.2h.8v.8h-.8zM473.7 275.8h.8v.8h-.8zM467.1 278.9h.8v.8h-.8zM460.8 282.5h.8v.8h-.8zM472.3 288.4h.8v.8h-.8zM465.2 283.4h.8v.8h-.8zM465.8 283.3h.8v.8h-.8zM471.8 290h.8v.8h-.8zM465.4 283.1h.8v.8h-.8zM470.5 286.2h.8v.8h-.8zM472.9 286.1h.8v.8h-.8zM463 282.8h.8v.8h-.8zM471.5 284.2h.8v.8h-.8zM463.6 279.2h.8v.8h-.8zM466.7 282.6h.8v.8h-.8zM468.1 285.3h.8v.8h-.8zM467.8 281.6h.8v.8h-.8zM465.6 277.4h.8v.8h-.8zM469.4 280.9h.8v.8h-.8zM464.2 279.7h.8v.8h-.8zM463.2 280h.8v.8h-.8zM464.2 296.7h.8v.8h-.8zM473.2 281.7h.8v.8h-.8zM463.1 287.2h.8v.8h-.8zM463.9 280.1h.8v.8h-.8zM466.3 290.5h.8v.8h-.8zM468.4 281.1h.8v.8h-.8zM462.9 278.5h.8v.8h-.8zM464.7 288.3h.8v.8h-.8zM470.5 285.8h.8v.8h-.8zM468.4 282.3h.8v.8h-.8zM468.2 281.7h.8v.8h-.8zM473.5 281.1h.8v.8h-.8zM474.2 278.6h.8v.8h-.8zM474.2 283.8h.8v.8h-.8zM464.7 283.3h.8v.8h-.8zM466.4 279.8h.8v.8h-.8zM461.6 286.2h.8v.8h-.8zM460.9 276.4h.8v.8h-.8zM469.1 276.5h.8v.8h-.8zM471.5 281.5h.8v.8h-.8zM462.2 285.4h.8v.8h-.8zM462.8 278.7h.8v.8h-.8zM467.6 279.6h.8v.8h-.8zM468.6 286.3h.8v.8h-.8zM468.6 280.7h.8v.8h-.8zM461.9 275.9h.8v.8h-.8zM461.1 287.8h.8v.8h-.8zM462 278.1h.8v.8h-.8zM469.2 284.9h.8v.8h-.8zM454.3 283.7h.8v.8h-.8zM459.4 279.2h.8v.8h-.8zM468.8 273.6h.8v.8h-.8zM467 283.9h.8v.8h-.8zM467.1 278.5h.8v.8h-.8zM466.6 282.5h.8v.8h-.8zM460.6 281.2h.8v.8h-.8zM469.5 290h.8v.8h-.8zM468.6 283.8h.8v.8h-.8zM468 284.6h.8v.8h-.8zM474.1 276.6h.8v.8h-.8zM468.7 283.7h.8v.8h-.8zM472.3 282.3h.8v.8h-.8zM460.3 277.5h.8v.8h-.8zM463.4 281.9h.8v.8h-.8zM463.6 290.3h.8v.8h-.8zM462.4 286.9h.8v.8h-.8zM463.4 274.8h.8v.8h-.8zM461.8 280.7h.8v.8h-.8zM467.7 278.5h.8v.8h-.8zM470.9 278.3h.8v.8h-.8zM465.4 283.4h.8v.8h-.8zM462.2 281.9h.8v.8h-.8zM466.3 282.8h.8v.8h-.8zM474.5 286.1h.8v.8h-.8zM473 280.4h.8v.8h-.8zM465.5 282.4h.8v.8h-.8zM468.2 277.9h.8v.8h-.8zM469.6 278.3h.8v.8h-.8zM463.3 281.1h.8v.8h-.8zM464.6 277.5h.8v.8h-.8zM470.8 281.5h.8v.8h-.8zM469.1 281.2h.8v.8h-.8zM460 280.9h.8v.8h-.8zM465.3 279.5h.8v.8h-.8zM469.4 280.7h.8v.8h-.8zM468.8 277.5h.8v.8h-.8zM464.9 279.6h.8v.8h-.8zM463 283.3h.8v.8h-.8zM466.6 282.5h.8v.8h-.8zM462.2 286.7h.8v.8h-.8zM472.1 282h.8v.8h-.8zM465.4 279.8h.8v.8h-.8zM468.9 276.2h.8v.8h-.8zM462.1 274h.8v.8h-.8zM463.9 279.9h.8v.8h-.8zM461.9 279.7h.8v.8h-.8zM461.9 286.8h.8v.8h-.8zM473.4 281.6h.8v.8h-.8zM470.2 281.6h.8v.8h-.8zM470.4 282.8h.8v.8h-.8zM466.7 287h.8v.8h-.8zM459.7 284.2h.8v.8h-.8zM466.9 283.1h.8v.8h-.8zM467.2 286.3h.8v.8h-.8zM455.4 280h.8v.8h-.8zM472.3 287h.8v.8h-.8zM471.1 275.2h.8v.8h-.8zM472.3 283.1h.8v.8h-.8zM476 284.3h.8v.8h-.8zM468.8 284.6h.8v.8h-.8zM464.9 282.8h.8v.8h-.8zM460.1 282.1h.8v.8h-.8zM467.3 282.7h.8v.8h-.8zM469.9 282.3h.8v.8h-.8zM468.1 280h.8v.8h-.8zM460.6 281.8h.8v.8h-.8zM457.7 286h.8v.8h-.8zM463.5 284.1h.8v.8h-.8zM467.9 281.3h.8v.8h-.8zM465.8 276.1h.8v.8h-.8zM462 278.3h.8v.8h-.8zM463.1 282.8h.8v.8h-.8zM462.4 279.3h.8v.8h-.8zM461.4 276.4h.8v.8h-.8zM461.7 278.3h.8v.8h-.8zM470.3 283.2h.8v.8h-.8zM462.6 282.8h.8v.8h-.8zM462.9 284.2h.8v.8h-.8zM460.3 278.1h.8v.8h-.8zM464.6 276h.8v.8h-.8zM474.7 283.3h.8v.8h-.8zM466.1 278.7h.8v.8h-.8zM473.5 277.6h.8v.8h-.8zM466.8 282.8h.8v.8h-.8zM473.8 284.3h.8v.8h-.8zM473.5 283.6h.8v.8h-.8zM461.5 283.3h.8v.8h-.8zM464.2 286.9h.8v.8h-.8zM472 281h.8v.8h-.8zM461.1 283.1h.8v.8h-.8zM460.6 280.4h.8v.8h-.8zM463 287h.8v.8h-.8zM462.1 281.8h.8v.8h-.8zM458.8 281.7h.8v.8h-.8zM463.8 277.7h.8v.8h-.8zM468 281.4h.8v.8h-.8zM461.9 281.8h.8v.8h-.8zM475.9 279.4h.8v.8h-.8zM453.8 283.7h.8v.8h-.8zM468.6 278h.8v.8h-.8zM460.3 276.4h.8v.8h-.8zM466.5 286.8h.8v.8h-.8zM471 286.2h.8v.8h-.8zM465.1 278h.8v.8h-.8zM461 278.2h.8v.8h-.8zM461 280.2h.8v.8h-.8zM470.1 290.5h.8v.8h-.8zM468.9 277.3h.8v.8h-.8zM466.7 283h.8v.8h-.8zM472.8 274h.8v.8h-.8zM465.3 280.7h.8v.8h-.8zM462.8 285.2h.8v.8h-.8zM466.2 282.7h.8v.8h-.8zM461.1 274.4h.8v.8h-.8zM468.4 284.8h.8v.8h-.8zM468.1 280.6h.8v.8h-.8zM466 282.5h.8v.8h-.8zM469.9 280.6h.8v.8h-.8zM469.7 283.7h.8v.8h-.8zM458 285.9h.8v.8h-.8zM467.7 284.6h.8v.8h-.8zM468.3 286.6h.8v.8h-.8zM469.5 285h.8v.8h-.8zM456.6 282.5h.8v.8h-.8zM467.4 277.6h.8v.8h-.8zM472.5 282.6h.8v.8h-.8zM464.3 288.6h.8v.8h-.8zM464.4 283.3h.8v.8h-.8zM451.2 280.7h.8v.8h-.8zM472.2 275h.8v.8h-.8zM464.9 280h.8v.8h-.8zM460.4 286.8h.8v.8h-.8zM469.4 286.3h.8v.8h-.8zM470.9 279.5h.8v.8h-.8zM464.2 282.3h.8v.8h-.8zM466.9 278.3h.8v.8h-.8zM468.9 283.7h.8v.8h-.8zM465.1 282.7h.8v.8h-.8zM476.1 276.5h.8v.8h-.8zM459.9 286.9h.8v.8h-.8zM463.1 284.1h.8v.8h-.8zM472.5 287h.8v.8h-.8zM469.4 281.7h.8v.8h-.8zM462.1 278.3h.8v.8h-.8zM468.2 275.7h.8v.8h-.8zM457.4 287.5h.8v.8h-.8zM462.4 278.2h.8v.8h-.8zM464.6 278.2h.8v.8h-.8zM469.7 287h.8v.8h-.8zM464.5 288.9h.8v.8h-.8zM469.5 282.5h.8v.8h-.8zM466.2 279.3h.8v.8h-.8zM466.3 287.9h.8v.8h-.8zM458 280.3h.8v.8h-.8zM469.3 277.9h.8v.8h-.8zM470.8 285.6h.8v.8h-.8zM463.4 287.4h.8v.8h-.8zM470.6 284.1h.8v.8h-.8zM462.9 298.3h.8v.8h-.8zM466.9 304.7h.8v.8h-.8zM477 305.8h.8v.8h-.8zM465.8 295.5h.8v.8h-.8zM464.4 298.3h.8v.8h-.8zM465.2 293.8h.8v.8h-.8zM459 294.4h.8v.8h-.8zM450.1 309.8h.8v.8h-.8zM461.8 282.4h.8v.8h-.8zM457.2 290h.8v.8h-.8zM454.1 307.9h.8v.8h-.8zM460.6 287.1h.8v.8h-.8zM471.4 305.3h.8v.8h-.8zM466.8 288.2h.8v.8h-.8zM460.5 306.8h.8v.8h-.8zM463.2 310.1h.8v.8h-.8zM457.1 292.3h.8v.8h-.8zM460.3 297.2h.8v.8h-.8zM465.3 295.8h.8v.8h-.8zM459.6 302.9h.8v.8h-.8zM454.6 291h.8v.8h-.8zM462.9 304.7h.8v.8h-.8zM454.7 290.3h.8v.8h-.8zM450.6 294.8h.8v.8h-.8zM457 297.9h.8v.8h-.8zM459.2 297.5h.8v.8h-.8zM469.9 300.8h.8v.8h-.8zM464.6 288.1h.8v.8h-.8zM458.9 303h.8v.8h-.8zM464.6 301h.8v.8h-.8zM463.9 295h.8v.8h-.8zM463.1 304.6h.8v.8h-.8zM464.7 282.5h.8v.8h-.8zM468.5 288h.8v.8h-.8zM466.3 288.3h.8v.8h-.8zM466.3 290.3h.8v.8h-.8zM449.7 298.2h.8v.8h-.8zM459 303.1h.8v.8h-.8zM469.4 304.6h.8v.8h-.8zM467.2 292.5h.8v.8h-.8zM463.9 283.7h.8v.8h-.8zM464 290.2h.8v.8h-.8zM471.4 300.7h.8v.8h-.8zM455.9 288.6h.8v.8h-.8zM472.9 301.2h.8v.8h-.8zM468.8 298.4h.8v.8h-.8zM457.6 300.3h.8v.8h-.8zM454.4 294.5h.8v.8h-.8zM470 268.9h.8v.8h-.8zM461.7 305.4h.8v.8h-.8zM455.3 299.7h.8v.8h-.8zM471.1 289.1h.8v.8h-.8zM460.8 293.6h.8v.8h-.8zM472.4 309h.8v.8h-.8zM465 290h.8v.8h-.8zM460.3 292.2h.8v.8h-.8zM463.7 288.9h.8v.8h-.8zM473.4 286.4h.8v.8h-.8zM461.3 288.7h.8v.8h-.8zM468.7 277h.8v.8h-.8zM459.5 303.6h.8v.8h-.8zM466.2 310.9h.8v.8h-.8zM464.8 310.9h.8v.8h-.8zM470.3 293.6h.8v.8h-.8zM467.3 305.5h.8v.8h-.8zM466.9 303.3h.8v.8h-.8zM466.4 304.3h.8v.8h-.8zM461.8 291.7h.8v.8h-.8zM460.6 300.6h.8v.8h-.8zM468.3 321h.8v.8h-.8zM470.2 289h.8v.8h-.8zM467.2 306.3h.8v.8h-.8zM456.2 292.6h.8v.8h-.8zM465.6 296h.8v.8h-.8zM461.2 306.1h.8v.8h-.8zM466.8 308.3h.8v.8h-.8zM462.8 298.4h.8v.8h-.8zM464.3 307h.8v.8h-.8zM468.8 291.1h.8v.8h-.8zM453.4 303.4h.8v.8h-.8zM465 290.6h.8v.8h-.8zM461.2 280.5h.8v.8h-.8zM454.1 283.9h.8v.8h-.8zM454.8 294.3h.8v.8h-.8zM454.3 297.4h.8v.8h-.8zM465 301.9h.8v.8h-.8zM461.2 305.2h.8v.8h-.8zM447.1 298.3h.8v.8h-.8zM455.7 288.6h.8v.8h-.8zM460.4 289.8h.8v.8h-.8zM457.5 284.7h.8v.8h-.8zM464.1 303.5h.8v.8h-.8zM463.9 290.4h.8v.8h-.8zM467 305.1h.8v.8h-.8zM464.7 296h.8v.8h-.8zM469 290.9h.8v.8h-.8zM456.3 302.9h.8v.8h-.8zM468.6 298.4h.8v.8h-.8zM455.5 296.9h.8v.8h-.8zM474 288.3h.8v.8h-.8zM466.9 293.2h.8v.8h-.8zM466.1 293h.8v.8h-.8zM474.9 307.6h.8v.8h-.8zM460.3 296.7h.8v.8h-.8zM464.2 295.1h.8v.8h-.8zM463.3 289.5h.8v.8h-.8zM462.5 292.6h.8v.8h-.8zM460 277.8h.8v.8h-.8zM462.7 301.9h.8v.8h-.8zM456.8 296h.8v.8h-.8zM460.7 292h.8v.8h-.8zM455.3 282.3h.8v.8h-.8zM465.7 297.5h.8v.8h-.8zM467.8 295h.8v.8h-.8zM459 301.7h.8v.8h-.8zM471 288.2h.8v.8h-.8zM461.3 309.6h.8v.8h-.8zM467.5 303.6h.8v.8h-.8zM462.7 287.8h.8v.8h-.8zM457 295.8h.8v.8h-.8zM462.1 295.2h.8v.8h-.8zM470.1 300.7h.8v.8h-.8zM456.9 299.7h.8v.8h-.8zM466.1 289.7h.8v.8h-.8zM453.2 294.4h.8v.8h-.8zM459.2 308.6h.8v.8h-.8zM456.9 319.8h.8v.8h-.8zM465.4 289.1h.8v.8h-.8zM461.2 291.7h.8v.8h-.8zM467.5 301.5h.8v.8h-.8zM464.9 277.4h.8v.8h-.8zM460.7 303.2h.8v.8h-.8zM477 295.3h.8v.8h-.8zM461.2 293.2h.8v.8h-.8zM463.7 287h.8v.8h-.8zM465 300.8h.8v.8h-.8zM466.6 291.9h.8v.8h-.8zM454.7 291.9h.8v.8h-.8zM461.4 289.1h.8v.8h-.8zM462.2 302.9h.8v.8h-.8zM457.6 307h.8v.8h-.8zM468 295h.8v.8h-.8zM453.9 304.9h.8v.8h-.8zM464.4 296h.8v.8h-.8zM459.7 301.1h.8v.8h-.8zM453.2 286h.8v.8h-.8zM456.1 291.9h.8v.8h-.8zM458.8 294.7h.8v.8h-.8zM462.5 286.6h.8v.8h-.8zM469.6 303.2h.8v.8h-.8zM467.6 309.9h.8v.8h-.8zM461.4 279.9h.8v.8h-.8zM461.8 295.5h.8v.8h-.8zM469.2 287.7h.8v.8h-.8zM466.2 290.5h.8v.8h-.8zM458.2 290.6h.8v.8h-.8zM470.7 294.3h.8v.8h-.8zM461.1 298.4h.8v.8h-.8zM465.2 303h.8v.8h-.8zM451.8 301.8h.8v.8h-.8zM462.3 293.8h.8v.8h-.8zM466.9 297.3h.8v.8h-.8zM465.1 304.6h.8v.8h-.8zM456.9 309.3h.8v.8h-.8zM462.9 290h.8v.8h-.8zM465.7 305.5h.8v.8h-.8zM463.1 300.1h.8v.8h-.8zM467 291.6h.8v.8h-.8zM469.7 288.9h.8v.8h-.8zM455.8 302.4h.8v.8h-.8zM467.2 284.3h.8v.8h-.8zM465.3 289.5h.8v.8h-.8zM456.5 287.2h.8v.8h-.8zM458.3 289.3h.8v.8h-.8zM469.3 307.7h.8v.8h-.8zM464.5 306.2h.8v.8h-.8zM466.8 308.6h.8v.8h-.8zM453.6 297.1h.8v.8h-.8zM460.8 292.8h.8v.8h-.8zM461.5 305.5h.8v.8h-.8zM464.7 297.7h.8v.8h-.8zM466.7 304h.8v.8h-.8zM464.9 295h.8v.8h-.8zM468 300.9h.8v.8h-.8zM461.4 296.9h.8v.8h-.8zM457 294.8h.8v.8h-.8zM464.3 302.6h.8v.8h-.8zM453.6 300h.8v.8h-.8zM458.6 285.8h.8v.8h-.8zM462.2 295h.8v.8h-.8zM463.5 295.3h.8v.8h-.8zM466.3 305.7h.8v.8h-.8zM471.8 301.7h.8v.8h-.8zM451.6 283.5h.8v.8h-.8zM466.5 286.3h.8v.8h-.8zM460.9 303.4h.8v.8h-.8zM469.6 295.2h.8v.8h-.8zM466.9 297.3h.8v.8h-.8zM465.3 280.7h.8v.8h-.8zM470.1 301.5h.8v.8h-.8zM456.3 292.8h.8v.8h-.8zM461.5 292h.8v.8h-.8zM471.6 288.5h.8v.8h-.8zM469.2 302.4h.8v.8h-.8zM468.9 282.5h.8v.8h-.8zM463 302.2h.8v.8h-.8zM460 286.6h.8v.8h-.8zM452 303.9h.8v.8h-.8zM471.6 307.3h.8v.8h-.8zM464.9 297.2h.8v.8h-.8zM475.4 293.5h.8v.8h-.8zM463.3 283.7h.8v.8h-.8zM471.1 290.2h.8v.8h-.8zM472.6 300.7h.8v.8h-.8zM457.9 298.9h.8v.8h-.8zM466.5 308.3h.8v.8h-.8zM462.1 276.5h.8v.8h-.8zM464.5 295.3h.8v.8h-.8zM472.8 303.3h.8v.8h-.8zM460 300h.8v.8h-.8zM461 297.1h.8v.8h-.8zM457.4 306h.8v.8h-.8zM459.4 302.5h.8v.8h-.8zM468.8 277h.8v.8h-.8zM465.3 290.9h.8v.8h-.8zM451.5 302.6h.8v.8h-.8zM462.1 296.6h.8v.8h-.8zM460.9 305.7h.8v.8h-.8zM454 303.5h.8v.8h-.8zM460.6 284.9h.8v.8h-.8zM455.4 293.7h.8v.8h-.8zM467.8 299.7h.8v.8h-.8zM472.9 299.9h.8v.8h-.8zM466.6 299.8h.8v.8h-.8zM465.9 302.4h.8v.8h-.8zM471.2 292.7h.8v.8h-.8zM458.1 284.7h.8v.8h-.8zM465.2 301.8h.8v.8h-.8zM463.1 283.7h.8v.8h-.8zM459.9 291.3h.8v.8h-.8zM467.9 305.2h.8v.8h-.8zM462.1 296h.8v.8h-.8zM470.3 294.1h.8v.8h-.8zM467.6 303.3h.8v.8h-.8zM465.5 292.6h.8v.8h-.8zM462.3 295h.8v.8h-.8zM467.7 300.9h.8v.8h-.8zM467.2 309.9h.8v.8h-.8zM459.6 298.3h.8v.8h-.8zM470.7 291h.8v.8h-.8zM465.1 302.5h.8v.8h-.8zM466.3 295.9h.8v.8h-.8zM468.2 299.8h.8v.8h-.8zM469.8 287.8h.8v.8h-.8zM466.4 297.5h.8v.8h-.8zM456.1 298.6h.8v.8h-.8zM460.8 292.6h.8v.8h-.8zM460.6 293.1h.8v.8h-.8zM464.2 301.9h.8v.8h-.8zM471.2 294.2h.8v.8h-.8zM458 308.8h.8v.8h-.8zM457.4 293.6h.8v.8h-.8zM470.6 300h.8v.8h-.8zM461.3 305.9h.8v.8h-.8zM460.2 301.2h.8v.8h-.8zM458.6 287.1h.8v.8h-.8zM462.8 287h.8v.8h-.8zM463.1 292.9h.8v.8h-.8zM463.8 298.8h.8v.8h-.8zM471.8 281.7h.8v.8h-.8zM460.7 300.1h.8v.8h-.8zM458.3 305.9h.8v.8h-.8zM455.6 298.5h.8v.8h-.8zM471 298.7h.8v.8h-.8zM477.1 299.7h.8v.8h-.8zM464 291h.8v.8h-.8zM471.2 311.5h.8v.8h-.8zM465.6 303.4h.8v.8h-.8zM466.5 313.5h.8v.8h-.8zM470.4 293.3h.8v.8h-.8zM460.4 289.7h.8v.8h-.8zM459.4 295.9h.8v.8h-.8zM471.2 286.5h.8v.8h-.8zM455.7 299.1h.8v.8h-.8zM452 301.4h.8v.8h-.8zM462.9 300h.8v.8h-.8zM469.3 314h.8v.8h-.8zM462.1 295.5h.8v.8h-.8zM465.9 300.2h.8v.8h-.8zM457.9 284.8h.8v.8h-.8zM459.5 282.1h.8v.8h-.8zM457.6 291h.8v.8h-.8zM453.7 287.7h.8v.8h-.8zM458.2 299h.8v.8h-.8zM458.5 301.9h.8v.8h-.8zM467.7 278.9h.8v.8h-.8zM467 294.4h.8v.8h-.8zM455.2 307.7h.8v.8h-.8zM460 306.1h.8v.8h-.8zM462.1 299.9h.8v.8h-.8zM466.7 314h.8v.8h-.8zM463.4 296.7h.8v.8h-.8zM448.5 294.7h.8v.8h-.8zM459.5 300.6h.8v.8h-.8zM459.3 301.1h.8v.8h-.8zM465.5 296.9h.8v.8h-.8zM455.4 303.3h.8v.8h-.8zM457.8 287.7h.8v.8h-.8zM459.7 299.1h.8v.8h-.8zM465 300.3h.8v.8h-.8zM466.4 298.4h.8v.8h-.8zM461.9 290.6h.8v.8h-.8zM459.4 295.2h.8v.8h-.8zM468.4 297.9h.8v.8h-.8zM460.3 308.8h.8v.8h-.8zM459.5 288.7h.8v.8h-.8zM472.6 299h.8v.8h-.8zM461 291.5h.8v.8h-.8zM472.4 298.5h.8v.8h-.8zM458.8 316.4h.8v.8h-.8zM460.5 299h.8v.8h-.8zM461.1 296.7h.8v.8h-.8zM467.2 289.1h.8v.8h-.8zM454.2 288.3h.8v.8h-.8zM474.7 299h.8v.8h-.8zM459.7 304.4h.8v.8h-.8zM461.3 303.8h.8v.8h-.8zM469 292h.8v.8h-.8zM466.6 301.4h.8v.8h-.8zM467.5 309.1h.8v.8h-.8zM468 310.7h.8v.8h-.8zM458.6 294h.8v.8h-.8zM468.4 284.9h.8v.8h-.8zM464.2 306.9h.8v.8h-.8zM463.6 297.1h.8v.8h-.8zM469.9 298.7h.8v.8h-.8zM464.5 287.8h.8v.8h-.8zM463.1 288.6h.8v.8h-.8zM467.2 299.3h.8v.8h-.8zM461.5 301.7h.8v.8h-.8zM471.1 300.2h.8v.8h-.8zM465.4 304.1h.8v.8h-.8zM463.9 294h.8v.8h-.8zM472.2 285.6h.8v.8h-.8zM467.5 303.6h.8v.8h-.8zM453 292.1h.8v.8h-.8zM462.6 299.6h.8v.8h-.8zM459.5 297.3h.8v.8h-.8zM454.2 300.6h.8v.8h-.8zM466.1 291.6h.8v.8h-.8zM459.7 311.9h.8v.8h-.8zM462.8 284.8h.8v.8h-.8zM458.6 303.6h.8v.8h-.8zM461.9 294.3h.8v.8h-.8zM457.1 304.2h.8v.8h-.8zM467 293.1h.8v.8h-.8zM469.9 297.4h.8v.8h-.8zM461.4 300.5h.8v.8h-.8zM455.1 297.2h.8v.8h-.8zM459.4 292.9h.8v.8h-.8zM471.1 313h.8v.8h-.8zM467.9 297.2h.8v.8h-.8zM457.3 289.7h.8v.8h-.8zM462.4 303.9h.8v.8h-.8zM469.5 302h.8v.8h-.8zM467.3 305.1h.8v.8h-.8zM459.9 299.7h.8v.8h-.8zM457 282.6h.8v.8h-.8zM456.6 289.6h.8v.8h-.8zM466.6 293.7h.8v.8h-.8zM466.3 292.9h.8v.8h-.8zM454.7 296.4h.8v.8h-.8zM459.8 281h.8v.8h-.8zM467.4 304.8h.8v.8h-.8zM459.9 291.4h.8v.8h-.8zM455.5 284.5h.8v.8h-.8zM467.5 293.3h.8v.8h-.8zM469.6 289.7h.8v.8h-.8zM461.7 300.1h.8v.8h-.8zM458.8 294.1h.8v.8h-.8zM477.7 286.8h.8v.8h-.8zM456.5 302.6h.8v.8h-.8zM461.2 302.3h.8v.8h-.8zM449.2 295.5h.8v.8h-.8zM469.4 288.6h.8v.8h-.8zM460.5 292.3h.8v.8h-.8zM465.2 311.1h.8v.8h-.8zM455.5 294.3h.8v.8h-.8zM464.3 291.6h.8v.8h-.8zM461.2 307.4h.8v.8h-.8zM459.9 306.1h.8v.8h-.8zM454.2 303.7h.8v.8h-.8zM464.8 291h.8v.8h-.8zM453.7 293h.8v.8h-.8zM458.3 280.9h.8v.8h-.8zM471.3 293.4h.8v.8h-.8zM463.8 291.9h.8v.8h-.8zM457.8 302.9h.8v.8h-.8zM467.7 304.5h.8v.8h-.8zM461.4 299.8h.8v.8h-.8zM468.2 290.6h.8v.8h-.8zM460.1 293.9h.8v.8h-.8zM458.7 299.5h.8v.8h-.8zM463.3 294.3h.8v.8h-.8zM452.6 295.9h.8v.8h-.8zM461.8 292.9h.8v.8h-.8zM459.4 301.4h.8v.8h-.8zM457.6 295.1h.8v.8h-.8zM468.8 298.9h.8v.8h-.8zM455.7 293.9h.8v.8h-.8zM463.9 301.5h.8v.8h-.8zM462.7 300.9h.8v.8h-.8zM456.8 305.1h.8v.8h-.8zM459.8 307.7h.8v.8h-.8zM458.7 296h.8v.8h-.8zM458 285.1h.8v.8h-.8zM469.4 296.2h.8v.8h-.8zM460.7 305.8h.8v.8h-.8zM466.5 286.9h.8v.8h-.8zM460.8 297.9h.8v.8h-.8zM465.3 287.6h.8v.8h-.8zM461.7 307h.8v.8h-.8zM459.9 295.6h.8v.8h-.8zM472.5 297h.8v.8h-.8zM461.8 303.4h.8v.8h-.8zM468.6 295.6h.8v.8h-.8zM458.5 310.7h.8v.8h-.8zM464.6 301.3h.8v.8h-.8zM461.4 297.4h.8v.8h-.8zM467.1 283h.8v.8h-.8zM451.5 279.6h.8v.8h-.8zM458.9 294h.8v.8h-.8zM467.6 302.1h.8v.8h-.8zM458.7 303.7h.8v.8h-.8zM460 307.6h.8v.8h-.8zM459 297.5h.8v.8h-.8zM457.9 300.7h.8v.8h-.8zM462.1 307.4h.8v.8h-.8zM466.7 299.1h.8v.8h-.8zM455.7 303.2h.8v.8h-.8zM470.1 305.9h.8v.8h-.8zM455.8 279.5h.8v.8h-.8zM459 298h.8v.8h-.8zM465.1 292.5h.8v.8h-.8zM462.8 304.1h.8v.8h-.8zM463 296.7h.8v.8h-.8zM460.7 309.5h.8v.8h-.8zM465.6 292h.8v.8h-.8zM459.8 290.1h.8v.8h-.8zM458.2 299.7h.8v.8h-.8zM483.9 299.4h.8v.8h-.8zM476.2 297.8h.8v.8h-.8zM486 298.8h.8v.8h-.8zM480.2 309.9h.8v.8h-.8zM483.4 302.5h.8v.8h-.8zM485.3 304.1h.8v.8h-.8zM484 299.7h.8v.8h-.8zM488.5 299.2h.8v.8h-.8zM477.8 290.9h.8v.8h-.8zM471.4 302.7h.8v.8h-.8zM485 304.3h.8v.8h-.8zM484.2 296.3h.8v.8h-.8zM481.7 299.6h.8v.8h-.8zM478.1 301.8h.8v.8h-.8zM489.1 305.3h.8v.8h-.8zM481.3 304.5h.8v.8h-.8zM477.2 300.7h.8v.8h-.8zM486.3 307.6h.8v.8h-.8zM483.6 292.1h.8v.8h-.8zM477.1 298.2h.8v.8h-.8zM478.8 302.1h.8v.8h-.8zM481.5 294h.8v.8h-.8zM483 308h.8v.8h-.8zM480 313.9h.8v.8h-.8zM473.1 309.2h.8v.8h-.8zM487.1 298.3h.8v.8h-.8zM482.5 302.5h.8v.8h-.8zM476.9 304.1h.8v.8h-.8zM483.3 296h.8v.8h-.8zM480.2 303.4h.8v.8h-.8zM483.6 300.7h.8v.8h-.8zM485 304.7h.8v.8h-.8zM484.4 315.9h.8v.8h-.8zM487.4 307.7h.8v.8h-.8zM475.5 298.8h.8v.8h-.8zM486.5 313.8h.8v.8h-.8zM483.2 313.7h.8v.8h-.8zM482.5 302.3h.8v.8h-.8zM477.7 298.8h.8v.8h-.8zM477.9 301.7h.8v.8h-.8zM480.2 304.2h.8v.8h-.8zM486.7 308.9h.8v.8h-.8zM487.9 306.3h.8v.8h-.8zM475.9 307.6h.8v.8h-.8zM474 314.9h.8v.8h-.8zM479.2 298.7h.8v.8h-.8zM485.7 304.1h.8v.8h-.8zM489.3 306.7h.8v.8h-.8zM490.3 294.3h.8v.8h-.8zM483.7 301.8h.8v.8h-.8zM480.3 302.6h.8v.8h-.8zM481.9 301.8h.8v.8h-.8zM485.2 306.4h.8v.8h-.8zM482.9 303.2h.8v.8h-.8zM485.1 295.4h.8v.8h-.8zM487.2 303.2h.8v.8h-.8zM480.5 295.7h.8v.8h-.8zM483.1 293.7h.8v.8h-.8zM478.4 298.4h.8v.8h-.8zM482.1 303.4h.8v.8h-.8zM482.4 306.6h.8v.8h-.8zM492.6 304.3h.8v.8h-.8zM479.6 303.2h.8v.8h-.8zM484 305.8h.8v.8h-.8zM481.8 304.5h.8v.8h-.8zM479.5 299.9h.8v.8h-.8zM481.1 300.1h.8v.8h-.8zM488.5 299.4h.8v.8h-.8zM477.9 305.3h.8v.8h-.8zM474.1 294.4h.8v.8h-.8zM483.5 297.1h.8v.8h-.8zM480.3 309h.8v.8h-.8zM479.8 306.6h.8v.8h-.8zM485.6 306.8h.8v.8h-.8zM482.6 306.7h.8v.8h-.8zM484.3 303.6h.8v.8h-.8zM482.5 303.4h.8v.8h-.8zM481.4 300.4h.8v.8h-.8zM494.8 309.5h.8v.8h-.8zM475.1 299.6h.8v.8h-.8zM471.7 297.5h.8v.8h-.8zM475.8 302.8h.8v.8h-.8zM485.9 309.4h.8v.8h-.8zM484.9 305.3h.8v.8h-.8zM485.5 300.5h.8v.8h-.8zM482 307.1h.8v.8h-.8zM482.9 307.5h.8v.8h-.8zM483.5 302.8h.8v.8h-.8zM478.6 301.3h.8v.8h-.8zM486.6 302.9h.8v.8h-.8zM485.2 302.3h.8v.8h-.8zM486.2 301h.8v.8h-.8zM480.6 295.2h.8v.8h-.8zM473.6 303.5h.8v.8h-.8zM483.7 300.1h.8v.8h-.8zM471.7 296.5h.8v.8h-.8zM477.4 300.3h.8v.8h-.8zM478.4 305.6h.8v.8h-.8zM479.1 303.3h.8v.8h-.8zM482.8 305.2h.8v.8h-.8zM480.3 305.2h.8v.8h-.8zM482.3 298.6h.8v.8h-.8zM477 293h.8v.8h-.8zM487.8 298.3h.8v.8h-.8zM487.4 299.6h.8v.8h-.8zM484.7 302h.8v.8h-.8zM487.1 297.7h.8v.8h-.8zM477.9 300.5h.8v.8h-.8zM468.3 294.6h.8v.8h-.8zM481.8 297.2h.8v.8h-.8zM489.9 299.7h.8v.8h-.8zM484.1 309.9h.8v.8h-.8zM489.8 308.4h.8v.8h-.8zM487.3 312.2h.8v.8h-.8zM479.1 304.3h.8v.8h-.8zM485.4 309.3h.8v.8h-.8zM483.8 303.6h.8v.8h-.8zM487.3 298.9h.8v.8h-.8zM475.7 297.7h.8v.8h-.8zM478.3 300.3h.8v.8h-.8zM467.2 312h.8v.8h-.8zM460.5 311.8h.8v.8h-.8zM483.3 312.3h.8v.8h-.8zM448.1 312.3h.8v.8h-.8zM455.3 311.9h.8v.8h-.8zM456.7 311.2h.8v.8h-.8zM462.7 311.9h.8v.8h-.8zM494 312h.8v.8h-.8zM493.3 312.2h.8v.8h-.8zM446.5 311.8h.8v.8h-.8zM486.4 311.3h.8v.8h-.8zM464.3 311.5h.8v.8h-.8zM495.7 311.2h.8v.8h-.8zM457.3 311.5h.8v.8h-.8zM452.9 311.7h.8v.8h-.8zM492.8 311.2h.8v.8h-.8zM460.9 311.9h.8v.8h-.8zM450.8 312.3h.8v.8h-.8zM451.3 312.3h.8v.8h-.8zM492.8 312.8h.8v.8h-.8zM480.8 313h.8v.8h-.8zM492.5 312h.8v.8h-.8zM452.2 311.6h.8v.8h-.8zM471.3 312.2h.8v.8h-.8zM467.8 311.6h.8v.8h-.8zM497.3 311.3h.8v.8h-.8zM481.6 311.6h.8v.8h-.8zM461.1 312.5h.8v.8h-.8zM478.4 311.2h.8v.8h-.8zM477.5 312h.8v.8h-.8zM474.3 311.9h.8v.8h-.8zM496.3 312.3h.8v.8h-.8zM444.9 312.2h.8v.8h-.8zM441.3 311.9h.8v.8h-.8zM446.1 312h.8v.8h-.8zM479.5 311.6h.8v.8h-.8zM445.4 312.8h.8v.8h-.8zM468.8 311.7h.8v.8h-.8zM485.2 312.2h.8v.8h-.8zM464.9 311.9h.8v.8h-.8zM446 312.2h.8v.8h-.8zM468.9 312.2h.8v.8h-.8zM484.2 312.1h.8v.8h-.8zM452.2 311.3h.8v.8h-.8zM452.4 312h.8v.8h-.8zM472.7 312.2h.8v.8h-.8zM473.7 311.3h.8v.8h-.8zM461.8 312.6h.8v.8h-.8zM456.1 311.6h.8v.8h-.8zM482.9 312.4h.8v.8h-.8zM488.2 311.8h.8v.8h-.8zM493.9 311.8h.8v.8h-.8zM488.3 312.1h.8v.8h-.8zM478.5 312h.8v.8h-.8zM459.6 312.3h.8v.8h-.8zM451.3 311.2h.8v.8h-.8zM475.7 312.1h.8v.8h-.8zM454.5 311.8h.8v.8h-.8zM481.5 311.6h.8v.8h-.8zM486.2 311.6h.8v.8h-.8zM445.5 312.5h.8v.8h-.8zM469.2 310.8h.8v.8h-.8zM492.5 311.8h.8v.8h-.8zM464.6 312.4h.8v.8h-.8zM473.1 311.1h.8v.8h-.8zM490.3 313h.8v.8h-.8zM442.3 312.4h.8v.8h-.8zM481.7 311.8h.8v.8h-.8zM461.7 312.6h.8v.8h-.8zM469.5 312.3h.8v.8h-.8zM455.6 312.5h.8v.8h-.8zM452.7 312.5h.8v.8h-.8zM454.5 312.5h.8v.8h-.8zM489.8 311.6h.8v.8h-.8zM497.4 312.2h.8v.8h-.8zM479 311.9h.8v.8h-.8zM475.7 313.2h.8v.8h-.8zM497.2 311.9h.8v.8h-.8zM446.4 311.4h.8v.8h-.8zM497.9 311.5h.8v.8h-.8zM440.7 311.7h.8v.8h-.8zM472.1 312.1h.8v.8h-.8zM474.2 311.5h.8v.8h-.8zM462.4 311.4h.8v.8h-.8zM447.7 312.1h.8v.8h-.8zM497.1 312.1h.8v.8h-.8zM479.3 311.3h.8v.8h-.8zM444.4 312.8h.8v.8h-.8zM472.1 311.9h.8v.8h-.8zM490.7 311.5h.8v.8h-.8zM477.7 311.9h.8v.8h-.8zM471.5 311.7h.8v.8h-.8zM460.6 312.8h.8v.8h-.8zM490 311.7h.8v.8h-.8zM460.6 311.4h.8v.8h-.8zM483.3 311.7h.8v.8h-.8zM486.1 311.9h.8v.8h-.8zM454 311.8h.8v.8h-.8zM491.7 311.9h.8v.8h-.8zM445.5 311.5h.8v.8h-.8zM495.2 311.4h.8v.8h-.8zM464.8 311.4h.8v.8h-.8zM473.5 311.7h.8v.8h-.8zM497.1 312.4h.8v.8h-.8zM443.8 312.7h.8v.8h-.8zM492.9 312h.8v.8h-.8zM442.2 311.9h.8v.8h-.8zM449.8 311.8h.8v.8h-.8zM445 312h.8v.8h-.8zM441.5 311.7h.8v.8h-.8zM488.9 311.9h.8v.8h-.8zM454.2 311.7h.8v.8h-.8zM463.7 311.7h.8v.8h-.8zM457.4 312h.8v.8h-.8zM482.8 312.4h.8v.8h-.8zM455.4 311.5h.8v.8h-.8zM492.7 311.7h.8v.8h-.8zM484 312h.8v.8h-.8zM474.7 312.3h.8v.8h-.8zM455.3 312h.8v.8h-.8zM486.7 311.9h.8v.8h-.8zM462.9 312.3h.8v.8h-.8zM447.2 312.2h.8v.8h-.8zM446.3 311.7h.8v.8h-.8zM448 311.2h.8v.8h-.8zM461.3 311.7h.8v.8h-.8zM454.1 311.2h.8v.8h-.8zM464.2 312.1h.8v.8h-.8zM461.6 312h.8v.8h-.8zM478.4 311.2h.8v.8h-.8zM458.7 311h.8v.8h-.8zM493.6 312.4h.8v.8h-.8zM493.6 311.4h.8v.8h-.8zM477.8 312.4h.8v.8h-.8zM488 312.3h.8v.8h-.8zM494.1 311.3h.8v.8h-.8zM446.9 312.1h.8v.8h-.8zM458.9 311.9h.8v.8h-.8zM455.6 311.8h.8v.8h-.8zM480.3 312.4h.8v.8h-.8zM476.4 311.6h.8v.8h-.8zM468.9 312.3h.8v.8h-.8zM491.6 312.6h.8v.8h-.8zM453.9 312h.8v.8h-.8zM464.2 312h.8v.8h-.8zM482.7 312.5h.8v.8h-.8zM457.9 311.8h.8v.8h-.8zM477.6 312h.8v.8h-.8zM446.2 311.9h.8v.8h-.8zM487.9 312.3h.8v.8h-.8zM465.6 312.1h.8v.8h-.8zM461.7 312h.8v.8h-.8zM467.2 312.3h.8v.8h-.8zM457.9 312.2h.8v.8h-.8zM472 311.8h.8v.8h-.8zM459.7 311.9h.8v.8h-.8zM453.2 312.2h.8v.8h-.8zM454.6 312h.8v.8h-.8zM463.4 311.9h.8v.8h-.8zM459.5 312h.8v.8h-.8zM455.2 311.8h.8v.8h-.8zM455.5 312.4h.8v.8h-.8zM464.4 312.4h.8v.8h-.8zM461.7 311.6h.8v.8h-.8zM461.5 312.4h.8v.8h-.8zM465.8 312.3h.8v.8h-.8zM467.6 312.1h.8v.8h-.8zM460.2 311.7h.8v.8h-.8zM469.7 312.5h.8v.8h-.8zM458.5 312h.8v.8h-.8zM457.7 312.5h.8v.8h-.8zM453.6 312.6h.8v.8h-.8zM456.9 311.9h.8v.8h-.8zM463.3 312.2h.8v.8h-.8zM471.6 311.9h.8v.8h-.8zM473.4 311.8h.8v.8h-.8zM453.3 311.6h.8v.8h-.8zM466.2 312.3h.8v.8h-.8zM453.1 312.2h.8v.8h-.8zM473.1 312.2h.8v.8h-.8zM459.3 312h.8v.8h-.8zM454.7 312.3h.8v.8h-.8zM454.3 311.8h.8v.8h-.8zM466.6 312h.8v.8h-.8zM472 312.4h.8v.8h-.8zM459 312.3h.8v.8h-.8zM453.9 311.8h.8v.8h-.8zM453.2 312.9h.8v.8h-.8zM468.7 312.4h.8v.8h-.8zM465.6 311.8h.8v.8h-.8zM456.7 311.6h.8v.8h-.8zM464.9 312.5h.8v.8h-.8zM454.2 312.2h.8v.8h-.8zM454.3 311.4h.8v.8h-.8zM468 311.9h.8v.8h-.8zM468.6 311.7h.8v.8h-.8zM455.2 312.3h.8v.8h-.8zM460 312.1h.8v.8h-.8zM457.7 311.4h.8v.8h-.8zM463.4 312.2h.8v.8h-.8zM463.6 311.6h.8v.8h-.8zM471.2 311.9h.8v.8h-.8zM461.2 312h.8v.8h-.8zM469.4 312.2h.8v.8h-.8zM470.6 312.7h.8v.8h-.8zM459.3 312.4h.8v.8h-.8zM455.8 312h.8v.8h-.8zM462.9 312.5h.8v.8h-.8zM472.2 312h.8v.8h-.8zM463.3 311.7h.8v.8h-.8zM455.3 312.9h.8v.8h-.8zM459.3 312.1h.8v.8h-.8zM456.7 311.8h.8v.8h-.8zM458.5 312.5h.8v.8h-.8zM470.5 311.6h.8v.8h-.8zM453.6 312.4h.8v.8h-.8zM470.7 311.6h.8v.8h-.8zM464.2 311.8h.8v.8h-.8zM462.4 311.9h.8v.8h-.8zM458.1 312.1h.8v.8h-.8zM470.2 312.6h.8v.8h-.8zM467.9 312h.8v.8h-.8zM472.4 312.6h.8v.8h-.8zM473.3 312h.8v.8h-.8zM458.8 311.7h.8v.8h-.8zM464.3 311.7h.8v.8h-.8zM467.4 311.2h.8v.8h-.8zM473.5 312h.8v.8h-.8zM464.4 312.4h.8v.8h-.8zM470.1 311.9h.8v.8h-.8zM456.3 311.7h.8v.8h-.8zM465.5 312.1h.8v.8h-.8zM457.3 311.9h.8v.8h-.8zM463.5 311.6h.8v.8h-.8zM457.7 312.1h.8v.8h-.8zM465.7 311.4h.8v.8h-.8zM472.4 312.2h.8v.8h-.8zM461.3 312.2h.8v.8h-.8zM469.8 311.9h.8v.8h-.8zM465.7 312.6h.8v.8h-.8zM459.5 311.7h.8v.8h-.8zM466.1 312h.8v.8h-.8zM472.1 311.8h.8v.8h-.8zM462.5 312.1h.8v.8h-.8zM457.3 311.8h.8v.8h-.8zM454.4 312.1h.8v.8h-.8zM465.3 312.5h.8v.8h-.8zM463.9 312.2h.8v.8h-.8zM461.8 312.6h.8v.8h-.8zM458.2 312.5h.8v.8h-.8zM461.4 311.8h.8v.8h-.8zM462.1 312.3h.8v.8h-.8zM469.6 312.3h.8v.8h-.8zM459.7 312.3h.8v.8h-.8zM467.5 312.4h.8v.8h-.8zM462.2 311.9h.8v.8h-.8zM458.4 311.9h.8v.8h-.8zM467.8 312.1h.8v.8h-.8zM463 312.4h.8v.8h-.8zM453.4 311.8h.8v.8h-.8zM469.2 311.5h.8v.8h-.8zM456.8 312.2h.8v.8h-.8zM472.5 311.6h.8v.8h-.8zM465.3 312.1h.8v.8h-.8zM467.9 312h.8v.8h-.8zM465.8 312.1h.8v.8h-.8zM471.6 312.6h.8v.8h-.8zM462.4 311.9h.8v.8h-.8zM469 312.1h.8v.8h-.8zM463.6 312.1h.8v.8h-.8zM464.2 311.8h.8v.8h-.8zM456.8 312.2h.8v.8h-.8zM469.3 312.1h.8v.8h-.8zM453.4 312.2h.8v.8h-.8zM467.9 312.7h.8v.8h-.8zM476.2 305.8h.8v.8h-.8zM489.2 298.7h.8v.8h-.8zM467.5 288.7h.8v.8h-.8zM457.5 284.1h.8v.8h-.8zM492.4 280.1h.8v.8h-.8zM492.9 291.8h.8v.8h-.8zM439.9 305.2h.8v.8h-.8zM480.9 319h.8v.8h-.8zM443.9 301.2h.8v.8h-.8zM495.7 307.7h.8v.8h-.8zM496.1 275.5h.8v.8h-.8zM451.8 303.4h.8v.8h-.8zM446.3 270.2h.8v.8h-.8zM494.7 307.1h.8v.8h-.8zM481.2 289.2h.8v.8h-.8zM467.8 282.8h.8v.8h-.8zM465.4 277.3h.8v.8h-.8zM497.3 306.3h.8v.8h-.8zM461.9 301.9h.8v.8h-.8zM449.3 271h.8v.8h-.8z" fill="#000" fill-opacity="0.7"/>
<ellipse cx="434.55" cy="313.25" rx="1.05" ry="1.65" fill="#111"/>
<rect x="452.6" y="271.8" width="17.8" height="38" fill="none" stroke="#505050" stroke-width="0.9"/>
<rect x="452.6" y="309.8" width="19.8" height="10.2" fill="none" stroke="#505050" stroke-width="0.9"/>
<rect x="470.4" y="271.8" width="6" height="38" fill="none" stroke="#505050" stroke-width="0.9"/>
<rect x="476.4" y="271.8" width="15.3" height="26.6" fill="none" stroke="#505050" stroke-width="0.9"/>
<rect x="476.4" y="298.8" width="15.3" height="11" fill="none" stroke="#505050" stroke-width="0.9"/>
<text x="439.6" y="270.2" font-size="4.9" fill="#444" stroke="none" text-anchor="middle">S1</text>
<text x="468.4" y="262.8" font-size="4.9" fill="#444" stroke="none" text-anchor="middle">S2</text>
<text x="497.3" y="270" font-size="4.9" fill="#444" stroke="none" text-anchor="middle">S3</text>
<text x="508.2" y="302.2" font-size="4.9" fill="#444" stroke="none" text-anchor="middle">S4</text>
<text x="439.9" y="327.6" font-size="4.9" fill="#444" stroke="none" text-anchor="middle">S0</text>
<path d="M433.8 262.5h2.2M433.8 280.4h2.2M433.8 300.7h2.2M433.8 313.1h2.2M433.8 325.7h2.2M434.9 275.01h1.1M434.9 271.86h1.1M434.9 269.62h1.1M434.9 267.89h1.1M434.9 266.47h1.1M434.9 265.27h1.1M434.9 264.23h1.1M434.9 263.32h1.1M434.9 294.59h1.1M434.9 291.01h1.1M434.9 288.48h1.1M434.9 286.51h1.1M434.9 284.9h1.1M434.9 283.54h1.1M434.9 282.37h1.1M434.9 281.33h1.1M434.9 305.4h1.1M434.9 307.9h1.1M434.9 310.4h1.1M434.9 315.7h1.1M434.9 318.2h1.1M434.9 320.7h1.1M434.9 323.2h1.1M434.9 328.4h1.1M434.9 330.4h1.1M443.9 330.8v2.2M461 330.8v2.2M478.7 330.8v2.2M496.2 330.8v2.2M449.05 330.8v1.1M452.06 330.8v1.1M454.2 330.8v1.1M455.85 330.8v1.1M457.21 330.8v1.1M458.35 330.8v1.1M459.34 330.8v1.1M460.22 330.8v1.1M466.15 330.8v1.1M469.16 330.8v1.1M471.3 330.8v1.1M472.95 330.8v1.1M474.31 330.8v1.1M475.45 330.8v1.1M476.44 330.8v1.1M477.32 330.8v1.1M483.85 330.8v1.1M486.86 330.8v1.1M489 330.8v1.1M490.65 330.8v1.1M492.01 330.8v1.1M493.15 330.8v1.1M494.14 330.8v1.1M495.02 330.8v1.1M501.35 330.8v1.1M504.36 330.8v1.1M506.5 330.8v1.1M508.15 330.8v1.1M509.51 330.8v1.1M510.65 330.8v1.1M437.1 330.8v1.1M438.75 330.8v1.1M440.11 330.8v1.1M441.25 330.8v1.1M442.24 330.8v1.1M443.12 330.8v1.1" stroke="#333" stroke-width="0.8" fill="none"/>
<text x="430.7" y="266.7" font-size="8.2" text-anchor="end" fill="#1a1a1a">10<tspan font-size="6.6" dy="-2.6">5</tspan></text>
<text x="430.7" y="284.6" font-size="8.2" text-anchor="end" fill="#1a1a1a">10<tspan font-size="6.6" dy="-2.6">4</tspan></text>
<text x="430.7" y="304.9" font-size="8.2" text-anchor="end" fill="#1a1a1a">10<tspan font-size="6.6" dy="-2.6">3</tspan></text>
<text x="430.7" y="317.3" font-size="8.2" text-anchor="end" fill="#1a1a1a">0</text>
<text x="430.7" y="329.9" font-size="8.2" text-anchor="end" fill="#1a1a1a">-10<tspan font-size="6.6" dy="-2.6">3</tspan></text>
<text x="445.1" y="343.2" font-size="8.2" text-anchor="middle" fill="#1a1a1a">10<tspan font-size="5.8" dy="-2.8">1</tspan></text>
<text x="462.2" y="343.2" font-size="8.2" text-anchor="middle" fill="#1a1a1a">10<tspan font-size="5.8" dy="-2.8">2</tspan></text>
<text x="479.9" y="343.2" font-size="8.2" text-anchor="middle" fill="#1a1a1a">10<tspan font-size="5.8" dy="-2.8">3</tspan></text>
<text x="497.4" y="343.2" font-size="8.2" text-anchor="middle" fill="#1a1a1a">10<tspan font-size="5.8" dy="-2.8">4</tspan></text>
<text x="473" y="249" font-size="10" text-anchor="middle" fill="#1a1a1a" stroke="none" textLength="38.6" lengthAdjust="spacingAndGlyphs">LV: <tspan font-style="italic">MCL1</tspan></text>
<text x="411" y="294.3" font-size="10" text-anchor="middle" fill="#333" stroke="none" transform="rotate(-90 411 294.3)" textLength="33.1" lengthAdjust="spacingAndGlyphs">Untreated</text>
<rect x="436" y="353" width="75.6" height="75.4" fill="#fff" stroke="#a8a8a8" stroke-width="1"/>
<ellipse cx="478" cy="384" rx="12.5" ry="9" fill="url(#rg)" opacity="0.95"/>
<ellipse cx="466.5" cy="379.5" rx="7" ry="5.5" fill="url(#rg)" opacity="0.75"/>
<ellipse cx="463" cy="395" rx="8" ry="11" fill="url(#rg)" opacity="0.4"/>
<ellipse cx="483" cy="401" rx="6" ry="5" fill="url(#rg)" opacity="0.15"/>
<path d="M479 381h.8v.8h-.8zM474.1 382.5h.8v.8h-.8zM484.9 398.1h.8v.8h-.8zM477.5 385.3h.8v.8h-.8zM469.3 385.9h.8v.8h-.8zM473.1 391.4h.8v.8h-.8zM472.3 381.5h.8v.8h-.8zM489.6 381.3h.8v.8h-.8zM480 380.6h.8v.8h-.8zM483 392.6h.8v.8h-.8zM488.9 378.8h.8v.8h-.8zM471.7 386.1h.8v.8h-.8zM478.6 378.5h.8v.8h-.8zM471.7 386.4h.8v.8h-.8zM473.3 384.7h.8v.8h-.8zM484.4 396.1h.8v.8h-.8zM475.9 391.5h.8v.8h-.8zM481.1 369.1h.8v.8h-.8zM469.8 378h.8v.8h-.8zM473.5 381.9h.8v.8h-.8zM470.8 372.8h.8v.8h-.8zM477.7 381.2h.8v.8h-.8zM483.2 384.4h.8v.8h-.8zM485.1 386.3h.8v.8h-.8zM475.7 377.4h.8v.8h-.8zM480.6 387.4h.8v.8h-.8zM483.1 381.6h.8v.8h-.8zM472 394.8h.8v.8h-.8zM476.1 385.6h.8v.8h-.8zM473.6 385.9h.8v.8h-.8zM481.1 384.8h.8v.8h-.8zM476.7 377.2h.8v.8h-.8zM465.8 381h.8v.8h-.8zM475.4 386.1h.8v.8h-.8zM464.8 376.8h.8v.8h-.8zM481.9 384.1h.8v.8h-.8zM475.2 384.6h.8v.8h-.8zM485 378.5h.8v.8h-.8zM477.9 388.8h.8v.8h-.8zM477.1 378.2h.8v.8h-.8zM473.3 383.5h.8v.8h-.8zM483.8 389.8h.8v.8h-.8zM486 383.5h.8v.8h-.8zM475.1 388.5h.8v.8h-.8zM472.2 381.4h.8v.8h-.8zM472.1 381.7h.8v.8h-.8zM466.5 389.5h.8v.8h-.8zM489.6 392.7h.8v.8h-.8zM470.8 380.6h.8v.8h-.8zM473.1 385.7h.8v.8h-.8zM479 388h.8v.8h-.8zM470.6 395.4h.8v.8h-.8zM467.1 385.2h.8v.8h-.8zM478.3 385.3h.8v.8h-.8zM478 376.7h.8v.8h-.8zM486.3 385.1h.8v.8h-.8zM468.4 380.5h.8v.8h-.8zM464.1 384.5h.8v.8h-.8zM475.6 381h.8v.8h-.8zM473.3 382.9h.8v.8h-.8zM484.6 390.7h.8v.8h-.8zM486.2 385.8h.8v.8h-.8zM479.1 385.6h.8v.8h-.8zM486.6 379.1h.8v.8h-.8zM476 381.1h.8v.8h-.8zM473.3 388.7h.8v.8h-.8zM471.7 388.5h.8v.8h-.8zM471.6 387.5h.8v.8h-.8zM469 387.8h.8v.8h-.8zM476.9 385.9h.8v.8h-.8zM478.2 382.3h.8v.8h-.8zM477.7 386.6h.8v.8h-.8zM461.5 383.8h.8v.8h-.8zM477.3 386.1h.8v.8h-.8zM485.6 386h.8v.8h-.8zM481.2 383.6h.8v.8h-.8zM477.9 388.9h.8v.8h-.8zM484.4 378.6h.8v.8h-.8zM496.4 389.6h.8v.8h-.8zM472.2 380.9h.8v.8h-.8zM475.6 379.8h.8v.8h-.8zM475.7 382.7h.8v.8h-.8zM473.3 388.7h.8v.8h-.8zM477.5 395.4h.8v.8h-.8zM476 394.9h.8v.8h-.8zM479.5 388.3h.8v.8h-.8zM461.1 380.5h.8v.8h-.8zM477 381h.8v.8h-.8zM483.8 390.9h.8v.8h-.8zM488.7 386.4h.8v.8h-.8zM476.4 384.1h.8v.8h-.8zM475.8 381.3h.8v.8h-.8zM486.8 381.3h.8v.8h-.8zM473.4 384.2h.8v.8h-.8zM476 377.6h.8v.8h-.8zM478.1 378.7h.8v.8h-.8zM468.6 382.3h.8v.8h-.8zM481.2 389.5h.8v.8h-.8zM478.4 386.7h.8v.8h-.8zM482 381.1h.8v.8h-.8zM481.7 380.2h.8v.8h-.8zM463.7 383.9h.8v.8h-.8zM473.1 382.6h.8v.8h-.8zM492.3 384.6h.8v.8h-.8zM467.7 383.6h.8v.8h-.8zM474.8 379.1h.8v.8h-.8zM482.3 383.1h.8v.8h-.8zM468 390.1h.8v.8h-.8zM481.2 389.7h.8v.8h-.8zM474.2 375.5h.8v.8h-.8zM475.4 385.7h.8v.8h-.8zM464.9 386h.8v.8h-.8zM471.5 379.5h.8v.8h-.8zM477.6 384.2h.8v.8h-.8zM479.4 394.9h.8v.8h-.8zM477.5 393.9h.8v.8h-.8zM477.7 383.3h.8v.8h-.8zM470.7 377.2h.8v.8h-.8zM480.9 377.3h.8v.8h-.8zM476 383.6h.8v.8h-.8zM488.4 381.6h.8v.8h-.8zM464.2 385.8h.8v.8h-.8zM476.3 388.1h.8v.8h-.8zM480.4 385.5h.8v.8h-.8zM475.5 384.9h.8v.8h-.8zM468.3 375.9h.8v.8h-.8zM479.6 380.4h.8v.8h-.8zM472.4 379.5h.8v.8h-.8zM462.9 381h.8v.8h-.8zM477.6 373.5h.8v.8h-.8zM480.4 383.9h.8v.8h-.8zM493.1 388.6h.8v.8h-.8zM473.8 384.9h.8v.8h-.8zM479.8 385.5h.8v.8h-.8zM478.7 383.9h.8v.8h-.8zM490.3 383h.8v.8h-.8zM470.1 375.5h.8v.8h-.8zM478.7 386.7h.8v.8h-.8zM472.7 392h.8v.8h-.8zM478.6 385.9h.8v.8h-.8zM477.9 380.8h.8v.8h-.8zM470.1 380h.8v.8h-.8zM479.8 386.5h.8v.8h-.8zM482.1 386.2h.8v.8h-.8zM473 372.1h.8v.8h-.8zM476 378h.8v.8h-.8zM471.1 389.9h.8v.8h-.8zM461.2 386.6h.8v.8h-.8zM475.6 395.3h.8v.8h-.8zM471.7 378.1h.8v.8h-.8zM482.6 391.5h.8v.8h-.8zM479 387.1h.8v.8h-.8zM459.3 381h.8v.8h-.8zM484 376.4h.8v.8h-.8zM479.2 380.8h.8v.8h-.8zM472.2 376.8h.8v.8h-.8zM483.7 386.7h.8v.8h-.8zM486.8 384.3h.8v.8h-.8zM479.4 392.5h.8v.8h-.8zM477 382.1h.8v.8h-.8zM491 385.3h.8v.8h-.8zM480.6 382.7h.8v.8h-.8zM473.5 381.2h.8v.8h-.8zM482 389.3h.8v.8h-.8zM472.3 382.7h.8v.8h-.8zM472.8 377.9h.8v.8h-.8zM479.6 384.2h.8v.8h-.8zM477.4 377.2h.8v.8h-.8zM491.5 380.4h.8v.8h-.8zM477.4 394.9h.8v.8h-.8zM474.4 387.3h.8v.8h-.8zM476.8 382.1h.8v.8h-.8zM463.1 384h.8v.8h-.8zM480.6 397.6h.8v.8h-.8zM473 373.6h.8v.8h-.8zM471.7 382.2h.8v.8h-.8zM484.9 386.5h.8v.8h-.8zM481 376.2h.8v.8h-.8zM477.1 390h.8v.8h-.8zM482.1 386.9h.8v.8h-.8zM478.5 371.7h.8v.8h-.8zM471.8 390.2h.8v.8h-.8zM483.1 380.2h.8v.8h-.8zM483.9 377.3h.8v.8h-.8zM482.3 385h.8v.8h-.8zM464.9 381.7h.8v.8h-.8zM482.5 387h.8v.8h-.8zM480.5 382.5h.8v.8h-.8zM469.9 387h.8v.8h-.8zM471.2 385h.8v.8h-.8zM473 380.8h.8v.8h-.8zM478.2 382.1h.8v.8h-.8zM469.9 384.6h.8v.8h-.8zM475.6 389.4h.8v.8h-.8zM486.3 384.6h.8v.8h-.8zM474.8 388.5h.8v.8h-.8zM476.7 386.1h.8v.8h-.8zM482.6 388h.8v.8h-.8zM477.5 382.4h.8v.8h-.8zM483.6 386.6h.8v.8h-.8zM491.5 383.4h.8v.8h-.8zM478 383.4h.8v.8h-.8zM473.3 390.6h.8v.8h-.8zM495.3 390.9h.8v.8h-.8zM482.5 379.1h.8v.8h-.8zM472.9 395.1h.8v.8h-.8zM471.8 381.4h.8v.8h-.8zM476.7 393.1h.8v.8h-.8zM480.8 379.6h.8v.8h-.8zM477.9 380.5h.8v.8h-.8zM487.7 382h.8v.8h-.8zM489.4 383.1h.8v.8h-.8zM479.4 378.3h.8v.8h-.8zM487 389.5h.8v.8h-.8zM469.6 382.8h.8v.8h-.8zM480.5 382.4h.8v.8h-.8zM478.6 379.8h.8v.8h-.8zM490.3 380h.8v.8h-.8zM469.7 377.1h.8v.8h-.8zM484.2 390.5h.8v.8h-.8zM467.3 386.7h.8v.8h-.8zM483.2 385.7h.8v.8h-.8zM486.9 390.5h.8v.8h-.8zM483.7 382.1h.8v.8h-.8zM470.9 386.2h.8v.8h-.8zM477.9 390h.8v.8h-.8zM471.2 386.2h.8v.8h-.8zM482.3 387.3h.8v.8h-.8zM477.6 383.6h.8v.8h-.8zM468.1 379.3h.8v.8h-.8zM480.9 383.8h.8v.8h-.8zM495.3 385.2h.8v.8h-.8zM481.8 389.8h.8v.8h-.8zM484.6 391.7h.8v.8h-.8zM477.9 386.2h.8v.8h-.8zM491.2 386.6h.8v.8h-.8zM473.6 390.4h.8v.8h-.8zM478.6 387h.8v.8h-.8zM481.5 383.8h.8v.8h-.8zM481.5 398h.8v.8h-.8zM477.4 395.6h.8v.8h-.8zM487.3 379.8h.8v.8h-.8zM479.6 380.5h.8v.8h-.8zM484.3 397.1h.8v.8h-.8zM472 386.4h.8v.8h-.8zM467.8 394.1h.8v.8h-.8zM479.6 384.7h.8v.8h-.8zM474.7 377.6h.8v.8h-.8zM477.5 391.5h.8v.8h-.8zM489.6 380.7h.8v.8h-.8zM474.7 382.1h.8v.8h-.8zM484.5 381.2h.8v.8h-.8zM470 386h.8v.8h-.8zM485.6 398.1h.8v.8h-.8zM476.6 382.8h.8v.8h-.8zM476 384.7h.8v.8h-.8zM471.3 373.4h.8v.8h-.8zM473.2 379.9h.8v.8h-.8zM492.1 390h.8v.8h-.8zM482.1 375.9h.8v.8h-.8zM483.2 385.4h.8v.8h-.8zM482.8 375.6h.8v.8h-.8zM476.8 386h.8v.8h-.8zM476.6 383.2h.8v.8h-.8zM470.5 378.7h.8v.8h-.8zM474.6 386.5h.8v.8h-.8zM470.5 381.6h.8v.8h-.8zM481.4 387.3h.8v.8h-.8zM479 382h.8v.8h-.8zM479.4 383h.8v.8h-.8zM470.1 383.1h.8v.8h-.8zM471.9 372.6h.8v.8h-.8zM477 390.7h.8v.8h-.8zM473.8 385.3h.8v.8h-.8zM469.4 386h.8v.8h-.8zM476.5 381.4h.8v.8h-.8zM492.3 380.7h.8v.8h-.8zM480.8 385.9h.8v.8h-.8zM486.5 388h.8v.8h-.8zM479.7 381.7h.8v.8h-.8zM472.6 387.9h.8v.8h-.8zM479.2 383.4h.8v.8h-.8zM484.9 382.7h.8v.8h-.8zM483.8 383h.8v.8h-.8zM487 385.5h.8v.8h-.8zM468.6 392.2h.8v.8h-.8zM470.2 384.4h.8v.8h-.8zM478.9 383.6h.8v.8h-.8zM481 386.4h.8v.8h-.8zM476.1 381.8h.8v.8h-.8zM487.7 382.7h.8v.8h-.8zM480 385.7h.8v.8h-.8zM484.8 384.4h.8v.8h-.8zM478.1 390.5h.8v.8h-.8zM469.8 372h.8v.8h-.8zM480.4 381.6h.8v.8h-.8zM471.8 379.4h.8v.8h-.8zM477.8 379.2h.8v.8h-.8zM480.2 382.9h.8v.8h-.8zM488.6 380.2h.8v.8h-.8zM489.8 394.8h.8v.8h-.8zM475.6 382.8h.8v.8h-.8zM486.8 384.1h.8v.8h-.8zM475.3 380.8h.8v.8h-.8zM473.7 388.6h.8v.8h-.8zM483.5 387.8h.8v.8h-.8zM472.8 381.5h.8v.8h-.8zM481 385.8h.8v.8h-.8zM471.8 381.5h.8v.8h-.8zM462.9 381.9h.8v.8h-.8zM485.9 381.8h.8v.8h-.8zM479.4 392.3h.8v.8h-.8zM482 378.5h.8v.8h-.8zM483.1 387.8h.8v.8h-.8zM484.4 373.7h.8v.8h-.8zM494.7 385.3h.8v.8h-.8zM479.9 389.8h.8v.8h-.8zM472.1 391.7h.8v.8h-.8zM483.8 384.2h.8v.8h-.8zM478.1 391.5h.8v.8h-.8zM482.7 376.4h.8v.8h-.8zM489.9 391.4h.8v.8h-.8zM483.8 376.4h.8v.8h-.8zM474.3 383.5h.8v.8h-.8zM476.5 384.7h.8v.8h-.8zM480.1 384.2h.8v.8h-.8zM485.9 388h.8v.8h-.8zM475.9 383.6h.8v.8h-.8zM479.7 375.7h.8v.8h-.8zM480.3 393.8h.8v.8h-.8zM472.3 389.8h.8v.8h-.8zM488.3 388.7h.8v.8h-.8zM483 391.9h.8v.8h-.8zM478.7 387.1h.8v.8h-.8zM478.3 387.7h.8v.8h-.8zM464.7 381h.8v.8h-.8zM481.4 379.4h.8v.8h-.8zM486.3 390.7h.8v.8h-.8zM484.2 382.8h.8v.8h-.8zM478.2 377.4h.8v.8h-.8zM474.2 384.5h.8v.8h-.8zM472.6 387.3h.8v.8h-.8zM477.4 382.3h.8v.8h-.8zM488.5 384.7h.8v.8h-.8zM484.5 383.1h.8v.8h-.8zM484.7 387.5h.8v.8h-.8zM468.9 384h.8v.8h-.8zM475.7 382.5h.8v.8h-.8zM486 383.8h.8v.8h-.8zM479.3 379.8h.8v.8h-.8zM478.7 390.1h.8v.8h-.8zM481.1 378.3h.8v.8h-.8zM489.6 379.7h.8v.8h-.8zM478.9 377.8h.8v.8h-.8zM471.3 389h.8v.8h-.8zM476.2 379.1h.8v.8h-.8zM478 383.9h.8v.8h-.8zM469.6 372.9h.8v.8h-.8zM463.2 374.1h.8v.8h-.8zM468.4 378.8h.8v.8h-.8zM477.4 384.5h.8v.8h-.8zM475.3 378.9h.8v.8h-.8zM478.1 384.9h.8v.8h-.8zM489.1 379h.8v.8h-.8zM474.4 386.6h.8v.8h-.8zM475 382.2h.8v.8h-.8zM482.9 389.3h.8v.8h-.8zM475.5 377.1h.8v.8h-.8zM482.3 392.2h.8v.8h-.8zM489 380.5h.8v.8h-.8zM483.5 385.2h.8v.8h-.8zM488.1 379.3h.8v.8h-.8zM471.8 394.3h.8v.8h-.8zM472.6 386.3h.8v.8h-.8zM477.7 384.4h.8v.8h-.8zM479.1 388.4h.8v.8h-.8zM483.8 384.5h.8v.8h-.8zM466.7 383.6h.8v.8h-.8zM492.6 388.9h.8v.8h-.8zM483.7 381.8h.8v.8h-.8zM472.4 386.5h.8v.8h-.8zM474.4 374.4h.8v.8h-.8zM496.9 393h.8v.8h-.8zM474.8 376.5h.8v.8h-.8zM492.5 382.8h.8v.8h-.8zM477.8 381.7h.8v.8h-.8zM493.5 375.4h.8v.8h-.8zM479.1 380.1h.8v.8h-.8zM483.9 379.3h.8v.8h-.8zM480.3 385.7h.8v.8h-.8zM477.3 385.9h.8v.8h-.8zM479.7 387.3h.8v.8h-.8zM479 385.2h.8v.8h-.8zM482.8 383.1h.8v.8h-.8zM469.2 383h.8v.8h-.8zM480.1 382.9h.8v.8h-.8zM481.3 384.6h.8v.8h-.8zM471.7 376.7h.8v.8h-.8zM467.9 377.6h.8v.8h-.8zM487 391.2h.8v.8h-.8zM483.7 379.8h.8v.8h-.8zM473.6 380.6h.8v.8h-.8zM485.3 386.4h.8v.8h-.8zM473.4 388.5h.8v.8h-.8zM476.6 379.1h.8v.8h-.8zM469.4 379.6h.8v.8h-.8zM486.7 386.5h.8v.8h-.8zM487.5 380h.8v.8h-.8zM488.6 393.5h.8v.8h-.8zM468.5 385.3h.8v.8h-.8zM476.3 379.3h.8v.8h-.8zM482.1 379.2h.8v.8h-.8zM474.5 385.7h.8v.8h-.8zM473.4 382.5h.8v.8h-.8zM482.1 385.2h.8v.8h-.8zM475.9 382.2h.8v.8h-.8zM474.5 378.1h.8v.8h-.8zM481.5 375.2h.8v.8h-.8zM463.4 378.9h.8v.8h-.8zM476.4 385h.8v.8h-.8zM488.6 389.1h.8v.8h-.8zM482.6 383.7h.8v.8h-.8zM463.8 378.4h.8v.8h-.8zM486 382.3h.8v.8h-.8zM483.4 386h.8v.8h-.8zM470.9 381.8h.8v.8h-.8zM476.7 376.8h.8v.8h-.8zM481.8 387.6h.8v.8h-.8zM469.3 380.1h.8v.8h-.8zM481.8 382.7h.8v.8h-.8zM494.3 381.5h.8v.8h-.8zM474.3 384.4h.8v.8h-.8zM487 379.3h.8v.8h-.8zM473.7 382.2h.8v.8h-.8zM480.4 379.4h.8v.8h-.8zM481.4 389.6h.8v.8h-.8zM484 389.3h.8v.8h-.8zM470.7 386h.8v.8h-.8zM480.6 384.4h.8v.8h-.8zM473.3 384.5h.8v.8h-.8zM485.7 396.7h.8v.8h-.8zM483.6 384.6h.8v.8h-.8zM464.2 378h.8v.8h-.8zM480 386.9h.8v.8h-.8zM482.4 373.8h.8v.8h-.8zM480.4 373.4h.8v.8h-.8zM485 387.6h.8v.8h-.8zM465.4 383.9h.8v.8h-.8zM475.4 394.3h.8v.8h-.8zM468.9 385.7h.8v.8h-.8zM485.8 392.7h.8v.8h-.8zM475.3 382.5h.8v.8h-.8zM474.6 385.3h.8v.8h-.8zM487.3 394.1h.8v.8h-.8zM466.1 377.5h.8v.8h-.8zM478.4 385h.8v.8h-.8zM486 394.3h.8v.8h-.8zM481.6 378.3h.8v.8h-.8zM484.7 380.1h.8v.8h-.8zM480.7 388.2h.8v.8h-.8zM478.2 384.8h.8v.8h-.8zM479.3 384.8h.8v.8h-.8zM486.2 378.5h.8v.8h-.8zM472.5 381h.8v.8h-.8zM476.3 380.1h.8v.8h-.8zM483.3 385h.8v.8h-.8zM478.4 384.2h.8v.8h-.8zM480.1 385h.8v.8h-.8zM479.9 383.2h.8v.8h-.8zM480.1 392h.8v.8h-.8zM481.2 382.5h.8v.8h-.8zM464.8 392.4h.8v.8h-.8zM479.8 388.4h.8v.8h-.8zM474.1 390h.8v.8h-.8zM476 379.9h.8v.8h-.8zM474.8 385.7h.8v.8h-.8zM471.3 387.3h.8v.8h-.8zM485.9 379.6h.8v.8h-.8zM477.3 387.5h.8v.8h-.8zM489.8 386h.8v.8h-.8zM482.3 396.8h.8v.8h-.8zM466.9 383.6h.8v.8h-.8zM481.6 387.4h.8v.8h-.8zM476.4 381.5h.8v.8h-.8zM481.1 391.2h.8v.8h-.8zM476.5 388.1h.8v.8h-.8zM495.4 380.7h.8v.8h-.8zM478.3 380.7h.8v.8h-.8zM478.4 380.2h.8v.8h-.8zM478.3 385.3h.8v.8h-.8zM474.4 380.7h.8v.8h-.8zM491.7 382.2h.8v.8h-.8zM491.2 393.1h.8v.8h-.8zM477.9 375.9h.8v.8h-.8zM474.5 378.5h.8v.8h-.8zM479.3 383.6h.8v.8h-.8zM476.9 383.4h.8v.8h-.8zM480 383.3h.8v.8h-.8zM475.4 377h.8v.8h-.8zM479.6 378.2h.8v.8h-.8zM483.1 386.4h.8v.8h-.8zM475.8 378.3h.8v.8h-.8zM485.1 392.1h.8v.8h-.8zM471.8 386.7h.8v.8h-.8zM474.8 387.9h.8v.8h-.8zM480.8 387.3h.8v.8h-.8zM473.5 382.5h.8v.8h-.8zM476.9 376.1h.8v.8h-.8zM478.2 381.2h.8v.8h-.8zM490.4 380.9h.8v.8h-.8zM488.4 386h.8v.8h-.8zM480.4 384.9h.8v.8h-.8zM472.2 391.3h.8v.8h-.8zM482.1 381h.8v.8h-.8zM479.3 383.4h.8v.8h-.8zM474.2 385.6h.8v.8h-.8zM481.8 380.8h.8v.8h-.8zM479.1 386.8h.8v.8h-.8zM475.4 382.2h.8v.8h-.8zM477.8 382.1h.8v.8h-.8zM476.6 381.9h.8v.8h-.8zM473.5 391.7h.8v.8h-.8zM474.1 382.6h.8v.8h-.8zM480.1 386h.8v.8h-.8zM491.4 387h.8v.8h-.8zM469.4 370.6h.8v.8h-.8zM479.5 382.8h.8v.8h-.8zM470.8 390.4h.8v.8h-.8zM468.5 378.2h.8v.8h-.8zM479.1 388h.8v.8h-.8zM471.9 382.2h.8v.8h-.8zM466.5 379.4h.8v.8h-.8zM497.5 388.1h.8v.8h-.8zM472 380.2h.8v.8h-.8zM471.6 393.1h.8v.8h-.8zM480.1 386h.8v.8h-.8zM479.9 387h.8v.8h-.8zM469.3 380h.8v.8h-.8zM460 390.5h.8v.8h-.8zM470.2 388.5h.8v.8h-.8zM474.2 381.2h.8v.8h-.8zM477.6 381.1h.8v.8h-.8zM472.1 380.7h.8v.8h-.8zM486.1 388.3h.8v.8h-.8zM474.7 381h.8v.8h-.8zM487.3 388.4h.8v.8h-.8zM469.4 376.4h.8v.8h-.8zM471.6 380.2h.8v.8h-.8zM485.7 379.4h.8v.8h-.8zM465.1 392.3h.8v.8h-.8zM471.8 386.7h.8v.8h-.8zM465.9 386.4h.8v.8h-.8zM497.6 393.1h.8v.8h-.8zM477.6 382.6h.8v.8h-.8zM485.3 386.9h.8v.8h-.8zM478.4 387.1h.8v.8h-.8zM473.7 372.1h.8v.8h-.8zM481.7 391.4h.8v.8h-.8zM478 379.1h.8v.8h-.8zM487.1 368.9h.8v.8h-.8zM484.5 384.7h.8v.8h-.8zM476.7 382.8h.8v.8h-.8zM473.7 382.5h.8v.8h-.8zM470.7 384.9h.8v.8h-.8zM485.7 372.1h.8v.8h-.8zM486.5 379h.8v.8h-.8zM474.7 380h.8v.8h-.8zM469.4 384.5h.8v.8h-.8zM481 388.2h.8v.8h-.8zM485.2 381.5h.8v.8h-.8zM471.4 386.6h.8v.8h-.8zM485.1 387.2h.8v.8h-.8zM479.6 381.7h.8v.8h-.8zM473.1 391.9h.8v.8h-.8zM476.7 373h.8v.8h-.8zM481.9 394.5h.8v.8h-.8zM485.3 386.1h.8v.8h-.8zM476.3 391.9h.8v.8h-.8zM473.4 387.5h.8v.8h-.8zM482.7 371.7h.8v.8h-.8zM475.2 376.1h.8v.8h-.8zM487.7 378.7h.8v.8h-.8zM472.1 386h.8v.8h-.8zM493.6 391.3h.8v.8h-.8zM471 384.9h.8v.8h-.8zM477.6 377.6h.8v.8h-.8zM467.8 382.6h.8v.8h-.8zM477 385.5h.8v.8h-.8zM461.7 378.8h.8v.8h-.8zM485.8 385h.8v.8h-.8zM478.9 377.2h.8v.8h-.8zM478.3 388.4h.8v.8h-.8zM476.7 377h.8v.8h-.8zM491.1 379.8h.8v.8h-.8zM473.5 378.3h.8v.8h-.8zM475.2 382.9h.8v.8h-.8zM489.4 380.6h.8v.8h-.8zM472 380.1h.8v.8h-.8zM480.3 383h.8v.8h-.8zM474.3 376.3h.8v.8h-.8zM470.1 386.9h.8v.8h-.8zM485.6 391.7h.8v.8h-.8zM475 382.8h.8v.8h-.8zM468.9 383.3h.8v.8h-.8zM488.5 383.2h.8v.8h-.8zM491.1 380.6h.8v.8h-.8zM474.7 387.1h.8v.8h-.8zM468 394.5h.8v.8h-.8zM477.3 389.5h.8v.8h-.8zM475.5 386.6h.8v.8h-.8zM485 390.8h.8v.8h-.8zM484.6 387.4h.8v.8h-.8zM468.2 374.6h.8v.8h-.8zM476.4 388.1h.8v.8h-.8zM463.2 379.4h.8v.8h-.8zM478.5 383h.8v.8h-.8zM481.3 391.8h.8v.8h-.8zM470.7 385.7h.8v.8h-.8zM478.4 379.5h.8v.8h-.8zM470.5 386.6h.8v.8h-.8zM468.2 381.5h.8v.8h-.8zM474.2 370.5h.8v.8h-.8zM481.5 384.3h.8v.8h-.8zM478.3 381.2h.8v.8h-.8zM467.9 396.3h.8v.8h-.8zM473.3 381h.8v.8h-.8zM483.1 383.7h.8v.8h-.8zM475 392h.8v.8h-.8zM478.6 378.6h.8v.8h-.8zM479.3 394.7h.8v.8h-.8zM478.9 392.8h.8v.8h-.8zM480.3 380.5h.8v.8h-.8zM479.7 381.8h.8v.8h-.8zM474 382.1h.8v.8h-.8zM474.9 380.5h.8v.8h-.8zM471.1 388.4h.8v.8h-.8zM484.9 382.1h.8v.8h-.8zM475.2 385.7h.8v.8h-.8zM479.4 383.9h.8v.8h-.8zM479.9 384.5h.8v.8h-.8zM479.3 383.2h.8v.8h-.8zM473.5 394.2h.8v.8h-.8zM474.1 387.1h.8v.8h-.8zM493.2 386.1h.8v.8h-.8zM479.4 385.2h.8v.8h-.8zM486.5 387.1h.8v.8h-.8zM485 376.8h.8v.8h-.8zM488.5 388h.8v.8h-.8zM462.1 387.6h.8v.8h-.8zM479.4 379.1h.8v.8h-.8zM477.4 380.1h.8v.8h-.8zM480.5 385.3h.8v.8h-.8zM480.4 378h.8v.8h-.8zM486.4 375.3h.8v.8h-.8zM485.1 376.4h.8v.8h-.8zM485.3 390.9h.8v.8h-.8zM484.8 390.2h.8v.8h-.8zM493 386h.8v.8h-.8zM476.8 387.3h.8v.8h-.8zM493.2 381.1h.8v.8h-.8zM472.5 385.4h.8v.8h-.8zM473.7 377.6h.8v.8h-.8zM474.8 387.4h.8v.8h-.8zM483.4 389.1h.8v.8h-.8zM477 376.8h.8v.8h-.8zM480.8 381.9h.8v.8h-.8zM479 378h.8v.8h-.8zM485.3 382.6h.8v.8h-.8zM479.9 393.7h.8v.8h-.8zM482.7 383.5h.8v.8h-.8zM484.2 384.4h.8v.8h-.8zM462.9 387.5h.8v.8h-.8zM473 393.5h.8v.8h-.8zM475.9 386.3h.8v.8h-.8zM479.1 382.6h.8v.8h-.8zM469.4 385.8h.8v.8h-.8zM471.7 387.5h.8v.8h-.8zM475.7 378.1h.8v.8h-.8zM468.8 390.3h.8v.8h-.8zM481.6 386.1h.8v.8h-.8zM495.2 377.2h.8v.8h-.8zM460.5 380.2h.8v.8h-.8zM484.8 382.4h.8v.8h-.8zM464.3 383.3h.8v.8h-.8zM470.8 375.7h.8v.8h-.8zM471 381.8h.8v.8h-.8zM478.9 379.9h.8v.8h-.8zM482.9 379.9h.8v.8h-.8zM480.7 375.6h.8v.8h-.8zM475.8 387.3h.8v.8h-.8zM488.2 381.4h.8v.8h-.8zM481.2 390.2h.8v.8h-.8zM489.2 386.6h.8v.8h-.8zM481.2 387.6h.8v.8h-.8zM473.6 386.5h.8v.8h-.8zM481.5 378.4h.8v.8h-.8zM476.9 385.6h.8v.8h-.8zM457.9 384.2h.8v.8h-.8zM478.8 393.2h.8v.8h-.8zM485.3 388.2h.8v.8h-.8zM482.2 396.9h.8v.8h-.8zM478 376.9h.8v.8h-.8zM481.5 382.4h.8v.8h-.8zM477.9 389h.8v.8h-.8zM476.4 382.7h.8v.8h-.8zM463.1 380.3h.8v.8h-.8zM475.1 378.6h.8v.8h-.8zM480 388.2h.8v.8h-.8zM472.1 376.8h.8v.8h-.8zM479.3 387.8h.8v.8h-.8zM472.9 385.8h.8v.8h-.8zM480.1 373.5h.8v.8h-.8zM466.5 383.5h.8v.8h-.8zM471.1 387.9h.8v.8h-.8zM473.9 382.1h.8v.8h-.8zM475.2 379h.8v.8h-.8zM482 383.8h.8v.8h-.8zM489.6 388.6h.8v.8h-.8zM474.8 383.9h.8v.8h-.8zM482.5 395.3h.8v.8h-.8zM484.6 382.9h.8v.8h-.8zM473.6 388h.8v.8h-.8zM472 387.3h.8v.8h-.8zM471.7 380.8h.8v.8h-.8zM474.8 391.6h.8v.8h-.8zM473.4 381.5h.8v.8h-.8zM490.4 383.3h.8v.8h-.8zM481.4 377.2h.8v.8h-.8zM479.1 383.5h.8v.8h-.8zM464.4 383.5h.8v.8h-.8zM467.1 380.1h.8v.8h-.8zM475.8 384.8h.8v.8h-.8zM476.2 383h.8v.8h-.8zM468.8 391.8h.8v.8h-.8zM474 397.4h.8v.8h-.8zM463.6 385.6h.8v.8h-.8zM470 384h.8v.8h-.8zM481.7 386.4h.8v.8h-.8zM481 387h.8v.8h-.8zM467.1 379.4h.8v.8h-.8zM484.8 389.7h.8v.8h-.8zM478.7 384h.8v.8h-.8zM485 377.8h.8v.8h-.8zM473.6 391h.8v.8h-.8zM475.8 390h.8v.8h-.8zM467.4 384.2h.8v.8h-.8zM478 390.5h.8v.8h-.8zM487.7 393.4h.8v.8h-.8zM482.6 384.7h.8v.8h-.8zM459.9 385.3h.8v.8h-.8zM482.9 388h.8v.8h-.8zM477.2 390.4h.8v.8h-.8zM467.8 394h.8v.8h-.8zM482.5 375.4h.8v.8h-.8zM473.8 389.2h.8v.8h-.8zM472.6 380.2h.8v.8h-.8zM488.1 381.7h.8v.8h-.8zM489.7 381.4h.8v.8h-.8zM484.3 377.4h.8v.8h-.8zM477.1 390.5h.8v.8h-.8zM476.3 379.2h.8v.8h-.8zM479.2 390.4h.8v.8h-.8zM477.6 386h.8v.8h-.8zM483.5 393.7h.8v.8h-.8zM478.9 378.7h.8v.8h-.8zM475.5 385.5h.8v.8h-.8zM475.9 382.3h.8v.8h-.8zM495.3 386.9h.8v.8h-.8zM495.9 387.7h.8v.8h-.8zM475.6 380.8h.8v.8h-.8zM471.1 380.4h.8v.8h-.8zM471.6 384.4h.8v.8h-.8zM467.6 376.3h.8v.8h-.8zM472.3 386.9h.8v.8h-.8zM471 388.5h.8v.8h-.8zM480.2 385.8h.8v.8h-.8zM482.5 390.8h.8v.8h-.8zM481.6 376.5h.8v.8h-.8zM478.9 391.7h.8v.8h-.8zM478.6 379h.8v.8h-.8zM478.2 388.5h.8v.8h-.8zM463.5 387.5h.8v.8h-.8zM463.2 384.6h.8v.8h-.8zM474 388.2h.8v.8h-.8zM489.7 381h.8v.8h-.8zM472.6 381.8h.8v.8h-.8zM486.2 385h.8v.8h-.8zM486.5 390.2h.8v.8h-.8zM474.3 390.1h.8v.8h-.8zM479.6 383.6h.8v.8h-.8zM468.4 397h.8v.8h-.8zM463.9 383.2h.8v.8h-.8zM466.6 387.8h.8v.8h-.8zM477.4 383.7h.8v.8h-.8zM478.7 387.8h.8v.8h-.8zM476.8 388.6h.8v.8h-.8zM484.2 386.7h.8v.8h-.8zM472.1 378.4h.8v.8h-.8zM487.9 386.6h.8v.8h-.8zM481.3 381.4h.8v.8h-.8zM469.4 376.7h.8v.8h-.8zM474.9 381.5h.8v.8h-.8zM472.4 380.7h.8v.8h-.8zM466.1 380.7h.8v.8h-.8zM466.1 372.4h.8v.8h-.8zM466.8 376.6h.8v.8h-.8zM470.5 379.4h.8v.8h-.8zM470 376.4h.8v.8h-.8zM462.1 376.2h.8v.8h-.8zM461.4 382h.8v.8h-.8zM468.4 377.6h.8v.8h-.8zM467 382.1h.8v.8h-.8zM468.4 382.4h.8v.8h-.8zM468.8 379.9h.8v.8h-.8zM467 385.1h.8v.8h-.8zM470.4 378.9h.8v.8h-.8zM462.7 373.9h.8v.8h-.8zM467.7 385.2h.8v.8h-.8zM472.4 388.1h.8v.8h-.8zM458.5 379.2h.8v.8h-.8zM459.2 383h.8v.8h-.8zM459.7 377.2h.8v.8h-.8zM469.7 388.8h.8v.8h-.8zM464.2 377.2h.8v.8h-.8zM463.2 378.9h.8v.8h-.8zM465.5 376.1h.8v.8h-.8zM469.3 381.3h.8v.8h-.8zM472.7 383.3h.8v.8h-.8zM467.4 382.4h.8v.8h-.8zM470.8 388h.8v.8h-.8zM465.7 372.5h.8v.8h-.8zM469 381.1h.8v.8h-.8zM469.9 376.1h.8v.8h-.8zM471.8 384.1h.8v.8h-.8zM465.5 384.7h.8v.8h-.8zM465.9 382.7h.8v.8h-.8zM458 377.1h.8v.8h-.8zM459.2 372h.8v.8h-.8zM469.5 383.9h.8v.8h-.8zM473.6 379.1h.8v.8h-.8zM464.5 383.1h.8v.8h-.8zM466.7 381.2h.8v.8h-.8zM461.8 381.1h.8v.8h-.8zM461.8 380h.8v.8h-.8zM467.2 375.9h.8v.8h-.8zM459.4 378h.8v.8h-.8zM466.7 377.7h.8v.8h-.8zM469.6 381.5h.8v.8h-.8zM462.9 378.2h.8v.8h-.8zM461.9 380.3h.8v.8h-.8zM470.7 380.4h.8v.8h-.8zM467.3 382.3h.8v.8h-.8zM465.9 383.5h.8v.8h-.8zM465.5 381.2h.8v.8h-.8zM465 380.6h.8v.8h-.8zM466.5 385.7h.8v.8h-.8zM462.6 376.1h.8v.8h-.8zM470.7 377.8h.8v.8h-.8zM468.6 379.2h.8v.8h-.8zM464.5 383.4h.8v.8h-.8zM465.4 376.9h.8v.8h-.8zM472.1 374.5h.8v.8h-.8zM470 381.5h.8v.8h-.8zM465.7 380h.8v.8h-.8zM465.1 376.8h.8v.8h-.8zM465 380.4h.8v.8h-.8zM458.7 380.9h.8v.8h-.8zM470.3 383.7h.8v.8h-.8zM474 376.1h.8v.8h-.8zM465.2 379.5h.8v.8h-.8zM465.9 380.1h.8v.8h-.8zM470.1 382.6h.8v.8h-.8zM464.6 376.6h.8v.8h-.8zM467.7 379.9h.8v.8h-.8zM470.7 384.8h.8v.8h-.8zM466.2 382.2h.8v.8h-.8zM470.3 382.1h.8v.8h-.8zM458.2 380h.8v.8h-.8zM470.5 385.4h.8v.8h-.8zM474.2 381.7h.8v.8h-.8zM466 376.5h.8v.8h-.8zM466.2 379.5h.8v.8h-.8zM465.1 382.2h.8v.8h-.8zM471.7 388.2h.8v.8h-.8zM457.5 381.7h.8v.8h-.8zM472.5 382.6h.8v.8h-.8zM464 375.7h.8v.8h-.8zM464.7 382.9h.8v.8h-.8zM468.3 381h.8v.8h-.8zM474.1 378.7h.8v.8h-.8zM466.6 379h.8v.8h-.8zM459.1 379.2h.8v.8h-.8zM464.9 380.4h.8v.8h-.8zM468 380.5h.8v.8h-.8zM457.1 387.6h.8v.8h-.8zM463.4 380.1h.8v.8h-.8zM470.4 385.8h.8v.8h-.8zM460.3 386.9h.8v.8h-.8zM470.4 373.9h.8v.8h-.8zM468.4 376.5h.8v.8h-.8zM461 376.1h.8v.8h-.8zM473.2 380.5h.8v.8h-.8zM469.3 377h.8v.8h-.8zM468.2 384.7h.8v.8h-.8zM459.9 381.2h.8v.8h-.8zM468.7 376.1h.8v.8h-.8zM461.7 371.3h.8v.8h-.8zM463.5 378.6h.8v.8h-.8zM465 379.5h.8v.8h-.8zM478 378.9h.8v.8h-.8zM471.3 376.9h.8v.8h-.8zM466.5 377.6h.8v.8h-.8zM464.5 380.9h.8v.8h-.8zM461.5 383.1h.8v.8h-.8zM459.1 380.1h.8v.8h-.8zM467 376.7h.8v.8h-.8zM477.7 382.7h.8v.8h-.8zM467.3 370.6h.8v.8h-.8zM471.4 380.1h.8v.8h-.8zM463.6 381.4h.8v.8h-.8zM468.5 379.2h.8v.8h-.8zM456.4 377h.8v.8h-.8zM463.4 379.1h.8v.8h-.8zM469.7 383.4h.8v.8h-.8zM478.2 379h.8v.8h-.8zM467.5 385.4h.8v.8h-.8zM455.4 373.5h.8v.8h-.8zM470.1 380.7h.8v.8h-.8zM472.7 381.3h.8v.8h-.8zM459.6 380.3h.8v.8h-.8zM470.3 375.2h.8v.8h-.8zM472.5 375.8h.8v.8h-.8zM466.6 383.5h.8v.8h-.8zM475.4 377.9h.8v.8h-.8zM469.5 384.2h.8v.8h-.8zM465.3 377.3h.8v.8h-.8zM461.9 376.8h.8v.8h-.8zM468.9 381.2h.8v.8h-.8zM468.9 379.5h.8v.8h-.8zM470.4 384.3h.8v.8h-.8zM469 379.2h.8v.8h-.8zM466.4 375.7h.8v.8h-.8zM475.5 382.3h.8v.8h-.8zM470.2 373h.8v.8h-.8zM467.4 378.9h.8v.8h-.8zM465.5 384.5h.8v.8h-.8zM471 382.2h.8v.8h-.8zM467 379.9h.8v.8h-.8zM470.1 382.6h.8v.8h-.8zM465.5 376.1h.8v.8h-.8zM465.1 383.8h.8v.8h-.8zM467 377.5h.8v.8h-.8zM470.3 385.5h.8v.8h-.8zM465.4 382.9h.8v.8h-.8zM464.7 376.2h.8v.8h-.8zM470.2 373.8h.8v.8h-.8zM464 379.5h.8v.8h-.8zM467.9 379.2h.8v.8h-.8zM469.8 373.4h.8v.8h-.8zM468.8 381.9h.8v.8h-.8zM464.4 377.8h.8v.8h-.8zM466.6 379.1h.8v.8h-.8zM459.1 379h.8v.8h-.8zM459.7 379.6h.8v.8h-.8zM456 378.3h.8v.8h-.8zM464.8 375.1h.8v.8h-.8zM458.3 375.8h.8v.8h-.8zM469.2 378h.8v.8h-.8zM466.6 383h.8v.8h-.8zM460.4 386.1h.8v.8h-.8zM460.6 382h.8v.8h-.8zM469.1 375.2h.8v.8h-.8zM459.9 376.9h.8v.8h-.8zM468.8 384.5h.8v.8h-.8zM461.1 376.8h.8v.8h-.8zM459.8 378.8h.8v.8h-.8zM467.5 378.9h.8v.8h-.8zM466.2 370.9h.8v.8h-.8zM470.8 382.2h.8v.8h-.8zM466 380.9h.8v.8h-.8zM467.9 381.8h.8v.8h-.8zM466.8 380.1h.8v.8h-.8zM470.8 383h.8v.8h-.8zM466.8 376.9h.8v.8h-.8zM473.6 378.4h.8v.8h-.8zM469.2 380.6h.8v.8h-.8zM468.9 370.9h.8v.8h-.8zM460.1 378h.8v.8h-.8zM464.7 381h.8v.8h-.8zM461.7 377.6h.8v.8h-.8zM470.4 378.7h.8v.8h-.8zM471.7 376.9h.8v.8h-.8zM469.6 382.1h.8v.8h-.8zM463.4 389.9h.8v.8h-.8zM465 381h.8v.8h-.8zM463.2 381.7h.8v.8h-.8zM467.7 380.8h.8v.8h-.8zM463.4 375.8h.8v.8h-.8zM469.7 380.8h.8v.8h-.8zM465.9 379.8h.8v.8h-.8zM461.4 378.5h.8v.8h-.8zM462.8 381.9h.8v.8h-.8zM465.5 381.5h.8v.8h-.8zM464 380.4h.8v.8h-.8zM466.5 373.7h.8v.8h-.8zM461.1 381.8h.8v.8h-.8zM460.8 371.6h.8v.8h-.8zM464.6 382.6h.8v.8h-.8zM474.2 384.5h.8v.8h-.8zM464 382h.8v.8h-.8zM469.6 382.8h.8v.8h-.8zM453.4 378.9h.8v.8h-.8zM471.5 376.9h.8v.8h-.8zM466.8 387.8h.8v.8h-.8zM463.4 374.3h.8v.8h-.8zM472 384.9h.8v.8h-.8zM463.5 380.4h.8v.8h-.8zM479.5 378.2h.8v.8h-.8zM467.5 373.5h.8v.8h-.8zM468.3 380.5h.8v.8h-.8zM464.3 378.9h.8v.8h-.8zM469.9 374.2h.8v.8h-.8zM464.5 387.2h.8v.8h-.8zM471.3 384h.8v.8h-.8zM468.5 379.4h.8v.8h-.8zM471.7 383.8h.8v.8h-.8zM470.8 376h.8v.8h-.8zM467.3 376.9h.8v.8h-.8zM468.5 377.7h.8v.8h-.8zM462.5 378h.8v.8h-.8zM468.5 378.6h.8v.8h-.8zM468.4 379h.8v.8h-.8zM466.1 384.4h.8v.8h-.8zM459.3 383.3h.8v.8h-.8zM463.8 378.3h.8v.8h-.8zM474.7 379.3h.8v.8h-.8zM463.5 377.3h.8v.8h-.8zM467.9 377.2h.8v.8h-.8zM468.9 379.8h.8v.8h-.8zM467 380.1h.8v.8h-.8zM465 379.1h.8v.8h-.8zM468.7 376.7h.8v.8h-.8zM470.3 374.7h.8v.8h-.8zM461.2 372.3h.8v.8h-.8zM465.9 377.8h.8v.8h-.8zM466.7 377.3h.8v.8h-.8zM467.9 377.9h.8v.8h-.8zM460 381h.8v.8h-.8zM467.4 378.8h.8v.8h-.8zM462.3 381.7h.8v.8h-.8zM467.3 385.4h.8v.8h-.8zM460.6 381.7h.8v.8h-.8zM470.7 377.4h.8v.8h-.8zM470.5 385.4h.8v.8h-.8zM466.1 381.3h.8v.8h-.8zM455.2 382h.8v.8h-.8zM470.8 375.4h.8v.8h-.8zM466.1 371.6h.8v.8h-.8zM459 380.1h.8v.8h-.8zM475.1 380.5h.8v.8h-.8zM455.8 415.7h.8v.8h-.8zM459.9 390.6h.8v.8h-.8zM453.1 398.2h.8v.8h-.8zM455.4 396.8h.8v.8h-.8zM459.5 397.7h.8v.8h-.8zM469.1 387.6h.8v.8h-.8zM453.4 402.9h.8v.8h-.8zM457.4 398.9h.8v.8h-.8zM470.4 402.7h.8v.8h-.8zM447.8 406.1h.8v.8h-.8zM473.7 396.9h.8v.8h-.8zM474 385.1h.8v.8h-.8zM461.9 400.1h.8v.8h-.8zM468 404.1h.8v.8h-.8zM458.4 392.7h.8v.8h-.8zM465.3 383.2h.8v.8h-.8zM467.1 396.4h.8v.8h-.8zM452.4 395.1h.8v.8h-.8zM467.2 399.7h.8v.8h-.8zM467.7 393.9h.8v.8h-.8zM456.5 395.2h.8v.8h-.8zM466.1 399.7h.8v.8h-.8zM466.5 378.2h.8v.8h-.8zM459.8 391.1h.8v.8h-.8zM457 397.1h.8v.8h-.8zM470.1 409h.8v.8h-.8zM459.4 394.3h.8v.8h-.8zM460.2 402.2h.8v.8h-.8zM463.6 401h.8v.8h-.8zM460.8 393.7h.8v.8h-.8zM460.7 392.7h.8v.8h-.8zM465.1 395h.8v.8h-.8zM467.6 389.5h.8v.8h-.8zM459.6 411.6h.8v.8h-.8zM453.4 408.3h.8v.8h-.8zM465.1 384h.8v.8h-.8zM468.3 389.7h.8v.8h-.8zM459.8 404.4h.8v.8h-.8zM457.2 401.8h.8v.8h-.8zM472.6 391.5h.8v.8h-.8zM463.6 391.5h.8v.8h-.8zM467.8 380.2h.8v.8h-.8zM453.9 399.6h.8v.8h-.8zM448.6 399.4h.8v.8h-.8zM460.1 398.6h.8v.8h-.8zM462.7 397h.8v.8h-.8zM466.3 390.5h.8v.8h-.8zM451.9 393.6h.8v.8h-.8zM459 399.4h.8v.8h-.8zM461.9 401.4h.8v.8h-.8zM460 401.9h.8v.8h-.8zM457.3 392.5h.8v.8h-.8zM458.5 414h.8v.8h-.8zM468.4 402.4h.8v.8h-.8zM464.8 395.4h.8v.8h-.8zM462.8 398.8h.8v.8h-.8zM459.9 386.5h.8v.8h-.8zM458.4 386.2h.8v.8h-.8zM452.3 403.5h.8v.8h-.8zM466.7 397.2h.8v.8h-.8zM461.9 408.7h.8v.8h-.8zM467.6 392.4h.8v.8h-.8zM458.3 394.6h.8v.8h-.8zM461 406h.8v.8h-.8zM460.5 394.1h.8v.8h-.8zM466.9 404.7h.8v.8h-.8zM469 385.4h.8v.8h-.8zM459.9 391.3h.8v.8h-.8zM464.1 389.9h.8v.8h-.8zM467.9 400.8h.8v.8h-.8zM463.6 399.1h.8v.8h-.8zM470.9 393.1h.8v.8h-.8zM462 397.5h.8v.8h-.8zM465.4 390.2h.8v.8h-.8zM470.4 385h.8v.8h-.8zM463.4 385.2h.8v.8h-.8zM473.8 395.6h.8v.8h-.8zM461.6 393.7h.8v.8h-.8zM466.3 401.1h.8v.8h-.8zM465.2 407h.8v.8h-.8zM469.3 395.7h.8v.8h-.8zM457.7 387.5h.8v.8h-.8zM468.6 376.8h.8v.8h-.8zM456 398.6h.8v.8h-.8zM464 397.2h.8v.8h-.8zM460.9 382.4h.8v.8h-.8zM463.3 389.9h.8v.8h-.8zM463.9 387.6h.8v.8h-.8zM467.5 389.4h.8v.8h-.8zM466.1 394.2h.8v.8h-.8zM466.4 398.2h.8v.8h-.8zM464.5 374.2h.8v.8h-.8zM461.8 408.1h.8v.8h-.8zM458.5 385h.8v.8h-.8zM456.1 403.4h.8v.8h-.8zM467.7 389.6h.8v.8h-.8zM464.6 388.2h.8v.8h-.8zM464.4 410.2h.8v.8h-.8zM465.1 396.9h.8v.8h-.8zM461 391.5h.8v.8h-.8zM470.4 387.8h.8v.8h-.8zM456.9 380.9h.8v.8h-.8zM462.3 388.3h.8v.8h-.8zM467.7 389.9h.8v.8h-.8zM456.3 400.2h.8v.8h-.8zM459.4 393.7h.8v.8h-.8zM469.2 400.6h.8v.8h-.8zM464.7 399.9h.8v.8h-.8zM463.5 407.1h.8v.8h-.8zM470.4 400.5h.8v.8h-.8zM468.8 397.2h.8v.8h-.8zM459.2 396.1h.8v.8h-.8zM459.5 394.4h.8v.8h-.8zM461 384.8h.8v.8h-.8zM471.7 392.8h.8v.8h-.8zM464.5 389.2h.8v.8h-.8zM468.4 392.6h.8v.8h-.8zM465.7 381.3h.8v.8h-.8zM470.8 404.5h.8v.8h-.8zM458.9 397.3h.8v.8h-.8zM459.9 404.3h.8v.8h-.8zM466.2 405.5h.8v.8h-.8zM466.5 402.8h.8v.8h-.8zM468.7 390h.8v.8h-.8zM468.9 384.7h.8v.8h-.8zM469.6 402.7h.8v.8h-.8zM453.7 386h.8v.8h-.8zM462.6 401.2h.8v.8h-.8zM471.2 397.7h.8v.8h-.8zM464.1 400.5h.8v.8h-.8zM463.5 387.9h.8v.8h-.8zM461 417.1h.8v.8h-.8zM464.2 384h.8v.8h-.8zM459.8 397.8h.8v.8h-.8zM460.9 400.2h.8v.8h-.8zM470 391.4h.8v.8h-.8zM472.4 397.7h.8v.8h-.8zM462.8 386.2h.8v.8h-.8zM466.8 419.5h.8v.8h-.8zM459.8 399.3h.8v.8h-.8zM465.5 393.8h.8v.8h-.8zM468.5 394.4h.8v.8h-.8zM466.7 390.7h.8v.8h-.8zM464.6 401.3h.8v.8h-.8zM469.4 383.6h.8v.8h-.8zM463.2 402.7h.8v.8h-.8zM466 383h.8v.8h-.8zM463.9 399.9h.8v.8h-.8zM467.8 370.8h.8v.8h-.8zM458.8 394.7h.8v.8h-.8zM458.9 397.3h.8v.8h-.8zM467.7 388.6h.8v.8h-.8zM458.9 390.4h.8v.8h-.8zM471.1 398.3h.8v.8h-.8zM465.2 385.2h.8v.8h-.8zM462.9 396.1h.8v.8h-.8zM466.8 392.1h.8v.8h-.8zM465 405.1h.8v.8h-.8zM458.2 396.3h.8v.8h-.8zM465.6 387.2h.8v.8h-.8zM464 403h.8v.8h-.8zM459.4 387.5h.8v.8h-.8zM468.7 393.8h.8v.8h-.8zM460.8 401.4h.8v.8h-.8zM463.6 392.9h.8v.8h-.8zM454 394.4h.8v.8h-.8zM461.4 392.2h.8v.8h-.8zM467.5 402.2h.8v.8h-.8zM461.4 391.8h.8v.8h-.8zM462.4 405.1h.8v.8h-.8zM459.3 395.2h.8v.8h-.8zM467.1 394h.8v.8h-.8zM456.1 393.4h.8v.8h-.8zM457.1 398.4h.8v.8h-.8zM468 402.4h.8v.8h-.8zM461.6 394.8h.8v.8h-.8zM465.1 398.1h.8v.8h-.8zM467.6 394.6h.8v.8h-.8zM464.2 386.7h.8v.8h-.8zM459.9 397.9h.8v.8h-.8zM460.3 389.2h.8v.8h-.8zM465.9 393.7h.8v.8h-.8zM461.9 402h.8v.8h-.8zM469.1 391.5h.8v.8h-.8zM463.5 392.2h.8v.8h-.8zM460.6 382.6h.8v.8h-.8zM468.6 394.5h.8v.8h-.8zM464.6 400h.8v.8h-.8zM460 391.5h.8v.8h-.8zM469.4 396.1h.8v.8h-.8zM455 392.8h.8v.8h-.8zM456.4 403.8h.8v.8h-.8zM461.3 393.1h.8v.8h-.8zM473.8 396h.8v.8h-.8zM452.9 403.9h.8v.8h-.8zM467.4 397.7h.8v.8h-.8zM458.8 392.1h.8v.8h-.8zM458.1 384.4h.8v.8h-.8zM460 395.8h.8v.8h-.8zM456.4 402h.8v.8h-.8zM459.2 396.3h.8v.8h-.8zM464.4 384.8h.8v.8h-.8zM450.8 392.4h.8v.8h-.8zM464.7 396.5h.8v.8h-.8zM465 395.9h.8v.8h-.8zM467.8 405.5h.8v.8h-.8zM467.7 391.2h.8v.8h-.8zM452.3 388.3h.8v.8h-.8zM460.7 384.8h.8v.8h-.8zM464.7 387h.8v.8h-.8zM463.3 386.5h.8v.8h-.8zM459 407.4h.8v.8h-.8zM460.7 402.3h.8v.8h-.8zM452.6 399.9h.8v.8h-.8zM461.8 399.5h.8v.8h-.8zM456.4 386.3h.8v.8h-.8zM464.8 407.1h.8v.8h-.8zM469.1 384.1h.8v.8h-.8zM465.4 385.9h.8v.8h-.8zM457.2 396.2h.8v.8h-.8zM464.5 397.6h.8v.8h-.8zM458.1 401.7h.8v.8h-.8zM464.7 393.4h.8v.8h-.8zM472.1 399.3h.8v.8h-.8zM467.6 384.2h.8v.8h-.8zM464 401.2h.8v.8h-.8zM469.8 386.3h.8v.8h-.8zM463.3 397.9h.8v.8h-.8zM471.8 384h.8v.8h-.8zM463.2 400.2h.8v.8h-.8zM465.5 396.7h.8v.8h-.8zM456.9 374.6h.8v.8h-.8zM461.8 394.4h.8v.8h-.8zM465.4 394.6h.8v.8h-.8zM463.1 385.3h.8v.8h-.8zM467.9 395.6h.8v.8h-.8zM463.3 396.6h.8v.8h-.8zM453.5 393.1h.8v.8h-.8zM464.6 392.8h.8v.8h-.8zM468.7 396.4h.8v.8h-.8zM461.2 391.6h.8v.8h-.8zM454.8 408.1h.8v.8h-.8zM463.4 397.7h.8v.8h-.8zM458.3 393.5h.8v.8h-.8zM463.4 391.2h.8v.8h-.8zM465.8 397.6h.8v.8h-.8zM465.7 398.5h.8v.8h-.8zM466 388.2h.8v.8h-.8zM461.4 408h.8v.8h-.8zM462.7 393.2h.8v.8h-.8zM460.1 391.3h.8v.8h-.8zM468 387.4h.8v.8h-.8zM459.7 413.8h.8v.8h-.8zM458.5 390.9h.8v.8h-.8zM479.3 396.2h.8v.8h-.8zM466.6 403.9h.8v.8h-.8zM460.4 384.2h.8v.8h-.8zM461.9 401h.8v.8h-.8zM467.9 396h.8v.8h-.8zM462.3 390.8h.8v.8h-.8zM459.6 386.8h.8v.8h-.8zM452.3 395.4h.8v.8h-.8zM456.4 405.7h.8v.8h-.8zM460.8 398.8h.8v.8h-.8zM461 394.2h.8v.8h-.8zM466.2 394.1h.8v.8h-.8zM464.7 386.8h.8v.8h-.8zM463 390.5h.8v.8h-.8zM458.9 392.1h.8v.8h-.8zM464.1 398.2h.8v.8h-.8zM458.1 398.8h.8v.8h-.8zM453.3 398.5h.8v.8h-.8zM461.1 398.8h.8v.8h-.8zM462.8 383.6h.8v.8h-.8zM458.1 406.7h.8v.8h-.8zM462 393.7h.8v.8h-.8zM460.6 407.1h.8v.8h-.8zM465.8 412.2h.8v.8h-.8zM466 397.9h.8v.8h-.8zM467.7 390.7h.8v.8h-.8zM461.6 404.3h.8v.8h-.8zM465.1 403.2h.8v.8h-.8zM454.4 397.9h.8v.8h-.8zM459.3 403.1h.8v.8h-.8zM466.7 411.9h.8v.8h-.8zM460.6 392.7h.8v.8h-.8zM457.9 390h.8v.8h-.8zM465.1 388.5h.8v.8h-.8zM456.2 396.6h.8v.8h-.8zM465.6 405.3h.8v.8h-.8zM468.8 401.9h.8v.8h-.8zM471.8 393.5h.8v.8h-.8zM458.2 393.5h.8v.8h-.8zM452.2 398.1h.8v.8h-.8zM466 400.3h.8v.8h-.8zM460 395.6h.8v.8h-.8zM469.1 387.9h.8v.8h-.8zM468 396.4h.8v.8h-.8zM453.3 397.8h.8v.8h-.8zM457.2 404h.8v.8h-.8zM454.7 391.1h.8v.8h-.8zM460.8 392.5h.8v.8h-.8zM465.6 380.2h.8v.8h-.8zM454 390.4h.8v.8h-.8zM467.7 399.3h.8v.8h-.8zM458.6 398.2h.8v.8h-.8zM466.3 404.2h.8v.8h-.8zM461.9 399.7h.8v.8h-.8zM460.8 387h.8v.8h-.8zM467.2 393.2h.8v.8h-.8zM470.3 391.7h.8v.8h-.8zM460.4 402.6h.8v.8h-.8zM462.3 384.2h.8v.8h-.8zM457.8 397.5h.8v.8h-.8zM471.1 403.9h.8v.8h-.8zM466.5 391h.8v.8h-.8zM460.3 375.1h.8v.8h-.8zM463.8 404.6h.8v.8h-.8zM468.1 386h.8v.8h-.8zM469.9 394.7h.8v.8h-.8zM466.8 395.7h.8v.8h-.8zM459.4 398.2h.8v.8h-.8zM465.5 395.3h.8v.8h-.8zM469.1 411.2h.8v.8h-.8zM459.8 401.5h.8v.8h-.8zM463.9 390.4h.8v.8h-.8zM462 398h.8v.8h-.8zM463.7 397.9h.8v.8h-.8zM462 396.4h.8v.8h-.8zM461.8 396.6h.8v.8h-.8zM463.2 402.9h.8v.8h-.8zM453.9 393.1h.8v.8h-.8zM463 393.8h.8v.8h-.8zM468.5 389.3h.8v.8h-.8zM459.3 398.9h.8v.8h-.8zM462.5 382.8h.8v.8h-.8zM467.6 399.6h.8v.8h-.8zM464.1 409.9h.8v.8h-.8zM456.7 394.2h.8v.8h-.8zM462.6 383.7h.8v.8h-.8zM458.8 405.7h.8v.8h-.8zM454.4 384.3h.8v.8h-.8zM464.9 389.5h.8v.8h-.8zM473.1 385.9h.8v.8h-.8zM462.1 389.1h.8v.8h-.8zM463 396.1h.8v.8h-.8zM458.4 406.1h.8v.8h-.8zM444.5 393.4h.8v.8h-.8zM464.6 377.9h.8v.8h-.8zM475.6 388.6h.8v.8h-.8zM466.6 391.1h.8v.8h-.8zM462.1 387.9h.8v.8h-.8zM465.1 398.3h.8v.8h-.8zM468.4 394.1h.8v.8h-.8zM464.1 398.8h.8v.8h-.8zM465 395.8h.8v.8h-.8zM470.3 407.1h.8v.8h-.8zM462.8 403.7h.8v.8h-.8zM461.8 407.7h.8v.8h-.8zM458.8 394.4h.8v.8h-.8zM464.9 376.5h.8v.8h-.8zM466.8 389.8h.8v.8h-.8zM459.9 395.6h.8v.8h-.8zM462.5 405.2h.8v.8h-.8zM473.3 400.4h.8v.8h-.8zM463.5 405.1h.8v.8h-.8zM465.6 405.7h.8v.8h-.8zM455.5 403h.8v.8h-.8zM462.3 378.3h.8v.8h-.8zM467.9 393.2h.8v.8h-.8zM464.9 399.5h.8v.8h-.8zM452.6 399.1h.8v.8h-.8zM462 390.7h.8v.8h-.8zM464.6 380.3h.8v.8h-.8zM462.5 390.8h.8v.8h-.8zM457.4 376.4h.8v.8h-.8zM453.5 392.6h.8v.8h-.8zM458.5 402.7h.8v.8h-.8zM460.4 401.6h.8v.8h-.8zM474.4 393.9h.8v.8h-.8zM462.1 409.9h.8v.8h-.8zM461.7 394.9h.8v.8h-.8zM458.8 396.6h.8v.8h-.8zM453.4 399.2h.8v.8h-.8zM463.2 406.9h.8v.8h-.8zM466.1 390h.8v.8h-.8zM455.1 397h.8v.8h-.8zM467.9 398.5h.8v.8h-.8zM471.2 408.5h.8v.8h-.8zM466.2 398.5h.8v.8h-.8zM464.1 400.8h.8v.8h-.8zM463.7 408.2h.8v.8h-.8zM464.1 408.7h.8v.8h-.8zM469.1 389.4h.8v.8h-.8zM471.4 400.5h.8v.8h-.8zM460.8 394.6h.8v.8h-.8zM454.7 380.9h.8v.8h-.8zM468.9 400.4h.8v.8h-.8zM466 403.3h.8v.8h-.8zM468.6 390h.8v.8h-.8zM463.3 389.7h.8v.8h-.8zM463.5 405.1h.8v.8h-.8zM451.9 388.6h.8v.8h-.8zM467.2 384.6h.8v.8h-.8zM459.8 401.6h.8v.8h-.8zM474 383.9h.8v.8h-.8zM465.8 407.3h.8v.8h-.8zM458.6 401h.8v.8h-.8zM460.6 381.4h.8v.8h-.8zM467.4 386.3h.8v.8h-.8zM459.6 410h.8v.8h-.8zM458.7 407.9h.8v.8h-.8zM458.7 389.3h.8v.8h-.8zM461.8 399.3h.8v.8h-.8zM465.9 405.2h.8v.8h-.8zM455.9 403.9h.8v.8h-.8zM467.3 396.8h.8v.8h-.8zM467.1 402.5h.8v.8h-.8zM471.4 389.4h.8v.8h-.8zM465.7 393.6h.8v.8h-.8zM467.3 401h.8v.8h-.8zM468.7 386.4h.8v.8h-.8zM455.4 395.5h.8v.8h-.8zM456.4 398.1h.8v.8h-.8zM460.8 399.1h.8v.8h-.8zM459.8 397.1h.8v.8h-.8zM465 391.4h.8v.8h-.8zM469.7 397.3h.8v.8h-.8zM461.6 398.6h.8v.8h-.8zM469.7 398.7h.8v.8h-.8zM463.4 403.1h.8v.8h-.8zM464.3 393.2h.8v.8h-.8zM456.8 406.8h.8v.8h-.8zM459.2 399.8h.8v.8h-.8zM456.9 403.8h.8v.8h-.8zM458.5 409.6h.8v.8h-.8zM464.4 385.6h.8v.8h-.8zM457.7 394.8h.8v.8h-.8zM461 392.3h.8v.8h-.8zM464.3 388.2h.8v.8h-.8zM471.9 402.2h.8v.8h-.8zM473.9 388.6h.8v.8h-.8zM461.2 397h.8v.8h-.8zM456.5 411.9h.8v.8h-.8zM464.3 385.4h.8v.8h-.8zM462.3 406.7h.8v.8h-.8zM458.4 391.9h.8v.8h-.8zM473.8 398.9h.8v.8h-.8zM465 405.6h.8v.8h-.8zM464.2 394.9h.8v.8h-.8zM463.6 390.7h.8v.8h-.8zM460.7 397.8h.8v.8h-.8zM465.4 393.3h.8v.8h-.8zM464.7 397.9h.8v.8h-.8zM481.3 403.2h.8v.8h-.8zM462.8 393h.8v.8h-.8zM463.7 403.2h.8v.8h-.8zM471.5 404.5h.8v.8h-.8zM463 400h.8v.8h-.8zM470.9 386h.8v.8h-.8zM461.9 400.9h.8v.8h-.8zM457.1 390.9h.8v.8h-.8zM462.6 385.9h.8v.8h-.8zM460 401.5h.8v.8h-.8zM455.6 402.5h.8v.8h-.8zM472.1 411.2h.8v.8h-.8zM469.5 401.2h.8v.8h-.8zM460.6 396.8h.8v.8h-.8zM468.8 395.7h.8v.8h-.8zM466 411.9h.8v.8h-.8zM473.2 391.9h.8v.8h-.8zM464.3 397.1h.8v.8h-.8zM464.1 397.9h.8v.8h-.8zM471.1 376.2h.8v.8h-.8zM469.2 386.4h.8v.8h-.8zM447.2 401.3h.8v.8h-.8zM457.4 395.5h.8v.8h-.8zM473.4 398.5h.8v.8h-.8zM458.9 395.7h.8v.8h-.8zM458.7 391.3h.8v.8h-.8zM468.6 389.6h.8v.8h-.8zM470.9 392.9h.8v.8h-.8zM456.3 386.8h.8v.8h-.8zM461.8 398.8h.8v.8h-.8zM457.3 379h.8v.8h-.8zM469.4 393.1h.8v.8h-.8zM464.9 404.6h.8v.8h-.8zM463.4 394.8h.8v.8h-.8zM459.7 410.7h.8v.8h-.8zM474.7 389.5h.8v.8h-.8zM463.1 392h.8v.8h-.8zM455.9 397.4h.8v.8h-.8zM470.1 399.2h.8v.8h-.8zM453.9 385.4h.8v.8h-.8zM449 401.7h.8v.8h-.8zM461.8 392.6h.8v.8h-.8zM458.8 378.6h.8v.8h-.8zM454.3 400.3h.8v.8h-.8zM461.7 368.4h.8v.8h-.8zM469.8 389.9h.8v.8h-.8zM464.9 388.2h.8v.8h-.8zM462.3 400.7h.8v.8h-.8zM463.2 379.9h.8v.8h-.8zM460.9 392.6h.8v.8h-.8zM466.6 378.4h.8v.8h-.8zM456.2 389h.8v.8h-.8zM464.1 393.8h.8v.8h-.8zM464.3 384.9h.8v.8h-.8zM469.1 395.6h.8v.8h-.8zM459.4 404.4h.8v.8h-.8zM467.2 404h.8v.8h-.8zM458.9 384.2h.8v.8h-.8zM459.5 384.4h.8v.8h-.8zM461.8 404.7h.8v.8h-.8zM469.4 395.5h.8v.8h-.8zM466.2 386.5h.8v.8h-.8zM460.7 401.4h.8v.8h-.8zM478.7 400.1h.8v.8h-.8zM451.3 402.8h.8v.8h-.8zM467.3 399.1h.8v.8h-.8zM460.4 401.9h.8v.8h-.8zM459.2 383.3h.8v.8h-.8zM457.2 393h.8v.8h-.8zM464.7 401h.8v.8h-.8zM463.8 393.8h.8v.8h-.8zM465.5 394.3h.8v.8h-.8zM460.3 397.2h.8v.8h-.8zM469.5 382.4h.8v.8h-.8zM453.5 395.4h.8v.8h-.8zM464.6 412.7h.8v.8h-.8zM462.3 383.6h.8v.8h-.8zM453.8 395.6h.8v.8h-.8zM461.8 405.5h.8v.8h-.8zM465.9 386.2h.8v.8h-.8zM460 396.3h.8v.8h-.8zM470.7 401.5h.8v.8h-.8zM463.9 377.9h.8v.8h-.8zM460.1 387.6h.8v.8h-.8zM459.4 386.4h.8v.8h-.8zM473 402.2h.8v.8h-.8zM458 395.8h.8v.8h-.8zM463.4 401h.8v.8h-.8zM471.4 396.1h.8v.8h-.8zM467.7 395.3h.8v.8h-.8zM463.7 401.8h.8v.8h-.8zM463.1 395.7h.8v.8h-.8zM463.7 409h.8v.8h-.8zM461.8 392.2h.8v.8h-.8zM461 395.4h.8v.8h-.8zM465 400.5h.8v.8h-.8zM478.9 411h.8v.8h-.8zM477.5 399.6h.8v.8h-.8zM475.8 398.5h.8v.8h-.8zM478.4 408.5h.8v.8h-.8zM479.2 402.3h.8v.8h-.8zM484.3 404.6h.8v.8h-.8zM474.3 390.7h.8v.8h-.8zM482.3 406.2h.8v.8h-.8zM485.9 400.2h.8v.8h-.8zM482.5 401.1h.8v.8h-.8zM483.6 394.6h.8v.8h-.8zM477.2 408.1h.8v.8h-.8zM481.2 398.6h.8v.8h-.8zM482.6 398.5h.8v.8h-.8zM475.9 394.7h.8v.8h-.8zM485.9 407.5h.8v.8h-.8zM480.7 398.2h.8v.8h-.8zM471.3 395.2h.8v.8h-.8zM488.4 394.2h.8v.8h-.8zM491.9 403.6h.8v.8h-.8zM469.5 399.6h.8v.8h-.8zM475.3 407.2h.8v.8h-.8zM482.9 400h.8v.8h-.8zM475.3 398.3h.8v.8h-.8zM483.4 390.9h.8v.8h-.8zM483.5 394.9h.8v.8h-.8zM488.7 399h.8v.8h-.8zM477.9 386.2h.8v.8h-.8zM483.4 400.7h.8v.8h-.8zM486.3 397.9h.8v.8h-.8zM486.4 403.1h.8v.8h-.8zM486.2 404.2h.8v.8h-.8zM498.1 401h.8v.8h-.8zM478.7 395.6h.8v.8h-.8zM479 405.8h.8v.8h-.8zM480.2 403.2h.8v.8h-.8zM485.4 402.4h.8v.8h-.8zM481.8 404.5h.8v.8h-.8zM487.7 396h.8v.8h-.8zM474.9 407.5h.8v.8h-.8zM478.6 401.1h.8v.8h-.8zM482.2 407.5h.8v.8h-.8zM485.2 402.7h.8v.8h-.8zM479.2 404.1h.8v.8h-.8zM483.7 393.5h.8v.8h-.8zM477.3 403.5h.8v.8h-.8zM485.5 396.1h.8v.8h-.8zM479.8 399.4h.8v.8h-.8zM492.9 397.7h.8v.8h-.8zM486.6 401.2h.8v.8h-.8zM473.6 398.3h.8v.8h-.8zM489.2 407.2h.8v.8h-.8zM484.1 407.8h.8v.8h-.8zM479.5 405.4h.8v.8h-.8zM480.1 394.4h.8v.8h-.8zM480.6 403.7h.8v.8h-.8zM480.6 395.1h.8v.8h-.8zM480.4 400.4h.8v.8h-.8zM481 390.7h.8v.8h-.8zM478.8 405.5h.8v.8h-.8zM483.1 397.6h.8v.8h-.8zM485.5 393.9h.8v.8h-.8zM477.6 397.8h.8v.8h-.8zM480.1 393.9h.8v.8h-.8zM477.8 401.5h.8v.8h-.8zM484.8 399.1h.8v.8h-.8zM482.4 403.7h.8v.8h-.8zM487.8 399h.8v.8h-.8zM475 397.1h.8v.8h-.8zM479.5 395.4h.8v.8h-.8zM483.5 400.6h.8v.8h-.8zM478.6 398.6h.8v.8h-.8zM481.6 405.5h.8v.8h-.8zM483.4 406.4h.8v.8h-.8zM488.1 400.2h.8v.8h-.8zM482.3 398h.8v.8h-.8zM481.3 406.1h.8v.8h-.8zM484.9 393.9h.8v.8h-.8zM468.8 404.5h.8v.8h-.8zM482.1 399.8h.8v.8h-.8zM479.5 401.3h.8v.8h-.8zM482.5 402h.8v.8h-.8zM479.4 391h.8v.8h-.8zM481.7 399.3h.8v.8h-.8zM478.9 400.9h.8v.8h-.8zM478.9 404.8h.8v.8h-.8zM484.2 397.9h.8v.8h-.8zM485.5 398.8h.8v.8h-.8zM487.7 391.4h.8v.8h-.8zM482.4 405.2h.8v.8h-.8zM483.7 402.5h.8v.8h-.8zM482.3 403.2h.8v.8h-.8zM474.2 403.5h.8v.8h-.8zM482.3 387h.8v.8h-.8zM476.7 401.3h.8v.8h-.8zM484.9 395.2h.8v.8h-.8zM488.2 396.6h.8v.8h-.8zM474.7 399.4h.8v.8h-.8zM480 407.8h.8v.8h-.8zM473.5 396.1h.8v.8h-.8zM481.7 397.3h.8v.8h-.8zM496.9 399.8h.8v.8h-.8zM481.7 394.3h.8v.8h-.8zM486 404.2h.8v.8h-.8zM486.7 401.6h.8v.8h-.8zM480.8 398.8h.8v.8h-.8zM486.5 392.7h.8v.8h-.8zM476.6 400.5h.8v.8h-.8zM489.7 400.6h.8v.8h-.8zM493 402.5h.8v.8h-.8zM479.5 406.6h.8v.8h-.8zM481.6 393.9h.8v.8h-.8zM474.2 394.3h.8v.8h-.8zM480.1 403.3h.8v.8h-.8zM483.8 388.4h.8v.8h-.8zM477.2 400.3h.8v.8h-.8zM486.4 402.5h.8v.8h-.8zM486 399.2h.8v.8h-.8zM477.7 396h.8v.8h-.8zM486.7 397.7h.8v.8h-.8zM440.9 409.8h.8v.8h-.8zM453.8 409.2h.8v.8h-.8zM446 409.5h.8v.8h-.8zM452.6 409.7h.8v.8h-.8zM461.1 410h.8v.8h-.8zM464.4 408.7h.8v.8h-.8zM496.9 408.5h.8v.8h-.8zM473.7 410h.8v.8h-.8zM462.7 409.6h.8v.8h-.8zM462.6 409.4h.8v.8h-.8zM469 409.5h.8v.8h-.8zM467.4 409.8h.8v.8h-.8zM447.6 408.9h.8v.8h-.8zM469.7 409.8h.8v.8h-.8zM454.3 409.8h.8v.8h-.8zM486.8 409h.8v.8h-.8zM449.8 409.6h.8v.8h-.8zM446.3 409.6h.8v.8h-.8zM489.8 409.1h.8v.8h-.8zM487 409.3h.8v.8h-.8zM476.1 409.7h.8v.8h-.8zM455.1 409.7h.8v.8h-.8zM489 410h.8v.8h-.8zM440.1 408.7h.8v.8h-.8zM488.5 409.1h.8v.8h-.8zM489.2 409.2h.8v.8h-.8zM466.3 409.1h.8v.8h-.8zM471 409.9h.8v.8h-.8zM482.4 409.8h.8v.8h-.8zM478.1 410.3h.8v.8h-.8zM441.8 410.4h.8v.8h-.8zM460.9 409.1h.8v.8h-.8zM486.4 409.5h.8v.8h-.8zM474.6 408.6h.8v.8h-.8zM455.2 409.2h.8v.8h-.8zM461.7 409.1h.8v.8h-.8zM461 410h.8v.8h-.8zM482.4 409.1h.8v.8h-.8zM483.4 409.2h.8v.8h-.8zM484.4 409.1h.8v.8h-.8zM443.2 410h.8v.8h-.8zM475.1 409.2h.8v.8h-.8zM440.4 409.7h.8v.8h-.8zM494.3 410.7h.8v.8h-.8zM479.2 408.8h.8v.8h-.8zM476.5 409.8h.8v.8h-.8zM482.8 409.9h.8v.8h-.8zM494.1 409.3h.8v.8h-.8zM446.2 409.6h.8v.8h-.8zM443.3 409.3h.8v.8h-.8zM492.6 409.5h.8v.8h-.8zM486 409.2h.8v.8h-.8zM450.9 409.2h.8v.8h-.8zM447.6 409.1h.8v.8h-.8zM471.9 408.6h.8v.8h-.8zM465.7 409.9h.8v.8h-.8zM496.4 409.2h.8v.8h-.8zM450.5 410.2h.8v.8h-.8zM465.1 409.6h.8v.8h-.8zM468.7 409.7h.8v.8h-.8zM462.1 409h.8v.8h-.8zM464.3 409.4h.8v.8h-.8zM452.3 409.3h.8v.8h-.8zM465.9 410.5h.8v.8h-.8zM453.5 409.4h.8v.8h-.8zM465.5 409.4h.8v.8h-.8zM447.5 410.7h.8v.8h-.8zM463.1 410h.8v.8h-.8zM451.4 409.9h.8v.8h-.8zM443.9 409h.8v.8h-.8zM448.8 409.3h.8v.8h-.8zM494.5 410.1h.8v.8h-.8zM472.9 409.6h.8v.8h-.8zM487.8 410h.8v.8h-.8zM444.2 409.7h.8v.8h-.8zM477.1 409.3h.8v.8h-.8zM497.2 409.6h.8v.8h-.8zM443.6 409.2h.8v.8h-.8zM462.3 409.7h.8v.8h-.8zM482.8 409.6h.8v.8h-.8zM443.9 409.5h.8v.8h-.8zM454.7 409.7h.8v.8h-.8zM460.9 408.9h.8v.8h-.8zM441.8 410.2h.8v.8h-.8zM472.3 409.8h.8v.8h-.8zM447.9 409h.8v.8h-.8zM493 408.8h.8v.8h-.8zM484.6 409.4h.8v.8h-.8zM487.6 409.6h.8v.8h-.8zM477.4 409.9h.8v.8h-.8zM452.6 409.1h.8v.8h-.8zM462.1 409.2h.8v.8h-.8zM478.2 409.1h.8v.8h-.8zM492.1 409.6h.8v.8h-.8zM468 409.7h.8v.8h-.8zM477.5 409.9h.8v.8h-.8zM495.4 408.9h.8v.8h-.8zM476.2 410h.8v.8h-.8zM451.7 408.9h.8v.8h-.8zM459.4 409.6h.8v.8h-.8zM485.2 409.5h.8v.8h-.8zM487.1 409h.8v.8h-.8zM465.9 409.6h.8v.8h-.8zM459.7 409.1h.8v.8h-.8zM494.7 409.7h.8v.8h-.8zM481.8 409.8h.8v.8h-.8zM463.9 410.2h.8v.8h-.8zM477.6 409.3h.8v.8h-.8zM478.2 409.7h.8v.8h-.8zM488.5 409h.8v.8h-.8zM487.3 409.3h.8v.8h-.8zM473.8 408.7h.8v.8h-.8zM454.7 409.9h.8v.8h-.8zM466.5 409.4h.8v.8h-.8zM470.9 409.9h.8v.8h-.8zM468.7 409.2h.8v.8h-.8zM486.6 409.4h.8v.8h-.8zM484.2 409.9h.8v.8h-.8zM490.2 409.1h.8v.8h-.8zM460.6 409.6h.8v.8h-.8zM449.8 408.4h.8v.8h-.8zM482 409.2h.8v.8h-.8zM457.9 409.2h.8v.8h-.8zM484.3 409h.8v.8h-.8zM482.9 410.5h.8v.8h-.8zM454.3 409.7h.8v.8h-.8zM477.6 409.2h.8v.8h-.8zM448.2 409.6h.8v.8h-.8zM466.6 410.9h.8v.8h-.8zM481.9 409.7h.8v.8h-.8zM486.7 409.4h.8v.8h-.8zM492.5 409.2h.8v.8h-.8zM458.5 409.1h.8v.8h-.8zM456.6 409.5h.8v.8h-.8zM497.3 409.8h.8v.8h-.8zM493.6 409.8h.8v.8h-.8zM463.3 409.1h.8v.8h-.8zM468.7 409.5h.8v.8h-.8zM447.8 409.8h.8v.8h-.8zM480.2 409.6h.8v.8h-.8zM442.3 410h.8v.8h-.8zM486.9 409.7h.8v.8h-.8zM472.2 409.4h.8v.8h-.8zM466.9 408.9h.8v.8h-.8zM441.6 409.3h.8v.8h-.8zM445.2 409.8h.8v.8h-.8zM487.8 409.2h.8v.8h-.8zM468 409.3h.8v.8h-.8zM490 409.5h.8v.8h-.8zM468.1 409.6h.8v.8h-.8zM457.4 409.4h.8v.8h-.8zM473.4 409.5h.8v.8h-.8zM461.5 408.8h.8v.8h-.8zM458.4 409.2h.8v.8h-.8zM466.5 409.8h.8v.8h-.8zM463.3 409.5h.8v.8h-.8zM465.9 409.6h.8v.8h-.8zM462.4 410.1h.8v.8h-.8zM458 409.9h.8v.8h-.8zM467.9 409.6h.8v.8h-.8zM465 409.7h.8v.8h-.8zM458.9 410.5h.8v.8h-.8zM471.4 409.7h.8v.8h-.8zM454.1 410.1h.8v.8h-.8zM465 409.9h.8v.8h-.8zM459.5 409.4h.8v.8h-.8zM471.9 409.6h.8v.8h-.8zM453 409.5h.8v.8h-.8zM466.4 409.7h.8v.8h-.8zM454.7 409.8h.8v.8h-.8zM473.6 409.5h.8v.8h-.8zM458.2 409h.8v.8h-.8zM455 409.9h.8v.8h-.8zM471 409.3h.8v.8h-.8zM459.8 409.8h.8v.8h-.8zM455.7 409.4h.8v.8h-.8zM459.2 410h.8v.8h-.8zM461.8 409.6h.8v.8h-.8zM470.2 409.2h.8v.8h-.8zM467.4 409.4h.8v.8h-.8zM464.8 410.6h.8v.8h-.8zM463.3 409.5h.8v.8h-.8zM473 409.4h.8v.8h-.8zM462.2 409.6h.8v.8h-.8zM470.9 410h.8v.8h-.8zM455.7 409.4h.8v.8h-.8zM469.4 410h.8v.8h-.8zM455.9 410.1h.8v.8h-.8zM471.9 409.8h.8v.8h-.8zM458 410h.8v.8h-.8zM459.4 409h.8v.8h-.8zM473.5 409.8h.8v.8h-.8zM473.5 409.8h.8v.8h-.8zM454 410.3h.8v.8h-.8zM472.1 409.2h.8v.8h-.8zM461.1 409.9h.8v.8h-.8zM453.6 410.1h.8v.8h-.8zM471.3 409.3h.8v.8h-.8zM468.5 409.9h.8v.8h-.8zM459.8 409.4h.8v.8h-.8zM455.1 409.9h.8v.8h-.8zM468.8 410.2h.8v.8h-.8zM473.8 409.7h.8v.8h-.8zM461.2 410h.8v.8h-.8zM461.9 409.7h.8v.8h-.8zM461.3 410.4h.8v.8h-.8zM471.1 409.2h.8v.8h-.8zM471.1 410.4h.8v.8h-.8zM463.9 409.7h.8v.8h-.8zM453.8 409.8h.8v.8h-.8zM471.4 410h.8v.8h-.8zM455.9 409.5h.8v.8h-.8zM466.1 409.6h.8v.8h-.8zM458.4 409.3h.8v.8h-.8zM468.8 409.9h.8v.8h-.8zM455 409.7h.8v.8h-.8zM454.6 409.7h.8v.8h-.8zM467.4 409.3h.8v.8h-.8zM463.7 410.2h.8v.8h-.8zM462.4 409.9h.8v.8h-.8zM460.3 409.6h.8v.8h-.8zM459.4 409.2h.8v.8h-.8zM456.6 409.8h.8v.8h-.8zM462.5 409.7h.8v.8h-.8zM459.5 409.4h.8v.8h-.8zM471.9 409.5h.8v.8h-.8zM456.2 409.5h.8v.8h-.8zM458.8 410.2h.8v.8h-.8zM458 409.7h.8v.8h-.8zM458.4 410h.8v.8h-.8zM457.8 410h.8v.8h-.8zM457 409.4h.8v.8h-.8zM473 409.7h.8v.8h-.8zM464.4 409.9h.8v.8h-.8zM459.5 409.2h.8v.8h-.8zM455.9 410.7h.8v.8h-.8zM472.9 409.6h.8v.8h-.8zM463.4 410.2h.8v.8h-.8zM456.8 410.3h.8v.8h-.8zM457.5 409.6h.8v.8h-.8zM466.7 409.8h.8v.8h-.8zM458.7 409.4h.8v.8h-.8zM473.9 409.4h.8v.8h-.8zM456.2 409.8h.8v.8h-.8zM453.2 410.2h.8v.8h-.8zM473.4 409.4h.8v.8h-.8zM470.4 409.9h.8v.8h-.8zM459 410h.8v.8h-.8zM468.2 409.3h.8v.8h-.8zM461.8 409.9h.8v.8h-.8zM453.6 409.9h.8v.8h-.8zM467.5 409.3h.8v.8h-.8zM455.4 409.6h.8v.8h-.8zM460.1 409.4h.8v.8h-.8zM464.1 409.2h.8v.8h-.8zM473.5 409.4h.8v.8h-.8zM471.5 409.1h.8v.8h-.8zM465.8 409.8h.8v.8h-.8zM460.5 409.6h.8v.8h-.8zM456.9 409.4h.8v.8h-.8zM469.2 409.9h.8v.8h-.8zM456.1 409.4h.8v.8h-.8zM453.7 410h.8v.8h-.8zM463.5 410.2h.8v.8h-.8zM454.3 409.4h.8v.8h-.8zM463.2 410h.8v.8h-.8zM453.3 409.6h.8v.8h-.8zM465.8 410.1h.8v.8h-.8zM454.6 409.8h.8v.8h-.8zM461.8 409.9h.8v.8h-.8zM470.4 409.8h.8v.8h-.8zM469 409.9h.8v.8h-.8zM464.6 409.4h.8v.8h-.8zM460.9 409.7h.8v.8h-.8zM472 410h.8v.8h-.8zM489.6 399.1h.8v.8h-.8zM470.1 395.3h.8v.8h-.8zM481.8 399.4h.8v.8h-.8zM465.5 393.3h.8v.8h-.8zM439.2 409.9h.8v.8h-.8zM497.9 383.2h.8v.8h-.8zM469.1 391.4h.8v.8h-.8zM496.3 378.1h.8v.8h-.8zM497.7 385.3h.8v.8h-.8zM470.7 411.2h.8v.8h-.8zM453.3 402.3h.8v.8h-.8zM452.4 412.2h.8v.8h-.8zM454.9 397.7h.8v.8h-.8zM463.6 394.6h.8v.8h-.8zM462.7 396.7h.8v.8h-.8zM445.2 372.6h.8v.8h-.8zM450 379.5h.8v.8h-.8zM457.1 367.7h.8v.8h-.8zM460.2 393.9h.8v.8h-.8zM473.9 414.1h.8v.8h-.8z" fill="#000" fill-opacity="0.7"/>
<ellipse cx="434.55" cy="410.85" rx="1.05" ry="1.65" fill="#111"/>
<rect x="452.6" y="369.4" width="17.8" height="38" fill="none" stroke="#505050" stroke-width="0.9"/>
<rect x="452.6" y="407.4" width="19.8" height="10.2" fill="none" stroke="#505050" stroke-width="0.9"/>
<rect x="470.4" y="369.4" width="6" height="38" fill="none" stroke="#505050" stroke-width="0.9"/>
<rect x="476.4" y="369.4" width="15.3" height="26.6" fill="none" stroke="#505050" stroke-width="0.9"/>
<rect x="476.4" y="396.4" width="15.3" height="11" fill="none" stroke="#505050" stroke-width="0.9"/>
<text x="439.6" y="367.8" font-size="4.9" fill="#444" stroke="none" text-anchor="middle">S1</text>
<text x="468.4" y="360.4" font-size="4.9" fill="#444" stroke="none" text-anchor="middle">S2</text>
<text x="497.3" y="367.6" font-size="4.9" fill="#444" stroke="none" text-anchor="middle">S3</text>
<text x="508.2" y="399.8" font-size="4.9" fill="#444" stroke="none" text-anchor="middle">S4</text>
<text x="439.9" y="425.2" font-size="4.9" fill="#444" stroke="none" text-anchor="middle">S0</text>
<path d="M433.8 360.1h2.2M433.8 378h2.2M433.8 398.3h2.2M433.8 410.7h2.2M433.8 423.3h2.2M434.9 372.61h1.1M434.9 369.46h1.1M434.9 367.22h1.1M434.9 365.49h1.1M434.9 364.07h1.1M434.9 362.87h1.1M434.9 361.83h1.1M434.9 360.92h1.1M434.9 392.19h1.1M434.9 388.61h1.1M434.9 386.08h1.1M434.9 384.11h1.1M434.9 382.5h1.1M434.9 381.14h1.1M434.9 379.97h1.1M434.9 378.93h1.1M434.9 403h1.1M434.9 405.5h1.1M434.9 408h1.1M434.9 413.3h1.1M434.9 415.8h1.1M434.9 418.3h1.1M434.9 420.8h1.1M434.9 426h1.1M434.9 428h1.1M443.9 428.4v2.2M461 428.4v2.2M478.7 428.4v2.2M496.2 428.4v2.2M449.05 428.4v1.1M452.06 428.4v1.1M454.2 428.4v1.1M455.85 428.4v1.1M457.21 428.4v1.1M458.35 428.4v1.1M459.34 428.4v1.1M460.22 428.4v1.1M466.15 428.4v1.1M469.16 428.4v1.1M471.3 428.4v1.1M472.95 428.4v1.1M474.31 428.4v1.1M475.45 428.4v1.1M476.44 428.4v1.1M477.32 428.4v1.1M483.85 428.4v1.1M486.86 428.4v1.1M489 428.4v1.1M490.65 428.4v1.1M492.01 428.4v1.1M493.15 428.4v1.1M494.14 428.4v1.1M495.02 428.4v1.1M501.35 428.4v1.1M504.36 428.4v1.1M506.5 428.4v1.1M508.15 428.4v1.1M509.51 428.4v1.1M510.65 428.4v1.1M437.1 428.4v1.1M438.75 428.4v1.1M440.11 428.4v1.1M441.25 428.4v1.1M442.24 428.4v1.1M443.12 428.4v1.1" stroke="#333" stroke-width="0.8" fill="none"/>
<text x="430.7" y="364.3" font-size="8.2" text-anchor="end" fill="#1a1a1a">10<tspan font-size="6.6" dy="-2.6">5</tspan></text>
<text x="430.7" y="382.2" font-size="8.2" text-anchor="end" fill="#1a1a1a">10<tspan font-size="6.6" dy="-2.6">4</tspan></text>
<text x="430.7" y="402.5" font-size="8.2" text-anchor="end" fill="#1a1a1a">10<tspan font-size="6.6" dy="-2.6">3</tspan></text>
<text x="430.7" y="414.9" font-size="8.2" text-anchor="end" fill="#1a1a1a">0</text>
<text x="430.7" y="427.5" font-size="8.2" text-anchor="end" fill="#1a1a1a">-10<tspan font-size="6.6" dy="-2.6">3</tspan></text>
<text x="445.1" y="440.8" font-size="8.2" text-anchor="middle" fill="#1a1a1a">10<tspan font-size="5.8" dy="-2.8">1</tspan></text>
<text x="462.2" y="440.8" font-size="8.2" text-anchor="middle" fill="#1a1a1a">10<tspan font-size="5.8" dy="-2.8">2</tspan></text>
<text x="479.9" y="440.8" font-size="8.2" text-anchor="middle" fill="#1a1a1a">10<tspan font-size="5.8" dy="-2.8">3</tspan></text>
<text x="497.4" y="440.8" font-size="8.2" text-anchor="middle" fill="#1a1a1a">10<tspan font-size="5.8" dy="-2.8">4</tspan></text>
<text x="411" y="390.2" font-size="10" text-anchor="middle" fill="#333" stroke="none" transform="rotate(-90 411 390.2)" textLength="28" lengthAdjust="spacingAndGlyphs">+4-OHT</text>
<rect x="436" y="479.8" width="75.6" height="75.4" fill="#fff" stroke="#a8a8a8" stroke-width="1"/>
<ellipse cx="477.5" cy="512.3" rx="12.5" ry="9" fill="url(#rg)" opacity="0.95"/>
<ellipse cx="466" cy="508.3" rx="7" ry="5.5" fill="url(#rg)" opacity="0.75"/>
<ellipse cx="463" cy="521.8" rx="8" ry="11" fill="url(#rg)" opacity="0.35"/>
<ellipse cx="483" cy="527.8" rx="6" ry="5" fill="url(#rg)" opacity="0.15"/>
<path d="M467.3 505.7h.8v.8h-.8zM478.2 509.1h.8v.8h-.8zM484.9 517.4h.8v.8h-.8zM472.4 507.5h.8v.8h-.8zM486.1 512.7h.8v.8h-.8zM472.1 518.3h.8v.8h-.8zM483.2 517.1h.8v.8h-.8zM490.7 516.6h.8v.8h-.8zM479.8 513h.8v.8h-.8zM476.7 512.9h.8v.8h-.8zM477.8 510.9h.8v.8h-.8zM487.7 523.1h.8v.8h-.8zM484.6 507.9h.8v.8h-.8zM469.4 513.6h.8v.8h-.8zM472.4 504.6h.8v.8h-.8zM478.9 513.6h.8v.8h-.8zM481.9 512.9h.8v.8h-.8zM479.5 507.6h.8v.8h-.8zM485 516.2h.8v.8h-.8zM488.5 503.2h.8v.8h-.8zM477.3 510.2h.8v.8h-.8zM478.5 502.4h.8v.8h-.8zM485.3 517h.8v.8h-.8zM472.4 515h.8v.8h-.8zM481.8 519.1h.8v.8h-.8zM471.2 519.4h.8v.8h-.8zM475.6 508.8h.8v.8h-.8zM465.8 514.6h.8v.8h-.8zM477.3 513.9h.8v.8h-.8zM472.7 511.5h.8v.8h-.8zM469.2 516.4h.8v.8h-.8zM488.1 510.5h.8v.8h-.8zM471.8 508.9h.8v.8h-.8zM481.1 514.3h.8v.8h-.8zM484.6 508.5h.8v.8h-.8zM481.6 508.3h.8v.8h-.8zM479 515.1h.8v.8h-.8zM487.5 517.4h.8v.8h-.8zM477.6 510.6h.8v.8h-.8zM485.4 516.7h.8v.8h-.8zM471.6 507.5h.8v.8h-.8zM467 508.4h.8v.8h-.8zM481.2 511.9h.8v.8h-.8zM481.2 514.9h.8v.8h-.8zM506.9 516.1h.8v.8h-.8zM486.5 512.8h.8v.8h-.8zM475.1 508.5h.8v.8h-.8zM473.7 507.7h.8v.8h-.8zM472.8 521.5h.8v.8h-.8zM466.9 509.6h.8v.8h-.8zM467.1 509.7h.8v.8h-.8zM461.5 498.9h.8v.8h-.8zM475.4 510.9h.8v.8h-.8zM476.5 506.6h.8v.8h-.8zM468.3 509.5h.8v.8h-.8zM477.3 510.2h.8v.8h-.8zM473.7 514.6h.8v.8h-.8zM482.4 506.5h.8v.8h-.8zM479.8 509.7h.8v.8h-.8zM483.7 510.8h.8v.8h-.8zM483.1 514.7h.8v.8h-.8zM460.2 512h.8v.8h-.8zM482.6 506h.8v.8h-.8zM479.5 506.6h.8v.8h-.8zM485.9 516.8h.8v.8h-.8zM493.4 515.7h.8v.8h-.8zM482.7 505h.8v.8h-.8zM468.9 513.5h.8v.8h-.8zM476.4 511.9h.8v.8h-.8zM484.7 511.1h.8v.8h-.8zM481.7 510.3h.8v.8h-.8zM474.4 498.7h.8v.8h-.8zM484.9 511h.8v.8h-.8zM487.9 516.9h.8v.8h-.8zM478.4 516.7h.8v.8h-.8zM482.7 509.5h.8v.8h-.8zM485.5 520.5h.8v.8h-.8zM486.8 515.3h.8v.8h-.8zM478.6 515h.8v.8h-.8zM471.9 521.7h.8v.8h-.8zM466.5 504.5h.8v.8h-.8zM488 505.1h.8v.8h-.8zM482.8 509.1h.8v.8h-.8zM471.8 501.7h.8v.8h-.8zM471.6 513.4h.8v.8h-.8zM461.9 506.5h.8v.8h-.8zM476 522.3h.8v.8h-.8zM473.6 509h.8v.8h-.8zM482.1 519.2h.8v.8h-.8zM481.8 516.3h.8v.8h-.8zM485.3 513.7h.8v.8h-.8zM483.7 510.4h.8v.8h-.8zM468.8 511.4h.8v.8h-.8zM483.2 516.2h.8v.8h-.8zM484 513.5h.8v.8h-.8zM466.5 508.8h.8v.8h-.8zM483.4 514.9h.8v.8h-.8zM472.9 516h.8v.8h-.8zM476.6 511.6h.8v.8h-.8zM465.5 510.2h.8v.8h-.8zM473.3 507.5h.8v.8h-.8zM476.4 507.2h.8v.8h-.8zM479.3 518.6h.8v.8h-.8zM489.5 519.5h.8v.8h-.8zM481.2 512.2h.8v.8h-.8zM487.9 515.7h.8v.8h-.8zM479.8 502.5h.8v.8h-.8zM468.7 516.1h.8v.8h-.8zM477.4 507.5h.8v.8h-.8zM492.2 514.8h.8v.8h-.8zM465.3 510h.8v.8h-.8zM475.7 512.5h.8v.8h-.8zM486.3 510.8h.8v.8h-.8zM460.3 512.8h.8v.8h-.8zM476.2 506.9h.8v.8h-.8zM482.7 505h.8v.8h-.8zM479 517h.8v.8h-.8zM472.9 519.4h.8v.8h-.8zM484.9 512.5h.8v.8h-.8zM483 519.4h.8v.8h-.8zM474.6 510h.8v.8h-.8zM488.4 518.4h.8v.8h-.8zM468.2 509.4h.8v.8h-.8zM470.6 507.3h.8v.8h-.8zM477.2 513.9h.8v.8h-.8zM475.3 512.8h.8v.8h-.8zM478.5 512.4h.8v.8h-.8zM470.5 515.8h.8v.8h-.8zM481.2 517.1h.8v.8h-.8zM472.2 510.1h.8v.8h-.8zM485 517.5h.8v.8h-.8zM489.4 505.4h.8v.8h-.8zM471.1 505.9h.8v.8h-.8zM483.3 519.1h.8v.8h-.8zM486.1 517.2h.8v.8h-.8zM463.1 508.4h.8v.8h-.8zM489.1 512.1h.8v.8h-.8zM466.9 516.1h.8v.8h-.8zM471.9 513.8h.8v.8h-.8zM477.7 505.1h.8v.8h-.8zM482.8 505.2h.8v.8h-.8zM481 521.5h.8v.8h-.8zM481.9 515.3h.8v.8h-.8zM481.7 519.4h.8v.8h-.8zM474.8 517.5h.8v.8h-.8zM473.9 513.9h.8v.8h-.8zM489.2 510.6h.8v.8h-.8zM467.8 514.1h.8v.8h-.8zM471.2 506.9h.8v.8h-.8zM485.8 516.2h.8v.8h-.8zM473.8 512.3h.8v.8h-.8zM477.8 507.6h.8v.8h-.8zM471.9 504.6h.8v.8h-.8zM480.2 509.5h.8v.8h-.8zM469.8 507.3h.8v.8h-.8zM469.8 508h.8v.8h-.8zM476.7 514.4h.8v.8h-.8zM467.7 522h.8v.8h-.8zM471.9 507.7h.8v.8h-.8zM466.2 523.6h.8v.8h-.8zM478.6 518.1h.8v.8h-.8zM474 510.9h.8v.8h-.8zM477.8 515.7h.8v.8h-.8zM489.3 503.4h.8v.8h-.8zM475.3 509.1h.8v.8h-.8zM486.7 514.4h.8v.8h-.8zM485.2 499.3h.8v.8h-.8zM483 511.3h.8v.8h-.8zM482.4 503.5h.8v.8h-.8zM468.7 508.6h.8v.8h-.8zM478.8 517.1h.8v.8h-.8zM487.1 506.1h.8v.8h-.8zM463.3 502.9h.8v.8h-.8zM476.7 501.2h.8v.8h-.8zM474.7 527.1h.8v.8h-.8zM481.7 511.9h.8v.8h-.8zM483.6 507.3h.8v.8h-.8zM483.3 517.3h.8v.8h-.8zM481.1 502.5h.8v.8h-.8zM467.3 514.7h.8v.8h-.8zM468.8 511.1h.8v.8h-.8zM478.6 508.7h.8v.8h-.8zM477.9 510.1h.8v.8h-.8zM480 509.1h.8v.8h-.8zM487.4 515.1h.8v.8h-.8zM476.6 511.2h.8v.8h-.8zM488.6 516.3h.8v.8h-.8zM469.5 518.5h.8v.8h-.8zM465.3 509.4h.8v.8h-.8zM486.3 504.8h.8v.8h-.8zM493.4 514.2h.8v.8h-.8zM462.4 514.6h.8v.8h-.8zM480.7 522.4h.8v.8h-.8zM474.4 516.7h.8v.8h-.8zM491 515.7h.8v.8h-.8zM477.3 511.7h.8v.8h-.8zM474.3 513.4h.8v.8h-.8zM485.4 518.6h.8v.8h-.8zM476.7 515.7h.8v.8h-.8zM479.7 507.7h.8v.8h-.8zM476.7 516.1h.8v.8h-.8zM482.5 502.5h.8v.8h-.8zM477 508.6h.8v.8h-.8zM479.9 516.6h.8v.8h-.8zM483.3 511.2h.8v.8h-.8zM469.2 522.1h.8v.8h-.8zM475 508.7h.8v.8h-.8zM479.3 508.4h.8v.8h-.8zM477.4 508.9h.8v.8h-.8zM483.7 517.2h.8v.8h-.8zM477.2 513.2h.8v.8h-.8zM488.7 505.1h.8v.8h-.8zM478.4 523.4h.8v.8h-.8zM476.6 511.1h.8v.8h-.8zM470.8 509.5h.8v.8h-.8zM467.2 507.4h.8v.8h-.8zM478.4 510.9h.8v.8h-.8zM470.7 513h.8v.8h-.8zM479.9 508.3h.8v.8h-.8zM482 508.2h.8v.8h-.8zM479.5 516.9h.8v.8h-.8zM471 514.5h.8v.8h-.8zM468.6 507.7h.8v.8h-.8zM479.8 507.9h.8v.8h-.8zM480.6 522.2h.8v.8h-.8zM488.7 512.2h.8v.8h-.8zM479.7 509.5h.8v.8h-.8zM483 514.6h.8v.8h-.8zM470.4 508h.8v.8h-.8zM474.2 504.8h.8v.8h-.8zM471.6 514.2h.8v.8h-.8zM474.5 516.3h.8v.8h-.8zM466.1 515.7h.8v.8h-.8zM483.1 512.8h.8v.8h-.8zM478.3 506.3h.8v.8h-.8zM478.9 510h.8v.8h-.8zM496.5 514.8h.8v.8h-.8zM484.1 504.2h.8v.8h-.8zM471.8 503.9h.8v.8h-.8zM491.1 512.7h.8v.8h-.8zM480.5 505.5h.8v.8h-.8zM475.1 515h.8v.8h-.8zM493.5 514.2h.8v.8h-.8zM494.6 510.6h.8v.8h-.8zM474 516.7h.8v.8h-.8zM483.8 519.1h.8v.8h-.8zM488.4 513.8h.8v.8h-.8zM480.3 516.3h.8v.8h-.8zM488.3 512.3h.8v.8h-.8zM478.7 522.1h.8v.8h-.8zM471.4 505.5h.8v.8h-.8zM481 523.6h.8v.8h-.8zM476.8 518.6h.8v.8h-.8zM472.6 512.5h.8v.8h-.8zM473.7 520.2h.8v.8h-.8zM474.1 503.4h.8v.8h-.8zM489.5 505.5h.8v.8h-.8zM478.5 520.1h.8v.8h-.8zM478.8 520h.8v.8h-.8zM461.6 512.4h.8v.8h-.8zM486.1 505.9h.8v.8h-.8zM470.8 514.7h.8v.8h-.8zM471.9 524.2h.8v.8h-.8zM475.1 517.5h.8v.8h-.8zM476.4 521.3h.8v.8h-.8zM479.7 507.8h.8v.8h-.8zM470.4 520.6h.8v.8h-.8zM486.1 511h.8v.8h-.8zM472.5 515h.8v.8h-.8zM469.1 515.6h.8v.8h-.8zM485.2 508.8h.8v.8h-.8zM473.4 511.4h.8v.8h-.8zM477.4 516.6h.8v.8h-.8zM473.1 523.6h.8v.8h-.8zM490.5 511.7h.8v.8h-.8zM476.5 505.1h.8v.8h-.8zM478.3 511.2h.8v.8h-.8zM483.4 509.3h.8v.8h-.8zM479.6 508.3h.8v.8h-.8zM480 517.1h.8v.8h-.8zM479 507.4h.8v.8h-.8zM480.3 512h.8v.8h-.8zM477.2 507.7h.8v.8h-.8zM469.7 501.5h.8v.8h-.8zM477.4 520.9h.8v.8h-.8zM480 514.7h.8v.8h-.8zM459.3 513.9h.8v.8h-.8zM468.3 506.6h.8v.8h-.8zM476 512.1h.8v.8h-.8zM485.9 514.2h.8v.8h-.8zM482 511.3h.8v.8h-.8zM483.4 505.7h.8v.8h-.8zM472.4 513.6h.8v.8h-.8zM466.4 509.5h.8v.8h-.8zM479.5 510.9h.8v.8h-.8zM476 510.4h.8v.8h-.8zM481.8 508.5h.8v.8h-.8zM477.9 511.8h.8v.8h-.8zM476.8 512.4h.8v.8h-.8zM473.3 517.8h.8v.8h-.8zM472.6 516.6h.8v.8h-.8zM468.5 520.8h.8v.8h-.8zM463.1 506.1h.8v.8h-.8zM469.5 505.5h.8v.8h-.8zM475 505.7h.8v.8h-.8zM494.5 519.2h.8v.8h-.8zM469.4 520.9h.8v.8h-.8zM494 511.5h.8v.8h-.8zM472.5 511h.8v.8h-.8zM487.3 509.2h.8v.8h-.8zM494.6 510.4h.8v.8h-.8zM477.2 501h.8v.8h-.8zM474.1 509.9h.8v.8h-.8zM472 502.5h.8v.8h-.8zM484 517.9h.8v.8h-.8zM485 505.3h.8v.8h-.8zM493.3 509.2h.8v.8h-.8zM473.4 519.8h.8v.8h-.8zM478.3 512.3h.8v.8h-.8zM470.4 510.6h.8v.8h-.8zM465 511.1h.8v.8h-.8zM470.5 517.9h.8v.8h-.8zM473 510.8h.8v.8h-.8zM490.1 512.9h.8v.8h-.8zM482.6 513.3h.8v.8h-.8zM475 521.8h.8v.8h-.8zM483.6 506.9h.8v.8h-.8zM478.1 512h.8v.8h-.8zM479.2 520.7h.8v.8h-.8zM484.8 518h.8v.8h-.8zM478.3 506.6h.8v.8h-.8zM470.6 506.2h.8v.8h-.8zM472 515.5h.8v.8h-.8zM464 512.6h.8v.8h-.8zM473.5 517.9h.8v.8h-.8zM482.4 514.9h.8v.8h-.8zM462.4 510.1h.8v.8h-.8zM485.3 522.6h.8v.8h-.8zM471 509.2h.8v.8h-.8zM486.8 522.7h.8v.8h-.8zM476.4 511.5h.8v.8h-.8zM476.1 507.8h.8v.8h-.8zM478.9 516.4h.8v.8h-.8zM470.9 513.8h.8v.8h-.8zM475.7 510h.8v.8h-.8zM474.4 501.9h.8v.8h-.8zM476.7 509.8h.8v.8h-.8zM472.6 508.9h.8v.8h-.8zM475.5 508.4h.8v.8h-.8zM469.1 509.7h.8v.8h-.8zM473.9 515.2h.8v.8h-.8zM480 506.5h.8v.8h-.8zM475.8 508.3h.8v.8h-.8zM474.8 521.6h.8v.8h-.8zM482 505.8h.8v.8h-.8zM472.9 512.1h.8v.8h-.8zM463.9 511.7h.8v.8h-.8zM474.3 512.1h.8v.8h-.8zM483.3 513.7h.8v.8h-.8zM482.2 508.9h.8v.8h-.8zM472.7 512.3h.8v.8h-.8zM486.4 509.8h.8v.8h-.8zM469.4 510.2h.8v.8h-.8zM479.9 517.3h.8v.8h-.8zM478.5 511.8h.8v.8h-.8zM472.7 511.5h.8v.8h-.8zM484.1 518.1h.8v.8h-.8zM480.9 515.2h.8v.8h-.8zM472.5 514.2h.8v.8h-.8zM482 510.1h.8v.8h-.8zM477.8 515.3h.8v.8h-.8zM479.6 515.8h.8v.8h-.8zM474.9 518.1h.8v.8h-.8zM477.2 506.8h.8v.8h-.8zM483.7 516.2h.8v.8h-.8zM475.9 500.3h.8v.8h-.8zM482.1 511.5h.8v.8h-.8zM479.5 516.9h.8v.8h-.8zM471.9 499.9h.8v.8h-.8zM486.8 518.9h.8v.8h-.8zM486 513.3h.8v.8h-.8zM477.9 509.1h.8v.8h-.8zM469.3 522.1h.8v.8h-.8zM472.8 510.6h.8v.8h-.8zM466.9 507.9h.8v.8h-.8zM474.3 512.4h.8v.8h-.8zM481.4 502h.8v.8h-.8zM485.2 507.3h.8v.8h-.8zM463.2 514.5h.8v.8h-.8zM495.8 513.8h.8v.8h-.8zM468.1 512.8h.8v.8h-.8zM471.1 519.7h.8v.8h-.8zM474.9 513.9h.8v.8h-.8zM471 510.6h.8v.8h-.8zM483.4 506.2h.8v.8h-.8zM474.9 506.8h.8v.8h-.8zM468.5 501.3h.8v.8h-.8zM491.1 508h.8v.8h-.8zM475.1 514.8h.8v.8h-.8zM477.5 521.6h.8v.8h-.8zM484.9 507h.8v.8h-.8zM469 514.1h.8v.8h-.8zM479.8 516.2h.8v.8h-.8zM484.8 506.8h.8v.8h-.8zM475.6 515.9h.8v.8h-.8zM484.9 515.3h.8v.8h-.8zM481.9 510.3h.8v.8h-.8zM474.5 503.8h.8v.8h-.8zM474.1 512.1h.8v.8h-.8zM491.9 510.9h.8v.8h-.8zM467.5 513.9h.8v.8h-.8zM467.4 508.4h.8v.8h-.8zM480.8 519.2h.8v.8h-.8zM476.1 512h.8v.8h-.8zM471.8 508.3h.8v.8h-.8zM483.4 512.9h.8v.8h-.8zM478.6 511.7h.8v.8h-.8zM472.3 519.4h.8v.8h-.8zM477.6 509.2h.8v.8h-.8zM491.2 514.4h.8v.8h-.8zM484.5 520.8h.8v.8h-.8zM483.7 518.5h.8v.8h-.8zM495.2 504.7h.8v.8h-.8zM480.3 514.7h.8v.8h-.8zM464.7 511.6h.8v.8h-.8zM488.4 517.5h.8v.8h-.8zM474.7 518.8h.8v.8h-.8zM475.1 505.3h.8v.8h-.8zM484.6 519.1h.8v.8h-.8zM479.8 512h.8v.8h-.8zM473 507.3h.8v.8h-.8zM471.7 511.9h.8v.8h-.8zM486.4 515.2h.8v.8h-.8zM476 514.4h.8v.8h-.8zM483 513.6h.8v.8h-.8zM479.7 516.4h.8v.8h-.8zM466.8 504.4h.8v.8h-.8zM475.2 512.8h.8v.8h-.8zM487.6 515.4h.8v.8h-.8zM476.3 509.4h.8v.8h-.8zM480.5 513.7h.8v.8h-.8zM488 514h.8v.8h-.8zM480.8 511.8h.8v.8h-.8zM484.6 518.7h.8v.8h-.8zM473.3 512.8h.8v.8h-.8zM482.5 521.1h.8v.8h-.8zM476.7 510.6h.8v.8h-.8zM476 509.9h.8v.8h-.8zM474.3 512.2h.8v.8h-.8zM480.6 522.1h.8v.8h-.8zM469.3 511.8h.8v.8h-.8zM480.5 516.8h.8v.8h-.8zM470.5 509.7h.8v.8h-.8zM475 518.7h.8v.8h-.8zM484 516.3h.8v.8h-.8zM476.7 503.5h.8v.8h-.8zM466.2 510h.8v.8h-.8zM473.9 516.2h.8v.8h-.8zM474.1 513.1h.8v.8h-.8zM491.2 519.4h.8v.8h-.8zM482.6 502.9h.8v.8h-.8zM485.2 512.8h.8v.8h-.8zM470.1 509.7h.8v.8h-.8zM479.3 514h.8v.8h-.8zM474.9 510.5h.8v.8h-.8zM481.1 505.6h.8v.8h-.8zM471.4 507.8h.8v.8h-.8zM480.3 509.5h.8v.8h-.8zM472.4 516.9h.8v.8h-.8zM476.9 510.1h.8v.8h-.8zM473.7 516.6h.8v.8h-.8zM483.3 506.3h.8v.8h-.8zM477.3 520.1h.8v.8h-.8zM484.4 521.3h.8v.8h-.8zM474.5 519.3h.8v.8h-.8zM485.6 508.9h.8v.8h-.8zM481.4 511.5h.8v.8h-.8zM471.2 516.3h.8v.8h-.8zM485.4 498.6h.8v.8h-.8zM492.1 509h.8v.8h-.8zM477.8 523.9h.8v.8h-.8zM487.8 523.4h.8v.8h-.8zM472.2 515.1h.8v.8h-.8zM474.6 504.9h.8v.8h-.8zM475.3 515.8h.8v.8h-.8zM487.2 524.5h.8v.8h-.8zM476.1 509.7h.8v.8h-.8zM484.1 521.2h.8v.8h-.8zM477.2 516.9h.8v.8h-.8zM481 507.1h.8v.8h-.8zM466.6 512.3h.8v.8h-.8zM485.5 505.8h.8v.8h-.8zM476.6 519.4h.8v.8h-.8zM478.7 516.3h.8v.8h-.8zM484 519.5h.8v.8h-.8zM473.4 514.4h.8v.8h-.8zM475.6 507.4h.8v.8h-.8zM479 500.8h.8v.8h-.8zM498.9 512h.8v.8h-.8zM485.8 524h.8v.8h-.8zM478.4 525.6h.8v.8h-.8zM471.1 512.4h.8v.8h-.8zM486.7 519h.8v.8h-.8zM481.5 504.2h.8v.8h-.8zM477.8 518.6h.8v.8h-.8zM481.7 512.2h.8v.8h-.8zM475.1 507.7h.8v.8h-.8zM469.7 509.2h.8v.8h-.8zM478 512.8h.8v.8h-.8zM482.1 512.7h.8v.8h-.8zM468.8 514.1h.8v.8h-.8zM476.8 511.3h.8v.8h-.8zM482.5 518.3h.8v.8h-.8zM467.4 510.5h.8v.8h-.8zM481.6 508.9h.8v.8h-.8zM477.2 510.4h.8v.8h-.8zM464.2 509.7h.8v.8h-.8zM470.9 521.3h.8v.8h-.8zM485.3 509.2h.8v.8h-.8zM475.5 511.2h.8v.8h-.8zM477.9 507.2h.8v.8h-.8zM473.3 515.1h.8v.8h-.8zM474.6 508.1h.8v.8h-.8zM483.1 508.9h.8v.8h-.8zM476.6 516.9h.8v.8h-.8zM481 514.5h.8v.8h-.8zM478.2 506.7h.8v.8h-.8zM474.2 511.2h.8v.8h-.8zM470 514.7h.8v.8h-.8zM488.6 512.4h.8v.8h-.8zM486.8 513.6h.8v.8h-.8zM481.9 512.9h.8v.8h-.8zM485.5 513.8h.8v.8h-.8zM466.9 501.1h.8v.8h-.8zM479.7 514.2h.8v.8h-.8zM477.4 510h.8v.8h-.8zM467.3 515.6h.8v.8h-.8zM476.6 501.8h.8v.8h-.8zM473.5 512h.8v.8h-.8zM482.1 517h.8v.8h-.8zM491.5 513.4h.8v.8h-.8zM477.7 505.5h.8v.8h-.8zM465.5 513.3h.8v.8h-.8zM478.8 519.9h.8v.8h-.8zM469.8 513.9h.8v.8h-.8zM476.1 522.4h.8v.8h-.8zM469.8 514.3h.8v.8h-.8zM485.7 518.2h.8v.8h-.8zM480.3 512.7h.8v.8h-.8zM481.9 505.8h.8v.8h-.8zM498.3 514.4h.8v.8h-.8zM482.4 514.7h.8v.8h-.8zM473.4 516.3h.8v.8h-.8zM480.2 521h.8v.8h-.8zM485.8 512.7h.8v.8h-.8zM473.5 514.7h.8v.8h-.8zM469.3 514.2h.8v.8h-.8zM460.6 519.3h.8v.8h-.8zM491.7 510.3h.8v.8h-.8zM484.7 512.7h.8v.8h-.8zM475.1 509h.8v.8h-.8zM477.5 509.5h.8v.8h-.8zM486.9 510.8h.8v.8h-.8zM480.4 516.6h.8v.8h-.8zM470.1 515.5h.8v.8h-.8zM477.9 508.9h.8v.8h-.8zM475.9 515.6h.8v.8h-.8zM472.4 514.6h.8v.8h-.8zM473.4 514.1h.8v.8h-.8zM481.7 510.2h.8v.8h-.8zM476.4 519.8h.8v.8h-.8zM481.5 502.6h.8v.8h-.8zM474.6 510.8h.8v.8h-.8zM477 513h.8v.8h-.8zM490.1 515h.8v.8h-.8zM476.8 514.4h.8v.8h-.8zM478.4 515.6h.8v.8h-.8zM476.8 508.6h.8v.8h-.8zM492.6 506.7h.8v.8h-.8zM487.3 517.9h.8v.8h-.8zM468.8 508.5h.8v.8h-.8zM476.8 514.6h.8v.8h-.8zM478.1 512.7h.8v.8h-.8zM480.6 498.7h.8v.8h-.8zM473.5 510.3h.8v.8h-.8zM477 513.8h.8v.8h-.8zM469.5 511h.8v.8h-.8zM482.6 516.8h.8v.8h-.8zM471.1 508.8h.8v.8h-.8zM488.2 513.7h.8v.8h-.8zM479.1 513.5h.8v.8h-.8zM470.8 509.2h.8v.8h-.8zM477.2 510.9h.8v.8h-.8zM479.3 519.1h.8v.8h-.8zM472.2 507.8h.8v.8h-.8zM484.2 506.5h.8v.8h-.8zM479.9 515.2h.8v.8h-.8zM483.1 520.2h.8v.8h-.8zM465.6 514.9h.8v.8h-.8zM477.7 505.3h.8v.8h-.8zM470.7 510.4h.8v.8h-.8zM472.9 513.9h.8v.8h-.8zM476.3 506.3h.8v.8h-.8zM466.8 500.9h.8v.8h-.8zM474.1 508.3h.8v.8h-.8zM482.3 509.9h.8v.8h-.8zM462.1 505.9h.8v.8h-.8zM476.9 512.7h.8v.8h-.8zM473.7 519.9h.8v.8h-.8zM473.1 513.4h.8v.8h-.8zM480.2 505.3h.8v.8h-.8zM476.3 509.5h.8v.8h-.8zM473.9 513.2h.8v.8h-.8zM469.9 492.5h.8v.8h-.8zM475.8 507.9h.8v.8h-.8zM479.5 517.2h.8v.8h-.8zM474.3 508.7h.8v.8h-.8zM486.8 510.5h.8v.8h-.8zM495 508h.8v.8h-.8zM461 513.6h.8v.8h-.8zM466.4 514.6h.8v.8h-.8zM480.8 515.4h.8v.8h-.8zM485.1 514.9h.8v.8h-.8zM499.6 511.8h.8v.8h-.8zM481 508.8h.8v.8h-.8zM473.8 511.5h.8v.8h-.8zM472 507h.8v.8h-.8zM479.2 517.3h.8v.8h-.8zM481.1 510.8h.8v.8h-.8zM478.7 511.8h.8v.8h-.8zM475.4 514.9h.8v.8h-.8zM478.7 516.4h.8v.8h-.8zM473.7 507.5h.8v.8h-.8zM472.2 510.2h.8v.8h-.8zM465.1 509.3h.8v.8h-.8zM482.3 511.8h.8v.8h-.8zM481 508.4h.8v.8h-.8zM472.2 512.9h.8v.8h-.8zM484.3 507.7h.8v.8h-.8zM486.5 513.2h.8v.8h-.8zM474.7 509.1h.8v.8h-.8zM496 513.5h.8v.8h-.8zM477.4 512.7h.8v.8h-.8zM486.2 508.1h.8v.8h-.8zM482.8 511.7h.8v.8h-.8zM476.3 503.4h.8v.8h-.8zM480.8 515.4h.8v.8h-.8zM466 509.1h.8v.8h-.8zM479.5 509.1h.8v.8h-.8zM460.7 518.2h.8v.8h-.8zM475.5 505.3h.8v.8h-.8zM463.6 513.3h.8v.8h-.8zM469.9 511.2h.8v.8h-.8zM474.3 516.1h.8v.8h-.8zM478.7 513.7h.8v.8h-.8zM482.5 509.2h.8v.8h-.8zM486.7 519.6h.8v.8h-.8zM488.2 506h.8v.8h-.8zM488.4 518.1h.8v.8h-.8zM467 511.9h.8v.8h-.8zM484 523.5h.8v.8h-.8zM473.7 511h.8v.8h-.8zM474.6 512.3h.8v.8h-.8zM480.6 516h.8v.8h-.8zM471.7 516.1h.8v.8h-.8zM470.2 516.8h.8v.8h-.8zM480.9 506h.8v.8h-.8zM476.6 515.8h.8v.8h-.8zM470.7 515h.8v.8h-.8zM477.9 512.2h.8v.8h-.8zM475.6 511.7h.8v.8h-.8zM469.6 523.8h.8v.8h-.8zM481.1 510.3h.8v.8h-.8zM481.7 504h.8v.8h-.8zM475.5 512.1h.8v.8h-.8zM482.1 519.4h.8v.8h-.8zM479.7 516h.8v.8h-.8zM470.2 514.6h.8v.8h-.8zM491.4 520h.8v.8h-.8zM479.9 509.1h.8v.8h-.8zM483.1 512h.8v.8h-.8zM472.2 514h.8v.8h-.8zM484.3 509.9h.8v.8h-.8zM486.6 523.2h.8v.8h-.8zM476.1 519.2h.8v.8h-.8zM473.9 523.4h.8v.8h-.8zM474.6 513.7h.8v.8h-.8zM480.2 513.7h.8v.8h-.8zM469.9 507.6h.8v.8h-.8zM481.6 521.2h.8v.8h-.8zM477.6 510.2h.8v.8h-.8zM485.8 513.8h.8v.8h-.8zM475.8 516.4h.8v.8h-.8zM473.3 509.1h.8v.8h-.8zM474.6 513.1h.8v.8h-.8zM476.8 507.8h.8v.8h-.8zM472.2 508.4h.8v.8h-.8zM486.6 514.7h.8v.8h-.8zM471.9 503.1h.8v.8h-.8zM496.9 512.8h.8v.8h-.8zM481.5 521.4h.8v.8h-.8zM484.6 509.6h.8v.8h-.8zM473.6 504h.8v.8h-.8zM472.1 513.3h.8v.8h-.8zM471.1 518.1h.8v.8h-.8zM472.8 518.3h.8v.8h-.8zM478.4 515.7h.8v.8h-.8zM474.8 523.5h.8v.8h-.8zM482.2 506.9h.8v.8h-.8zM464.7 507.9h.8v.8h-.8zM486 506.3h.8v.8h-.8zM467.6 507.7h.8v.8h-.8zM471.5 509.5h.8v.8h-.8zM462.9 510.8h.8v.8h-.8zM479.8 512.7h.8v.8h-.8zM491.3 520.9h.8v.8h-.8zM470.2 513.7h.8v.8h-.8zM468.1 505.8h.8v.8h-.8zM471.1 500.1h.8v.8h-.8zM476.8 517.6h.8v.8h-.8zM480.2 514.7h.8v.8h-.8zM478.8 519.2h.8v.8h-.8zM489.6 513.4h.8v.8h-.8zM478.9 511.4h.8v.8h-.8zM482.9 510.5h.8v.8h-.8zM481.1 511.5h.8v.8h-.8zM473.8 510.8h.8v.8h-.8zM486 508.8h.8v.8h-.8zM479.6 514.5h.8v.8h-.8zM466.1 521.4h.8v.8h-.8zM474.9 511.2h.8v.8h-.8zM470.6 505.9h.8v.8h-.8zM471.3 516.7h.8v.8h-.8zM476.6 507.7h.8v.8h-.8zM476.2 514.1h.8v.8h-.8zM487.8 508.1h.8v.8h-.8zM473.7 515.2h.8v.8h-.8zM469.3 511.2h.8v.8h-.8zM482 517.8h.8v.8h-.8zM471.9 499h.8v.8h-.8zM461.4 507.5h.8v.8h-.8zM491.9 498.2h.8v.8h-.8zM477 513.2h.8v.8h-.8zM469.3 524.7h.8v.8h-.8zM473.2 512.6h.8v.8h-.8zM477.5 515.4h.8v.8h-.8zM474.6 506.3h.8v.8h-.8zM478.2 518.8h.8v.8h-.8zM469.5 511h.8v.8h-.8zM476.7 511.3h.8v.8h-.8zM479.1 506.9h.8v.8h-.8zM478.7 506.7h.8v.8h-.8zM471.9 517.1h.8v.8h-.8zM468.8 503.1h.8v.8h-.8zM478.1 517.9h.8v.8h-.8zM481.8 513.2h.8v.8h-.8zM476.5 519.1h.8v.8h-.8zM483.4 512.1h.8v.8h-.8zM472.6 511.5h.8v.8h-.8zM472.3 511.3h.8v.8h-.8zM478.5 515.3h.8v.8h-.8zM476.8 506.2h.8v.8h-.8zM474.6 522.2h.8v.8h-.8zM484 511.8h.8v.8h-.8zM472.5 517.6h.8v.8h-.8zM473.2 510.6h.8v.8h-.8zM482.3 510.3h.8v.8h-.8zM473.8 516.9h.8v.8h-.8zM490.5 504.7h.8v.8h-.8zM476.3 517.2h.8v.8h-.8zM485.3 515.6h.8v.8h-.8zM485 510.9h.8v.8h-.8zM475.2 515.4h.8v.8h-.8zM473.6 512.2h.8v.8h-.8zM469.3 509.1h.8v.8h-.8zM480 512.4h.8v.8h-.8zM479.8 502.2h.8v.8h-.8zM477.9 504.5h.8v.8h-.8zM487.3 509.2h.8v.8h-.8zM481.7 512.6h.8v.8h-.8zM478 518.9h.8v.8h-.8zM476.7 514.4h.8v.8h-.8zM478.7 509h.8v.8h-.8zM486.4 505.9h.8v.8h-.8zM484.1 516.1h.8v.8h-.8zM496.5 515.6h.8v.8h-.8zM482.8 515.2h.8v.8h-.8zM479 517.7h.8v.8h-.8zM474.6 510.2h.8v.8h-.8zM471.3 504.5h.8v.8h-.8zM469.7 511.7h.8v.8h-.8zM477 509.5h.8v.8h-.8zM484.9 513.9h.8v.8h-.8zM475.3 517.2h.8v.8h-.8zM478.8 514.5h.8v.8h-.8zM472.7 504.3h.8v.8h-.8zM477.9 510.5h.8v.8h-.8zM470.4 508.1h.8v.8h-.8zM484.1 514.6h.8v.8h-.8zM489.4 521.5h.8v.8h-.8zM464.2 506.5h.8v.8h-.8zM469.9 510.9h.8v.8h-.8zM463.2 506.1h.8v.8h-.8zM467.5 510.5h.8v.8h-.8zM469.9 507.3h.8v.8h-.8zM470.5 502.4h.8v.8h-.8zM462.7 508.9h.8v.8h-.8zM460.6 507.7h.8v.8h-.8zM463.1 509.7h.8v.8h-.8zM465.6 510.1h.8v.8h-.8zM463.9 509.9h.8v.8h-.8zM464.2 506.1h.8v.8h-.8zM467.4 507.9h.8v.8h-.8zM470.1 509h.8v.8h-.8zM463.5 512.8h.8v.8h-.8zM479.2 513h.8v.8h-.8zM455.1 507.2h.8v.8h-.8zM469.7 510.4h.8v.8h-.8zM471.2 515.5h.8v.8h-.8zM460.7 513h.8v.8h-.8zM458.5 502.8h.8v.8h-.8zM464 508.1h.8v.8h-.8zM471.1 503.2h.8v.8h-.8zM466.9 502h.8v.8h-.8zM468.1 510.4h.8v.8h-.8zM465.9 507.7h.8v.8h-.8zM467.7 504.5h.8v.8h-.8zM467.6 507.7h.8v.8h-.8zM471.6 508.9h.8v.8h-.8zM465.8 506.3h.8v.8h-.8zM462.7 506.2h.8v.8h-.8zM459.9 509.1h.8v.8h-.8zM464.8 511.4h.8v.8h-.8zM459.9 506.1h.8v.8h-.8zM469.8 518.1h.8v.8h-.8zM453.7 507.2h.8v.8h-.8zM464.6 503.5h.8v.8h-.8zM465.1 508.3h.8v.8h-.8zM470.2 512.9h.8v.8h-.8zM473.4 505h.8v.8h-.8zM462.6 505.3h.8v.8h-.8zM461.8 506.5h.8v.8h-.8zM463 512.1h.8v.8h-.8zM462.7 511.1h.8v.8h-.8zM468 518.7h.8v.8h-.8zM463.1 508.7h.8v.8h-.8zM469.7 511.2h.8v.8h-.8zM461.8 509.3h.8v.8h-.8zM474.4 512.6h.8v.8h-.8zM463.4 508.2h.8v.8h-.8zM468.6 505.4h.8v.8h-.8zM466.3 508.5h.8v.8h-.8zM467.6 507.5h.8v.8h-.8zM474.3 504h.8v.8h-.8zM468.2 507.4h.8v.8h-.8zM467.3 501.9h.8v.8h-.8zM467.5 510.2h.8v.8h-.8zM456.8 505.6h.8v.8h-.8zM458.9 506.7h.8v.8h-.8zM466.6 513.3h.8v.8h-.8zM467.1 511.8h.8v.8h-.8zM466.3 508.9h.8v.8h-.8zM473.9 507.8h.8v.8h-.8zM461.7 517.4h.8v.8h-.8zM465.5 515.1h.8v.8h-.8zM461 503.8h.8v.8h-.8zM465.1 512.1h.8v.8h-.8zM467.5 506h.8v.8h-.8zM461.7 502.5h.8v.8h-.8zM466.8 503.2h.8v.8h-.8zM467.6 505.9h.8v.8h-.8zM469.8 500.9h.8v.8h-.8zM461 511.3h.8v.8h-.8zM466.4 508.9h.8v.8h-.8zM475 511.4h.8v.8h-.8zM462.9 510.5h.8v.8h-.8zM463.1 513.8h.8v.8h-.8zM461 506.8h.8v.8h-.8zM469.7 509.5h.8v.8h-.8zM464.1 509.7h.8v.8h-.8zM469.2 504.4h.8v.8h-.8zM464.8 507.8h.8v.8h-.8zM463.9 510.3h.8v.8h-.8zM464.4 508.1h.8v.8h-.8zM468.1 510.8h.8v.8h-.8zM464.7 503.2h.8v.8h-.8zM474 499.4h.8v.8h-.8zM461.1 511.2h.8v.8h-.8zM465.1 511.1h.8v.8h-.8zM468.4 509.4h.8v.8h-.8zM468.3 502.1h.8v.8h-.8zM459.2 503.9h.8v.8h-.8zM467 508.2h.8v.8h-.8zM458.4 512.7h.8v.8h-.8zM467.1 508.2h.8v.8h-.8zM455.9 505.7h.8v.8h-.8zM470.9 503.6h.8v.8h-.8zM462.1 503.5h.8v.8h-.8zM460.6 507.6h.8v.8h-.8zM459.8 501.1h.8v.8h-.8zM471.7 505.9h.8v.8h-.8zM466.1 510.6h.8v.8h-.8zM468.7 504.4h.8v.8h-.8zM463.8 507.8h.8v.8h-.8zM461.1 508.3h.8v.8h-.8zM466.7 512.3h.8v.8h-.8zM465 508.9h.8v.8h-.8zM461.3 510.2h.8v.8h-.8zM467.7 509.6h.8v.8h-.8zM470.8 501.4h.8v.8h-.8zM462 504.9h.8v.8h-.8zM466.8 509h.8v.8h-.8zM467.3 510.5h.8v.8h-.8zM469.3 510.5h.8v.8h-.8zM468.4 507.1h.8v.8h-.8zM469.7 504.4h.8v.8h-.8zM467.5 506h.8v.8h-.8zM464.8 508.2h.8v.8h-.8zM465.8 510.8h.8v.8h-.8zM468.7 513.7h.8v.8h-.8zM469.4 506h.8v.8h-.8zM461.5 513.3h.8v.8h-.8zM462.7 512.9h.8v.8h-.8zM467.6 509.5h.8v.8h-.8zM473.4 521.3h.8v.8h-.8zM468.5 512.2h.8v.8h-.8zM460 510.7h.8v.8h-.8zM466.9 511.1h.8v.8h-.8zM467.1 508h.8v.8h-.8zM470.3 506.4h.8v.8h-.8zM462.6 511.3h.8v.8h-.8zM470.2 511.9h.8v.8h-.8zM462.6 502.2h.8v.8h-.8zM462.8 503.3h.8v.8h-.8zM469.3 507.7h.8v.8h-.8zM470.3 504.6h.8v.8h-.8zM470.2 500.6h.8v.8h-.8zM472.6 501.6h.8v.8h-.8zM464.8 503.6h.8v.8h-.8zM459.7 508.9h.8v.8h-.8zM469.1 510.1h.8v.8h-.8zM466.3 509.2h.8v.8h-.8zM465.9 508h.8v.8h-.8zM468.1 510.1h.8v.8h-.8zM465.5 512.8h.8v.8h-.8zM464.9 508.1h.8v.8h-.8zM463 510.1h.8v.8h-.8zM466.6 505.3h.8v.8h-.8zM459.9 505.3h.8v.8h-.8zM459.4 509.2h.8v.8h-.8zM471.5 504.5h.8v.8h-.8zM464 506.9h.8v.8h-.8zM466.9 502.6h.8v.8h-.8zM465.5 503.3h.8v.8h-.8zM464.5 507.9h.8v.8h-.8zM470.3 507.9h.8v.8h-.8zM465.3 511.7h.8v.8h-.8zM462.5 510h.8v.8h-.8zM455.8 507.3h.8v.8h-.8zM466.4 510h.8v.8h-.8zM471.2 511.8h.8v.8h-.8zM464.4 511.2h.8v.8h-.8zM465 505.8h.8v.8h-.8zM469 514.5h.8v.8h-.8zM470.5 506.9h.8v.8h-.8zM467 511.7h.8v.8h-.8zM461.2 498.8h.8v.8h-.8zM467 501h.8v.8h-.8zM462.9 501.9h.8v.8h-.8zM466.3 508.1h.8v.8h-.8zM459.4 503.3h.8v.8h-.8zM467.2 506.2h.8v.8h-.8zM472.9 502.6h.8v.8h-.8zM470.4 510.7h.8v.8h-.8zM463.2 509.2h.8v.8h-.8zM465.4 511.7h.8v.8h-.8zM467.6 505.5h.8v.8h-.8zM471 512.6h.8v.8h-.8zM460.9 507.9h.8v.8h-.8zM465.7 504.7h.8v.8h-.8zM477.9 508.3h.8v.8h-.8zM468.3 510.8h.8v.8h-.8zM472.9 504.3h.8v.8h-.8zM468.1 511.7h.8v.8h-.8zM465.8 502.3h.8v.8h-.8zM464.1 507.2h.8v.8h-.8zM462.2 515h.8v.8h-.8zM459.5 512.2h.8v.8h-.8zM467.4 508.6h.8v.8h-.8zM470.1 502.9h.8v.8h-.8zM464 513.1h.8v.8h-.8zM468.9 506.6h.8v.8h-.8zM471 510.1h.8v.8h-.8zM466.4 504.1h.8v.8h-.8zM458.8 509.5h.8v.8h-.8zM467.1 504.3h.8v.8h-.8zM456.9 503.9h.8v.8h-.8zM474 502.6h.8v.8h-.8zM465.9 507.3h.8v.8h-.8zM465 504h.8v.8h-.8zM465.6 511.9h.8v.8h-.8zM455.2 509.4h.8v.8h-.8zM469.5 508h.8v.8h-.8zM456 504.9h.8v.8h-.8zM470 507.9h.8v.8h-.8zM465.7 504.8h.8v.8h-.8zM462 514.4h.8v.8h-.8zM462.2 499.2h.8v.8h-.8zM466.2 516.3h.8v.8h-.8zM469.3 503.4h.8v.8h-.8zM466.4 515.2h.8v.8h-.8zM465.7 513.6h.8v.8h-.8zM468 507.8h.8v.8h-.8zM464.5 508.7h.8v.8h-.8zM469.5 509.9h.8v.8h-.8zM458.3 509.8h.8v.8h-.8zM469 509.3h.8v.8h-.8zM471.3 507.4h.8v.8h-.8zM471 508.9h.8v.8h-.8zM462.1 505.1h.8v.8h-.8zM472.1 504.7h.8v.8h-.8zM469 509.3h.8v.8h-.8zM474.1 502.5h.8v.8h-.8zM468.5 504.2h.8v.8h-.8zM465.1 508.6h.8v.8h-.8zM467.9 501h.8v.8h-.8zM465.4 509.8h.8v.8h-.8zM461.4 505.6h.8v.8h-.8zM464.5 515.4h.8v.8h-.8zM473.2 512.5h.8v.8h-.8zM460 508.3h.8v.8h-.8zM459.8 508.6h.8v.8h-.8zM463.3 516.3h.8v.8h-.8zM466.5 507.8h.8v.8h-.8zM463 508.9h.8v.8h-.8zM465.1 508h.8v.8h-.8zM472.5 507h.8v.8h-.8zM463 506.7h.8v.8h-.8zM460.7 509.5h.8v.8h-.8zM463.9 508.9h.8v.8h-.8zM473.5 511.8h.8v.8h-.8zM466.6 510h.8v.8h-.8zM470 507.5h.8v.8h-.8zM466.8 508.6h.8v.8h-.8zM462.8 510.4h.8v.8h-.8zM462.2 504.7h.8v.8h-.8zM467.6 507h.8v.8h-.8zM465.6 509.4h.8v.8h-.8zM467 510.2h.8v.8h-.8zM472.5 513.9h.8v.8h-.8zM460.5 506.5h.8v.8h-.8zM460.3 508.5h.8v.8h-.8zM462.5 504h.8v.8h-.8zM476.3 507h.8v.8h-.8zM459 508.2h.8v.8h-.8zM459.5 502.5h.8v.8h-.8zM471.2 508.2h.8v.8h-.8zM471.3 508.4h.8v.8h-.8zM463.4 510.7h.8v.8h-.8zM468.7 514.8h.8v.8h-.8zM464.6 525.9h.8v.8h-.8zM458.8 523.4h.8v.8h-.8zM460.6 515.3h.8v.8h-.8zM465.3 513.8h.8v.8h-.8zM468.6 529.1h.8v.8h-.8zM456.8 526.5h.8v.8h-.8zM462.5 523.1h.8v.8h-.8zM465.4 521.2h.8v.8h-.8zM469 522.2h.8v.8h-.8zM470 535.8h.8v.8h-.8zM459.9 530.8h.8v.8h-.8zM451.8 526.7h.8v.8h-.8zM466.1 520.9h.8v.8h-.8zM470.7 516.3h.8v.8h-.8zM458.9 527.7h.8v.8h-.8zM457.4 528.6h.8v.8h-.8zM445.1 509h.8v.8h-.8zM466.2 513.4h.8v.8h-.8zM461.4 526.7h.8v.8h-.8zM461.3 520.3h.8v.8h-.8zM464.8 527.5h.8v.8h-.8zM467.8 521.4h.8v.8h-.8zM469.7 525.6h.8v.8h-.8zM465.2 528h.8v.8h-.8zM463.6 526.8h.8v.8h-.8zM462.1 514.9h.8v.8h-.8zM461.8 517.2h.8v.8h-.8zM462.9 517.2h.8v.8h-.8zM469.9 509.3h.8v.8h-.8zM468.4 526.8h.8v.8h-.8zM469.9 519h.8v.8h-.8zM465 525.5h.8v.8h-.8zM458.9 520.4h.8v.8h-.8zM454.1 529.9h.8v.8h-.8zM466.5 511h.8v.8h-.8zM465.2 519h.8v.8h-.8zM465.6 513.9h.8v.8h-.8zM462.5 525h.8v.8h-.8zM467.3 517h.8v.8h-.8zM458 516.3h.8v.8h-.8zM463.8 512.6h.8v.8h-.8zM471 517.8h.8v.8h-.8zM461.9 526.6h.8v.8h-.8zM467.8 517.4h.8v.8h-.8zM464.1 520.9h.8v.8h-.8zM463.1 532.4h.8v.8h-.8zM456.2 523.3h.8v.8h-.8zM458.6 516.3h.8v.8h-.8zM463 537.8h.8v.8h-.8zM463.1 510.1h.8v.8h-.8zM465.3 521.8h.8v.8h-.8zM461.7 515.6h.8v.8h-.8zM465.9 509.5h.8v.8h-.8zM465.6 506.8h.8v.8h-.8zM457.9 510.6h.8v.8h-.8zM474.9 518.8h.8v.8h-.8zM470.1 507.3h.8v.8h-.8zM473.2 506.9h.8v.8h-.8zM455.5 521.1h.8v.8h-.8zM470.2 517.3h.8v.8h-.8zM464 528.1h.8v.8h-.8zM469.2 529.1h.8v.8h-.8zM465.6 525.1h.8v.8h-.8zM463.7 517.4h.8v.8h-.8zM452.6 505.1h.8v.8h-.8zM460.6 518.9h.8v.8h-.8zM460.2 529.6h.8v.8h-.8zM460.2 532.4h.8v.8h-.8zM468.5 521.4h.8v.8h-.8zM464.6 524h.8v.8h-.8zM460.5 523.6h.8v.8h-.8zM458.4 518.1h.8v.8h-.8zM457 525.1h.8v.8h-.8zM468.6 509.9h.8v.8h-.8zM465.8 519.9h.8v.8h-.8zM460 522h.8v.8h-.8zM464 520.2h.8v.8h-.8zM455.6 516.6h.8v.8h-.8zM461.2 523.8h.8v.8h-.8zM462.2 521.4h.8v.8h-.8zM460.1 516.7h.8v.8h-.8zM457.6 538.6h.8v.8h-.8zM473.8 539.3h.8v.8h-.8zM460 545.3h.8v.8h-.8zM471.1 527.2h.8v.8h-.8zM468.4 534.3h.8v.8h-.8zM457.3 524.9h.8v.8h-.8zM463.4 523.8h.8v.8h-.8zM462.5 515.2h.8v.8h-.8zM471.1 523.6h.8v.8h-.8zM466.8 529.6h.8v.8h-.8zM457.9 514.8h.8v.8h-.8zM469.1 520.5h.8v.8h-.8zM455.2 527.8h.8v.8h-.8zM463.5 529h.8v.8h-.8zM463.4 530.2h.8v.8h-.8zM461.2 532.1h.8v.8h-.8zM465.9 525.8h.8v.8h-.8zM463.1 522.5h.8v.8h-.8zM460 520.3h.8v.8h-.8zM467.9 513h.8v.8h-.8zM461.2 521h.8v.8h-.8zM465.4 535.9h.8v.8h-.8zM459.1 531h.8v.8h-.8zM456 518.4h.8v.8h-.8zM461.4 522.4h.8v.8h-.8zM454 519.9h.8v.8h-.8zM467.3 530h.8v.8h-.8zM463.7 523.8h.8v.8h-.8zM461.9 520.6h.8v.8h-.8zM467.2 516h.8v.8h-.8zM454 516.8h.8v.8h-.8zM471.5 513h.8v.8h-.8zM466.3 501.3h.8v.8h-.8zM465.3 517.2h.8v.8h-.8zM456.3 524.8h.8v.8h-.8zM467.9 517.2h.8v.8h-.8zM462.6 506.4h.8v.8h-.8zM463.8 513.8h.8v.8h-.8zM470.5 523h.8v.8h-.8zM457 520.7h.8v.8h-.8zM460.2 518.3h.8v.8h-.8zM464.3 526.6h.8v.8h-.8zM469.5 526h.8v.8h-.8zM464 526.4h.8v.8h-.8zM462.5 527.9h.8v.8h-.8zM458.3 525.5h.8v.8h-.8zM470.3 526.9h.8v.8h-.8zM467.7 530.1h.8v.8h-.8zM460.6 519.3h.8v.8h-.8zM459.4 527.4h.8v.8h-.8zM461 529.3h.8v.8h-.8zM461.1 524.2h.8v.8h-.8zM459.6 515.4h.8v.8h-.8zM469.3 516.7h.8v.8h-.8zM458.7 518.3h.8v.8h-.8zM456.4 510.2h.8v.8h-.8zM473.9 505.8h.8v.8h-.8zM462.4 524.3h.8v.8h-.8zM461.8 529.5h.8v.8h-.8zM458.2 521.8h.8v.8h-.8zM464.5 529.1h.8v.8h-.8zM457.9 522.5h.8v.8h-.8zM470.6 534h.8v.8h-.8zM466.3 519.8h.8v.8h-.8zM461.4 530.6h.8v.8h-.8zM454.9 511.9h.8v.8h-.8zM464 519.1h.8v.8h-.8zM468.5 529.9h.8v.8h-.8zM467.7 518.5h.8v.8h-.8zM453.2 509.4h.8v.8h-.8zM463.3 524.3h.8v.8h-.8zM472.4 528.9h.8v.8h-.8zM462.9 519.5h.8v.8h-.8zM464.9 509.2h.8v.8h-.8zM460.7 528.3h.8v.8h-.8zM462.1 513.3h.8v.8h-.8zM467.6 531.5h.8v.8h-.8zM451.3 511.8h.8v.8h-.8zM456 518.3h.8v.8h-.8zM458.8 520.6h.8v.8h-.8zM455 536.5h.8v.8h-.8zM454.9 512.9h.8v.8h-.8zM463.9 526.9h.8v.8h-.8zM466.5 518h.8v.8h-.8zM465.3 525.9h.8v.8h-.8zM465.1 534.2h.8v.8h-.8zM468 510.6h.8v.8h-.8zM468.3 525.1h.8v.8h-.8zM467.8 519.2h.8v.8h-.8zM464.8 513.6h.8v.8h-.8zM462.7 510.4h.8v.8h-.8zM455.5 522.4h.8v.8h-.8zM459 513.8h.8v.8h-.8zM462.2 513.8h.8v.8h-.8zM456.6 533.5h.8v.8h-.8zM469.6 530.9h.8v.8h-.8zM467.6 514.5h.8v.8h-.8zM467.3 526.5h.8v.8h-.8zM468.1 519.5h.8v.8h-.8zM462 524.3h.8v.8h-.8zM462.5 511.5h.8v.8h-.8zM472.6 531.5h.8v.8h-.8zM461.3 527.1h.8v.8h-.8zM467.2 517.9h.8v.8h-.8zM452.8 530.7h.8v.8h-.8zM457.4 524.8h.8v.8h-.8zM465.9 524.6h.8v.8h-.8zM457.1 535.4h.8v.8h-.8zM462.3 509h.8v.8h-.8zM464.9 545.3h.8v.8h-.8zM469.4 524.1h.8v.8h-.8zM468.4 534.9h.8v.8h-.8zM466.8 523.8h.8v.8h-.8zM447.7 530.3h.8v.8h-.8zM459.9 523.1h.8v.8h-.8zM466.8 530.4h.8v.8h-.8zM469.1 523.4h.8v.8h-.8zM463.7 522.1h.8v.8h-.8zM467.8 512h.8v.8h-.8zM465.9 519.4h.8v.8h-.8zM466.1 518.3h.8v.8h-.8zM459.7 536.7h.8v.8h-.8zM464.8 527.2h.8v.8h-.8zM464 521.8h.8v.8h-.8zM467.9 513.7h.8v.8h-.8zM463.9 512.4h.8v.8h-.8zM459.5 518.6h.8v.8h-.8zM464.3 523.1h.8v.8h-.8zM462.2 521.2h.8v.8h-.8zM459.6 522.7h.8v.8h-.8zM454.8 510.4h.8v.8h-.8zM466.8 518.3h.8v.8h-.8zM477.2 509h.8v.8h-.8zM463.3 520.5h.8v.8h-.8zM461.5 525.9h.8v.8h-.8zM469.6 524.3h.8v.8h-.8zM462.1 522.1h.8v.8h-.8zM468.2 525.2h.8v.8h-.8zM467.6 519.2h.8v.8h-.8zM458.1 547.3h.8v.8h-.8zM453.5 533.7h.8v.8h-.8zM460.2 507.8h.8v.8h-.8zM460.8 523.6h.8v.8h-.8zM463.2 520.4h.8v.8h-.8zM454.9 524.7h.8v.8h-.8zM464.7 515.2h.8v.8h-.8zM473.9 523.6h.8v.8h-.8zM460.8 517.2h.8v.8h-.8zM466.3 516h.8v.8h-.8zM475.1 512.7h.8v.8h-.8zM467.7 516.1h.8v.8h-.8zM465.7 504.3h.8v.8h-.8zM458.1 515.9h.8v.8h-.8zM467.3 511.3h.8v.8h-.8zM461.9 521.5h.8v.8h-.8zM462.6 528.2h.8v.8h-.8zM457.7 526.4h.8v.8h-.8zM466.6 526.7h.8v.8h-.8zM473.1 537.2h.8v.8h-.8zM455.2 526.9h.8v.8h-.8zM462.6 514.7h.8v.8h-.8zM460.9 518h.8v.8h-.8zM464.6 521.4h.8v.8h-.8zM458.7 516.6h.8v.8h-.8zM459.1 531.5h.8v.8h-.8zM465.9 522.1h.8v.8h-.8zM456.1 517.3h.8v.8h-.8zM461.2 518.5h.8v.8h-.8zM472.6 517.8h.8v.8h-.8zM464.4 513.4h.8v.8h-.8zM460.4 519.6h.8v.8h-.8zM463.1 530.5h.8v.8h-.8zM460.3 518.8h.8v.8h-.8zM473.8 518.1h.8v.8h-.8zM471.9 519.3h.8v.8h-.8zM464.8 517.5h.8v.8h-.8zM467.2 511.9h.8v.8h-.8zM449.8 516.2h.8v.8h-.8zM460.9 522.6h.8v.8h-.8zM460.3 526.4h.8v.8h-.8zM481.1 526.8h.8v.8h-.8zM463.5 521.1h.8v.8h-.8zM464.6 508.4h.8v.8h-.8zM454.4 529.3h.8v.8h-.8zM471.7 519.8h.8v.8h-.8zM455.2 522.5h.8v.8h-.8zM461.3 525.5h.8v.8h-.8zM462.4 525.8h.8v.8h-.8zM472.2 520.1h.8v.8h-.8zM464.6 517.5h.8v.8h-.8zM454.1 522.9h.8v.8h-.8zM474.1 508.4h.8v.8h-.8zM461.3 526h.8v.8h-.8zM461.6 527.2h.8v.8h-.8zM459.2 516.8h.8v.8h-.8zM454.9 521.1h.8v.8h-.8zM471.8 518.5h.8v.8h-.8zM460 523.5h.8v.8h-.8zM460.6 528.4h.8v.8h-.8zM465.8 501.4h.8v.8h-.8zM460.8 515.7h.8v.8h-.8zM467.3 510h.8v.8h-.8zM463.3 518.2h.8v.8h-.8zM462.2 513h.8v.8h-.8zM467.3 534.1h.8v.8h-.8zM466.8 521h.8v.8h-.8zM461.4 519.8h.8v.8h-.8zM457 541h.8v.8h-.8zM462.5 516h.8v.8h-.8zM469.9 513.1h.8v.8h-.8zM461.1 523.4h.8v.8h-.8zM458.5 531.9h.8v.8h-.8zM467.8 521.1h.8v.8h-.8zM460.8 507.7h.8v.8h-.8zM462.1 520.5h.8v.8h-.8zM462.7 519.1h.8v.8h-.8zM470.8 519.7h.8v.8h-.8zM464.4 529.3h.8v.8h-.8zM464.8 536.9h.8v.8h-.8zM468.1 512.7h.8v.8h-.8zM468.9 529.7h.8v.8h-.8zM452.2 520.9h.8v.8h-.8zM464.7 526.8h.8v.8h-.8zM467.4 527.2h.8v.8h-.8zM466.5 520.7h.8v.8h-.8zM456.5 517.4h.8v.8h-.8zM466.9 518.9h.8v.8h-.8zM476.8 513.7h.8v.8h-.8zM475.6 518.5h.8v.8h-.8zM471.3 534.1h.8v.8h-.8zM467.9 523.7h.8v.8h-.8zM469.3 536.4h.8v.8h-.8zM463.8 512.7h.8v.8h-.8zM461.1 528.2h.8v.8h-.8zM463.1 518h.8v.8h-.8zM461.6 519.8h.8v.8h-.8zM451.5 525.5h.8v.8h-.8zM463.3 520.1h.8v.8h-.8zM466.5 531.8h.8v.8h-.8zM457.2 524.1h.8v.8h-.8zM462.4 530.1h.8v.8h-.8zM464.6 515.1h.8v.8h-.8zM456.5 514.6h.8v.8h-.8zM461.8 512.8h.8v.8h-.8zM467.4 522.3h.8v.8h-.8zM467.5 533.5h.8v.8h-.8zM476.1 514h.8v.8h-.8zM461.8 527.2h.8v.8h-.8zM463.8 508.4h.8v.8h-.8zM464.8 526.9h.8v.8h-.8zM467 525.1h.8v.8h-.8zM453.7 508.4h.8v.8h-.8zM463 513.5h.8v.8h-.8zM460.9 531.1h.8v.8h-.8zM469.1 517.1h.8v.8h-.8zM464.1 534.8h.8v.8h-.8zM462 517.5h.8v.8h-.8zM459.1 520.1h.8v.8h-.8zM453.1 528.4h.8v.8h-.8zM463.5 532.6h.8v.8h-.8zM460.4 522.7h.8v.8h-.8zM463.3 518.9h.8v.8h-.8zM474.1 525.9h.8v.8h-.8zM460 528.2h.8v.8h-.8zM457.4 519.3h.8v.8h-.8zM466.6 527.7h.8v.8h-.8zM464 510.3h.8v.8h-.8zM470.9 517.4h.8v.8h-.8zM457.2 526.4h.8v.8h-.8zM460.9 527h.8v.8h-.8zM451 529.1h.8v.8h-.8zM460.3 524.2h.8v.8h-.8zM461.6 519.1h.8v.8h-.8zM460.5 518.3h.8v.8h-.8zM467.9 517h.8v.8h-.8zM458.9 512.3h.8v.8h-.8zM458.3 519.5h.8v.8h-.8zM471.5 524h.8v.8h-.8zM468.5 522.2h.8v.8h-.8zM464.6 508.5h.8v.8h-.8zM469 514.1h.8v.8h-.8zM461.4 526.8h.8v.8h-.8zM460.4 525.2h.8v.8h-.8zM465.5 523.8h.8v.8h-.8zM480.4 518.1h.8v.8h-.8zM457.2 519.6h.8v.8h-.8zM470.9 508.9h.8v.8h-.8zM461.8 513.7h.8v.8h-.8zM458.6 518.4h.8v.8h-.8zM456.9 521h.8v.8h-.8zM462.7 520.4h.8v.8h-.8zM465.8 526.2h.8v.8h-.8zM464.8 508.6h.8v.8h-.8zM466.8 522.9h.8v.8h-.8zM469.5 538h.8v.8h-.8zM459.3 525.3h.8v.8h-.8zM455.2 524.8h.8v.8h-.8zM465.1 527.3h.8v.8h-.8zM464.8 522.1h.8v.8h-.8zM463 516.8h.8v.8h-.8zM462.4 515.8h.8v.8h-.8zM457.2 504.9h.8v.8h-.8zM467.7 528.9h.8v.8h-.8zM458 516.3h.8v.8h-.8zM456.6 528.2h.8v.8h-.8zM477.3 522.9h.8v.8h-.8zM462.7 527.4h.8v.8h-.8zM461 533.9h.8v.8h-.8zM468.8 530.1h.8v.8h-.8zM464.4 534.2h.8v.8h-.8zM462.4 526.8h.8v.8h-.8zM462.9 515.4h.8v.8h-.8zM453.5 517.5h.8v.8h-.8zM460.1 510.5h.8v.8h-.8zM457.4 516h.8v.8h-.8zM459.2 529.4h.8v.8h-.8zM479.7 525h.8v.8h-.8zM467.6 528.8h.8v.8h-.8zM476.8 529h.8v.8h-.8zM468.7 523.1h.8v.8h-.8zM464 537.2h.8v.8h-.8zM461.4 523.2h.8v.8h-.8zM472.6 519.2h.8v.8h-.8zM453.3 527.8h.8v.8h-.8zM460.5 516.2h.8v.8h-.8zM466.4 521.9h.8v.8h-.8zM449.4 537.9h.8v.8h-.8zM466.4 528.4h.8v.8h-.8zM457.8 517.6h.8v.8h-.8zM468 525.6h.8v.8h-.8zM458.9 528.9h.8v.8h-.8zM468.7 530.2h.8v.8h-.8zM456.6 517.7h.8v.8h-.8zM470.8 512.9h.8v.8h-.8zM470.1 509.6h.8v.8h-.8zM466.8 526.1h.8v.8h-.8zM466.6 524.8h.8v.8h-.8zM450.3 523.4h.8v.8h-.8zM450.8 512.4h.8v.8h-.8zM469.9 515.5h.8v.8h-.8zM454.8 529.4h.8v.8h-.8zM460.3 515.7h.8v.8h-.8zM464.2 512.9h.8v.8h-.8zM462.2 520h.8v.8h-.8zM460 525.1h.8v.8h-.8zM469.3 501h.8v.8h-.8zM454.7 528.7h.8v.8h-.8zM459.2 511.2h.8v.8h-.8zM460.4 521.4h.8v.8h-.8zM469.5 525.7h.8v.8h-.8zM460.6 519.2h.8v.8h-.8zM455.4 527.5h.8v.8h-.8zM473.5 534.1h.8v.8h-.8zM457 516.3h.8v.8h-.8zM457.7 532.1h.8v.8h-.8zM460.2 536.6h.8v.8h-.8zM460.3 531.1h.8v.8h-.8zM465.2 521.9h.8v.8h-.8zM454 517.6h.8v.8h-.8zM469.3 516.9h.8v.8h-.8zM467 524.1h.8v.8h-.8zM470.7 521.9h.8v.8h-.8zM464.3 518.1h.8v.8h-.8zM465.4 530.8h.8v.8h-.8zM458.8 516h.8v.8h-.8zM470 537.6h.8v.8h-.8zM469.7 530.5h.8v.8h-.8zM455.7 509.3h.8v.8h-.8zM466.6 510.2h.8v.8h-.8zM479.5 528.9h.8v.8h-.8zM476.3 526.2h.8v.8h-.8zM490 527.6h.8v.8h-.8zM477.3 525.1h.8v.8h-.8zM484.5 527.9h.8v.8h-.8zM487.2 530.5h.8v.8h-.8zM476 517.7h.8v.8h-.8zM484 527.6h.8v.8h-.8zM486.3 521.9h.8v.8h-.8zM482.8 526.4h.8v.8h-.8zM477.8 531.2h.8v.8h-.8zM480.9 533h.8v.8h-.8zM487.9 531.2h.8v.8h-.8zM474.2 526.1h.8v.8h-.8zM487.9 521.8h.8v.8h-.8zM476.9 527.9h.8v.8h-.8zM481.7 531.5h.8v.8h-.8zM479.9 528.4h.8v.8h-.8zM484.4 524.3h.8v.8h-.8zM472.3 528h.8v.8h-.8zM485.5 532.6h.8v.8h-.8zM481.6 526.1h.8v.8h-.8zM485.7 525.2h.8v.8h-.8zM487 516.5h.8v.8h-.8zM486.5 528.4h.8v.8h-.8zM481.4 521.2h.8v.8h-.8zM477.7 528h.8v.8h-.8zM475.4 536.2h.8v.8h-.8zM476.5 528.1h.8v.8h-.8zM477.9 527.9h.8v.8h-.8zM485 529h.8v.8h-.8zM484.9 534.2h.8v.8h-.8zM479.6 518.6h.8v.8h-.8zM479.7 523.7h.8v.8h-.8zM479.7 521.3h.8v.8h-.8zM481.3 525.7h.8v.8h-.8zM482.6 536h.8v.8h-.8zM477.9 522.1h.8v.8h-.8zM474.9 531.8h.8v.8h-.8zM481.8 524.4h.8v.8h-.8zM482.6 524.9h.8v.8h-.8zM484 520h.8v.8h-.8zM465.8 520.4h.8v.8h-.8zM482.9 529.8h.8v.8h-.8zM481 523.9h.8v.8h-.8zM484.9 526.5h.8v.8h-.8zM480.1 524.7h.8v.8h-.8zM485.4 522.7h.8v.8h-.8zM480.3 527.3h.8v.8h-.8zM487.9 528.8h.8v.8h-.8zM477.9 521.6h.8v.8h-.8zM482.2 521.7h.8v.8h-.8zM482.7 529.2h.8v.8h-.8zM478.3 522.2h.8v.8h-.8zM479.6 529.4h.8v.8h-.8zM483 530.8h.8v.8h-.8zM486.8 525.9h.8v.8h-.8zM484.5 525.8h.8v.8h-.8zM485.3 528.9h.8v.8h-.8zM489.6 526.4h.8v.8h-.8zM486.6 518.7h.8v.8h-.8zM480.8 528.1h.8v.8h-.8zM484.8 524.1h.8v.8h-.8zM478.8 529.8h.8v.8h-.8zM499.6 520.8h.8v.8h-.8zM479.3 528.9h.8v.8h-.8zM484.9 528.9h.8v.8h-.8zM479.2 530.4h.8v.8h-.8zM477.7 536.2h.8v.8h-.8zM488.8 529h.8v.8h-.8zM480.5 525h.8v.8h-.8zM475 524h.8v.8h-.8zM488.6 521h.8v.8h-.8zM486.9 529.5h.8v.8h-.8zM483.9 530.2h.8v.8h-.8zM484.6 527.6h.8v.8h-.8zM479.9 517.9h.8v.8h-.8zM481.3 530.5h.8v.8h-.8zM477.4 519.4h.8v.8h-.8zM484 526.5h.8v.8h-.8zM491.6 523.6h.8v.8h-.8zM485.4 523.7h.8v.8h-.8zM478.9 531.2h.8v.8h-.8zM484.7 529.6h.8v.8h-.8zM482.7 522.4h.8v.8h-.8zM488.5 526h.8v.8h-.8zM477.9 530.5h.8v.8h-.8zM485 526h.8v.8h-.8zM485 522.1h.8v.8h-.8zM476.5 532h.8v.8h-.8zM483.2 526.3h.8v.8h-.8zM481.8 519.5h.8v.8h-.8zM476.3 519.1h.8v.8h-.8zM484.3 530.3h.8v.8h-.8zM484.7 512.2h.8v.8h-.8zM482.7 524.2h.8v.8h-.8zM484 517.8h.8v.8h-.8zM478.3 530h.8v.8h-.8zM478.5 522.8h.8v.8h-.8zM487.9 531.5h.8v.8h-.8zM485.9 530.1h.8v.8h-.8zM481.8 527.6h.8v.8h-.8zM479.9 527.4h.8v.8h-.8zM482.4 529.9h.8v.8h-.8zM475 529.2h.8v.8h-.8zM481.3 524.4h.8v.8h-.8zM485 523h.8v.8h-.8zM476.3 525.5h.8v.8h-.8zM483.4 523.1h.8v.8h-.8zM485 531h.8v.8h-.8zM477.8 530.1h.8v.8h-.8zM479.3 523.6h.8v.8h-.8zM479.8 527.2h.8v.8h-.8zM482.8 520.5h.8v.8h-.8zM483.3 520.2h.8v.8h-.8zM482.4 527.1h.8v.8h-.8zM483 524.9h.8v.8h-.8zM474.7 536.4h.8v.8h-.8zM484.3 529.3h.8v.8h-.8zM480 517.7h.8v.8h-.8zM449.4 536.5h.8v.8h-.8zM486.6 536.7h.8v.8h-.8zM451.3 536.6h.8v.8h-.8zM497.3 536.5h.8v.8h-.8zM467.5 536.4h.8v.8h-.8zM443.5 537.2h.8v.8h-.8zM440.4 536.1h.8v.8h-.8zM447.2 536.3h.8v.8h-.8zM457.1 536.5h.8v.8h-.8zM495.7 536.8h.8v.8h-.8zM487.7 536.2h.8v.8h-.8zM466.4 536.2h.8v.8h-.8zM443.2 536.6h.8v.8h-.8zM497.7 535.8h.8v.8h-.8zM447.9 536.7h.8v.8h-.8zM452.3 535.3h.8v.8h-.8zM444.5 536.1h.8v.8h-.8zM483.7 535.5h.8v.8h-.8zM492.5 536h.8v.8h-.8zM471.6 536.2h.8v.8h-.8zM458.2 536.1h.8v.8h-.8zM440.2 536.2h.8v.8h-.8zM477.7 535.8h.8v.8h-.8zM482.7 535.5h.8v.8h-.8zM491 535.7h.8v.8h-.8zM450.1 536.7h.8v.8h-.8zM484.2 535.7h.8v.8h-.8zM442.3 536h.8v.8h-.8zM481.1 536.6h.8v.8h-.8zM493.1 536h.8v.8h-.8zM449.6 536.4h.8v.8h-.8zM457.4 536.5h.8v.8h-.8zM497.3 536.5h.8v.8h-.8zM445.2 536.4h.8v.8h-.8zM441.2 536.1h.8v.8h-.8zM457.9 537.1h.8v.8h-.8zM465.8 535.2h.8v.8h-.8zM467.2 536.2h.8v.8h-.8zM489.9 536.7h.8v.8h-.8zM447.2 536h.8v.8h-.8zM486.7 536.1h.8v.8h-.8zM470.7 536.6h.8v.8h-.8zM455.2 535.7h.8v.8h-.8zM449.9 536h.8v.8h-.8zM455.5 535.9h.8v.8h-.8zM491.3 536.6h.8v.8h-.8zM464.9 536h.8v.8h-.8zM451 536.5h.8v.8h-.8zM444.8 536h.8v.8h-.8zM459.1 536.3h.8v.8h-.8zM457.2 536.2h.8v.8h-.8zM474.3 536.5h.8v.8h-.8zM456.6 536.3h.8v.8h-.8zM474.6 536h.8v.8h-.8zM481 536.4h.8v.8h-.8zM454.2 536.6h.8v.8h-.8zM485.7 536.7h.8v.8h-.8zM490.6 535.9h.8v.8h-.8zM460.6 536.5h.8v.8h-.8zM463.9 536.3h.8v.8h-.8zM452.8 535.6h.8v.8h-.8zM441.9 536.7h.8v.8h-.8zM478.9 535.2h.8v.8h-.8zM471.1 536.2h.8v.8h-.8zM447.2 535.5h.8v.8h-.8zM477.7 536.6h.8v.8h-.8zM460.5 536.3h.8v.8h-.8zM477.9 536.1h.8v.8h-.8zM498 536.6h.8v.8h-.8zM457.6 535.8h.8v.8h-.8zM451.8 535.5h.8v.8h-.8zM462.8 536.1h.8v.8h-.8zM475.6 536h.8v.8h-.8zM453.3 536.1h.8v.8h-.8zM494 536.5h.8v.8h-.8zM460.8 536.7h.8v.8h-.8zM483.4 536.2h.8v.8h-.8zM464.8 537h.8v.8h-.8zM451.6 536.1h.8v.8h-.8zM463.6 536.5h.8v.8h-.8zM489.2 535.2h.8v.8h-.8zM475.9 537.5h.8v.8h-.8zM452.5 536.1h.8v.8h-.8zM459.5 536.8h.8v.8h-.8zM486.2 535.9h.8v.8h-.8zM490.7 536.7h.8v.8h-.8zM493.1 535.5h.8v.8h-.8zM474.4 537.3h.8v.8h-.8zM444.7 535.7h.8v.8h-.8zM448.1 535.6h.8v.8h-.8zM448.6 536.6h.8v.8h-.8zM470.9 536.7h.8v.8h-.8zM473 536.3h.8v.8h-.8zM458.8 536h.8v.8h-.8zM459.3 536h.8v.8h-.8zM491.1 536.6h.8v.8h-.8zM493.7 535.6h.8v.8h-.8zM484.1 536.1h.8v.8h-.8zM460 536.1h.8v.8h-.8zM447.6 535.8h.8v.8h-.8zM491.6 536.5h.8v.8h-.8zM478.4 535.7h.8v.8h-.8zM449 536.3h.8v.8h-.8zM458.5 536.3h.8v.8h-.8zM452.7 536.2h.8v.8h-.8zM495.5 536.5h.8v.8h-.8zM489.4 535.8h.8v.8h-.8zM476.4 536.6h.8v.8h-.8zM441.8 536.5h.8v.8h-.8zM491.9 537.4h.8v.8h-.8zM449.6 537h.8v.8h-.8zM475.9 535.7h.8v.8h-.8zM440.6 536.9h.8v.8h-.8zM496.2 536.6h.8v.8h-.8zM495.2 536.4h.8v.8h-.8zM442.2 536.4h.8v.8h-.8zM476.4 535.7h.8v.8h-.8zM493.6 536h.8v.8h-.8zM488.1 536.1h.8v.8h-.8zM463 537h.8v.8h-.8zM498 536h.8v.8h-.8zM465.6 536.7h.8v.8h-.8zM497.5 536.5h.8v.8h-.8zM477.7 537.4h.8v.8h-.8zM452.4 536.1h.8v.8h-.8zM461 536.5h.8v.8h-.8zM477.9 536.2h.8v.8h-.8zM459.9 536.8h.8v.8h-.8zM463.5 536.4h.8v.8h-.8zM444.5 536.2h.8v.8h-.8zM484.2 536.5h.8v.8h-.8zM475.5 536.1h.8v.8h-.8zM489.9 535.5h.8v.8h-.8zM456.9 535.6h.8v.8h-.8zM490.8 535.9h.8v.8h-.8zM457.4 535.5h.8v.8h-.8zM494.1 536.1h.8v.8h-.8zM484.9 536.3h.8v.8h-.8zM492.3 536h.8v.8h-.8zM497.1 536.2h.8v.8h-.8zM479.4 537.8h.8v.8h-.8zM472 535.9h.8v.8h-.8zM445.4 537.2h.8v.8h-.8zM450.2 536.4h.8v.8h-.8zM483 536.2h.8v.8h-.8zM495.9 536h.8v.8h-.8zM464.6 536.4h.8v.8h-.8zM480.9 536.7h.8v.8h-.8zM444 536.5h.8v.8h-.8zM461.4 536.1h.8v.8h-.8zM465.7 536.4h.8v.8h-.8zM458.1 536.1h.8v.8h-.8zM454.3 536.7h.8v.8h-.8zM456.9 537.1h.8v.8h-.8zM454.3 536.6h.8v.8h-.8zM457.7 536.8h.8v.8h-.8zM467.1 536.4h.8v.8h-.8zM464.7 536.4h.8v.8h-.8zM461.2 536.2h.8v.8h-.8zM469.2 536.8h.8v.8h-.8zM455 536.3h.8v.8h-.8zM456.2 536.3h.8v.8h-.8zM473 536.7h.8v.8h-.8zM454.5 536.3h.8v.8h-.8zM453.1 536.6h.8v.8h-.8zM454.3 536.4h.8v.8h-.8zM458.7 536.7h.8v.8h-.8zM460.5 536.7h.8v.8h-.8zM472.5 536.7h.8v.8h-.8zM460 536.6h.8v.8h-.8zM471.8 536.3h.8v.8h-.8zM464.7 536h.8v.8h-.8zM454.6 537h.8v.8h-.8zM461.4 537.3h.8v.8h-.8zM463.6 536.4h.8v.8h-.8zM470.8 536.8h.8v.8h-.8zM454 537h.8v.8h-.8zM470.6 535.9h.8v.8h-.8zM465 536.7h.8v.8h-.8zM459.5 536.4h.8v.8h-.8zM466.1 536.4h.8v.8h-.8zM454.4 536.3h.8v.8h-.8zM473.6 537.2h.8v.8h-.8zM461.7 537.4h.8v.8h-.8zM468.3 536.5h.8v.8h-.8zM469.2 536.6h.8v.8h-.8zM458 536.4h.8v.8h-.8zM454.5 536.3h.8v.8h-.8zM464.7 536.9h.8v.8h-.8zM460.7 536.4h.8v.8h-.8zM457 536.9h.8v.8h-.8zM455.5 536.9h.8v.8h-.8zM454.3 536.3h.8v.8h-.8zM453.8 536.8h.8v.8h-.8zM467.3 535.4h.8v.8h-.8zM469.2 536.2h.8v.8h-.8zM466.2 536.6h.8v.8h-.8zM469.3 536h.8v.8h-.8zM461.1 535.9h.8v.8h-.8zM471.4 535.7h.8v.8h-.8zM467.7 537.3h.8v.8h-.8zM464.6 537.3h.8v.8h-.8zM473.5 536.7h.8v.8h-.8zM458.3 535.9h.8v.8h-.8zM458.1 536.6h.8v.8h-.8zM473.6 536.5h.8v.8h-.8zM471.4 536h.8v.8h-.8zM466.6 536.3h.8v.8h-.8zM458 536.4h.8v.8h-.8zM465.4 537.1h.8v.8h-.8zM460.6 536.7h.8v.8h-.8zM456.5 536.7h.8v.8h-.8zM473.9 537.3h.8v.8h-.8zM453.8 536.6h.8v.8h-.8zM464 536.7h.8v.8h-.8zM467.1 536.3h.8v.8h-.8zM456.7 536.7h.8v.8h-.8zM470.6 536.2h.8v.8h-.8zM462.1 536.7h.8v.8h-.8zM472.2 536.9h.8v.8h-.8zM454.1 536h.8v.8h-.8zM469.6 536.5h.8v.8h-.8zM454 536.5h.8v.8h-.8zM469.9 536.7h.8v.8h-.8zM456.9 537.1h.8v.8h-.8zM459 536.4h.8v.8h-.8zM455.6 536.6h.8v.8h-.8zM454.7 536.7h.8v.8h-.8zM460.1 536.7h.8v.8h-.8zM453.6 536.3h.8v.8h-.8zM462.6 536h.8v.8h-.8zM468.9 536.6h.8v.8h-.8zM470.7 536.3h.8v.8h-.8zM467.5 536.8h.8v.8h-.8zM463.8 536.3h.8v.8h-.8zM456 536.6h.8v.8h-.8zM471.1 536.3h.8v.8h-.8zM461.7 536.8h.8v.8h-.8zM467.8 536.5h.8v.8h-.8zM469.4 536h.8v.8h-.8zM464.8 536.7h.8v.8h-.8zM469.6 536.5h.8v.8h-.8zM462.9 536.2h.8v.8h-.8zM464.9 536.9h.8v.8h-.8zM456.8 535.7h.8v.8h-.8zM471.3 536.8h.8v.8h-.8zM470.7 536.4h.8v.8h-.8zM462.1 536.5h.8v.8h-.8zM470.6 536.1h.8v.8h-.8zM462 536.3h.8v.8h-.8zM462.9 536.1h.8v.8h-.8zM468.7 535.9h.8v.8h-.8zM459.4 536.7h.8v.8h-.8zM459.8 536.4h.8v.8h-.8zM472.2 536.5h.8v.8h-.8zM470.9 536.9h.8v.8h-.8zM466.8 536.5h.8v.8h-.8zM457.8 536.6h.8v.8h-.8zM454.3 536.4h.8v.8h-.8zM454.2 537h.8v.8h-.8zM463.1 536.3h.8v.8h-.8zM470.9 536.5h.8v.8h-.8zM465.3 536.9h.8v.8h-.8zM458.3 536h.8v.8h-.8zM459.8 536.2h.8v.8h-.8zM470.9 536h.8v.8h-.8zM454.6 536.5h.8v.8h-.8zM464.3 537h.8v.8h-.8zM471.1 536.2h.8v.8h-.8zM462.3 536.5h.8v.8h-.8zM459.1 536.6h.8v.8h-.8zM473.3 536.6h.8v.8h-.8zM471.3 536.8h.8v.8h-.8zM468.1 536.8h.8v.8h-.8zM457.8 536.6h.8v.8h-.8zM480.4 525.1h.8v.8h-.8zM452.5 506.1h.8v.8h-.8zM453.7 523.6h.8v.8h-.8zM440.6 512.1h.8v.8h-.8zM470.1 532.5h.8v.8h-.8zM476.2 527.7h.8v.8h-.8zM490.1 534.4h.8v.8h-.8zM490.2 518.8h.8v.8h-.8zM470.9 501.4h.8v.8h-.8zM475.2 533.9h.8v.8h-.8zM442.4 500.4h.8v.8h-.8zM455.1 515.2h.8v.8h-.8zM444.7 540.1h.8v.8h-.8zM484 526.3h.8v.8h-.8zM452.2 519h.8v.8h-.8zM473.2 528.7h.8v.8h-.8zM483 513.4h.8v.8h-.8zM496.8 513.7h.8v.8h-.8zM495.8 495.4h.8v.8h-.8zM487.5 536.7h.8v.8h-.8z" fill="#000" fill-opacity="0.7"/>
<ellipse cx="434.55" cy="537.65" rx="1.05" ry="1.65" fill="#111"/>
<rect x="452.6" y="496.2" width="17.8" height="38" fill="none" stroke="#505050" stroke-width="0.9"/>
<rect x="452.6" y="534.2" width="19.8" height="10.2" fill="none" stroke="#505050" stroke-width="0.9"/>
<rect x="470.4" y="496.2" width="6" height="38" fill="none" stroke="#505050" stroke-width="0.9"/>
<rect x="476.4" y="496.2" width="15.3" height="26.6" fill="none" stroke="#505050" stroke-width="0.9"/>
<rect x="476.4" y="523.2" width="15.3" height="11" fill="none" stroke="#505050" stroke-width="0.9"/>
<text x="439.6" y="494.6" font-size="4.9" fill="#444" stroke="none" text-anchor="middle">S1</text>
<text x="468.4" y="487.2" font-size="4.9" fill="#444" stroke="none" text-anchor="middle">S2</text>
<text x="497.3" y="494.4" font-size="4.9" fill="#444" stroke="none" text-anchor="middle">S3</text>
<text x="508.2" y="526.6" font-size="4.9" fill="#444" stroke="none" text-anchor="middle">S4</text>
<text x="439.9" y="552" font-size="4.9" fill="#444" stroke="none" text-anchor="middle">S0</text>
<path d="M433.8 486.9h2.2M433.8 504.8h2.2M433.8 525.1h2.2M433.8 537.5h2.2M433.8 550.1h2.2M434.9 499.41h1.1M434.9 496.26h1.1M434.9 494.02h1.1M434.9 492.29h1.1M434.9 490.87h1.1M434.9 489.67h1.1M434.9 488.63h1.1M434.9 487.72h1.1M434.9 518.99h1.1M434.9 515.41h1.1M434.9 512.88h1.1M434.9 510.91h1.1M434.9 509.3h1.1M434.9 507.94h1.1M434.9 506.77h1.1M434.9 505.73h1.1M434.9 529.8h1.1M434.9 532.3h1.1M434.9 534.8h1.1M434.9 540.1h1.1M434.9 542.6h1.1M434.9 545.1h1.1M434.9 547.6h1.1M434.9 552.8h1.1M434.9 554.8h1.1M443.9 555.2v2.2M461 555.2v2.2M478.7 555.2v2.2M496.2 555.2v2.2M449.05 555.2v1.1M452.06 555.2v1.1M454.2 555.2v1.1M455.85 555.2v1.1M457.21 555.2v1.1M458.35 555.2v1.1M459.34 555.2v1.1M460.22 555.2v1.1M466.15 555.2v1.1M469.16 555.2v1.1M471.3 555.2v1.1M472.95 555.2v1.1M474.31 555.2v1.1M475.45 555.2v1.1M476.44 555.2v1.1M477.32 555.2v1.1M483.85 555.2v1.1M486.86 555.2v1.1M489 555.2v1.1M490.65 555.2v1.1M492.01 555.2v1.1M493.15 555.2v1.1M494.14 555.2v1.1M495.02 555.2v1.1M501.35 555.2v1.1M504.36 555.2v1.1M506.5 555.2v1.1M508.15 555.2v1.1M509.51 555.2v1.1M510.65 555.2v1.1M437.1 555.2v1.1M438.75 555.2v1.1M440.11 555.2v1.1M441.25 555.2v1.1M442.24 555.2v1.1M443.12 555.2v1.1" stroke="#333" stroke-width="0.8" fill="none"/>
<text x="430.7" y="491.1" font-size="8.2" text-anchor="end" fill="#1a1a1a">10<tspan font-size="6.6" dy="-2.6">5</tspan></text>
<text x="430.7" y="509" font-size="8.2" text-anchor="end" fill="#1a1a1a">10<tspan font-size="6.6" dy="-2.6">4</tspan></text>
<text x="430.7" y="529.3" font-size="8.2" text-anchor="end" fill="#1a1a1a">10<tspan font-size="6.6" dy="-2.6">3</tspan></text>
<text x="430.7" y="541.7" font-size="8.2" text-anchor="end" fill="#1a1a1a">0</text>
<text x="430.7" y="554.3" font-size="8.2" text-anchor="end" fill="#1a1a1a">-10<tspan font-size="6.6" dy="-2.6">3</tspan></text>
<text x="445.1" y="567.6" font-size="8.2" text-anchor="middle" fill="#1a1a1a">10<tspan font-size="5.8" dy="-2.8">1</tspan></text>
<text x="462.2" y="567.6" font-size="8.2" text-anchor="middle" fill="#1a1a1a">10<tspan font-size="5.8" dy="-2.8">2</tspan></text>
<text x="479.9" y="567.6" font-size="8.2" text-anchor="middle" fill="#1a1a1a">10<tspan font-size="5.8" dy="-2.8">3</tspan></text>
<text x="497.4" y="567.6" font-size="8.2" text-anchor="middle" fill="#1a1a1a">10<tspan font-size="5.8" dy="-2.8">4</tspan></text>
<text x="473" y="473.4" font-size="10" text-anchor="middle" fill="#1a1a1a" stroke="none" textLength="38.6" lengthAdjust="spacingAndGlyphs">LV: <tspan font-style="italic">BCL2</tspan></text>
<text x="411" y="518.7" font-size="10" text-anchor="middle" fill="#333" stroke="none" transform="rotate(-90 411 518.7)" textLength="33.1" lengthAdjust="spacingAndGlyphs">Untreated</text>
<rect x="436" y="577.8" width="75.6" height="75.4" fill="#fff" stroke="#a8a8a8" stroke-width="1"/>
<ellipse cx="476" cy="607.8" rx="12.5" ry="9" fill="url(#rg)" opacity="0.95"/>
<ellipse cx="466" cy="604.8" rx="7" ry="5.5" fill="url(#rg)" opacity="0.75"/>
<ellipse cx="463" cy="619.8" rx="8" ry="11" fill="url(#rg)" opacity="0.55"/>
<ellipse cx="483" cy="625.8" rx="6" ry="5" fill="url(#rg)" opacity="0.15"/>
<path d="M473.6 609.1h.8v.8h-.8zM465.1 600.4h.8v.8h-.8zM474.9 602.8h.8v.8h-.8zM468.2 597.4h.8v.8h-.8zM460.9 607.1h.8v.8h-.8zM488.3 602.3h.8v.8h-.8zM490.7 605h.8v.8h-.8zM466.8 611.4h.8v.8h-.8zM480.2 611.1h.8v.8h-.8zM476.4 608.2h.8v.8h-.8zM483.6 605.5h.8v.8h-.8zM478.6 604.6h.8v.8h-.8zM488.3 613.6h.8v.8h-.8zM489.1 616.4h.8v.8h-.8zM484.8 608.8h.8v.8h-.8zM484.3 606.2h.8v.8h-.8zM466 600.6h.8v.8h-.8zM483.4 609.5h.8v.8h-.8zM474.7 606.5h.8v.8h-.8zM482.7 613h.8v.8h-.8zM475.9 602.8h.8v.8h-.8zM470.7 612h.8v.8h-.8zM482.6 612.7h.8v.8h-.8zM475.1 602.3h.8v.8h-.8zM468.8 604.5h.8v.8h-.8zM471.9 603h.8v.8h-.8zM478.5 601.6h.8v.8h-.8zM473.6 606.1h.8v.8h-.8zM475 611.6h.8v.8h-.8zM464.5 606.5h.8v.8h-.8zM474.8 608h.8v.8h-.8zM481.6 605.5h.8v.8h-.8zM482.3 607.5h.8v.8h-.8zM473.4 609h.8v.8h-.8zM463.8 602.4h.8v.8h-.8zM484.5 597.5h.8v.8h-.8zM467.2 609.3h.8v.8h-.8zM460.8 601.1h.8v.8h-.8zM474 602h.8v.8h-.8zM477.3 613.3h.8v.8h-.8zM489.5 610.8h.8v.8h-.8zM463.5 610.4h.8v.8h-.8zM466.7 605.8h.8v.8h-.8zM480.9 604h.8v.8h-.8zM486 611.9h.8v.8h-.8zM480.5 603.7h.8v.8h-.8zM479.3 596.5h.8v.8h-.8zM496.8 601.4h.8v.8h-.8zM457.5 609.1h.8v.8h-.8zM487.9 598.6h.8v.8h-.8zM489.6 611.7h.8v.8h-.8zM470.8 596.7h.8v.8h-.8zM473.9 611.9h.8v.8h-.8zM476.5 615.7h.8v.8h-.8zM472.6 610h.8v.8h-.8zM473.7 613.1h.8v.8h-.8zM475.6 604.1h.8v.8h-.8zM476.2 607.4h.8v.8h-.8zM479.3 596h.8v.8h-.8zM476.6 610.3h.8v.8h-.8zM472.8 607.5h.8v.8h-.8zM467.1 604.2h.8v.8h-.8zM472.6 605.5h.8v.8h-.8zM489.9 613h.8v.8h-.8zM471.4 609.6h.8v.8h-.8zM469 609.9h.8v.8h-.8zM472.2 603.9h.8v.8h-.8zM476.9 609.7h.8v.8h-.8zM472.9 603.7h.8v.8h-.8zM471.5 607.6h.8v.8h-.8zM479.3 599.7h.8v.8h-.8zM482 611.4h.8v.8h-.8zM481.5 606.5h.8v.8h-.8zM475.6 607.8h.8v.8h-.8zM463.9 609.8h.8v.8h-.8zM481.4 597.8h.8v.8h-.8zM473.2 605.3h.8v.8h-.8zM470.3 609.1h.8v.8h-.8zM466.3 608.6h.8v.8h-.8zM488.3 607.5h.8v.8h-.8zM474.6 609.8h.8v.8h-.8zM472.3 609.7h.8v.8h-.8zM486.7 610.2h.8v.8h-.8zM468.9 611.6h.8v.8h-.8zM469.8 601.5h.8v.8h-.8zM478 605h.8v.8h-.8zM481.3 612.4h.8v.8h-.8zM475.4 608h.8v.8h-.8zM480.5 614.1h.8v.8h-.8zM471.6 615.8h.8v.8h-.8zM476.5 613.1h.8v.8h-.8zM463.5 608.3h.8v.8h-.8zM467.5 615.6h.8v.8h-.8zM467.3 607.2h.8v.8h-.8zM476.1 608.9h.8v.8h-.8zM472.7 621.6h.8v.8h-.8zM480.7 609.6h.8v.8h-.8zM478.2 615.8h.8v.8h-.8zM454.9 607.1h.8v.8h-.8zM469.6 609.7h.8v.8h-.8zM478.8 602.8h.8v.8h-.8zM467.3 609.4h.8v.8h-.8zM472.1 609.1h.8v.8h-.8zM478.2 603.2h.8v.8h-.8zM470.5 598.6h.8v.8h-.8zM476.3 613.4h.8v.8h-.8zM475.6 613h.8v.8h-.8zM483.4 597.9h.8v.8h-.8zM485.9 616.4h.8v.8h-.8zM475.5 605.9h.8v.8h-.8zM479.1 608.3h.8v.8h-.8zM475.3 612.6h.8v.8h-.8zM470.8 603.9h.8v.8h-.8zM478.5 611.6h.8v.8h-.8zM473 600.9h.8v.8h-.8zM474.4 607.7h.8v.8h-.8zM484.5 598.2h.8v.8h-.8zM490.9 606.9h.8v.8h-.8zM478 604.3h.8v.8h-.8zM482 612h.8v.8h-.8zM473.6 610.4h.8v.8h-.8zM474.5 606.3h.8v.8h-.8zM464.1 599.3h.8v.8h-.8zM466 598.5h.8v.8h-.8zM470.1 616.4h.8v.8h-.8zM466.6 610.6h.8v.8h-.8zM466.2 611.8h.8v.8h-.8zM481.5 614.6h.8v.8h-.8zM480 608.3h.8v.8h-.8zM474.6 599.5h.8v.8h-.8zM481.1 613.7h.8v.8h-.8zM470.9 608h.8v.8h-.8zM468.6 598.2h.8v.8h-.8zM467.8 606.3h.8v.8h-.8zM478 599.1h.8v.8h-.8zM475.6 602.5h.8v.8h-.8zM479.3 606.6h.8v.8h-.8zM477.4 614.1h.8v.8h-.8zM479.5 609.8h.8v.8h-.8zM483.9 606.8h.8v.8h-.8zM464.5 609.9h.8v.8h-.8zM483 611.8h.8v.8h-.8zM478.2 602.1h.8v.8h-.8zM487.1 606h.8v.8h-.8zM466.1 610.8h.8v.8h-.8zM474.7 605.2h.8v.8h-.8zM476.7 610.3h.8v.8h-.8zM462.6 605.6h.8v.8h-.8zM470.4 611.5h.8v.8h-.8zM483.7 617.1h.8v.8h-.8zM471.6 612.4h.8v.8h-.8zM483.8 616.3h.8v.8h-.8zM465.2 608.3h.8v.8h-.8zM475.1 592.9h.8v.8h-.8zM475.6 609.8h.8v.8h-.8zM471.4 608.8h.8v.8h-.8zM482.3 616.2h.8v.8h-.8zM473 601.2h.8v.8h-.8zM469.7 604.2h.8v.8h-.8zM480.7 607h.8v.8h-.8zM473.5 606.5h.8v.8h-.8zM478.9 607.6h.8v.8h-.8zM481.6 614.7h.8v.8h-.8zM470.9 610.8h.8v.8h-.8zM479.3 611h.8v.8h-.8zM462.4 608.6h.8v.8h-.8zM472.3 606.1h.8v.8h-.8zM460.6 601.7h.8v.8h-.8zM468 612.8h.8v.8h-.8zM481.2 615.4h.8v.8h-.8zM490.3 605.1h.8v.8h-.8zM472 607.1h.8v.8h-.8zM487.2 606.4h.8v.8h-.8zM477 601h.8v.8h-.8zM475.7 615.3h.8v.8h-.8zM465.9 614.5h.8v.8h-.8zM480.2 608.6h.8v.8h-.8zM470.8 602.5h.8v.8h-.8zM480.3 603.4h.8v.8h-.8zM471 608.5h.8v.8h-.8zM470.5 612.5h.8v.8h-.8zM479 600.7h.8v.8h-.8zM484.5 607.1h.8v.8h-.8zM481.5 609.4h.8v.8h-.8zM472.8 619.3h.8v.8h-.8zM478.2 616.3h.8v.8h-.8zM474.6 602.3h.8v.8h-.8zM477.3 604.1h.8v.8h-.8zM479.7 601.6h.8v.8h-.8zM468.2 610.1h.8v.8h-.8zM474.2 605.9h.8v.8h-.8zM462.6 617.7h.8v.8h-.8zM456.6 607.1h.8v.8h-.8zM479 601.7h.8v.8h-.8zM481.9 605.8h.8v.8h-.8zM468 613.2h.8v.8h-.8zM469.5 605.9h.8v.8h-.8zM459.6 612.1h.8v.8h-.8zM482 603.3h.8v.8h-.8zM471.5 603.3h.8v.8h-.8zM475.6 609.2h.8v.8h-.8zM477.6 610h.8v.8h-.8zM478.5 615.9h.8v.8h-.8zM479.1 605.4h.8v.8h-.8zM466.1 604.6h.8v.8h-.8zM487 613.6h.8v.8h-.8zM476.8 601.2h.8v.8h-.8zM468 606.4h.8v.8h-.8zM478.3 600.8h.8v.8h-.8zM473.6 609.9h.8v.8h-.8zM476.1 610.1h.8v.8h-.8zM474.5 605.2h.8v.8h-.8zM475.2 599.3h.8v.8h-.8zM459.5 604.5h.8v.8h-.8zM482.1 604.6h.8v.8h-.8zM476.4 611h.8v.8h-.8zM465.6 608.1h.8v.8h-.8zM486.8 599h.8v.8h-.8zM466.7 608.9h.8v.8h-.8zM478.1 603.6h.8v.8h-.8zM468.5 611.3h.8v.8h-.8zM476.5 608.3h.8v.8h-.8zM465.5 604.2h.8v.8h-.8zM483.2 610.8h.8v.8h-.8zM473 603.7h.8v.8h-.8zM475 613.3h.8v.8h-.8zM464.9 605.9h.8v.8h-.8zM469.1 612.4h.8v.8h-.8zM474.5 596.8h.8v.8h-.8zM490.8 618h.8v.8h-.8zM477.8 597.9h.8v.8h-.8zM474.6 602.2h.8v.8h-.8zM491.3 608.1h.8v.8h-.8zM479.9 613.1h.8v.8h-.8zM480.1 609.9h.8v.8h-.8zM468.5 612.5h.8v.8h-.8zM474.8 603.5h.8v.8h-.8zM476.3 609.9h.8v.8h-.8zM474.3 597.7h.8v.8h-.8zM480.9 609.5h.8v.8h-.8zM487.2 602.6h.8v.8h-.8zM462.7 612.7h.8v.8h-.8zM472.7 614.6h.8v.8h-.8zM470.4 607.3h.8v.8h-.8zM488.7 609.7h.8v.8h-.8zM478.6 603.4h.8v.8h-.8zM481.5 605.1h.8v.8h-.8zM472.1 606.6h.8v.8h-.8zM479.9 609.5h.8v.8h-.8zM489.5 607.6h.8v.8h-.8zM468.7 618h.8v.8h-.8zM473.4 608.2h.8v.8h-.8zM482.7 600.3h.8v.8h-.8zM488.5 613.7h.8v.8h-.8zM471.7 602.5h.8v.8h-.8zM476.4 611h.8v.8h-.8zM471.1 612.3h.8v.8h-.8zM478.8 608.6h.8v.8h-.8zM477.5 609.1h.8v.8h-.8zM475.8 608.7h.8v.8h-.8zM474.3 603.3h.8v.8h-.8zM465.3 610.1h.8v.8h-.8zM487.5 608.4h.8v.8h-.8zM467.9 613.1h.8v.8h-.8zM471.2 606.1h.8v.8h-.8zM473.9 610.3h.8v.8h-.8zM481.4 605.7h.8v.8h-.8zM478.2 608.3h.8v.8h-.8zM476.5 598h.8v.8h-.8zM477 612.3h.8v.8h-.8zM465.8 621.6h.8v.8h-.8zM477.9 601.9h.8v.8h-.8zM480.1 609.6h.8v.8h-.8zM480.8 608.4h.8v.8h-.8zM477.7 613h.8v.8h-.8zM483.5 604.7h.8v.8h-.8zM472.9 604.4h.8v.8h-.8zM477.7 611h.8v.8h-.8zM478.9 604h.8v.8h-.8zM472.1 612.7h.8v.8h-.8zM472.5 612.4h.8v.8h-.8zM475.3 607.7h.8v.8h-.8zM471.4 611.6h.8v.8h-.8zM477 596.4h.8v.8h-.8zM469.6 605.8h.8v.8h-.8zM484.9 595.2h.8v.8h-.8zM499.8 607.2h.8v.8h-.8zM474.3 608.1h.8v.8h-.8zM479.8 608.9h.8v.8h-.8zM458.6 604.6h.8v.8h-.8zM466.8 604.9h.8v.8h-.8zM471.8 615h.8v.8h-.8zM467.4 606.5h.8v.8h-.8zM458.7 595.7h.8v.8h-.8zM477 601.7h.8v.8h-.8zM463.1 610.4h.8v.8h-.8zM476 610.8h.8v.8h-.8zM476.6 608.6h.8v.8h-.8zM483.2 609.7h.8v.8h-.8zM469.7 599.1h.8v.8h-.8zM492.7 607.8h.8v.8h-.8zM475.5 605h.8v.8h-.8zM486.1 613.1h.8v.8h-.8zM476.5 609.4h.8v.8h-.8zM475.9 607.3h.8v.8h-.8zM476.4 600.8h.8v.8h-.8zM480.1 606.5h.8v.8h-.8zM484.2 613.1h.8v.8h-.8zM473.2 614.2h.8v.8h-.8zM469.7 612.1h.8v.8h-.8zM482.5 607.3h.8v.8h-.8zM473.1 612.9h.8v.8h-.8zM486.1 605.4h.8v.8h-.8zM467.3 612.6h.8v.8h-.8zM481 606.1h.8v.8h-.8zM471.6 610.2h.8v.8h-.8zM480.8 605.9h.8v.8h-.8zM461.3 606.3h.8v.8h-.8zM476.1 602.2h.8v.8h-.8zM483.1 621.4h.8v.8h-.8zM485.2 603.9h.8v.8h-.8zM487.4 613.6h.8v.8h-.8zM481.1 610.5h.8v.8h-.8zM482.2 611.2h.8v.8h-.8zM459.4 600h.8v.8h-.8zM472 604.3h.8v.8h-.8zM469.4 598.4h.8v.8h-.8zM472.9 615.2h.8v.8h-.8zM481.8 610.5h.8v.8h-.8zM468.7 606.8h.8v.8h-.8zM475.8 606.8h.8v.8h-.8zM474.8 611.5h.8v.8h-.8zM484.1 601.1h.8v.8h-.8zM470.8 612.6h.8v.8h-.8zM476.6 606.8h.8v.8h-.8zM474.8 601.9h.8v.8h-.8zM487.2 610.8h.8v.8h-.8zM466.1 601.2h.8v.8h-.8zM484.7 601h.8v.8h-.8zM472.9 614.7h.8v.8h-.8zM479.4 613.8h.8v.8h-.8zM487.4 609.8h.8v.8h-.8zM480.8 601.8h.8v.8h-.8zM475.2 605.6h.8v.8h-.8zM481.4 605.2h.8v.8h-.8zM466.5 604.7h.8v.8h-.8zM481.6 616.9h.8v.8h-.8zM482.2 612.2h.8v.8h-.8zM482.7 608.2h.8v.8h-.8zM461 615.4h.8v.8h-.8zM480 600.9h.8v.8h-.8zM486.9 610.5h.8v.8h-.8zM479.2 613h.8v.8h-.8zM479.3 616.1h.8v.8h-.8zM468.5 606.3h.8v.8h-.8zM478 606.2h.8v.8h-.8zM479.9 601.5h.8v.8h-.8zM469.9 601.8h.8v.8h-.8zM474.2 601.5h.8v.8h-.8zM478.7 609.2h.8v.8h-.8zM488.6 607.8h.8v.8h-.8zM475.8 614.8h.8v.8h-.8zM475.1 607.4h.8v.8h-.8zM476.7 617.2h.8v.8h-.8zM479.8 610.3h.8v.8h-.8zM478.9 605.8h.8v.8h-.8zM476.2 606.5h.8v.8h-.8zM474.1 600.6h.8v.8h-.8zM481 609.4h.8v.8h-.8zM473.1 606.4h.8v.8h-.8zM469.9 598h.8v.8h-.8zM482.5 608h.8v.8h-.8zM468.7 611.8h.8v.8h-.8zM482 606.8h.8v.8h-.8zM467.2 610.3h.8v.8h-.8zM486.1 612h.8v.8h-.8zM470.9 609.9h.8v.8h-.8zM465.6 607.4h.8v.8h-.8zM478.5 610.5h.8v.8h-.8zM468.3 605.2h.8v.8h-.8zM459.2 605.7h.8v.8h-.8zM483.1 613.4h.8v.8h-.8zM480.3 608.4h.8v.8h-.8zM480.5 609.3h.8v.8h-.8zM473.3 607.4h.8v.8h-.8zM481.5 614.2h.8v.8h-.8zM477.7 610.4h.8v.8h-.8zM474.2 607.4h.8v.8h-.8zM484.8 611.5h.8v.8h-.8zM471.3 607.5h.8v.8h-.8zM465.4 610.6h.8v.8h-.8zM466.7 605.4h.8v.8h-.8zM480.7 609.7h.8v.8h-.8zM465.5 607.4h.8v.8h-.8zM478.4 616h.8v.8h-.8zM479.2 602.6h.8v.8h-.8zM471.9 604.5h.8v.8h-.8zM471 613.9h.8v.8h-.8zM490.2 604.9h.8v.8h-.8zM477.2 605.5h.8v.8h-.8zM477.4 598.5h.8v.8h-.8zM477.5 612h.8v.8h-.8zM468.2 603.6h.8v.8h-.8zM485 606.9h.8v.8h-.8zM480.9 606.9h.8v.8h-.8zM479.9 605.1h.8v.8h-.8zM474.8 605.3h.8v.8h-.8zM476.8 612h.8v.8h-.8zM479.4 616.7h.8v.8h-.8zM477.5 608.7h.8v.8h-.8zM478.4 599.3h.8v.8h-.8zM476.5 612.1h.8v.8h-.8zM474.3 600.3h.8v.8h-.8zM487.2 598.1h.8v.8h-.8zM481.2 605.8h.8v.8h-.8zM468.3 603.8h.8v.8h-.8zM481.6 604.2h.8v.8h-.8zM470.9 605.9h.8v.8h-.8zM468.2 605.2h.8v.8h-.8zM474.1 606.9h.8v.8h-.8zM488.2 605.3h.8v.8h-.8zM485.2 605.4h.8v.8h-.8zM465 606.5h.8v.8h-.8zM476.5 599.5h.8v.8h-.8zM484.5 608h.8v.8h-.8zM475.7 611.8h.8v.8h-.8zM482.4 605.8h.8v.8h-.8zM474.3 612.4h.8v.8h-.8zM480.7 619.9h.8v.8h-.8zM484.1 609h.8v.8h-.8zM465.2 601.8h.8v.8h-.8zM473.9 598.3h.8v.8h-.8zM474.9 601h.8v.8h-.8zM479 599.3h.8v.8h-.8zM477.8 614.6h.8v.8h-.8zM477.9 612h.8v.8h-.8zM464.1 607.6h.8v.8h-.8zM478.7 594.4h.8v.8h-.8zM472.2 603.8h.8v.8h-.8zM471.4 607.1h.8v.8h-.8zM472.7 613.4h.8v.8h-.8zM481.8 618.4h.8v.8h-.8zM472.2 616.6h.8v.8h-.8zM483.7 612.7h.8v.8h-.8zM469.2 611.5h.8v.8h-.8zM482 612.8h.8v.8h-.8zM492.5 609.1h.8v.8h-.8zM479 611.3h.8v.8h-.8zM464.7 605.3h.8v.8h-.8zM478.4 614.2h.8v.8h-.8zM481.4 608h.8v.8h-.8zM473.6 606.3h.8v.8h-.8zM483.3 614.1h.8v.8h-.8zM478.7 604.6h.8v.8h-.8zM471.2 615.5h.8v.8h-.8zM479.6 602h.8v.8h-.8zM480.9 605.2h.8v.8h-.8zM477.6 616.4h.8v.8h-.8zM494.2 602.2h.8v.8h-.8zM482.4 605.8h.8v.8h-.8zM482.3 600.5h.8v.8h-.8zM482.9 610.9h.8v.8h-.8zM470.6 604.2h.8v.8h-.8zM484.9 612.3h.8v.8h-.8zM483.3 606.1h.8v.8h-.8zM468.9 602.5h.8v.8h-.8zM472.9 605.9h.8v.8h-.8zM477.2 609.3h.8v.8h-.8zM480.2 604.1h.8v.8h-.8zM473.7 609.3h.8v.8h-.8zM476.3 602.2h.8v.8h-.8zM480.5 609.9h.8v.8h-.8zM482.8 604.7h.8v.8h-.8zM480.1 601.9h.8v.8h-.8zM485.9 603.1h.8v.8h-.8zM478.9 605.3h.8v.8h-.8zM467.8 604.7h.8v.8h-.8zM487.3 611.4h.8v.8h-.8zM481.8 607.4h.8v.8h-.8zM471.7 606.6h.8v.8h-.8zM478 610h.8v.8h-.8zM470.3 606.3h.8v.8h-.8zM473 603.1h.8v.8h-.8zM476.4 618.7h.8v.8h-.8zM472.7 601.3h.8v.8h-.8zM482.7 606.3h.8v.8h-.8zM480.8 613.3h.8v.8h-.8zM468 608.6h.8v.8h-.8zM470.5 604.6h.8v.8h-.8zM477.2 612.2h.8v.8h-.8zM469.7 609.8h.8v.8h-.8zM473.1 606.3h.8v.8h-.8zM469.2 606.7h.8v.8h-.8zM478.4 611.7h.8v.8h-.8zM477.9 606h.8v.8h-.8zM478.6 612h.8v.8h-.8zM480.2 609.9h.8v.8h-.8zM451.4 611.7h.8v.8h-.8zM468.1 615.6h.8v.8h-.8zM480.7 607.1h.8v.8h-.8zM472.9 601.3h.8v.8h-.8zM483.2 610.2h.8v.8h-.8zM483.7 600.3h.8v.8h-.8zM464.5 602.6h.8v.8h-.8zM475.9 608.9h.8v.8h-.8zM471.1 600.1h.8v.8h-.8zM485.6 607.2h.8v.8h-.8zM462.9 593.9h.8v.8h-.8zM481.2 607h.8v.8h-.8zM470.4 607.5h.8v.8h-.8zM481.9 607.7h.8v.8h-.8zM467.5 598.9h.8v.8h-.8zM482.2 606.1h.8v.8h-.8zM482.4 612.2h.8v.8h-.8zM467.3 611.5h.8v.8h-.8zM482.8 602.1h.8v.8h-.8zM484.3 609.6h.8v.8h-.8zM484.7 607.8h.8v.8h-.8zM471.1 606.5h.8v.8h-.8zM482.3 616.8h.8v.8h-.8zM481.2 611.4h.8v.8h-.8zM486 605.8h.8v.8h-.8zM476 611.9h.8v.8h-.8zM496.8 598.1h.8v.8h-.8zM475.5 609.6h.8v.8h-.8zM481.5 605.4h.8v.8h-.8zM473.2 610.6h.8v.8h-.8zM470.5 607.8h.8v.8h-.8zM474.7 596.5h.8v.8h-.8zM481.7 606.6h.8v.8h-.8zM473.1 615.7h.8v.8h-.8zM476.8 600.3h.8v.8h-.8zM479.7 611h.8v.8h-.8zM481.9 603.9h.8v.8h-.8zM470.8 605.8h.8v.8h-.8zM476.9 612.6h.8v.8h-.8zM471.1 609.3h.8v.8h-.8zM485.8 609.6h.8v.8h-.8zM480.1 608h.8v.8h-.8zM479.7 611h.8v.8h-.8zM465.4 617.7h.8v.8h-.8zM484.6 614.8h.8v.8h-.8zM473.4 614.3h.8v.8h-.8zM472.9 616.8h.8v.8h-.8zM470.8 611.5h.8v.8h-.8zM475 616.3h.8v.8h-.8zM469.8 589.9h.8v.8h-.8zM475.1 602.6h.8v.8h-.8zM486.2 613h.8v.8h-.8zM484.9 607.6h.8v.8h-.8zM462.3 608.2h.8v.8h-.8zM475.5 616.7h.8v.8h-.8zM470.4 608.7h.8v.8h-.8zM483.4 609h.8v.8h-.8zM500.7 602.2h.8v.8h-.8zM470.6 606.8h.8v.8h-.8zM470.4 606.6h.8v.8h-.8zM478 606.6h.8v.8h-.8zM475.8 612.1h.8v.8h-.8zM474.9 611.2h.8v.8h-.8zM475.4 612.7h.8v.8h-.8zM481.6 600.6h.8v.8h-.8zM478.2 608.3h.8v.8h-.8zM478.3 618.7h.8v.8h-.8zM468.3 608.4h.8v.8h-.8zM472.4 616.6h.8v.8h-.8zM468.5 620.3h.8v.8h-.8zM485.1 621.5h.8v.8h-.8zM472.5 601.3h.8v.8h-.8zM490.8 614.4h.8v.8h-.8zM474 607.8h.8v.8h-.8zM473.8 600.1h.8v.8h-.8zM476.5 612.7h.8v.8h-.8zM478.7 592.7h.8v.8h-.8zM475.5 606.2h.8v.8h-.8zM469.4 609.8h.8v.8h-.8zM472.7 610.6h.8v.8h-.8zM468.7 612.9h.8v.8h-.8zM473.2 610.2h.8v.8h-.8zM482.9 600.9h.8v.8h-.8zM470.7 618h.8v.8h-.8zM473.7 612.2h.8v.8h-.8zM475.1 608h.8v.8h-.8zM483.6 612.7h.8v.8h-.8zM475.3 607.8h.8v.8h-.8zM472.3 609.6h.8v.8h-.8zM462.7 610.3h.8v.8h-.8zM477.5 609.7h.8v.8h-.8zM467.4 613.1h.8v.8h-.8zM477.6 612.1h.8v.8h-.8zM475.3 616.3h.8v.8h-.8zM482 615.8h.8v.8h-.8zM481.1 611.5h.8v.8h-.8zM465.5 604.7h.8v.8h-.8zM470.5 603h.8v.8h-.8zM475.3 610h.8v.8h-.8zM477.9 615.9h.8v.8h-.8zM474.5 607.7h.8v.8h-.8zM485.9 607.1h.8v.8h-.8zM473.9 602.3h.8v.8h-.8zM477.9 612.1h.8v.8h-.8zM466.6 603.5h.8v.8h-.8zM480.6 607.6h.8v.8h-.8zM481 605.5h.8v.8h-.8zM479.3 595.6h.8v.8h-.8zM486.5 606.2h.8v.8h-.8zM482.3 600.8h.8v.8h-.8zM468.2 604.1h.8v.8h-.8zM487.4 603.3h.8v.8h-.8zM476.6 606.6h.8v.8h-.8zM485 613.7h.8v.8h-.8zM481.9 602.5h.8v.8h-.8zM464.9 607.3h.8v.8h-.8zM486.9 601.5h.8v.8h-.8zM480.6 601.9h.8v.8h-.8zM470.5 606.8h.8v.8h-.8zM481.1 611.8h.8v.8h-.8zM475.1 605.3h.8v.8h-.8zM475.4 593.6h.8v.8h-.8zM478.5 607.2h.8v.8h-.8zM472.4 602h.8v.8h-.8zM463.3 607h.8v.8h-.8zM488.7 604.6h.8v.8h-.8zM479.1 600.6h.8v.8h-.8zM480.4 612.7h.8v.8h-.8zM476.9 609.7h.8v.8h-.8zM464.3 602.2h.8v.8h-.8zM476.5 619.5h.8v.8h-.8zM478.1 610.3h.8v.8h-.8zM483.2 607.1h.8v.8h-.8zM477.1 598h.8v.8h-.8zM471.1 605h.8v.8h-.8zM471.6 613h.8v.8h-.8zM475.1 605h.8v.8h-.8zM471.7 602.3h.8v.8h-.8zM479.3 615.2h.8v.8h-.8zM472.3 603.5h.8v.8h-.8zM472.3 610.3h.8v.8h-.8zM468.7 604.9h.8v.8h-.8zM467.9 608h.8v.8h-.8zM490.2 602.7h.8v.8h-.8zM475 612.7h.8v.8h-.8zM485.8 608.6h.8v.8h-.8zM474.5 601.9h.8v.8h-.8zM473 615.2h.8v.8h-.8zM475.6 605h.8v.8h-.8zM479.7 610h.8v.8h-.8zM470.1 610.8h.8v.8h-.8zM480.1 607.5h.8v.8h-.8zM480.3 600.2h.8v.8h-.8zM471.3 608.1h.8v.8h-.8zM477.2 608.9h.8v.8h-.8zM482.1 610.4h.8v.8h-.8zM469.2 601.5h.8v.8h-.8zM479.3 603.3h.8v.8h-.8zM473.2 609.1h.8v.8h-.8zM473 612.8h.8v.8h-.8zM477.9 605.9h.8v.8h-.8zM480.3 608.3h.8v.8h-.8zM469 598.1h.8v.8h-.8zM475.7 605.8h.8v.8h-.8zM465.6 599h.8v.8h-.8zM474.9 606.8h.8v.8h-.8zM480 608.1h.8v.8h-.8zM476.8 599.5h.8v.8h-.8zM465.3 610h.8v.8h-.8zM458.3 613.3h.8v.8h-.8zM468.9 601.6h.8v.8h-.8zM483.7 602.1h.8v.8h-.8zM484.9 608.6h.8v.8h-.8zM478.7 599.9h.8v.8h-.8zM463.4 602.2h.8v.8h-.8zM472.6 605h.8v.8h-.8zM491.5 608.1h.8v.8h-.8zM484 606.3h.8v.8h-.8zM474.3 612.7h.8v.8h-.8zM478.7 614.2h.8v.8h-.8zM477.3 605h.8v.8h-.8zM481.1 606.6h.8v.8h-.8zM479.3 610h.8v.8h-.8zM467.2 599.9h.8v.8h-.8zM490.3 615.6h.8v.8h-.8zM477.7 603.9h.8v.8h-.8zM475.9 608h.8v.8h-.8zM479 612.8h.8v.8h-.8zM475.9 609.6h.8v.8h-.8zM462.7 613.7h.8v.8h-.8zM482.2 605.7h.8v.8h-.8zM470.1 613h.8v.8h-.8zM450.7 611.5h.8v.8h-.8zM474 607.8h.8v.8h-.8zM477 604.6h.8v.8h-.8zM476.4 607.4h.8v.8h-.8zM465.6 608.8h.8v.8h-.8zM471.6 612.8h.8v.8h-.8zM472.4 600h.8v.8h-.8zM488.7 614h.8v.8h-.8zM469.5 603.7h.8v.8h-.8zM467.5 610.1h.8v.8h-.8zM487.5 606.1h.8v.8h-.8zM470.1 613.9h.8v.8h-.8zM471.5 606.8h.8v.8h-.8zM480.1 605.8h.8v.8h-.8zM482.9 607.2h.8v.8h-.8zM486.4 614.1h.8v.8h-.8zM466.7 600.3h.8v.8h-.8zM482.1 607.4h.8v.8h-.8zM478.6 604.8h.8v.8h-.8zM483 613.4h.8v.8h-.8zM473.5 607.8h.8v.8h-.8zM476.1 618.1h.8v.8h-.8zM479.4 605.8h.8v.8h-.8zM479 616.1h.8v.8h-.8zM471.6 600.9h.8v.8h-.8zM465.8 619.5h.8v.8h-.8zM475.2 616h.8v.8h-.8zM484.8 604.7h.8v.8h-.8zM483.4 606.7h.8v.8h-.8zM477.1 605.9h.8v.8h-.8zM472 614.8h.8v.8h-.8zM470.4 604.6h.8v.8h-.8zM464 603.4h.8v.8h-.8zM473 602.8h.8v.8h-.8zM477.6 607.5h.8v.8h-.8zM465.8 603.7h.8v.8h-.8zM472 608.3h.8v.8h-.8zM462.3 604.6h.8v.8h-.8zM474.7 607.6h.8v.8h-.8zM479.9 611.9h.8v.8h-.8zM473.5 607.8h.8v.8h-.8zM472.3 604.7h.8v.8h-.8zM467 609h.8v.8h-.8zM469.9 611.6h.8v.8h-.8zM479.8 619.1h.8v.8h-.8zM462 604h.8v.8h-.8zM473.6 607.4h.8v.8h-.8zM467.9 614.2h.8v.8h-.8zM476.5 612.6h.8v.8h-.8zM474.6 608.2h.8v.8h-.8zM480.5 608.6h.8v.8h-.8zM479.7 605.7h.8v.8h-.8zM472.8 602.6h.8v.8h-.8zM475.9 605h.8v.8h-.8zM483 606.8h.8v.8h-.8zM469.6 597.8h.8v.8h-.8zM468.4 601.2h.8v.8h-.8zM460.1 609.3h.8v.8h-.8zM470.5 596.2h.8v.8h-.8zM474.8 605h.8v.8h-.8zM479.4 604.3h.8v.8h-.8zM478.9 610.5h.8v.8h-.8zM461.9 603h.8v.8h-.8zM463.5 599.2h.8v.8h-.8zM474.9 604h.8v.8h-.8zM465.7 615.1h.8v.8h-.8zM471.6 608.4h.8v.8h-.8zM480.2 608h.8v.8h-.8zM473.8 610.1h.8v.8h-.8zM481 610.4h.8v.8h-.8zM466.4 611.8h.8v.8h-.8zM469.2 606.2h.8v.8h-.8zM476.1 621.5h.8v.8h-.8zM473.1 603.4h.8v.8h-.8zM479.9 598.5h.8v.8h-.8zM473.3 602h.8v.8h-.8zM475.4 607.9h.8v.8h-.8zM467.6 602.3h.8v.8h-.8zM469.3 604h.8v.8h-.8zM474.6 606.2h.8v.8h-.8zM477.3 608.5h.8v.8h-.8zM488 608.6h.8v.8h-.8zM481.3 614.9h.8v.8h-.8zM468.4 610.8h.8v.8h-.8zM484.2 608.8h.8v.8h-.8zM477.3 598.6h.8v.8h-.8zM469.6 612.4h.8v.8h-.8zM477.6 611.2h.8v.8h-.8zM481.9 611.8h.8v.8h-.8zM483.4 610h.8v.8h-.8zM473.8 611.9h.8v.8h-.8zM480.8 609.4h.8v.8h-.8zM486 610.3h.8v.8h-.8zM487.1 604.5h.8v.8h-.8zM473.1 599.5h.8v.8h-.8zM471.2 602.8h.8v.8h-.8zM471.7 602.2h.8v.8h-.8zM468.2 615.9h.8v.8h-.8zM475.9 610h.8v.8h-.8zM477.2 598h.8v.8h-.8zM492.9 615.4h.8v.8h-.8zM474 604h.8v.8h-.8zM469.7 613.9h.8v.8h-.8zM464.5 600.3h.8v.8h-.8zM483 613.3h.8v.8h-.8zM478.1 610.2h.8v.8h-.8zM475.8 614.6h.8v.8h-.8zM469.4 602.6h.8v.8h-.8zM469.7 609.8h.8v.8h-.8zM478 605.7h.8v.8h-.8zM474.5 610.5h.8v.8h-.8zM469.7 604.3h.8v.8h-.8zM466.6 600h.8v.8h-.8zM462.2 608.5h.8v.8h-.8zM458.5 599.8h.8v.8h-.8zM464 604.3h.8v.8h-.8zM462.8 604.6h.8v.8h-.8zM461.6 608.2h.8v.8h-.8zM466 608.1h.8v.8h-.8zM465 610.4h.8v.8h-.8zM467.8 604h.8v.8h-.8zM468.7 604.5h.8v.8h-.8zM458.7 596.8h.8v.8h-.8zM462.6 603.9h.8v.8h-.8zM467.5 605.5h.8v.8h-.8zM466.3 598h.8v.8h-.8zM457.5 604.3h.8v.8h-.8zM465.6 602.2h.8v.8h-.8zM462.1 598.4h.8v.8h-.8zM468.3 605.1h.8v.8h-.8zM465.6 608.5h.8v.8h-.8zM464 610.6h.8v.8h-.8zM465.1 604h.8v.8h-.8zM455.9 608.7h.8v.8h-.8zM467.4 605.5h.8v.8h-.8zM473.2 604.5h.8v.8h-.8zM459.7 603.9h.8v.8h-.8zM468.3 604.6h.8v.8h-.8zM467.4 603h.8v.8h-.8zM460.9 603.4h.8v.8h-.8zM463 604.3h.8v.8h-.8zM465.8 606.9h.8v.8h-.8zM466.6 604.8h.8v.8h-.8zM470.4 600.5h.8v.8h-.8zM465.5 604.5h.8v.8h-.8zM468.7 601.2h.8v.8h-.8zM468.3 605.3h.8v.8h-.8zM467.7 599.6h.8v.8h-.8zM463.2 608.3h.8v.8h-.8zM469.1 608.9h.8v.8h-.8zM471.3 607.8h.8v.8h-.8zM462.3 602.3h.8v.8h-.8zM465.7 604.7h.8v.8h-.8zM466.6 607.5h.8v.8h-.8zM467.4 608.3h.8v.8h-.8zM462.6 610.3h.8v.8h-.8zM465.1 604.9h.8v.8h-.8zM465.5 605.4h.8v.8h-.8zM468.2 605.5h.8v.8h-.8zM462.2 608.9h.8v.8h-.8zM460.5 602.7h.8v.8h-.8zM468.5 605.4h.8v.8h-.8zM464.9 603.8h.8v.8h-.8zM463.7 603.7h.8v.8h-.8zM469.5 602h.8v.8h-.8zM468.8 606.3h.8v.8h-.8zM465.5 611h.8v.8h-.8zM463.6 607.1h.8v.8h-.8zM455.8 609h.8v.8h-.8zM469 600.5h.8v.8h-.8zM464.4 605.4h.8v.8h-.8zM463 605.5h.8v.8h-.8zM468.6 602.7h.8v.8h-.8zM467.7 607.1h.8v.8h-.8zM463.7 609.2h.8v.8h-.8zM461.1 604.8h.8v.8h-.8zM461.8 606.2h.8v.8h-.8zM473.2 598.1h.8v.8h-.8zM468.1 604.6h.8v.8h-.8zM470.1 601.9h.8v.8h-.8zM461.8 602.2h.8v.8h-.8zM459.1 605.5h.8v.8h-.8zM460.4 605.6h.8v.8h-.8zM466.3 604h.8v.8h-.8zM460.7 605.9h.8v.8h-.8zM461.7 603.8h.8v.8h-.8zM464.2 606.6h.8v.8h-.8zM468.8 606.1h.8v.8h-.8zM473.4 610.2h.8v.8h-.8zM457.9 605.9h.8v.8h-.8zM458.7 600.3h.8v.8h-.8zM465.6 605.1h.8v.8h-.8zM464.3 593.1h.8v.8h-.8zM468.6 604.2h.8v.8h-.8zM472.8 602.1h.8v.8h-.8zM470.3 612.4h.8v.8h-.8zM461.8 604.9h.8v.8h-.8zM471.9 601.4h.8v.8h-.8zM471.9 606.5h.8v.8h-.8zM468.7 607.2h.8v.8h-.8zM473.8 603.6h.8v.8h-.8zM467.6 601.8h.8v.8h-.8zM465.4 601.9h.8v.8h-.8zM468.4 599.2h.8v.8h-.8zM458.5 610.8h.8v.8h-.8zM469 608.8h.8v.8h-.8zM469.2 613.2h.8v.8h-.8zM468.3 608.4h.8v.8h-.8zM464.4 603.4h.8v.8h-.8zM466.2 603.5h.8v.8h-.8zM468.1 608.4h.8v.8h-.8zM464.7 607.6h.8v.8h-.8zM464.8 603h.8v.8h-.8zM469 605.5h.8v.8h-.8zM470.9 603.4h.8v.8h-.8zM474.7 603.5h.8v.8h-.8zM470.5 600.9h.8v.8h-.8zM471.2 603.2h.8v.8h-.8zM460.4 605.1h.8v.8h-.8zM470.4 599.1h.8v.8h-.8zM469.4 610.1h.8v.8h-.8zM465 607.6h.8v.8h-.8zM462.8 606.8h.8v.8h-.8zM466.7 600.7h.8v.8h-.8zM465.1 604.4h.8v.8h-.8zM470.4 609.8h.8v.8h-.8zM467 602.6h.8v.8h-.8zM468.5 594.8h.8v.8h-.8zM467 609.5h.8v.8h-.8zM467.2 600.9h.8v.8h-.8zM467.5 603h.8v.8h-.8zM466.5 609.3h.8v.8h-.8zM472.1 601.9h.8v.8h-.8zM462.1 605.1h.8v.8h-.8zM467.8 603.6h.8v.8h-.8zM470.7 605.2h.8v.8h-.8zM462.9 607.3h.8v.8h-.8zM468.9 605.2h.8v.8h-.8zM466.4 604.1h.8v.8h-.8zM465.9 601.5h.8v.8h-.8zM468.9 601.9h.8v.8h-.8zM461.2 605.8h.8v.8h-.8zM475.8 608.4h.8v.8h-.8zM469.5 602.2h.8v.8h-.8zM462.8 607h.8v.8h-.8zM464.6 604.7h.8v.8h-.8zM469 602.4h.8v.8h-.8zM474.7 605.5h.8v.8h-.8zM459.5 603.3h.8v.8h-.8zM466.1 606.5h.8v.8h-.8zM458.2 603.7h.8v.8h-.8zM464.7 606.6h.8v.8h-.8zM460.5 608.3h.8v.8h-.8zM469.7 601.4h.8v.8h-.8zM466.9 597.9h.8v.8h-.8zM463.6 606h.8v.8h-.8zM451.9 603.7h.8v.8h-.8zM472.7 608.2h.8v.8h-.8zM465.9 605.8h.8v.8h-.8zM461.7 604.2h.8v.8h-.8zM466.5 609.6h.8v.8h-.8zM462.3 604.4h.8v.8h-.8zM467 602h.8v.8h-.8zM463 602.8h.8v.8h-.8zM465.9 606.5h.8v.8h-.8zM467.4 606.1h.8v.8h-.8zM471.4 607.1h.8v.8h-.8zM466.2 611.7h.8v.8h-.8zM463.8 607.9h.8v.8h-.8zM465.5 598.9h.8v.8h-.8zM470 609.7h.8v.8h-.8zM459.5 606.7h.8v.8h-.8zM465.4 612h.8v.8h-.8zM469.4 607.2h.8v.8h-.8zM458.9 606.3h.8v.8h-.8zM466.8 603.7h.8v.8h-.8zM465.7 611h.8v.8h-.8zM467.5 607.1h.8v.8h-.8zM469.8 608.7h.8v.8h-.8zM463.1 603.5h.8v.8h-.8zM462.2 605.4h.8v.8h-.8zM472.5 602.1h.8v.8h-.8zM465.2 606.5h.8v.8h-.8zM462.5 598h.8v.8h-.8zM468.5 599.7h.8v.8h-.8zM457.7 610h.8v.8h-.8zM466.8 596.6h.8v.8h-.8zM460.6 608.7h.8v.8h-.8zM474.5 602.9h.8v.8h-.8zM462 607.1h.8v.8h-.8zM462.9 602h.8v.8h-.8zM471.1 607.7h.8v.8h-.8zM475 611h.8v.8h-.8zM463.8 599.9h.8v.8h-.8zM464.5 593.2h.8v.8h-.8zM464.2 600.7h.8v.8h-.8zM462.5 602.9h.8v.8h-.8zM455.4 611.4h.8v.8h-.8zM463.4 608.6h.8v.8h-.8zM467.2 599.4h.8v.8h-.8zM466 603.3h.8v.8h-.8zM468.5 600.8h.8v.8h-.8zM467.1 610.8h.8v.8h-.8zM469.6 603.3h.8v.8h-.8zM466.6 611.6h.8v.8h-.8zM469.8 607.8h.8v.8h-.8zM468.7 612.1h.8v.8h-.8zM469.2 602.8h.8v.8h-.8zM470.6 599.4h.8v.8h-.8zM460.2 608.5h.8v.8h-.8zM464.4 603.5h.8v.8h-.8zM467 607.9h.8v.8h-.8zM468.7 605.7h.8v.8h-.8zM469.2 603.1h.8v.8h-.8zM463.3 600.3h.8v.8h-.8zM463.9 609.1h.8v.8h-.8zM469.7 608.9h.8v.8h-.8zM473.1 606.9h.8v.8h-.8zM465.6 605.1h.8v.8h-.8zM464.7 606.7h.8v.8h-.8zM464 606.4h.8v.8h-.8zM472.3 602.3h.8v.8h-.8zM472.9 602.5h.8v.8h-.8zM460.8 609.4h.8v.8h-.8zM467.6 606.2h.8v.8h-.8zM462.6 597.6h.8v.8h-.8zM468.8 604.2h.8v.8h-.8zM471.1 604.5h.8v.8h-.8zM471 604.3h.8v.8h-.8zM453.1 602.8h.8v.8h-.8zM469 602.9h.8v.8h-.8zM466.5 599.8h.8v.8h-.8zM462.2 608.4h.8v.8h-.8zM462.5 601.2h.8v.8h-.8zM464.8 601.3h.8v.8h-.8zM468.2 601.9h.8v.8h-.8zM466.8 603.7h.8v.8h-.8zM467.2 608.2h.8v.8h-.8zM461.2 600.6h.8v.8h-.8zM458.2 605h.8v.8h-.8zM467.6 601h.8v.8h-.8zM459.3 609.4h.8v.8h-.8zM465.2 606h.8v.8h-.8zM469.3 604.9h.8v.8h-.8zM466.6 603.1h.8v.8h-.8zM460.3 600.3h.8v.8h-.8zM471 607.7h.8v.8h-.8zM467.3 602.2h.8v.8h-.8zM464.7 605.5h.8v.8h-.8zM466.1 603.9h.8v.8h-.8zM470 605.3h.8v.8h-.8zM465.6 603.5h.8v.8h-.8zM467.5 603.6h.8v.8h-.8zM472.4 598.9h.8v.8h-.8zM463.6 604.4h.8v.8h-.8zM463.4 605.8h.8v.8h-.8zM465.4 609.3h.8v.8h-.8zM475.1 606h.8v.8h-.8zM467.5 612.2h.8v.8h-.8zM462.8 602h.8v.8h-.8zM467.9 609.5h.8v.8h-.8zM464.3 601h.8v.8h-.8zM466.8 605.3h.8v.8h-.8zM466.7 597.2h.8v.8h-.8zM467.9 605.3h.8v.8h-.8zM466.7 613.1h.8v.8h-.8zM470.9 599.6h.8v.8h-.8zM475 599.7h.8v.8h-.8zM468.3 605h.8v.8h-.8zM462.3 602.6h.8v.8h-.8zM463.3 609.4h.8v.8h-.8zM467.1 642.1h.8v.8h-.8zM461.1 618.1h.8v.8h-.8zM471.5 624.1h.8v.8h-.8zM468.2 600h.8v.8h-.8zM466.3 612.4h.8v.8h-.8zM458.5 626h.8v.8h-.8zM473.6 627.2h.8v.8h-.8zM472.6 622.8h.8v.8h-.8zM461.3 622.3h.8v.8h-.8zM469 602.6h.8v.8h-.8zM457.5 627.3h.8v.8h-.8zM466.9 624.3h.8v.8h-.8zM466.6 627.4h.8v.8h-.8zM464.9 620.5h.8v.8h-.8zM461.8 612h.8v.8h-.8zM465.7 614.5h.8v.8h-.8zM468.5 623.9h.8v.8h-.8zM460.8 612.7h.8v.8h-.8zM465.1 635.2h.8v.8h-.8zM465.3 618h.8v.8h-.8zM460.6 613.2h.8v.8h-.8zM453.5 633.3h.8v.8h-.8zM465 609.3h.8v.8h-.8zM468.6 617.5h.8v.8h-.8zM471.1 619.6h.8v.8h-.8zM456.7 631.4h.8v.8h-.8zM463.3 619.5h.8v.8h-.8zM461.8 628.2h.8v.8h-.8zM468.1 623.8h.8v.8h-.8zM470.7 632.5h.8v.8h-.8zM473 623.7h.8v.8h-.8zM471.6 628.5h.8v.8h-.8zM469.2 629.6h.8v.8h-.8zM451 615.2h.8v.8h-.8zM463 620.6h.8v.8h-.8zM457.5 617.7h.8v.8h-.8zM467.8 617.2h.8v.8h-.8zM468.6 616.4h.8v.8h-.8zM464.2 620.7h.8v.8h-.8zM466.8 634.9h.8v.8h-.8zM458.2 617.4h.8v.8h-.8zM475.2 613.4h.8v.8h-.8zM456.3 616.6h.8v.8h-.8zM457.7 622.1h.8v.8h-.8zM470.9 624.5h.8v.8h-.8zM471.9 622h.8v.8h-.8zM458 621.3h.8v.8h-.8zM461.2 628h.8v.8h-.8zM458.5 620h.8v.8h-.8zM464.1 612.7h.8v.8h-.8zM467.7 630.4h.8v.8h-.8zM465.6 619.2h.8v.8h-.8zM459.5 627.2h.8v.8h-.8zM457.1 617.5h.8v.8h-.8zM464.6 624.9h.8v.8h-.8zM457.9 620.8h.8v.8h-.8zM453.9 623.5h.8v.8h-.8zM464.4 632.1h.8v.8h-.8zM450.6 616.2h.8v.8h-.8zM463.5 625.7h.8v.8h-.8zM456.5 607.6h.8v.8h-.8zM465 613.2h.8v.8h-.8zM455.7 618.5h.8v.8h-.8zM462.5 619.8h.8v.8h-.8zM463.4 621.7h.8v.8h-.8zM470.7 619.1h.8v.8h-.8zM471.5 623.3h.8v.8h-.8zM465.6 619.8h.8v.8h-.8zM457.5 623.8h.8v.8h-.8zM455.3 621.9h.8v.8h-.8zM460.6 613.4h.8v.8h-.8zM459.4 629.4h.8v.8h-.8zM467.5 615.4h.8v.8h-.8zM460.5 624.7h.8v.8h-.8zM457.8 631.5h.8v.8h-.8zM446.1 633.5h.8v.8h-.8zM463.3 632h.8v.8h-.8zM466.5 630.8h.8v.8h-.8zM462 624.5h.8v.8h-.8zM467.1 635.2h.8v.8h-.8zM464.9 621.7h.8v.8h-.8zM476.8 613.2h.8v.8h-.8zM468.2 612.3h.8v.8h-.8zM454.9 624h.8v.8h-.8zM456.4 615h.8v.8h-.8zM478 620.4h.8v.8h-.8zM459.8 628.1h.8v.8h-.8zM462.7 606h.8v.8h-.8zM462.2 618.6h.8v.8h-.8zM462.4 617.3h.8v.8h-.8zM466.8 609.1h.8v.8h-.8zM466.9 620.4h.8v.8h-.8zM465.7 624h.8v.8h-.8zM467 637.7h.8v.8h-.8zM475.4 619.1h.8v.8h-.8zM461.4 624.1h.8v.8h-.8zM463.8 621.3h.8v.8h-.8zM460.7 611.8h.8v.8h-.8zM464.4 618.3h.8v.8h-.8zM462.4 622.6h.8v.8h-.8zM450.3 616h.8v.8h-.8zM467.7 617.4h.8v.8h-.8zM464.9 612.5h.8v.8h-.8zM455.7 625.7h.8v.8h-.8zM464.2 629.6h.8v.8h-.8zM473.4 605.8h.8v.8h-.8zM466.7 611.3h.8v.8h-.8zM473.9 614.3h.8v.8h-.8zM461 611h.8v.8h-.8zM454.3 607.9h.8v.8h-.8zM471.7 607.4h.8v.8h-.8zM456 622.3h.8v.8h-.8zM456.1 617.7h.8v.8h-.8zM457.3 611.5h.8v.8h-.8zM459.4 622.9h.8v.8h-.8zM467.7 613.4h.8v.8h-.8zM461.4 620.7h.8v.8h-.8zM462.2 628.5h.8v.8h-.8zM462.8 620.6h.8v.8h-.8zM460.6 620h.8v.8h-.8zM468.8 612.3h.8v.8h-.8zM454.8 623.3h.8v.8h-.8zM462.2 604.8h.8v.8h-.8zM463.7 629.2h.8v.8h-.8zM457.5 607.7h.8v.8h-.8zM454.7 631.4h.8v.8h-.8zM466.7 626.4h.8v.8h-.8zM463.1 619.7h.8v.8h-.8zM462.9 625.3h.8v.8h-.8zM464.5 619.6h.8v.8h-.8zM454 622.7h.8v.8h-.8zM458.5 620.6h.8v.8h-.8zM459.7 623.2h.8v.8h-.8zM465.2 615.7h.8v.8h-.8zM466.9 611.3h.8v.8h-.8zM463.1 615.8h.8v.8h-.8zM464.6 620.3h.8v.8h-.8zM463.3 617.7h.8v.8h-.8zM476.2 619.5h.8v.8h-.8zM457.4 625.7h.8v.8h-.8zM469.4 603.1h.8v.8h-.8zM462.2 634.9h.8v.8h-.8zM465.5 618.2h.8v.8h-.8zM457.8 610.3h.8v.8h-.8zM448.2 609.5h.8v.8h-.8zM460.7 637.4h.8v.8h-.8zM461.6 617.7h.8v.8h-.8zM471.9 635.3h.8v.8h-.8zM461.4 620.5h.8v.8h-.8zM463.2 603.9h.8v.8h-.8zM464.5 620.3h.8v.8h-.8zM469.1 618.8h.8v.8h-.8zM454.4 609.5h.8v.8h-.8zM467.4 612.7h.8v.8h-.8zM455.2 624.1h.8v.8h-.8zM469.8 617.2h.8v.8h-.8zM463.5 617h.8v.8h-.8zM471.2 630.4h.8v.8h-.8zM461.6 615.1h.8v.8h-.8zM473.7 606.7h.8v.8h-.8zM471.5 623.1h.8v.8h-.8zM472.3 617h.8v.8h-.8zM458.2 624.8h.8v.8h-.8zM465.4 618.5h.8v.8h-.8zM459.2 624.7h.8v.8h-.8zM462.1 619.7h.8v.8h-.8zM461.6 628.8h.8v.8h-.8zM452.1 607.6h.8v.8h-.8zM461.8 634h.8v.8h-.8zM458.8 600h.8v.8h-.8zM463.1 605.7h.8v.8h-.8zM463.1 628.8h.8v.8h-.8zM451 633.2h.8v.8h-.8zM467.5 624.9h.8v.8h-.8zM460.1 617.5h.8v.8h-.8zM468.9 625.5h.8v.8h-.8zM467.8 618.6h.8v.8h-.8zM461.7 623.6h.8v.8h-.8zM459.6 617.8h.8v.8h-.8zM476.6 625.9h.8v.8h-.8zM447.2 614.7h.8v.8h-.8zM458.5 624.1h.8v.8h-.8zM471.2 619.8h.8v.8h-.8zM465.1 623.3h.8v.8h-.8zM472.4 627.1h.8v.8h-.8zM464 614.9h.8v.8h-.8zM458.9 613.7h.8v.8h-.8zM461.9 623.9h.8v.8h-.8zM460.2 618.4h.8v.8h-.8zM463.8 629.4h.8v.8h-.8zM467.4 613.5h.8v.8h-.8zM462.2 630.9h.8v.8h-.8zM462.4 631.7h.8v.8h-.8zM460.7 640.2h.8v.8h-.8zM462.4 615.5h.8v.8h-.8zM453.4 623.6h.8v.8h-.8zM463.9 614.7h.8v.8h-.8zM469.4 598h.8v.8h-.8zM466.9 624.9h.8v.8h-.8zM467.5 616.3h.8v.8h-.8zM461.9 620.5h.8v.8h-.8zM465.1 602h.8v.8h-.8zM463.2 628.2h.8v.8h-.8zM462 626.9h.8v.8h-.8zM461 626.9h.8v.8h-.8zM463.9 611.5h.8v.8h-.8zM471.9 614.3h.8v.8h-.8zM460.2 621.6h.8v.8h-.8zM477.3 624.1h.8v.8h-.8zM455.1 618.8h.8v.8h-.8zM474.8 623.6h.8v.8h-.8zM469.3 615.6h.8v.8h-.8zM456 606.2h.8v.8h-.8zM464.1 631.8h.8v.8h-.8zM467 601.9h.8v.8h-.8zM461.3 625.8h.8v.8h-.8zM464.1 620.3h.8v.8h-.8zM461 628.8h.8v.8h-.8zM467.4 619.5h.8v.8h-.8zM465.2 621.8h.8v.8h-.8zM460.8 620.5h.8v.8h-.8zM460 615.3h.8v.8h-.8zM465.1 614.3h.8v.8h-.8zM471.6 603.8h.8v.8h-.8zM459.6 633.3h.8v.8h-.8zM464.7 615.3h.8v.8h-.8zM458.7 617.5h.8v.8h-.8zM463.2 619.9h.8v.8h-.8zM458.4 613h.8v.8h-.8zM474.9 625.7h.8v.8h-.8zM457.2 612.6h.8v.8h-.8zM470.4 634.6h.8v.8h-.8zM457 617.4h.8v.8h-.8zM468.1 637.1h.8v.8h-.8zM474.6 616.7h.8v.8h-.8zM465.4 621.2h.8v.8h-.8zM467 627.7h.8v.8h-.8zM458.6 630.4h.8v.8h-.8zM463.8 639.2h.8v.8h-.8zM457.8 617.3h.8v.8h-.8zM460.8 630.5h.8v.8h-.8zM467.1 607.7h.8v.8h-.8zM469.2 607.4h.8v.8h-.8zM464.9 620.7h.8v.8h-.8zM458.5 611.9h.8v.8h-.8zM460.9 610.2h.8v.8h-.8zM463.9 629.2h.8v.8h-.8zM472.3 627h.8v.8h-.8zM466.1 625.8h.8v.8h-.8zM466.7 618.3h.8v.8h-.8zM463.1 618.1h.8v.8h-.8zM452.9 625.3h.8v.8h-.8zM467.5 628.1h.8v.8h-.8zM463.8 614.7h.8v.8h-.8zM459.6 618.4h.8v.8h-.8zM461.5 604.9h.8v.8h-.8zM458.1 617.6h.8v.8h-.8zM468.6 619.2h.8v.8h-.8zM457.4 618.3h.8v.8h-.8zM465.3 605h.8v.8h-.8zM452.6 623.9h.8v.8h-.8zM466.6 623.2h.8v.8h-.8zM461.8 632h.8v.8h-.8zM465.2 608.6h.8v.8h-.8zM469.8 625.3h.8v.8h-.8zM465.1 618.5h.8v.8h-.8zM467.7 609.9h.8v.8h-.8zM477 614.5h.8v.8h-.8zM466.8 622.1h.8v.8h-.8zM456.4 614h.8v.8h-.8zM455.4 621.6h.8v.8h-.8zM468.6 612.4h.8v.8h-.8zM451 606.9h.8v.8h-.8zM464.8 621.7h.8v.8h-.8zM465.8 621.2h.8v.8h-.8zM467 616h.8v.8h-.8zM461.4 610.8h.8v.8h-.8zM449.3 623.4h.8v.8h-.8zM464.3 611.4h.8v.8h-.8zM454.5 624.4h.8v.8h-.8zM465.1 621.7h.8v.8h-.8zM458.9 622.4h.8v.8h-.8zM465.3 614.1h.8v.8h-.8zM459.7 636.6h.8v.8h-.8zM459 614.9h.8v.8h-.8zM464.9 619.1h.8v.8h-.8zM463.8 623h.8v.8h-.8zM461.4 628.3h.8v.8h-.8zM468.1 618.5h.8v.8h-.8zM461.1 614.8h.8v.8h-.8zM467.2 620.2h.8v.8h-.8zM458 610.3h.8v.8h-.8zM462.3 614.1h.8v.8h-.8zM462.6 619.4h.8v.8h-.8zM464 647.7h.8v.8h-.8zM461.5 623.4h.8v.8h-.8zM466 614h.8v.8h-.8zM469.4 619.8h.8v.8h-.8zM467.5 613h.8v.8h-.8zM453.2 620.8h.8v.8h-.8zM463.8 626.9h.8v.8h-.8zM476.6 630.9h.8v.8h-.8zM464.7 610.8h.8v.8h-.8zM454.2 617.9h.8v.8h-.8zM454.9 616.7h.8v.8h-.8zM457.5 629h.8v.8h-.8zM458.7 616.6h.8v.8h-.8zM459.3 618.8h.8v.8h-.8zM473.8 625.1h.8v.8h-.8zM457.7 634.6h.8v.8h-.8zM461.3 625.7h.8v.8h-.8zM466.4 623.4h.8v.8h-.8zM460.3 614.9h.8v.8h-.8zM471.7 624.8h.8v.8h-.8zM469.3 621.3h.8v.8h-.8zM466.8 624.9h.8v.8h-.8zM466.7 620.9h.8v.8h-.8zM457.4 615.1h.8v.8h-.8zM454.5 612h.8v.8h-.8zM465.2 602.8h.8v.8h-.8zM465.9 630.7h.8v.8h-.8zM460.2 614.1h.8v.8h-.8zM462.5 618.4h.8v.8h-.8zM466.5 613.9h.8v.8h-.8zM466.5 618.4h.8v.8h-.8zM468.6 625.4h.8v.8h-.8zM465.2 618.3h.8v.8h-.8zM460.3 635h.8v.8h-.8zM449.9 622.9h.8v.8h-.8zM468.2 610.5h.8v.8h-.8zM462.8 620.4h.8v.8h-.8zM457.7 619.8h.8v.8h-.8zM465 624.1h.8v.8h-.8zM463.1 608h.8v.8h-.8zM458.3 624.5h.8v.8h-.8zM467.5 624.2h.8v.8h-.8zM455.9 614.6h.8v.8h-.8zM463.4 622.8h.8v.8h-.8zM457.2 621.3h.8v.8h-.8zM469.2 607h.8v.8h-.8zM466.6 613.4h.8v.8h-.8zM469.2 617.6h.8v.8h-.8zM461.6 623.2h.8v.8h-.8zM461.3 629.1h.8v.8h-.8zM459.2 614.2h.8v.8h-.8zM467.7 615.3h.8v.8h-.8zM462 611.2h.8v.8h-.8zM446.9 618.2h.8v.8h-.8zM456.6 614.3h.8v.8h-.8zM468.1 613.4h.8v.8h-.8zM461.9 615.1h.8v.8h-.8zM465.2 609.9h.8v.8h-.8zM466.9 620.2h.8v.8h-.8zM467.3 613.8h.8v.8h-.8zM465 626.7h.8v.8h-.8zM459.3 611h.8v.8h-.8zM463 619.7h.8v.8h-.8zM459.6 612.8h.8v.8h-.8zM469.7 625.1h.8v.8h-.8zM466.2 613.3h.8v.8h-.8zM462.6 608.3h.8v.8h-.8zM469.7 632.1h.8v.8h-.8zM465 629.2h.8v.8h-.8zM467.6 615.4h.8v.8h-.8zM452.2 616.2h.8v.8h-.8zM456.8 620.9h.8v.8h-.8zM472.5 629.3h.8v.8h-.8zM458.2 621.1h.8v.8h-.8zM453.8 614.1h.8v.8h-.8zM463.6 620.7h.8v.8h-.8zM456.2 627.6h.8v.8h-.8zM460.3 619.5h.8v.8h-.8zM469 623.1h.8v.8h-.8zM468.6 615h.8v.8h-.8zM461.7 616.8h.8v.8h-.8zM469 622.5h.8v.8h-.8zM464.5 611.7h.8v.8h-.8zM461.4 631.8h.8v.8h-.8zM454.1 624.7h.8v.8h-.8zM461.6 611.8h.8v.8h-.8zM467.6 625.6h.8v.8h-.8zM455.4 609.8h.8v.8h-.8zM468.9 615.3h.8v.8h-.8zM472.1 616.3h.8v.8h-.8zM474.7 624.4h.8v.8h-.8zM474.1 622.7h.8v.8h-.8zM465 614.7h.8v.8h-.8zM463.2 607h.8v.8h-.8zM465.6 614.1h.8v.8h-.8zM463.5 625.8h.8v.8h-.8zM462.3 618.7h.8v.8h-.8zM460.9 626.8h.8v.8h-.8zM468.2 626.2h.8v.8h-.8zM466.6 616.8h.8v.8h-.8zM471.8 637.5h.8v.8h-.8zM464.3 608h.8v.8h-.8zM468.1 621.8h.8v.8h-.8zM466.2 624.4h.8v.8h-.8zM462 614.4h.8v.8h-.8zM455.5 613h.8v.8h-.8zM452.6 633.1h.8v.8h-.8zM457.8 636.7h.8v.8h-.8zM462.9 622.9h.8v.8h-.8zM461.3 626h.8v.8h-.8zM465.2 627.5h.8v.8h-.8zM470.8 637h.8v.8h-.8zM456.8 614h.8v.8h-.8zM467.4 618.2h.8v.8h-.8zM467.8 615.3h.8v.8h-.8zM468 627.1h.8v.8h-.8zM458 624.1h.8v.8h-.8zM471.2 621.3h.8v.8h-.8zM461 616.6h.8v.8h-.8zM461.4 612.2h.8v.8h-.8zM465.3 599.9h.8v.8h-.8zM472.7 621.5h.8v.8h-.8zM464.6 621.4h.8v.8h-.8zM470.6 616.5h.8v.8h-.8zM467.8 628.4h.8v.8h-.8zM471.4 624.8h.8v.8h-.8zM466.2 617.7h.8v.8h-.8zM460.2 613h.8v.8h-.8zM473.2 624.3h.8v.8h-.8zM455.2 616h.8v.8h-.8zM467.5 611h.8v.8h-.8zM470.9 620.8h.8v.8h-.8zM468.6 629.3h.8v.8h-.8zM463.1 625.1h.8v.8h-.8zM458.3 630.4h.8v.8h-.8zM460 616.9h.8v.8h-.8zM471 615.6h.8v.8h-.8zM455.7 600.5h.8v.8h-.8zM468 627.3h.8v.8h-.8zM464.1 613.8h.8v.8h-.8zM472.7 621h.8v.8h-.8zM455.4 610.1h.8v.8h-.8zM468.6 617.2h.8v.8h-.8zM472.7 628.5h.8v.8h-.8zM459 634.6h.8v.8h-.8zM464.7 625.6h.8v.8h-.8zM468.5 621.6h.8v.8h-.8zM460 613.8h.8v.8h-.8zM461.9 618h.8v.8h-.8zM462.3 624.4h.8v.8h-.8zM475.4 598.6h.8v.8h-.8zM463.6 620h.8v.8h-.8zM454.8 618h.8v.8h-.8zM454.8 622.5h.8v.8h-.8zM457.7 614.5h.8v.8h-.8zM465.6 618h.8v.8h-.8zM468.4 624.9h.8v.8h-.8zM473.4 622.3h.8v.8h-.8zM463.3 609.2h.8v.8h-.8zM468.6 616.9h.8v.8h-.8zM460.7 614.1h.8v.8h-.8zM475 610h.8v.8h-.8zM467.8 619.9h.8v.8h-.8zM457 633.5h.8v.8h-.8zM467.8 612.4h.8v.8h-.8zM465.8 613.5h.8v.8h-.8zM465.8 627.2h.8v.8h-.8zM463.9 627.7h.8v.8h-.8zM465.5 612.7h.8v.8h-.8zM454.3 618h.8v.8h-.8zM464.1 614.9h.8v.8h-.8zM469 635.4h.8v.8h-.8zM462.7 612.3h.8v.8h-.8zM465.3 624.6h.8v.8h-.8zM452.6 612.2h.8v.8h-.8zM453.5 625.3h.8v.8h-.8zM474.3 621.4h.8v.8h-.8zM456.8 616.3h.8v.8h-.8zM453.1 615.4h.8v.8h-.8zM470.2 624.1h.8v.8h-.8zM461.4 617.8h.8v.8h-.8zM457.8 614.7h.8v.8h-.8zM469 631.3h.8v.8h-.8zM465.6 628.5h.8v.8h-.8zM459.4 618.7h.8v.8h-.8zM467.3 638.4h.8v.8h-.8zM464.4 618.6h.8v.8h-.8zM462.2 625.5h.8v.8h-.8zM459.9 629.2h.8v.8h-.8zM468.3 627.1h.8v.8h-.8zM461.2 626h.8v.8h-.8zM469.4 617.6h.8v.8h-.8zM468.9 622.8h.8v.8h-.8zM464.3 617.8h.8v.8h-.8zM460.4 624.3h.8v.8h-.8zM464.5 615.5h.8v.8h-.8zM454 616.1h.8v.8h-.8zM466.1 634.5h.8v.8h-.8zM455.8 610.6h.8v.8h-.8zM460.4 620.6h.8v.8h-.8zM465.8 629.3h.8v.8h-.8zM456.2 611.3h.8v.8h-.8zM464 621.3h.8v.8h-.8zM467.2 616h.8v.8h-.8zM463.5 612.2h.8v.8h-.8zM462.6 635.1h.8v.8h-.8zM465.7 618.2h.8v.8h-.8zM466.9 603.9h.8v.8h-.8zM455.7 621.2h.8v.8h-.8zM464.2 615.5h.8v.8h-.8zM464 634.2h.8v.8h-.8zM465.9 620.8h.8v.8h-.8zM466 614.2h.8v.8h-.8zM460.8 612h.8v.8h-.8zM464.2 624.2h.8v.8h-.8zM469.1 609.2h.8v.8h-.8zM466.5 612.1h.8v.8h-.8zM468.1 615.2h.8v.8h-.8zM459.2 619h.8v.8h-.8zM461.7 626.9h.8v.8h-.8zM469.2 628.9h.8v.8h-.8zM475.7 633.6h.8v.8h-.8zM467.7 626.4h.8v.8h-.8zM465.5 629h.8v.8h-.8zM464.2 609.1h.8v.8h-.8zM465.3 635.2h.8v.8h-.8zM460.7 623.4h.8v.8h-.8zM458.5 624.9h.8v.8h-.8zM464 613.5h.8v.8h-.8zM470.3 623.5h.8v.8h-.8zM457.5 621.6h.8v.8h-.8zM462 619.3h.8v.8h-.8zM464.6 605.1h.8v.8h-.8zM468.1 612.5h.8v.8h-.8zM467.2 620.7h.8v.8h-.8zM458.9 621h.8v.8h-.8zM464.5 617.3h.8v.8h-.8zM457.6 621h.8v.8h-.8zM472 613.9h.8v.8h-.8zM461.2 621.6h.8v.8h-.8zM465.7 620.9h.8v.8h-.8zM453.8 623.1h.8v.8h-.8zM468 611.4h.8v.8h-.8zM467.8 633.4h.8v.8h-.8zM462.9 614.1h.8v.8h-.8zM467.1 631.5h.8v.8h-.8zM464.4 626.2h.8v.8h-.8zM465.5 620.3h.8v.8h-.8zM455.1 633.2h.8v.8h-.8zM459.9 631.5h.8v.8h-.8zM459.9 626.7h.8v.8h-.8zM459.4 620.5h.8v.8h-.8zM458.7 610h.8v.8h-.8zM464.3 616.6h.8v.8h-.8zM459.5 625.2h.8v.8h-.8zM451.7 613.3h.8v.8h-.8zM460.1 629.7h.8v.8h-.8zM465.1 615.4h.8v.8h-.8zM458.1 630.3h.8v.8h-.8zM467.7 616.8h.8v.8h-.8zM457.6 616h.8v.8h-.8zM460.2 621.5h.8v.8h-.8zM456.8 616.8h.8v.8h-.8zM453.1 621.3h.8v.8h-.8zM462.1 617.2h.8v.8h-.8zM467.6 634h.8v.8h-.8zM464 609.4h.8v.8h-.8zM466.6 609.3h.8v.8h-.8zM466.9 616.4h.8v.8h-.8zM455.2 627.3h.8v.8h-.8zM460.6 614.9h.8v.8h-.8zM455.8 620.5h.8v.8h-.8zM461.4 617.9h.8v.8h-.8zM454.8 628h.8v.8h-.8zM463 622.9h.8v.8h-.8zM453.6 613.3h.8v.8h-.8zM469.7 620h.8v.8h-.8zM458.2 619.4h.8v.8h-.8zM451.9 621.5h.8v.8h-.8zM465.5 624h.8v.8h-.8zM458.7 611h.8v.8h-.8zM458.8 608.7h.8v.8h-.8zM463.2 601.7h.8v.8h-.8zM470.6 622.6h.8v.8h-.8zM464.2 616.1h.8v.8h-.8zM465.5 617.2h.8v.8h-.8zM468.6 620.1h.8v.8h-.8zM462.3 615.4h.8v.8h-.8zM464.9 619.2h.8v.8h-.8zM456.8 616h.8v.8h-.8zM458.4 622.6h.8v.8h-.8zM462.8 621.8h.8v.8h-.8zM469.9 624h.8v.8h-.8zM458.8 618.1h.8v.8h-.8zM463.3 607.6h.8v.8h-.8zM461.3 630.3h.8v.8h-.8zM456.8 624h.8v.8h-.8zM466.5 626.1h.8v.8h-.8zM465.4 623.3h.8v.8h-.8zM460.8 616.8h.8v.8h-.8zM454.5 620.3h.8v.8h-.8zM460.7 636.9h.8v.8h-.8zM465.3 614.5h.8v.8h-.8zM472.2 642.4h.8v.8h-.8zM456.7 626.9h.8v.8h-.8zM456.3 615.8h.8v.8h-.8zM458.5 611.7h.8v.8h-.8zM459.6 619h.8v.8h-.8zM467.2 619.5h.8v.8h-.8zM462.3 621.5h.8v.8h-.8zM460.3 610.2h.8v.8h-.8zM465.8 623.2h.8v.8h-.8zM465 630.8h.8v.8h-.8zM462.5 632.8h.8v.8h-.8zM475.3 620.6h.8v.8h-.8zM473.3 616.2h.8v.8h-.8zM461.4 614.3h.8v.8h-.8zM454.3 611.7h.8v.8h-.8zM461.5 618.1h.8v.8h-.8zM459.3 624.6h.8v.8h-.8zM465.5 611.3h.8v.8h-.8zM460.2 633.4h.8v.8h-.8zM473.3 631.7h.8v.8h-.8zM465 607.5h.8v.8h-.8zM479 621.6h.8v.8h-.8zM466.1 621.5h.8v.8h-.8zM466.8 627.7h.8v.8h-.8zM467.1 623.3h.8v.8h-.8zM462.7 617.1h.8v.8h-.8zM468 620.1h.8v.8h-.8zM467.1 632.2h.8v.8h-.8zM465.5 620.3h.8v.8h-.8zM460.3 619.4h.8v.8h-.8zM452.4 626.2h.8v.8h-.8zM466.2 611.2h.8v.8h-.8zM455.9 627.9h.8v.8h-.8zM461.7 604.3h.8v.8h-.8zM454.3 616.2h.8v.8h-.8zM467.7 622.6h.8v.8h-.8zM461.5 621.9h.8v.8h-.8zM465.2 598.8h.8v.8h-.8zM457.4 624.2h.8v.8h-.8zM460 619.1h.8v.8h-.8zM461.4 624.5h.8v.8h-.8zM471 627.4h.8v.8h-.8zM466.6 620.8h.8v.8h-.8zM463.9 632.9h.8v.8h-.8zM463 612.3h.8v.8h-.8zM457.5 612.6h.8v.8h-.8zM463.5 617.2h.8v.8h-.8zM465.1 623.5h.8v.8h-.8zM460.4 613.2h.8v.8h-.8zM471 613.1h.8v.8h-.8zM468.1 612.2h.8v.8h-.8zM458.3 626h.8v.8h-.8zM459.7 621.4h.8v.8h-.8zM475.6 631.1h.8v.8h-.8zM471.2 631.8h.8v.8h-.8zM460.7 625.9h.8v.8h-.8zM468.8 623h.8v.8h-.8zM462.8 642.2h.8v.8h-.8zM464.5 616h.8v.8h-.8zM458.1 623.6h.8v.8h-.8zM463.1 615.9h.8v.8h-.8zM472.7 630.3h.8v.8h-.8zM462.3 618.8h.8v.8h-.8zM463.7 612.8h.8v.8h-.8zM467.1 614.5h.8v.8h-.8zM462 626.3h.8v.8h-.8zM462.7 622.3h.8v.8h-.8zM461.6 616.3h.8v.8h-.8zM466.9 619.2h.8v.8h-.8zM458.4 626.6h.8v.8h-.8zM465.7 608.9h.8v.8h-.8zM467 619.8h.8v.8h-.8zM464 608.2h.8v.8h-.8zM464.4 614.1h.8v.8h-.8zM457.8 620.6h.8v.8h-.8zM462.9 608.8h.8v.8h-.8zM462.6 630.8h.8v.8h-.8zM459.9 626.5h.8v.8h-.8zM462.5 616.1h.8v.8h-.8zM458.5 628.2h.8v.8h-.8zM456.2 615.7h.8v.8h-.8zM461 609.2h.8v.8h-.8zM464.2 618.5h.8v.8h-.8zM462.3 606.4h.8v.8h-.8zM456.3 626.9h.8v.8h-.8zM460 626.2h.8v.8h-.8zM452.8 626.4h.8v.8h-.8zM455.9 619.7h.8v.8h-.8zM463.9 626.5h.8v.8h-.8zM464.1 603.6h.8v.8h-.8zM462.2 619.6h.8v.8h-.8zM457.8 618.9h.8v.8h-.8zM467.2 611.4h.8v.8h-.8zM470.9 628.2h.8v.8h-.8zM458.9 616.2h.8v.8h-.8zM466 609.8h.8v.8h-.8zM466.6 625.8h.8v.8h-.8zM452.5 618h.8v.8h-.8zM467 631.7h.8v.8h-.8zM461.3 615.3h.8v.8h-.8zM471 614.7h.8v.8h-.8zM461.2 616.3h.8v.8h-.8zM466.4 618.7h.8v.8h-.8zM462 625.8h.8v.8h-.8zM462.9 627.8h.8v.8h-.8zM462.5 627h.8v.8h-.8zM465.9 606.5h.8v.8h-.8zM462.5 611h.8v.8h-.8zM460.9 619.3h.8v.8h-.8zM458.6 623.3h.8v.8h-.8zM452.8 611.1h.8v.8h-.8zM459.3 630.7h.8v.8h-.8zM467.8 616.8h.8v.8h-.8zM463.4 629.9h.8v.8h-.8zM459.1 612.4h.8v.8h-.8zM457.6 626.5h.8v.8h-.8zM465.6 630.3h.8v.8h-.8zM462.1 628.8h.8v.8h-.8zM465.9 619.6h.8v.8h-.8zM455.2 611.1h.8v.8h-.8zM463.3 616.7h.8v.8h-.8zM458.7 629.4h.8v.8h-.8zM459.4 610.4h.8v.8h-.8zM463.8 612.4h.8v.8h-.8zM463.9 621.3h.8v.8h-.8zM464 630.2h.8v.8h-.8zM466.2 624.7h.8v.8h-.8zM464.3 625.6h.8v.8h-.8zM456.1 629.7h.8v.8h-.8zM465 639.6h.8v.8h-.8zM459.2 614.4h.8v.8h-.8zM459.1 606h.8v.8h-.8zM453.8 607.3h.8v.8h-.8zM461.4 610h.8v.8h-.8zM458.2 615.2h.8v.8h-.8zM459 617.5h.8v.8h-.8zM465.2 627.2h.8v.8h-.8zM458.5 601.6h.8v.8h-.8zM461.4 625.3h.8v.8h-.8zM457.4 616.6h.8v.8h-.8zM461.7 614.2h.8v.8h-.8zM466.2 613.3h.8v.8h-.8zM473.8 624.3h.8v.8h-.8zM467.4 619.3h.8v.8h-.8zM451.6 604.5h.8v.8h-.8zM454.7 615.8h.8v.8h-.8zM461.7 633.2h.8v.8h-.8zM452.7 608.3h.8v.8h-.8zM454.8 621.1h.8v.8h-.8zM463.6 637.5h.8v.8h-.8zM456.3 608.1h.8v.8h-.8zM472.6 610.7h.8v.8h-.8zM464.6 630.4h.8v.8h-.8zM461.9 617.8h.8v.8h-.8zM470.5 622.2h.8v.8h-.8zM468.1 628h.8v.8h-.8zM458.6 624.2h.8v.8h-.8zM466.7 615.8h.8v.8h-.8zM462.3 614.3h.8v.8h-.8zM453.3 627.5h.8v.8h-.8zM452.3 619h.8v.8h-.8zM462.5 620.7h.8v.8h-.8zM464 619.4h.8v.8h-.8zM464.8 618.4h.8v.8h-.8zM469.8 630.5h.8v.8h-.8zM463.1 614.7h.8v.8h-.8zM460.2 635.7h.8v.8h-.8zM459.1 615.9h.8v.8h-.8zM460.9 633.8h.8v.8h-.8zM466.8 602.8h.8v.8h-.8zM468.7 632h.8v.8h-.8zM465.1 623.4h.8v.8h-.8zM461.4 611.6h.8v.8h-.8zM457.2 623.5h.8v.8h-.8zM465.1 647.1h.8v.8h-.8zM460.4 617h.8v.8h-.8zM463.3 616.3h.8v.8h-.8zM455.6 605.6h.8v.8h-.8zM468.4 606.9h.8v.8h-.8zM459.1 635.3h.8v.8h-.8zM469.5 619.5h.8v.8h-.8zM465.2 615.3h.8v.8h-.8zM463.4 631h.8v.8h-.8zM469.4 613.8h.8v.8h-.8zM465.1 641.9h.8v.8h-.8zM460 637.9h.8v.8h-.8zM472.6 625.1h.8v.8h-.8zM455.6 622.4h.8v.8h-.8zM462.6 621h.8v.8h-.8zM458.8 619.2h.8v.8h-.8zM450.6 625.5h.8v.8h-.8zM461.9 607.4h.8v.8h-.8zM469.7 627.6h.8v.8h-.8zM464.1 620.2h.8v.8h-.8zM473.8 611.6h.8v.8h-.8zM449.2 621.6h.8v.8h-.8zM461.5 628.7h.8v.8h-.8zM464.1 598.1h.8v.8h-.8zM460.1 613.7h.8v.8h-.8zM472.4 629h.8v.8h-.8zM463.6 616.9h.8v.8h-.8zM468 636.8h.8v.8h-.8zM467.1 620.9h.8v.8h-.8zM464.7 614.4h.8v.8h-.8zM466.7 629.5h.8v.8h-.8zM461.2 628.1h.8v.8h-.8zM461.9 612.1h.8v.8h-.8zM459 619.2h.8v.8h-.8zM469.9 633.7h.8v.8h-.8zM462.8 619.7h.8v.8h-.8zM463.1 625.1h.8v.8h-.8zM459.3 615.2h.8v.8h-.8zM463.3 625.6h.8v.8h-.8zM465.8 619.8h.8v.8h-.8zM460.7 638h.8v.8h-.8zM466.6 626.3h.8v.8h-.8zM471.4 624.1h.8v.8h-.8zM460.3 620.9h.8v.8h-.8zM459.9 619.9h.8v.8h-.8zM458.9 610.4h.8v.8h-.8zM460.3 611.3h.8v.8h-.8zM468.6 619.4h.8v.8h-.8zM459.5 610.6h.8v.8h-.8zM459.9 597.5h.8v.8h-.8zM465.7 630h.8v.8h-.8zM465.7 619.4h.8v.8h-.8zM455.9 623.4h.8v.8h-.8zM453.9 609.2h.8v.8h-.8zM466.1 611.9h.8v.8h-.8zM469.4 621.9h.8v.8h-.8zM469.7 627.3h.8v.8h-.8zM455.4 609.4h.8v.8h-.8zM455.9 626h.8v.8h-.8zM465.4 613.1h.8v.8h-.8zM459.1 627.7h.8v.8h-.8zM464.6 627h.8v.8h-.8zM461.4 604.8h.8v.8h-.8zM472.8 614.9h.8v.8h-.8zM466.4 628.2h.8v.8h-.8zM461.9 619h.8v.8h-.8zM464 606.8h.8v.8h-.8zM463.6 618.1h.8v.8h-.8zM455.1 624.6h.8v.8h-.8zM460.7 614.8h.8v.8h-.8zM460.8 616.4h.8v.8h-.8zM461.6 622.2h.8v.8h-.8zM469.7 609.6h.8v.8h-.8zM471.2 627.2h.8v.8h-.8zM457.5 626.5h.8v.8h-.8zM454.5 635.1h.8v.8h-.8zM471.5 624.9h.8v.8h-.8zM454.6 614.7h.8v.8h-.8zM466.1 614.2h.8v.8h-.8zM467.8 610.7h.8v.8h-.8zM463.5 623.5h.8v.8h-.8zM459 617.1h.8v.8h-.8zM472 622.4h.8v.8h-.8zM459.6 637.2h.8v.8h-.8zM467.3 608.4h.8v.8h-.8zM459.8 614.4h.8v.8h-.8zM469.2 617.3h.8v.8h-.8zM466.1 631.4h.8v.8h-.8zM463.9 622.6h.8v.8h-.8zM467.8 613.9h.8v.8h-.8zM467.6 598h.8v.8h-.8zM467.1 615.5h.8v.8h-.8zM458.8 636.5h.8v.8h-.8zM465.1 608.4h.8v.8h-.8zM464 620.8h.8v.8h-.8zM468 625.8h.8v.8h-.8zM457.6 615.6h.8v.8h-.8zM465 622.9h.8v.8h-.8zM455.1 616.2h.8v.8h-.8zM470.5 617.3h.8v.8h-.8zM460.3 615.1h.8v.8h-.8zM455.9 607.3h.8v.8h-.8zM464.5 622.9h.8v.8h-.8zM473.6 629.5h.8v.8h-.8zM462.6 623h.8v.8h-.8zM471 616.4h.8v.8h-.8zM463.1 613.1h.8v.8h-.8zM459.2 620.2h.8v.8h-.8zM473.5 610.9h.8v.8h-.8zM461.8 624.8h.8v.8h-.8zM464.8 615.5h.8v.8h-.8zM472.1 618.8h.8v.8h-.8zM464.1 613.7h.8v.8h-.8zM469.6 621.5h.8v.8h-.8zM466.4 611.7h.8v.8h-.8zM453.3 623h.8v.8h-.8zM460.7 615h.8v.8h-.8zM471.6 607.3h.8v.8h-.8zM459.7 610.1h.8v.8h-.8zM456.9 631.4h.8v.8h-.8zM468 634.1h.8v.8h-.8zM458.1 626.9h.8v.8h-.8zM461.9 618.3h.8v.8h-.8zM464.1 604h.8v.8h-.8zM464.2 635.5h.8v.8h-.8zM458.3 629.3h.8v.8h-.8zM461.6 617.7h.8v.8h-.8zM467.6 622.2h.8v.8h-.8zM456.6 633.9h.8v.8h-.8zM468.8 617.9h.8v.8h-.8zM463.7 616.3h.8v.8h-.8zM458.9 614.5h.8v.8h-.8zM461 627.4h.8v.8h-.8zM459 615.1h.8v.8h-.8zM470.8 624.8h.8v.8h-.8zM463.2 613.8h.8v.8h-.8zM472.2 621.4h.8v.8h-.8zM458.2 623.7h.8v.8h-.8zM457.8 596.6h.8v.8h-.8zM458.8 607.3h.8v.8h-.8zM466 622.3h.8v.8h-.8zM473.3 615.9h.8v.8h-.8zM461.4 626.5h.8v.8h-.8zM467.8 615.5h.8v.8h-.8zM462.4 630.3h.8v.8h-.8zM460.3 630.5h.8v.8h-.8zM456.1 630.7h.8v.8h-.8zM466.2 613.2h.8v.8h-.8zM471.4 623.8h.8v.8h-.8zM462.1 629.2h.8v.8h-.8zM471.3 610.1h.8v.8h-.8zM465.9 623h.8v.8h-.8zM474 629.5h.8v.8h-.8zM465.6 612h.8v.8h-.8zM458.9 599.3h.8v.8h-.8zM464 617h.8v.8h-.8zM456.2 619.8h.8v.8h-.8zM465.2 620.5h.8v.8h-.8zM453.2 611h.8v.8h-.8zM456.8 605.8h.8v.8h-.8zM466.8 615.8h.8v.8h-.8zM462.8 626.5h.8v.8h-.8zM460.3 624.8h.8v.8h-.8zM465.4 625.5h.8v.8h-.8zM461.8 635h.8v.8h-.8zM463.6 625.9h.8v.8h-.8zM463.8 613.3h.8v.8h-.8zM459.4 617.3h.8v.8h-.8zM466.3 618.3h.8v.8h-.8zM469 614.3h.8v.8h-.8zM472 618.6h.8v.8h-.8zM464.9 606.9h.8v.8h-.8zM469.6 616.7h.8v.8h-.8zM456.2 620.3h.8v.8h-.8zM466 620.6h.8v.8h-.8zM461.2 626.1h.8v.8h-.8zM455.5 617.7h.8v.8h-.8zM476.3 624.8h.8v.8h-.8zM465.3 615h.8v.8h-.8zM464.9 612.9h.8v.8h-.8zM462.6 628.4h.8v.8h-.8zM469.8 629.5h.8v.8h-.8zM460.6 607.9h.8v.8h-.8zM472.1 614.5h.8v.8h-.8zM470.1 617.1h.8v.8h-.8zM473.4 616.2h.8v.8h-.8zM460.3 617h.8v.8h-.8zM457.4 612.2h.8v.8h-.8zM463.5 614.6h.8v.8h-.8zM465 627.8h.8v.8h-.8zM463.9 627.6h.8v.8h-.8zM454.4 618.9h.8v.8h-.8zM458.3 632.9h.8v.8h-.8zM458 630h.8v.8h-.8zM458.8 622.5h.8v.8h-.8zM477.4 615.2h.8v.8h-.8zM465.1 619.7h.8v.8h-.8zM467.4 619.1h.8v.8h-.8zM472.4 622.7h.8v.8h-.8zM455.7 623.8h.8v.8h-.8zM470.2 611.3h.8v.8h-.8zM458.8 610.7h.8v.8h-.8zM466.5 621.5h.8v.8h-.8zM457.7 625.8h.8v.8h-.8zM466.9 608.9h.8v.8h-.8zM464.8 633.5h.8v.8h-.8zM471.7 632.6h.8v.8h-.8zM456.7 623.2h.8v.8h-.8zM470.5 609.4h.8v.8h-.8zM461.1 630.1h.8v.8h-.8zM460.1 626.5h.8v.8h-.8zM467 616.4h.8v.8h-.8zM456.1 617.9h.8v.8h-.8zM456.7 613.5h.8v.8h-.8zM454.5 623.7h.8v.8h-.8zM463.1 610.5h.8v.8h-.8zM471.5 628.9h.8v.8h-.8zM458.9 609.6h.8v.8h-.8zM459.8 611.2h.8v.8h-.8zM466.2 619.5h.8v.8h-.8zM459.6 620.8h.8v.8h-.8zM470.2 616h.8v.8h-.8zM460.6 613.7h.8v.8h-.8zM458.8 626.3h.8v.8h-.8zM459.7 625.8h.8v.8h-.8zM462.4 616.8h.8v.8h-.8zM463.5 613.4h.8v.8h-.8zM468.2 612.3h.8v.8h-.8zM464 634.4h.8v.8h-.8zM461.8 615.1h.8v.8h-.8zM463.4 618.6h.8v.8h-.8zM468.5 619.8h.8v.8h-.8zM458.4 620.6h.8v.8h-.8zM452.7 621.6h.8v.8h-.8zM466.9 611.6h.8v.8h-.8zM461.1 617.5h.8v.8h-.8zM466.9 633.5h.8v.8h-.8zM453.9 609.1h.8v.8h-.8zM461.9 619.6h.8v.8h-.8zM464.9 620.1h.8v.8h-.8zM463.3 615.8h.8v.8h-.8zM463.4 614.4h.8v.8h-.8zM463.5 617.9h.8v.8h-.8zM464.5 611.6h.8v.8h-.8zM456.8 620.4h.8v.8h-.8zM470.3 622.6h.8v.8h-.8zM459.8 608.9h.8v.8h-.8zM452.8 617.2h.8v.8h-.8zM461 637.9h.8v.8h-.8zM472.6 621.1h.8v.8h-.8zM460.6 609.9h.8v.8h-.8zM460.7 621.2h.8v.8h-.8zM461.6 621h.8v.8h-.8zM467.6 618.5h.8v.8h-.8zM458.5 632h.8v.8h-.8zM462 604.5h.8v.8h-.8zM463.7 636.2h.8v.8h-.8zM467 610.8h.8v.8h-.8zM467.9 608.7h.8v.8h-.8zM464.7 627.1h.8v.8h-.8zM466.4 625.2h.8v.8h-.8zM464.9 626.4h.8v.8h-.8zM467 614.3h.8v.8h-.8zM459.3 614.7h.8v.8h-.8zM454.5 619.1h.8v.8h-.8zM459.2 633.4h.8v.8h-.8zM460.5 604.9h.8v.8h-.8zM476 610.3h.8v.8h-.8zM476.6 614.1h.8v.8h-.8zM462.1 627.5h.8v.8h-.8zM456.4 616.7h.8v.8h-.8zM463.5 613.8h.8v.8h-.8zM461.3 611.2h.8v.8h-.8zM460.2 612.5h.8v.8h-.8zM460.5 608h.8v.8h-.8zM458 620.6h.8v.8h-.8zM460.7 616.1h.8v.8h-.8zM462.7 616.9h.8v.8h-.8zM458.6 626.8h.8v.8h-.8zM484 633.5h.8v.8h-.8zM481.3 622.9h.8v.8h-.8zM481.9 623.4h.8v.8h-.8zM480.8 631.1h.8v.8h-.8zM486.2 623.3h.8v.8h-.8zM474.9 628.9h.8v.8h-.8zM488.7 626.1h.8v.8h-.8zM478 626.4h.8v.8h-.8zM480.1 617h.8v.8h-.8zM478.2 619.8h.8v.8h-.8zM479.5 625.7h.8v.8h-.8zM477.2 624.6h.8v.8h-.8zM487.8 624h.8v.8h-.8zM482.9 629.5h.8v.8h-.8zM484.7 626.9h.8v.8h-.8zM489.5 623.4h.8v.8h-.8zM482.9 633.5h.8v.8h-.8zM485.2 621.4h.8v.8h-.8zM486.5 622.7h.8v.8h-.8zM477.5 631.9h.8v.8h-.8zM478.2 625.4h.8v.8h-.8zM481.9 624.8h.8v.8h-.8zM485.7 630.8h.8v.8h-.8zM485.3 622.3h.8v.8h-.8zM479.2 626h.8v.8h-.8zM479.5 626h.8v.8h-.8zM483.2 622.5h.8v.8h-.8zM486.6 623h.8v.8h-.8zM481.2 626.5h.8v.8h-.8zM474.8 628.6h.8v.8h-.8zM475.3 631.7h.8v.8h-.8zM481 623.1h.8v.8h-.8zM489.7 624.1h.8v.8h-.8zM482.7 614.4h.8v.8h-.8zM481.6 623.9h.8v.8h-.8zM480.6 636.1h.8v.8h-.8zM482.2 624.5h.8v.8h-.8zM482.1 625.3h.8v.8h-.8zM480.7 620.7h.8v.8h-.8zM474.9 618.1h.8v.8h-.8zM483.6 621.1h.8v.8h-.8zM480.1 629.5h.8v.8h-.8zM481.5 632.8h.8v.8h-.8zM481.9 623.5h.8v.8h-.8zM483 625.8h.8v.8h-.8zM487 630.5h.8v.8h-.8zM478 632.3h.8v.8h-.8zM474.2 617.5h.8v.8h-.8zM482.5 619.9h.8v.8h-.8zM481.2 628.6h.8v.8h-.8zM484.1 630h.8v.8h-.8zM477 616.5h.8v.8h-.8zM480.9 627.2h.8v.8h-.8zM478.1 626h.8v.8h-.8zM481.5 635.8h.8v.8h-.8zM483.7 618.4h.8v.8h-.8zM479.4 621.2h.8v.8h-.8zM477.4 623.9h.8v.8h-.8zM478 629.6h.8v.8h-.8zM471.1 627.8h.8v.8h-.8zM477.9 624.2h.8v.8h-.8zM485.9 625.7h.8v.8h-.8zM488.9 624.6h.8v.8h-.8zM481.5 627.8h.8v.8h-.8zM480.9 626h.8v.8h-.8zM473.1 622.2h.8v.8h-.8zM480.1 621.6h.8v.8h-.8zM485.3 620.7h.8v.8h-.8zM477 625.4h.8v.8h-.8zM477 615.7h.8v.8h-.8zM476.3 619.4h.8v.8h-.8zM474 621.5h.8v.8h-.8zM486.8 613.2h.8v.8h-.8zM485.7 620.6h.8v.8h-.8zM487.1 621.6h.8v.8h-.8zM484.1 618h.8v.8h-.8zM484 619h.8v.8h-.8zM476.1 625h.8v.8h-.8zM482.1 625.1h.8v.8h-.8zM480.1 619.3h.8v.8h-.8zM479.2 628.5h.8v.8h-.8zM487.7 629.4h.8v.8h-.8zM482.2 621.4h.8v.8h-.8zM486 626.8h.8v.8h-.8zM482.9 621.7h.8v.8h-.8zM481.6 623.5h.8v.8h-.8zM481.8 631.4h.8v.8h-.8zM487.9 617.9h.8v.8h-.8zM487.3 631.7h.8v.8h-.8zM481.2 625.3h.8v.8h-.8zM476.9 619.5h.8v.8h-.8zM475.7 628.7h.8v.8h-.8zM484.3 623.4h.8v.8h-.8zM486.8 633h.8v.8h-.8zM483.6 621.2h.8v.8h-.8zM483.3 625h.8v.8h-.8zM485.3 626.8h.8v.8h-.8zM486.9 625.3h.8v.8h-.8zM488.2 622.1h.8v.8h-.8zM487.4 613.2h.8v.8h-.8zM476.5 626.5h.8v.8h-.8zM481.3 624.1h.8v.8h-.8zM482.4 618.3h.8v.8h-.8zM480.5 622.9h.8v.8h-.8zM485.4 626.2h.8v.8h-.8zM483.1 626.4h.8v.8h-.8zM487.5 621.6h.8v.8h-.8zM476 625.6h.8v.8h-.8zM481.5 614.9h.8v.8h-.8zM477.6 626.3h.8v.8h-.8zM481.3 627.9h.8v.8h-.8zM480.1 626.8h.8v.8h-.8zM481.9 629.2h.8v.8h-.8zM481.8 626h.8v.8h-.8zM484.9 629.3h.8v.8h-.8zM485.9 625.1h.8v.8h-.8zM485.4 627.4h.8v.8h-.8zM490.1 634.5h.8v.8h-.8zM482.9 628.6h.8v.8h-.8zM480.4 618.7h.8v.8h-.8zM466.1 635.5h.8v.8h-.8zM490.9 634.5h.8v.8h-.8zM471.9 633.4h.8v.8h-.8zM445.6 634.5h.8v.8h-.8zM476.3 635h.8v.8h-.8zM445.3 634.9h.8v.8h-.8zM483.7 635.9h.8v.8h-.8zM476.4 633.5h.8v.8h-.8zM479.3 635.1h.8v.8h-.8zM465.5 635.4h.8v.8h-.8zM466.6 634.5h.8v.8h-.8zM470.4 634.3h.8v.8h-.8zM489.8 634.3h.8v.8h-.8zM492.6 633.9h.8v.8h-.8zM465.9 634.1h.8v.8h-.8zM469.9 634.6h.8v.8h-.8zM457.6 636.1h.8v.8h-.8zM460.1 633.8h.8v.8h-.8zM467.5 634.4h.8v.8h-.8zM465.9 634.1h.8v.8h-.8zM450.8 634.5h.8v.8h-.8zM455.7 635.2h.8v.8h-.8zM470.8 634.3h.8v.8h-.8zM480.1 633.9h.8v.8h-.8zM465.4 634.2h.8v.8h-.8zM443.8 634.4h.8v.8h-.8zM462.8 633.4h.8v.8h-.8zM491.6 636.1h.8v.8h-.8zM469.8 633.7h.8v.8h-.8zM491.4 634.1h.8v.8h-.8zM458.6 634.4h.8v.8h-.8zM490.1 634.1h.8v.8h-.8zM465.9 635.8h.8v.8h-.8zM482.5 634.9h.8v.8h-.8zM453.7 634.6h.8v.8h-.8zM489.8 634.8h.8v.8h-.8zM488.5 634.4h.8v.8h-.8zM443.9 634.9h.8v.8h-.8zM486.1 634.8h.8v.8h-.8zM469.1 634.4h.8v.8h-.8zM489.3 635.7h.8v.8h-.8zM487.9 635.2h.8v.8h-.8zM450.6 635.6h.8v.8h-.8zM441.6 634.3h.8v.8h-.8zM479.6 635.6h.8v.8h-.8zM486.6 634.5h.8v.8h-.8zM446.6 635h.8v.8h-.8zM460 634.8h.8v.8h-.8zM469.2 634h.8v.8h-.8zM461.3 634.8h.8v.8h-.8zM470.3 634.1h.8v.8h-.8zM469.4 634.4h.8v.8h-.8zM487.4 635.5h.8v.8h-.8zM460.4 633.5h.8v.8h-.8zM455.7 636.5h.8v.8h-.8zM453.4 633.4h.8v.8h-.8zM463.8 635.6h.8v.8h-.8zM445.2 632.6h.8v.8h-.8zM444.8 636.2h.8v.8h-.8zM469.4 633.4h.8v.8h-.8zM448.2 633.4h.8v.8h-.8zM480.3 635h.8v.8h-.8zM483.6 634.5h.8v.8h-.8zM460.4 634.3h.8v.8h-.8zM482.8 635.4h.8v.8h-.8zM464.7 635h.8v.8h-.8zM442 634.4h.8v.8h-.8zM454.8 634.1h.8v.8h-.8zM488.3 636.1h.8v.8h-.8zM474.3 634.5h.8v.8h-.8zM484.6 634.2h.8v.8h-.8zM441 633.4h.8v.8h-.8zM477.7 635h.8v.8h-.8zM453.6 635.7h.8v.8h-.8zM485.7 634.9h.8v.8h-.8zM475.1 633.9h.8v.8h-.8zM449.5 634.5h.8v.8h-.8zM442.4 635.5h.8v.8h-.8zM492.8 634.5h.8v.8h-.8zM442.1 635.2h.8v.8h-.8zM455.9 635.1h.8v.8h-.8zM459.7 633.5h.8v.8h-.8zM497.7 634.7h.8v.8h-.8zM443.3 634.4h.8v.8h-.8zM472.9 635.7h.8v.8h-.8zM468.8 635h.8v.8h-.8zM446.8 634.7h.8v.8h-.8zM482.3 635.2h.8v.8h-.8zM461.8 634.8h.8v.8h-.8zM469.8 635.3h.8v.8h-.8zM449.4 633.9h.8v.8h-.8zM495.1 633.9h.8v.8h-.8zM440.5 635.6h.8v.8h-.8zM479.9 633h.8v.8h-.8zM462.7 634.7h.8v.8h-.8zM487.8 635.3h.8v.8h-.8zM449.5 635.3h.8v.8h-.8zM468 633.5h.8v.8h-.8zM492 634.5h.8v.8h-.8zM474.1 634.4h.8v.8h-.8zM455.9 634h.8v.8h-.8zM464.3 635.5h.8v.8h-.8zM482.1 634.2h.8v.8h-.8zM468.5 634.3h.8v.8h-.8zM442 636.4h.8v.8h-.8zM461.5 635.3h.8v.8h-.8zM464.5 635.3h.8v.8h-.8zM453.6 634.8h.8v.8h-.8zM471.3 635.1h.8v.8h-.8zM478 634.5h.8v.8h-.8zM443.3 634.9h.8v.8h-.8zM450.8 634.3h.8v.8h-.8zM471.3 634.8h.8v.8h-.8zM479.2 634.7h.8v.8h-.8zM465.8 635.3h.8v.8h-.8zM481.2 634.4h.8v.8h-.8zM455.1 633.7h.8v.8h-.8zM488 634.9h.8v.8h-.8zM466.4 633.1h.8v.8h-.8zM467.1 634.3h.8v.8h-.8zM495.1 635.3h.8v.8h-.8zM481.1 635.1h.8v.8h-.8zM481.8 634.9h.8v.8h-.8zM459 634.2h.8v.8h-.8zM487.2 635.6h.8v.8h-.8zM475.8 636h.8v.8h-.8zM493.7 635.4h.8v.8h-.8zM497.5 634.5h.8v.8h-.8zM483.2 633.6h.8v.8h-.8zM454.9 634.2h.8v.8h-.8zM445.1 634.6h.8v.8h-.8zM454.4 635h.8v.8h-.8zM467.4 635.2h.8v.8h-.8zM440.2 634.8h.8v.8h-.8zM459.9 634.1h.8v.8h-.8zM493 635h.8v.8h-.8zM466.8 635.1h.8v.8h-.8zM487.1 634.9h.8v.8h-.8zM495.5 634.4h.8v.8h-.8zM464.9 633.9h.8v.8h-.8zM487.4 634.8h.8v.8h-.8zM483.7 634.7h.8v.8h-.8zM467.6 635h.8v.8h-.8zM496.2 635h.8v.8h-.8zM452.8 634.9h.8v.8h-.8zM459.7 634.6h.8v.8h-.8zM489.7 634.9h.8v.8h-.8zM493.7 634h.8v.8h-.8zM486.5 634.9h.8v.8h-.8zM462.3 634.1h.8v.8h-.8zM497.1 634.2h.8v.8h-.8zM471.8 633.6h.8v.8h-.8zM472.6 634.2h.8v.8h-.8zM486.6 634h.8v.8h-.8zM492.7 635.1h.8v.8h-.8zM447.3 634.9h.8v.8h-.8zM476.4 633.9h.8v.8h-.8zM453.9 634.7h.8v.8h-.8zM471.8 635.9h.8v.8h-.8zM457.6 634.7h.8v.8h-.8zM466.8 634.1h.8v.8h-.8zM478.1 635.4h.8v.8h-.8zM447 634.2h.8v.8h-.8zM461.8 633.5h.8v.8h-.8zM492.7 634.4h.8v.8h-.8zM454.2 635.1h.8v.8h-.8zM470.1 634.7h.8v.8h-.8zM451.1 635.4h.8v.8h-.8zM447.8 634.4h.8v.8h-.8zM456.5 636.3h.8v.8h-.8zM484 634.1h.8v.8h-.8zM474.7 635.4h.8v.8h-.8zM458.8 635h.8v.8h-.8zM486.8 634.1h.8v.8h-.8zM442.8 634.3h.8v.8h-.8zM494.2 633.8h.8v.8h-.8zM472.7 634.8h.8v.8h-.8zM474 634.3h.8v.8h-.8zM476.4 634.6h.8v.8h-.8zM494.2 634.7h.8v.8h-.8zM446.1 636.6h.8v.8h-.8zM497.9 635.4h.8v.8h-.8zM472.3 634.7h.8v.8h-.8zM456.8 634.5h.8v.8h-.8zM461.7 633.9h.8v.8h-.8zM491.6 634.5h.8v.8h-.8zM450.6 633.9h.8v.8h-.8zM472.2 634.4h.8v.8h-.8zM463.2 635.1h.8v.8h-.8zM482.4 635h.8v.8h-.8zM451.4 634.7h.8v.8h-.8zM473 635.1h.8v.8h-.8zM461.5 634h.8v.8h-.8zM444.5 635.3h.8v.8h-.8zM453.2 635.7h.8v.8h-.8zM442.5 633.9h.8v.8h-.8zM460.2 636.6h.8v.8h-.8zM477.1 635.4h.8v.8h-.8zM493.6 633.6h.8v.8h-.8zM474.5 634.1h.8v.8h-.8zM480.7 634.7h.8v.8h-.8zM441.3 635.3h.8v.8h-.8zM493.8 634.1h.8v.8h-.8zM451.6 635.3h.8v.8h-.8zM484.7 635.2h.8v.8h-.8zM480.5 634.1h.8v.8h-.8zM495 634.6h.8v.8h-.8zM497.2 634.2h.8v.8h-.8zM452.2 634.6h.8v.8h-.8zM484.7 635.1h.8v.8h-.8zM456.4 635.5h.8v.8h-.8zM481.9 634.9h.8v.8h-.8zM466.9 634.3h.8v.8h-.8zM444 633.6h.8v.8h-.8zM444 634.8h.8v.8h-.8zM451.8 635.3h.8v.8h-.8zM471.1 633.7h.8v.8h-.8zM481.9 634.9h.8v.8h-.8zM459.8 633.8h.8v.8h-.8zM443.8 634.8h.8v.8h-.8zM472.7 633.8h.8v.8h-.8zM460.5 635.9h.8v.8h-.8zM479 634.8h.8v.8h-.8zM481 634.6h.8v.8h-.8zM468.3 635h.8v.8h-.8zM467.5 635.5h.8v.8h-.8zM495.8 635.6h.8v.8h-.8zM482.2 634.2h.8v.8h-.8zM479 635.2h.8v.8h-.8zM450.5 635.3h.8v.8h-.8zM448.6 635.2h.8v.8h-.8zM467.9 634.6h.8v.8h-.8zM448.3 633.1h.8v.8h-.8zM495.7 634.8h.8v.8h-.8zM465.4 633.7h.8v.8h-.8zM443.1 634.1h.8v.8h-.8zM484.4 634.9h.8v.8h-.8zM483.2 634.5h.8v.8h-.8zM463.2 634.8h.8v.8h-.8zM462.1 634.9h.8v.8h-.8zM448.2 633.5h.8v.8h-.8zM479 633.1h.8v.8h-.8zM462.8 633.5h.8v.8h-.8zM474.6 634h.8v.8h-.8zM450.7 635h.8v.8h-.8zM448.2 634.3h.8v.8h-.8zM497.4 635.4h.8v.8h-.8zM460.8 634.3h.8v.8h-.8zM471.6 632.9h.8v.8h-.8zM459.1 635.3h.8v.8h-.8zM446.1 633.9h.8v.8h-.8zM456.6 635.6h.8v.8h-.8zM484.4 634.7h.8v.8h-.8zM482.1 634.4h.8v.8h-.8zM453.3 634.3h.8v.8h-.8zM454.9 635.2h.8v.8h-.8zM452 635h.8v.8h-.8zM441.1 634.6h.8v.8h-.8zM446.1 634.1h.8v.8h-.8zM461.9 634.6h.8v.8h-.8zM442.4 634.2h.8v.8h-.8zM478.5 636h.8v.8h-.8zM458.6 634.9h.8v.8h-.8zM497.6 634.7h.8v.8h-.8zM440.7 634.2h.8v.8h-.8zM447.1 635.5h.8v.8h-.8zM442.9 634.7h.8v.8h-.8zM489.6 634.2h.8v.8h-.8zM462 634.2h.8v.8h-.8zM459.1 635h.8v.8h-.8zM481.3 633.9h.8v.8h-.8zM443.2 634.3h.8v.8h-.8zM474.8 634.7h.8v.8h-.8zM467.7 634.2h.8v.8h-.8zM470.4 634h.8v.8h-.8zM465.8 634.6h.8v.8h-.8zM445.8 634.3h.8v.8h-.8zM463.5 635h.8v.8h-.8zM463.2 634.9h.8v.8h-.8zM491 635.3h.8v.8h-.8zM458.6 635.4h.8v.8h-.8zM492.1 635.2h.8v.8h-.8zM456.7 634.3h.8v.8h-.8zM461.5 634.9h.8v.8h-.8zM458.1 634.6h.8v.8h-.8zM446.8 634.8h.8v.8h-.8zM460.9 635.6h.8v.8h-.8zM486.9 633.7h.8v.8h-.8zM491.3 633.1h.8v.8h-.8zM489.8 635.2h.8v.8h-.8zM450.3 634.4h.8v.8h-.8zM453.7 633.5h.8v.8h-.8zM494.3 634.7h.8v.8h-.8zM460.9 634.3h.8v.8h-.8zM458.6 635.2h.8v.8h-.8zM450.9 634.4h.8v.8h-.8zM460.5 634.4h.8v.8h-.8zM470.6 634.5h.8v.8h-.8zM451.5 634h.8v.8h-.8zM453.5 632.9h.8v.8h-.8zM470 634.5h.8v.8h-.8zM494.3 634.5h.8v.8h-.8zM445.7 635.5h.8v.8h-.8zM458.3 633.6h.8v.8h-.8zM466.9 635.1h.8v.8h-.8zM441.2 633.3h.8v.8h-.8zM446.4 635.4h.8v.8h-.8zM483.5 634.5h.8v.8h-.8zM491.4 635.5h.8v.8h-.8zM457.2 634.1h.8v.8h-.8zM443.4 634.8h.8v.8h-.8zM459.5 634.3h.8v.8h-.8zM485.2 634.2h.8v.8h-.8zM490.1 635.5h.8v.8h-.8zM450.8 635.6h.8v.8h-.8zM442.3 635.5h.8v.8h-.8zM459.7 635.4h.8v.8h-.8zM484.8 634.7h.8v.8h-.8zM466.2 635.2h.8v.8h-.8zM481.3 634.6h.8v.8h-.8zM440.1 635.5h.8v.8h-.8zM478.8 634.5h.8v.8h-.8zM450.8 634.6h.8v.8h-.8zM486.6 633.8h.8v.8h-.8zM446.7 634.1h.8v.8h-.8zM452.5 634.4h.8v.8h-.8zM468.7 634.1h.8v.8h-.8zM455.4 635.2h.8v.8h-.8zM482.3 634.6h.8v.8h-.8zM483 633.9h.8v.8h-.8zM484.1 634.7h.8v.8h-.8zM473.4 633h.8v.8h-.8zM457.6 634.3h.8v.8h-.8zM492.3 634.3h.8v.8h-.8zM472.2 635.3h.8v.8h-.8zM446.3 634h.8v.8h-.8zM442.7 634.7h.8v.8h-.8zM449 633.7h.8v.8h-.8zM496.9 634.1h.8v.8h-.8zM442.4 635.6h.8v.8h-.8zM481.6 634.6h.8v.8h-.8zM490.3 635h.8v.8h-.8zM459.8 634.6h.8v.8h-.8zM459.7 634.5h.8v.8h-.8zM442.8 634.6h.8v.8h-.8zM457.3 633.5h.8v.8h-.8zM465.5 634.4h.8v.8h-.8zM458 632.5h.8v.8h-.8zM489.1 635.1h.8v.8h-.8zM485.8 633.3h.8v.8h-.8zM459 634h.8v.8h-.8zM462.2 635.2h.8v.8h-.8zM483.4 634.2h.8v.8h-.8zM492.9 633h.8v.8h-.8zM470.3 634h.8v.8h-.8zM457.1 635.1h.8v.8h-.8zM489.7 634.5h.8v.8h-.8zM497 633.7h.8v.8h-.8zM494 634.3h.8v.8h-.8zM482.2 633.4h.8v.8h-.8zM477.9 635.8h.8v.8h-.8zM470.5 635h.8v.8h-.8zM459.8 635.6h.8v.8h-.8zM467.7 634.8h.8v.8h-.8zM443.1 635.2h.8v.8h-.8zM464.8 634h.8v.8h-.8zM480.4 635.6h.8v.8h-.8zM477.9 635.2h.8v.8h-.8zM477.9 634.3h.8v.8h-.8zM495.2 634.9h.8v.8h-.8zM450.8 635.1h.8v.8h-.8zM488.8 634.4h.8v.8h-.8zM450.8 635h.8v.8h-.8zM464.5 635.7h.8v.8h-.8zM447.2 635.5h.8v.8h-.8zM465.6 635.1h.8v.8h-.8zM482.4 635.2h.8v.8h-.8zM451.9 634.8h.8v.8h-.8zM442.5 634.7h.8v.8h-.8zM442.6 634.1h.8v.8h-.8zM482 634h.8v.8h-.8zM491.5 635h.8v.8h-.8zM458.5 634.5h.8v.8h-.8zM472.9 634.9h.8v.8h-.8zM494.1 635.8h.8v.8h-.8zM492 635.5h.8v.8h-.8zM484 634.7h.8v.8h-.8zM489 635h.8v.8h-.8zM492.8 634.1h.8v.8h-.8zM458.9 634.1h.8v.8h-.8zM470.4 635h.8v.8h-.8zM468 635h.8v.8h-.8zM459.6 634.8h.8v.8h-.8zM454.8 634.2h.8v.8h-.8zM455.2 635.7h.8v.8h-.8zM466.2 635.1h.8v.8h-.8zM469.1 633.6h.8v.8h-.8zM466.3 634.2h.8v.8h-.8zM464.8 634.6h.8v.8h-.8zM465.7 634.7h.8v.8h-.8zM466.2 634.9h.8v.8h-.8zM456.3 635.2h.8v.8h-.8zM455.3 634.3h.8v.8h-.8zM459.8 635.2h.8v.8h-.8zM462.5 634.7h.8v.8h-.8zM461.1 635.2h.8v.8h-.8zM457.4 635.1h.8v.8h-.8zM461.5 635.1h.8v.8h-.8zM465.5 634.7h.8v.8h-.8zM463.9 634.8h.8v.8h-.8zM454.9 634.7h.8v.8h-.8zM460.6 634.2h.8v.8h-.8zM462.1 634.4h.8v.8h-.8zM457 635h.8v.8h-.8zM465.9 634.7h.8v.8h-.8zM468.3 635.6h.8v.8h-.8zM462.6 634.9h.8v.8h-.8zM453.3 634.2h.8v.8h-.8zM461 635h.8v.8h-.8zM456.3 634.9h.8v.8h-.8zM461.7 635.1h.8v.8h-.8zM454.6 635h.8v.8h-.8zM456.9 635.2h.8v.8h-.8zM461.4 634.9h.8v.8h-.8zM464 634.7h.8v.8h-.8zM463.3 634.3h.8v.8h-.8zM458.3 634h.8v.8h-.8zM467.2 636.1h.8v.8h-.8zM463.1 634.9h.8v.8h-.8zM473 635.1h.8v.8h-.8zM453.7 634.2h.8v.8h-.8zM467.4 635h.8v.8h-.8zM461.7 634.9h.8v.8h-.8zM455.8 635.3h.8v.8h-.8zM468.2 636.1h.8v.8h-.8zM461.5 636h.8v.8h-.8zM469.9 634.2h.8v.8h-.8zM464.6 635.5h.8v.8h-.8zM453.5 634.6h.8v.8h-.8zM458.1 635.1h.8v.8h-.8zM472.6 635.2h.8v.8h-.8zM471.6 635.1h.8v.8h-.8zM469.4 634.7h.8v.8h-.8zM469.4 635.6h.8v.8h-.8zM466.2 634.9h.8v.8h-.8zM461.6 635.7h.8v.8h-.8zM458.2 635.2h.8v.8h-.8zM460 633.9h.8v.8h-.8zM473.4 635.2h.8v.8h-.8zM461 635.5h.8v.8h-.8zM468.1 635.4h.8v.8h-.8zM470.2 634.7h.8v.8h-.8zM459.6 634.9h.8v.8h-.8zM464.8 635.2h.8v.8h-.8zM465 635.5h.8v.8h-.8zM453.8 636.2h.8v.8h-.8zM464.1 634.9h.8v.8h-.8zM463 634.5h.8v.8h-.8zM466.3 633.8h.8v.8h-.8zM473.3 635.9h.8v.8h-.8zM473.3 634.7h.8v.8h-.8zM460.1 634.7h.8v.8h-.8zM465.9 634.7h.8v.8h-.8zM464.8 634.7h.8v.8h-.8zM456.7 634.9h.8v.8h-.8zM469.5 634.7h.8v.8h-.8zM453.4 635.8h.8v.8h-.8zM472.5 634.4h.8v.8h-.8zM472.6 634.5h.8v.8h-.8zM469.7 635.2h.8v.8h-.8zM466.3 634.9h.8v.8h-.8zM467.3 634.9h.8v.8h-.8zM464.9 636.4h.8v.8h-.8zM458.4 634.5h.8v.8h-.8zM468.2 634.6h.8v.8h-.8zM468.4 635.4h.8v.8h-.8zM467.9 634.5h.8v.8h-.8zM456 634.3h.8v.8h-.8zM455.9 634.7h.8v.8h-.8zM465.3 635h.8v.8h-.8zM471.6 635.4h.8v.8h-.8zM465.8 635.5h.8v.8h-.8zM457.1 635.4h.8v.8h-.8zM472.5 635.5h.8v.8h-.8zM456.5 635.1h.8v.8h-.8zM470.5 635h.8v.8h-.8zM462.1 634.9h.8v.8h-.8zM467 634.3h.8v.8h-.8zM458.2 634.8h.8v.8h-.8zM465.6 634.9h.8v.8h-.8zM457.5 635.3h.8v.8h-.8zM463.6 635h.8v.8h-.8zM457.1 635.2h.8v.8h-.8zM460.3 634.8h.8v.8h-.8zM472.7 635h.8v.8h-.8zM473.1 635.1h.8v.8h-.8zM464.7 634.7h.8v.8h-.8zM453.7 635.2h.8v.8h-.8zM456.8 635.4h.8v.8h-.8zM462.7 634.9h.8v.8h-.8zM471.3 634.7h.8v.8h-.8zM454 634.4h.8v.8h-.8zM469.6 635.4h.8v.8h-.8zM459.2 635h.8v.8h-.8zM471.1 635h.8v.8h-.8zM459.9 635h.8v.8h-.8zM461.2 634.8h.8v.8h-.8zM460.5 635.3h.8v.8h-.8zM462.7 636.2h.8v.8h-.8zM464.1 635.4h.8v.8h-.8zM455.2 635.4h.8v.8h-.8zM470.3 634.4h.8v.8h-.8zM469.5 636.2h.8v.8h-.8zM466.1 635h.8v.8h-.8zM464.1 635.2h.8v.8h-.8zM465.4 633.4h.8v.8h-.8zM463.5 634.7h.8v.8h-.8zM468.6 635.1h.8v.8h-.8zM466.6 635.1h.8v.8h-.8zM453.8 634.6h.8v.8h-.8zM466.1 634.4h.8v.8h-.8zM458 634.8h.8v.8h-.8zM472.7 635.5h.8v.8h-.8zM465.3 634.9h.8v.8h-.8zM469.7 635.1h.8v.8h-.8zM468.6 635.3h.8v.8h-.8zM458.2 634.3h.8v.8h-.8zM473.4 634.4h.8v.8h-.8zM453.7 634.4h.8v.8h-.8zM467.5 634.9h.8v.8h-.8zM468 635.6h.8v.8h-.8zM471.8 635h.8v.8h-.8zM463.1 634.2h.8v.8h-.8zM461.3 634.6h.8v.8h-.8zM459.7 635.1h.8v.8h-.8zM466 634h.8v.8h-.8zM461.9 635h.8v.8h-.8zM454.2 634.4h.8v.8h-.8zM453.8 634.3h.8v.8h-.8zM463.6 634.8h.8v.8h-.8zM471.6 635.6h.8v.8h-.8zM472.4 635.6h.8v.8h-.8zM455 634.3h.8v.8h-.8zM453.2 634.6h.8v.8h-.8zM455.2 634.7h.8v.8h-.8zM466.1 635.2h.8v.8h-.8zM456.4 635.5h.8v.8h-.8zM462.3 634.2h.8v.8h-.8zM461 634.1h.8v.8h-.8zM456.8 634.3h.8v.8h-.8zM464 634.5h.8v.8h-.8zM459.7 634.7h.8v.8h-.8zM457.3 634.7h.8v.8h-.8zM460.2 634.6h.8v.8h-.8zM464.5 635.4h.8v.8h-.8zM470.7 635.2h.8v.8h-.8zM462.7 634.8h.8v.8h-.8zM466.5 636.5h.8v.8h-.8zM470.3 634.8h.8v.8h-.8zM457.8 634h.8v.8h-.8zM460.4 635h.8v.8h-.8zM459.9 634.4h.8v.8h-.8zM461.6 635.4h.8v.8h-.8zM459.1 635h.8v.8h-.8zM456.8 635.9h.8v.8h-.8zM454.6 634.4h.8v.8h-.8zM470.8 634.8h.8v.8h-.8zM468.3 634.3h.8v.8h-.8zM467.9 634.3h.8v.8h-.8zM471.1 635.2h.8v.8h-.8zM462.4 635h.8v.8h-.8zM466.5 634.8h.8v.8h-.8zM470.5 634.5h.8v.8h-.8zM470 634.4h.8v.8h-.8zM469.5 634.8h.8v.8h-.8zM455.9 635.4h.8v.8h-.8zM467.6 635h.8v.8h-.8zM469.4 635h.8v.8h-.8zM461.6 635.1h.8v.8h-.8zM453.7 634.6h.8v.8h-.8zM462.3 635h.8v.8h-.8zM463.9 635h.8v.8h-.8zM471.7 634.9h.8v.8h-.8zM459.9 634.8h.8v.8h-.8zM456.7 633.9h.8v.8h-.8zM459.1 634.4h.8v.8h-.8zM467.3 634.2h.8v.8h-.8zM461.3 634.9h.8v.8h-.8zM464.3 634.2h.8v.8h-.8zM460.2 635.1h.8v.8h-.8zM464.4 635.2h.8v.8h-.8zM460.2 635.1h.8v.8h-.8zM472.5 634.5h.8v.8h-.8zM461.5 634.6h.8v.8h-.8zM474 635.1h.8v.8h-.8zM468.9 634.9h.8v.8h-.8zM470.9 634.7h.8v.8h-.8zM463.6 635.4h.8v.8h-.8zM455.5 635.2h.8v.8h-.8zM472 635.8h.8v.8h-.8zM463.1 635.2h.8v.8h-.8zM461.1 635.4h.8v.8h-.8zM470.5 633.4h.8v.8h-.8zM455.4 634.6h.8v.8h-.8zM471.6 634.5h.8v.8h-.8zM457.3 634.2h.8v.8h-.8zM459.1 634.5h.8v.8h-.8zM460.3 635.4h.8v.8h-.8zM459.7 635.6h.8v.8h-.8zM469.5 635.5h.8v.8h-.8zM470.4 636.4h.8v.8h-.8zM467.5 636h.8v.8h-.8zM460 633.5h.8v.8h-.8zM457.6 634.9h.8v.8h-.8zM472.2 634.5h.8v.8h-.8zM468 635.3h.8v.8h-.8zM469.3 634.1h.8v.8h-.8zM469.3 634.4h.8v.8h-.8zM470.6 634.5h.8v.8h-.8zM453.4 634.9h.8v.8h-.8zM471.4 635h.8v.8h-.8zM459.7 635.3h.8v.8h-.8zM467 635h.8v.8h-.8zM464.3 634.7h.8v.8h-.8zM470 633.9h.8v.8h-.8zM472.1 635.5h.8v.8h-.8zM454 635.5h.8v.8h-.8zM462.8 635.6h.8v.8h-.8zM472.6 635.7h.8v.8h-.8zM462.2 634.3h.8v.8h-.8zM472.3 634.5h.8v.8h-.8zM461.8 635.6h.8v.8h-.8zM457.1 634.5h.8v.8h-.8zM467.3 634.5h.8v.8h-.8zM468 635.9h.8v.8h-.8zM464.4 636.4h.8v.8h-.8zM463.5 634.8h.8v.8h-.8zM463.2 635.5h.8v.8h-.8zM465.2 635h.8v.8h-.8zM469.8 634.7h.8v.8h-.8zM467.5 635h.8v.8h-.8zM463.6 634.6h.8v.8h-.8zM460 635h.8v.8h-.8zM453.9 634h.8v.8h-.8zM463.1 635.5h.8v.8h-.8zM472.5 635.1h.8v.8h-.8zM467.7 634.1h.8v.8h-.8zM462.1 634.9h.8v.8h-.8zM463.6 634.9h.8v.8h-.8zM467 634.2h.8v.8h-.8zM462.4 634.5h.8v.8h-.8zM456.9 634.8h.8v.8h-.8zM461.6 634.1h.8v.8h-.8zM470.6 635.3h.8v.8h-.8zM465.9 635.2h.8v.8h-.8zM465.4 635h.8v.8h-.8zM467 635h.8v.8h-.8zM464.9 635.1h.8v.8h-.8zM454.3 635h.8v.8h-.8zM469.3 633.7h.8v.8h-.8zM469.8 634.5h.8v.8h-.8zM471.1 634.9h.8v.8h-.8zM472.4 635.7h.8v.8h-.8zM458.9 634.3h.8v.8h-.8zM456.8 635.1h.8v.8h-.8zM457.9 635.4h.8v.8h-.8zM456.7 634.9h.8v.8h-.8zM466.4 635h.8v.8h-.8zM469.1 634.9h.8v.8h-.8zM467.7 634.7h.8v.8h-.8zM469 635.6h.8v.8h-.8zM471.5 635.4h.8v.8h-.8zM456.7 634.7h.8v.8h-.8zM455.2 635h.8v.8h-.8zM457.4 634.1h.8v.8h-.8zM467.5 635h.8v.8h-.8zM459.3 634.5h.8v.8h-.8zM455.2 634h.8v.8h-.8zM466.7 635.6h.8v.8h-.8zM469.8 634h.8v.8h-.8zM464.8 634.2h.8v.8h-.8zM471.8 635.6h.8v.8h-.8zM468.5 634.8h.8v.8h-.8zM462.8 635.4h.8v.8h-.8zM460.4 636.3h.8v.8h-.8zM465 635.2h.8v.8h-.8zM463.3 635.7h.8v.8h-.8zM468.3 634.2h.8v.8h-.8zM460 634.5h.8v.8h-.8zM472.5 634.9h.8v.8h-.8zM470.2 634.8h.8v.8h-.8zM464 634.9h.8v.8h-.8zM473.1 635.3h.8v.8h-.8zM472 635h.8v.8h-.8zM470.1 635.6h.8v.8h-.8zM471.4 634.4h.8v.8h-.8zM457.6 635h.8v.8h-.8zM460.8 634.7h.8v.8h-.8zM472.4 635.3h.8v.8h-.8zM464.4 634.7h.8v.8h-.8zM458.7 634.9h.8v.8h-.8zM464.9 635h.8v.8h-.8zM459 634.8h.8v.8h-.8zM455.3 634.4h.8v.8h-.8zM472.9 634.8h.8v.8h-.8zM459.4 635.1h.8v.8h-.8zM461.4 634.8h.8v.8h-.8zM457.6 635.2h.8v.8h-.8zM470.2 635.4h.8v.8h-.8zM462 635.3h.8v.8h-.8zM457.1 635.1h.8v.8h-.8zM467.6 634.9h.8v.8h-.8zM472.8 634.7h.8v.8h-.8zM462.2 635.8h.8v.8h-.8zM470.4 635.1h.8v.8h-.8zM497 610.9h.8v.8h-.8zM442.9 621.7h.8v.8h-.8zM464.8 597.7h.8v.8h-.8zM477.2 617.8h.8v.8h-.8zM461.5 612.6h.8v.8h-.8zM439.4 623.7h.8v.8h-.8zM459.1 641.5h.8v.8h-.8zM448.5 618.3h.8v.8h-.8zM460.2 611.8h.8v.8h-.8zM494.2 595.3h.8v.8h-.8zM487.4 601.9h.8v.8h-.8zM457.7 631.8h.8v.8h-.8zM479.5 637.5h.8v.8h-.8zM476 636.4h.8v.8h-.8zM477.2 597.6h.8v.8h-.8zM469.4 593.8h.8v.8h-.8zM488.9 627.1h.8v.8h-.8zM467.7 612h.8v.8h-.8zM463.8 630.7h.8v.8h-.8zM439.3 634.9h.8v.8h-.8z" fill="#000" fill-opacity="0.7"/>
<ellipse cx="434.55" cy="635.65" rx="1.05" ry="1.65" fill="#111"/>
<rect x="453.2" y="593.9" width="17.4" height="39.5" fill="none" stroke="#505050" stroke-width="0.9"/>
<rect x="453.2" y="633.4" width="19.3" height="8.7" fill="none" stroke="#505050" stroke-width="0.9"/>
<rect x="470.6" y="593.9" width="6.3" height="39.5" fill="none" stroke="#505050" stroke-width="0.9"/>
<rect x="476.9" y="593.9" width="15.4" height="26.6" fill="none" stroke="#505050" stroke-width="0.9"/>
<rect x="476.9" y="621.4" width="15.4" height="11.6" fill="none" stroke="#505050" stroke-width="0.9"/>
<text x="439.6" y="592.6" font-size="4.9" fill="#444" stroke="none" text-anchor="middle">S1</text>
<text x="468.4" y="585.2" font-size="4.9" fill="#444" stroke="none" text-anchor="middle">S2</text>
<text x="497.3" y="592.4" font-size="4.9" fill="#444" stroke="none" text-anchor="middle">S3</text>
<text x="508.2" y="624.6" font-size="4.9" fill="#444" stroke="none" text-anchor="middle">S4</text>
<text x="439.9" y="650" font-size="4.9" fill="#444" stroke="none" text-anchor="middle">S0</text>
<path d="M433.8 584.9h2.2M433.8 602.8h2.2M433.8 623.1h2.2M433.8 635.5h2.2M433.8 648.1h2.2M434.9 597.41h1.1M434.9 594.26h1.1M434.9 592.02h1.1M434.9 590.29h1.1M434.9 588.87h1.1M434.9 587.67h1.1M434.9 586.63h1.1M434.9 585.72h1.1M434.9 616.99h1.1M434.9 613.41h1.1M434.9 610.88h1.1M434.9 608.91h1.1M434.9 607.3h1.1M434.9 605.94h1.1M434.9 604.77h1.1M434.9 603.73h1.1M434.9 627.8h1.1M434.9 630.3h1.1M434.9 632.8h1.1M434.9 638.1h1.1M434.9 640.6h1.1M434.9 643.1h1.1M434.9 645.6h1.1M434.9 650.8h1.1M434.9 652.8h1.1M443.9 653.2v2.2M461 653.2v2.2M478.7 653.2v2.2M496.2 653.2v2.2M449.05 653.2v1.1M452.06 653.2v1.1M454.2 653.2v1.1M455.85 653.2v1.1M457.21 653.2v1.1M458.35 653.2v1.1M459.34 653.2v1.1M460.22 653.2v1.1M466.15 653.2v1.1M469.16 653.2v1.1M471.3 653.2v1.1M472.95 653.2v1.1M474.31 653.2v1.1M475.45 653.2v1.1M476.44 653.2v1.1M477.32 653.2v1.1M483.85 653.2v1.1M486.86 653.2v1.1M489 653.2v1.1M490.65 653.2v1.1M492.01 653.2v1.1M493.15 653.2v1.1M494.14 653.2v1.1M495.02 653.2v1.1M501.35 653.2v1.1M504.36 653.2v1.1M506.5 653.2v1.1M508.15 653.2v1.1M509.51 653.2v1.1M510.65 653.2v1.1M437.1 653.2v1.1M438.75 653.2v1.1M440.11 653.2v1.1M441.25 653.2v1.1M442.24 653.2v1.1M443.12 653.2v1.1" stroke="#333" stroke-width="0.8" fill="none"/>
<text x="430.7" y="589.1" font-size="8.2" text-anchor="end" fill="#1a1a1a">10<tspan font-size="6.6" dy="-2.6">5</tspan></text>
<text x="430.7" y="607" font-size="8.2" text-anchor="end" fill="#1a1a1a">10<tspan font-size="6.6" dy="-2.6">4</tspan></text>
<text x="430.7" y="627.3" font-size="8.2" text-anchor="end" fill="#1a1a1a">10<tspan font-size="6.6" dy="-2.6">3</tspan></text>
<text x="430.7" y="639.7" font-size="8.2" text-anchor="end" fill="#1a1a1a">0</text>
<text x="430.7" y="652.3" font-size="8.2" text-anchor="end" fill="#1a1a1a">-10<tspan font-size="6.6" dy="-2.6">3</tspan></text>
<text x="445.1" y="665.6" font-size="8.2" text-anchor="middle" fill="#1a1a1a">10<tspan font-size="5.8" dy="-2.8">1</tspan></text>
<text x="462.2" y="665.6" font-size="8.2" text-anchor="middle" fill="#1a1a1a">10<tspan font-size="5.8" dy="-2.8">2</tspan></text>
<text x="479.9" y="665.6" font-size="8.2" text-anchor="middle" fill="#1a1a1a">10<tspan font-size="5.8" dy="-2.8">3</tspan></text>
<text x="497.4" y="665.6" font-size="8.2" text-anchor="middle" fill="#1a1a1a">10<tspan font-size="5.8" dy="-2.8">4</tspan></text>
<text x="411" y="615" font-size="10" text-anchor="middle" fill="#333" stroke="none" transform="rotate(-90 411 615)" textLength="28" lengthAdjust="spacingAndGlyphs">+4-OHT</text>
<path d="M412.1 671V640.5M412.1 671H451.5" stroke="#111" stroke-width="1.1" fill="none"/>
<path d="M412.1 636.8l-3.1 6.5l3.1-1.6l3.1 1.6z" fill="#111"/>
<path d="M454.4 671l-6.5-3.1l1.6 3.1l-1.6 3.1z" fill="#111"/>
<text x="403" y="657" font-size="9" text-anchor="middle" fill="#1a1a1a" transform="rotate(-90 403 657)" textLength="17.7" lengthAdjust="spacingAndGlyphs">CD71</text>
<text x="430.8" y="686.4" font-size="9" text-anchor="middle" fill="#1a1a1a" textLength="23.2" lengthAdjust="spacingAndGlyphs">Ter119</text>
<rect x="0.7" y="0.7" width="518.6" height="694.6" fill="none" stroke="#0a0a0a" stroke-width="1.4"/>
</svg>
</body></html>
